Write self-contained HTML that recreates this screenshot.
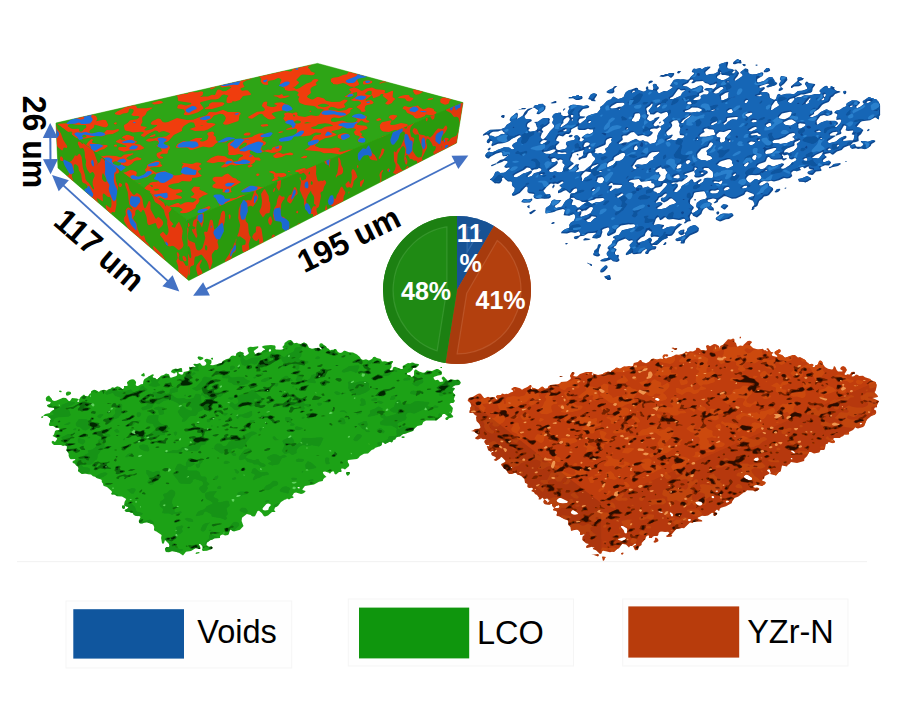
<!DOCTYPE html>
<html><head><meta charset="utf-8"><title>Figure</title>
<style>
html,body{margin:0;padding:0;background:#fff;}
body{width:900px;height:720px;overflow:hidden;font-family:"Liberation Sans",sans-serif;}
svg{display:block}
text{font-family:"Liberation Sans",sans-serif;}
</style></head><body>
<svg width="900" height="720" viewBox="0 0 900 720">
<defs>
<filter id="soft" x="-5%" y="-5%" width="110%" height="110%"><feGaussianBlur stdDeviation="0.7"/></filter>
<clipPath id="cf1"><polygon points="56.0,123.0 317.5,63.4 463.0,102.6 187.0,220.0"/></clipPath>
<clipPath id="cf2"><polygon points="56.0,123.0 187.0,220.0 188.8,280.5 58.0,168.0"/></clipPath>
<clipPath id="cf3"><polygon points="187.0,220.0 463.0,102.6 456.5,143.0 188.8,280.5"/></clipPath>
<clipPath id="co"><path d="M740 338.4L739.5 338L740 336.5L741 337L741 338ZM600 554.1L596 550.3L592.8 549L593.2 548L594.6 547L593.5 547L593 547.6L592 546.7L587 548L586 547.4L586.3 546L589 544L586 543.2L582.3 540L582.5 537L583 536L584.7 535L584.1 534L581 535L580 534.5L580 532L578.2 530L577 529.6L571 530.8L570.5 527L568.4 525L568.1 521L567.4 520L565 519.4L559 516.2L557 515.9L556.3 515L556.9 514L557.1 512L556 510.9L552.8 510L554 508.4L558.5 508L559.7 507L559 505.1L556 506L555 507.4L554 507.8L552.2 506L552 504L551 503.7L550 504.7L548 504.8L545 504.2L543.6 503L543.4 501L545 499.4L545.1 500L547.6 502L547 503.2L550 500.5L550.4 500L550 499.7L549 500.9L548.1 499L547 498.6L545 498.9L544 499.7L543 498L542 497.8L541 499.2L539 499.6L538.4 499L539.2 498L537 495L535 494L534 492.2L531.2 491L533.2 489L532 487.8L529 487.9L527.4 487L527.5 484L525 482.8L524.4 479L521.2 476L519.1 475L517.8 475L516 473L515 472.7L512 474.1L509.3 474L507.9 473L506.4 470L504 468.5L501.2 465L501.2 464L505 462.1L505.7 461L502 457.2L501 456.9L500 458.6L496 461L493.6 460L496.3 458L495 456.7L492 455.4L491.2 454L491.3 453L492 452.1L493.2 452L493.4 451L492 451L491 452L488.1 450L486.8 446L489 446.3L489.4 445L486 444.7L484.2 442L485 440.1L486.6 439L483 439.2L481 438.2L478 439.6L475.8 439L475 438L478.6 435L474 431.4L471 431L473 430.6L475 429L479 428.8L480.2 428L480.5 427L479.4 424L476.5 421L476 417L477 416L474.9 415L473 412.8L469.5 413L469.4 411L470.5 409L470.1 408L471.4 406L470.3 403L467.9 401L467.7 400L469 397.9L473 396.7L478 393.8L480 393.5L481 393.9L484 397.9L485 398.1L488 396.8L490 397.5L493 397.2L495 397.5L495.4 399L497 399.4L497.6 399L497.1 398L495.8 397L497 395.3L501 395L502 393.4L505 394.2L506 393.8L508 394.1L511 392.2L512.5 392L513.4 391L511 389L514 387.1L515.6 387L520 388.2L522 389.8L524 388.4L527.4 387L530 385L531 385L531.6 386L531.6 387L530.6 388L532 389.8L532 387.5L538 389.5L542 386.5L545 388.5L546 388.6L547.6 388L548.6 386L550.6 385L558 384.3L560.7 383L560.6 382L567 381.5L570.5 379L570.9 378L569.9 376L571.4 373L572.7 372L574 372.2L574.7 373L573.2 376L576 376.5L577 376.5L580 374L586 372L592 371.9L592.7 373L591.5 374L593 375.6L593.4 375L592.7 374L593 373.4L598 374.9L603 374.1L604.1 373L608 371.6L611 372.1L611 371L614 369.6L616 367.8L617 367.6L620 368.7L624 366.4L626 366.7L629 366.1L632 366.4L633 365.8L633.8 363L637.8 362L640 360.1L641.1 360L642.3 362L646 363.2L649 361.8L651 359.6L653 358.5L657 359.6L660 358.8L663 359.1L662.7 356L664 354.5L667 354.2L668.4 355L667 357.3L666 356.1L665 356.1L664.1 357L664.2 358L666 358.8L668 357.5L671.2 357L676 354.6L679 354.9L682 354.1L684 353.3L686 351.6L688 352.3L690 351.2L693 351.6L695.8 350L696.3 348L697 347.7L699 348L701 350L706 350.5L707 350L705.9 346L707 345.2L708 345.1L710 346.3L714 344.1L716 344.2L718.9 346L719.6 348L719 349L720.3 348L720.2 346L723 344.7L728 339.2L731 339.5L733 338.4L734.3 339L734.6 342L736 343.1L737 346.4L738 346.6L740 345.6L743.2 346L743.4 345L747.7 341L750 340.7L752.2 342L749.7 345L752.8 348L758 349.6L763 348.8L764 350.2L766 350.3L767 351.4L767.8 351L767.5 350L766.1 349L768 348L771 352.1L773 352.3L773.4 353L771.7 354L772 355.4L773 356.1L777.1 357L777.7 356L774.8 354L774.3 352L779 349.3L780 349.4L780.6 350L780.4 352L778.1 354L782 355.1L785 357.8L792.6 355L795 355.1L798 357.5L800 357L805 359.8L807 362.2L808.6 363L809 364.3L812 363.7L813.7 365L812.2 367L813 367.3L814.5 367L815.7 365L817.2 365L818 364L819 361L820 360.5L821 360.8L822.4 362L822.8 364L825 367.1L828 368.7L832 369.4L833 369L834 366.1L835.4 367L836.6 370L838 371.4L842 371.5L842.9 371L840.1 369L841 367.1L843.1 366L845.3 367L847 370L844.5 374L845 374.8L846 374.9L848 374.1L849 374.8L850.3 374L851.4 372L854 371.8L854.7 372L855 373.4L853 374.1L851.6 376L852 376.4L854 376.2L856 374.6L858 375L859 376L863 375.8L865 377.3L870.5 379L871 380.4L875.7 382L876.6 385L876.5 387L875.5 391L874.6 392L875 393.1L877.8 396L877.7 397L872.4 398L879 401L877 405L877 407.2L875 407.4L874 409L874.6 410L876 410.5L876.2 413L875 414.6L871 416.3L866.5 420L864.2 426L863 426.9L858 428.6L856.2 428L855 427L854.8 428L853 430.1L849 431.9L849 434.3L844 434.7L843.3 436L840.9 437L840 438L834 438.1L833.2 439L833.4 440L834.9 441L835 442.1L833 443.2L828.6 442L827.4 444L825.9 444L824.8 449L824 449.9L821 450L820 450.6L819.7 452L819 452.4L814 453.6L811 452L809.2 452L807.1 456L804.1 459L804.4 460L804 461L797 462.9L791 462L789.4 464L787.7 465L787 466.6L782 465.5L780.8 471L780 472.1L779 472L776 475.6L770.2 474L770.8 472L770 471.3L770 470L769 469.3L767 469.9L767.4 471L769.8 473L768.9 474L764.8 476L764 478.7L761.9 480L763 481.3L765.5 482L765.6 483L765.1 484L762 486L757 484.9L755 485L753.4 486L753.6 487L755 487.8L757 487.5L758.7 488L759.4 489L758 490.2L755 491.4L753 490.6L747 490.3L745 492.2L744 492.2L738 496.7L735 497.8L733.7 499L731.9 502L731.9 503L731 503.6L726 506.2L721 507.8L719.5 509L719.6 510L719 510.9L717 509.5L716 510.3L714.7 512L717 513L717.2 514L715 516.1L714 516.1L713.4 515L713.6 513L712 512.8L708 515.5L705 516L702 515.7L698 517.4L697.5 518L699 519.2L701.5 520L702.4 521L702 521.6L694 521.8L693.2 522L693 523.1L690 522.4L684 528.2L682 527.9L676 529.2L672 533.9L671.3 534L672.3 536L671 536.8L667 537L665.9 536L668 534.8L669.5 533L668 531.7L665 531.9L662 531.4L660 531.8L658.6 533L658.3 535L657.4 536L654 535.9L652.4 537L652 538.1L648.9 538L649 535.8L648 535.3L646 536.8L645.4 539L641.7 543L641.6 545L638.6 547L638 550.1L635 550.2L633 546L635.8 545L636 543.9L635 543.5L632 545.9L630 545.9L629 547.6L626 544.5L623 543.9L622 544.1L619 548.2L617.3 549L614.1 552L612 551.7L610 552.3L603 550.6L601.5 552L601.8 553ZM677 349.2L675 349.9L671.4 348L673 347.4L675 348.3L677.2 348ZM673 352.1L671.2 352L672 351L673 351.5ZM563 376.1L560 376.9L559.4 376ZM658.1 401L659.7 400L659.4 399L658 398L655.8 398L655 399L655.5 400ZM862 424L861.8 423L861 422.7L860.1 423L859.5 424L860 424.5ZM693.4 440L691.9 439L692 440.3L693 440.6ZM795.3 453L793 450.4L792 450.3L790.6 451L794 453.5ZM757.3 461L758.6 460L758.8 459L758 457.4L755.1 458L753.5 460L755.8 461ZM792.5 459L792 458.1L791 458L790.7 459L792 459.4ZM512.5 468L511.9 467L510.6 467L511.3 468ZM751.5 480L752.4 479L752.3 478L748 474.9L746 474.6L744 476L743.8 477L744.5 478L746.1 479L749 480.2ZM718.2 491L717 490.4L715 491L717 492ZM714.1 498L714 496.6L713 495.9L711.9 496L711.5 497L712 497.9L713 498.3ZM566.7 503L568.1 502L567.2 501L561 498L559 497.9L556.7 500L556.5 501L558 502.5L562 503.4ZM727 503L728 501.8L729 502L729 501L727 500.5L725.9 501L725.9 502ZM701.7 505L702.5 504L702.4 503L701 501.6L699 501.2L695.3 502L695.2 503L698 505.3L700 505.8ZM578.4 514L576.6 512L573 510.1L572 510.5L570.9 512L571 513.3L573 514.6L575 514.7ZM662.4 513L662.8 512L659 511.3L658.4 512ZM673.1 516L672.9 514L671 512.6L670 512.5L669.7 513L671 515.9L672 516.5ZM690.2 521L690.9 520L690.5 519L688.5 519L687.6 520L689 521.2ZM626.8 533L627.3 530L627 528.5L623 525.9L621.1 526L620.9 527L623.6 530L624.7 533L626 533.5ZM624.3 540L625.6 539L626 538L624 537.2L617.9 539L618.6 540L622 541ZM657 542.1L655 542.8L653.3 542L654.9 540L655 537.9L656 537.6L658 539L658.5 541ZM623 554.3L622 554.8L621 554L621.2 553L623 552.5L623.6 553ZM598 556.5L594 555.1L591.2 555L598 554.1L599.1 555ZM603 561.1L602 556.8L603 556.4L606 557L605 557.7L604.4 560Z" clip-rule="evenodd"/></clipPath>
</defs>
<rect width="900" height="720" fill="#ffffff"/>
<g filter="url(#soft)"><polygon points="56.0,123.0 317.5,63.4 463.0,102.6 456.5,143.0 188.8,280.5 58.0,168.0" fill="#2fa512" stroke="#2fa512" stroke-width="0.6"/><g clip-path="url(#cf1)"><polygon points="56.0,123.0 317.5,63.4 463.0,102.6 187.0,220.0" fill="#2fa512"/><path fill-rule="evenodd" fill="#f03c0a" d="M66 72.2L62.5 72L62.3 71L63.5 70L63 69L60 67.9L59 67L58.3 65L57 64.4L52.4 65L51.6 67L50 68.1L50 59.3L55 60.8L68 57L78.2 57L72 59.3L68.4 60L66.6 61L71 61.7L73.6 63L70.7 66L70.6 68L70 69ZM144 74.2L141 74.5L138.6 74L139.6 72L139.6 70L143 67L142 66.1L136 65.4L135.2 65L135.2 63L134 62.3L126 61.9L125 61L121 60L119.6 59L122 57L130.8 57L131.2 58L132.8 59L138 59.4L143 58.3L146.1 57L150.5 57L147.9 58L151 62.8L152 63.1L155 62L153.8 60L158 59L158.5 58L155.8 57L165 57L163.7 58L163.5 59L169.6 60L169.1 61L163.9 64L162 67.5L156.6 70L150 71.6ZM205 58L202.2 58L201.1 57L206.3 57ZM344 160.1L342 160.3L341 159L343.2 157L343.3 156L339 154.3L331 152.9L324 153.2L320 151.4L304.6 150L309.3 147L310.5 145L313.5 144L312.8 143L310.4 142L310.4 141L312.4 139L313.2 137L315 135.6L321 134.2L321.1 133L316 132.6L314.3 133L310 135.6L302 136.4L298.8 136L296.4 135L295.9 134L297.2 131L296.9 129L295 128.7L286.6 130L286.1 129L291.8 127L293 123.2L298 123.4L300 122.9L301.1 122L300.2 121L297 120.3L295 120.9L292 123.7L286.9 123L283.4 119L283.4 118L284.9 116L283.9 114L285.2 113L288 112.5L293 113.5L293.2 113L296 112.3L297.5 113L297.2 115L298.6 116L305 117L311 115.2L316 115.9L319 115.6L321.2 112L323 110.6L324.9 110L321 108.8L318 108.7L316.6 108L316 107L313.9 106L305 105.1L299.9 103L299 102L298.2 99L299.4 97L297.1 95L298.6 93L298.3 92L295 90.5L289 91L284.9 90L284.7 88L282 86.8L280.2 85L280 83L281.5 80L280 78.6L278 78.1L274 80L269 80.7L267.7 82L268.3 84L268 84.7L266 85.1L263 84.2L261 82.1L260.6 81L261.3 79L259.7 77L257 76L254 76.3L251.1 79L246 80.5L243.6 82L242.9 83L243 84L244.6 87L241.4 88L240.2 89L242 90.7L246 90.2L248 90.6L251.1 94L250.4 95L243 96L239.8 100L235 101.5L232 100.9L232.7 102L232 102.6L229 103.2L227.3 103L226.4 102L226.8 98L228.3 96L228 95.5L224 94.6L222 95L219.5 98L218 99L215 99.6L211 99.4L201 102.1L199.9 103L203.7 108L202.9 109L198 112.2L193 114.1L188 115.2L184.7 115L183.6 114L185 112L184 109.4L178 108.6L177.2 108L177.7 106L178 105L181 104.2L186 105.6L191 104.2L191.4 103L178.5 101L177.7 100L178 99L177.2 96L174.6 95L174.7 94L178 92.8L187.3 94L188.3 93L187.9 92L184.1 91L184.2 90L183.5 89L183.6 88L186 87.6L192 87.8L193.3 92L194 92.3L198 92.2L201 91.3L203.2 92L202.7 95L200.1 97L201 97.1L203 96.4L208 96.5L212 94.7L215 94.9L217 90.4L218 89.6L220 89.7L223 91.3L226 91.1L230.6 88L231.4 87L229 86.5L222 87.6L220 86L218 85.7L212 89.2L210.3 89L210 88L211 85.9L218 82.5L224 81.8L228 79.9L234.5 79L242 75.1L242.9 74L242 71.8L243 71L248 69.7L249.7 68L250.4 66L250.5 65L248 62.9L245 61.4L241 61.3L234 63.5L232.3 63L230.6 61L227 60.8L221.5 62L220 63L227.6 65L226.9 67L226 67.8L221 68.1L220 65.7L217.7 64L218.8 62L217.6 59L218.9 57L255.7 57L264 59.9L268 58.8L272.7 59L272.2 60L271 60.3L264 60.1L261.8 61L262 62L263 62.4L272.9 66L270.6 69L267 70.1L263 70.4L259 71.4L249.8 72L251.1 73L255 73.4L260 72.8L264 73.5L274 70.8L282 69.9L290 71.5L291.5 71L292.4 70L291.6 68L298 66L302 63.4L310 62.5L313 61.3L315 61.2L315.9 62L308.1 67L308.1 68L309.6 69L311 71.6L315 73L314 74.7L312 75.2L303 74.4L301 75L296.2 80L298.9 82L299 83L295 86.8L292.2 87L294 87.5L296 89.2L297 89.1L299.5 88L306 83.7L311.1 82L312.7 80L314 79.3L316 78.9L318 79.4L318.7 80L315.6 83L316.8 85L312 87L310.4 89L311 93L307.2 96L307.2 97L308 97.8L311 99.3L313 99.4L317 97.1L318.9 97L324 98.6L326 100.7L332 101.9L340 101.7L344 99.4L347.2 100L347.5 101L344.1 104L344.2 105L345.3 106L345 107.2L341 108.4L338 108.7L334 107.2L331 106.7L328.1 109L329.3 110L336 110.2L339 111L346 110L348.8 108L350 107.7L353.4 108L350.2 110L350.4 112L349.6 113L345 116.1L339 118.3L335 117.5L333 117.7L330.9 119L331 121.1L332 121.8L335 122L342 120.6L348 122.6L353 122.8L355 122.2L357.6 120L357.2 119L353.6 117L356 115.2L359 114.5L366 115.7L367.2 117L366 119L366.7 120L369.4 121L369 122.2L366 122.8L363.9 122L362 120.4L361 120.5L356.8 124L357.2 125L366 125.7L367.8 128L366.6 129L361 131L359.9 132L362.2 134L361.1 136L363.5 137L363.9 138L363 141.7L362 142.6L359 142.3L357.7 141L358.1 139L359.9 137L359 136.1L355.2 135L353.8 132L355.8 130L355.8 129L353 128.2L347 128.5L343 127.3L342 127.5L340 129.3L332.1 131L331.5 132L335.9 134L336.7 135L330 137.4L325 138.3L321.2 140L319.3 141L318 142.9L315.2 145L315.2 146L320 147.9L331 148.4L336 147.6L339 147.9L340.8 149L338.3 151L340 151.8L343 151.6L349 149.7L354 149.8L360 149.1L364 149.3L364.9 150L361 152.9L355.9 154L353.7 156ZM299 58L295.6 58L296.3 57L300.8 57ZM350 66L346 66L342 64.6L341.4 64L342 63L340.2 61L340.4 60L348.1 57L362.7 57L362.9 58L362 58.9L357 58.8L354 59.9L353.4 62L354 64L353 65.1ZM416 66.1L414 66.4L406 65.5L405 65L404 62.6L399 61.8L394.4 60L394.9 57L410.3 57L413 59.6L415 60.4L428 59.2L428.9 60L428.7 62L423.7 64L423 65.2ZM454 71.2L451 71.8L446.6 71L445.3 70L449 69.4L450.9 68L449.2 66L453.1 59L454.6 58L458 57.1L468 57L468 59.2L467.4 60L468 61.4L468 63.6L465 63.6L462 61.7L456.1 63L455.2 64L458.8 66L457.4 69ZM86 65.2L83 65.9L82 65.4L81.4 64L78.7 63L77.8 62L82 61.4L87 61.6L88 61.2L88.4 60L89.6 59L92 58.5L96 58.6L98.3 60L98 62L96 63.6L94 63.8L91.8 63L90 63ZM211 64.2L207.6 64L205.5 63L205.4 62L208.3 61L212.3 61L213.3 63ZM125 87.8L121 87.1L114 83.6L109 83.4L108.1 82L111 79L111.4 76L104.4 74L101.2 71L93 70.8L91.8 70L91.2 68L92 66.8L94 65.7L107 62.9L110.2 63L107.7 66L107.4 68L110 68.7L113 68.2L113.5 69L112.7 70L112.7 71L115 74L119 71.8L122 71.6L123.7 73L123.5 75L124.8 76L128.1 77L132 81L131.8 82L127.4 85ZM126 63.4L124.4 63L126 62.2L126.7 63ZM150.1 65L149 63.9L147 64.1L145.9 65L148 66ZM356 86.2L354 86.9L350 86.4L345 83.5L343 83L337 84.5L333 84.1L332.9 83L331 81.9L330.8 79L333 77.7L338.4 77L343 75.1L347 74.3L349.1 71L357 69.5L360 67.9L362 68.4L362.1 70L363 71.3L366 72.2L368 71.8L370 70.9L373.4 67L370.2 65L373 63.6L378.3 64L380.1 67L383 68L386 67.7L389 66.4L392 66.1L398 64.4L401 64.7L401.6 65L401.1 67L398.2 69L399 70.7L402 70.7L404 71.8L404 74L411.1 72L412.2 71L413 68.9L415 67.7L423 68.7L425.8 68L429.5 65L431 64.6L432.7 65L432.9 67L431.9 72L426 76.3L422.2 78L423 80L421.2 83L416 83.2L412 82.2L410.7 81L411 80L413 78.8L419 78L420.1 77L419 76.2L414 76.6L410 75.8L405 76.3L403.7 76L402 74.4L400 74.4L397 74.8L395 76L394 77L393.4 80L392 81.5L390 82.1L383 82.4L380 83.7L379.2 83L383 81.6L386.8 78L385 75.5L384 75L376 73L368 74.6L364 76.4L359 77.6L357.2 80L359.2 84L358.7 85ZM217 79.1L215 79L213 77.8L210 73.9L209 73.7L204 75.5L201 75.5L196.3 74L194 71.9L191 71.3L189.8 70L193 67L200 65.7L202 65.7L205 67L211 67.9L217 67.6L218.8 69L222.2 73L219 74.4L218.6 75L219.5 77ZM232 70.1L230 70.3L229.4 70L229.5 69L231.5 69L232.4 70ZM73 84.2L70 84.1L68 83.4L58 81.8L53.7 83L50 84.8L50 78.1L57 78.4L62 75.9L70 75.1L73.6 74L70.1 72L70.7 71L74 69.9L76.7 70L77.6 72L81 74.6L86.4 76L82 77.5L80.4 79L79.9 80L81.2 81L81.1 82L80 82.8L76.7 83ZM168 81.2L167 81.7L165 81.4L164 79L163 78.3L159.7 78L159 76L156.9 75L156.7 74L160 72.6L164 74.3L165 74.1L166.7 73L167.2 71L168.1 70L176 69.5L176.7 70L176.4 71L177.2 73L173.1 74L169.3 76L168.8 80ZM229 74.2L224.3 74L225.1 73L228 72.5L229.5 73L229.7 74ZM468 81.8L463.7 81L464.1 80L466 79L466.2 78L465.8 77L468 74.3ZM103 82.1L101 82.9L93.8 82L94.9 81L100 80.5L103.1 81ZM369 84.1L364 84.5L363.1 84L363 82L363.8 81L366 80.5L369 80.3L372 81L372.3 82L371.8 83ZM206 85.1L201 85.7L199.2 85L201 83.9L206 82.8L207 83.1L207.5 84ZM441 92.1L438 92.7L434.6 92L433.4 91L432.6 89L441 83.4L446 82.5L447.9 83L448.6 85L448 86.6L445 89L443.5 91ZM66 93.2L65 93.3L63.1 92L66.1 88L65 87.2L62 87.8L59.7 90L58 90.8L54.4 91L55 90L58.3 88L58.6 86L60 84.9L62 84.4L68 85.4L70.4 87L74.4 88L74.7 89L74 90.2L67.8 92ZM84 86.2L78.9 86L85 84.6L85.4 85ZM140 99L133.7 99L131.8 98L131.7 97L134 96.1L138.3 96L139.4 95L138.2 93L139.2 91L141 89.9L145 89L150 85.3L153 84.6L158 85.9L164 84.4L170.8 87L169 89L167 89.8L157 88.9L149.7 91L149.4 94L148 96.2L143 97.3ZM179 88.2L175.7 88L176.8 87L178 86.9L179.1 87L179.8 88ZM419 94.3L416 94.7L414.6 94L412.9 91L414 89.1L420 86.7L423 86.9L425.6 88L425.8 89L422.9 92ZM365 111.5L363 112L361 111.6L360.6 110L356.2 107L360.6 104L361.2 103L360 101.4L358 100.8L354 100.9L350.5 100L354 98.3L356.6 96L357.2 95L357.1 92L352.1 93L353 93.4L353.9 95L352 96.2L347 97.3L344.3 97L351.5 92L349.4 90L349.2 89L354 87.2L358 88.8L361 90.7L363 90.4L367 88.3L372 87.4L376 89.2L384.2 90L385.3 91L384.4 93L385 93.2L387 92.9L392 90.8L393.2 91L392.6 97L395.4 99L393.1 101L392 103L388 104.8L385.6 104L385.4 103L387.5 101L387.8 100L382.8 96L383.5 94L381 93.9L379.4 96L374 97.9L373 97.9L372.6 96L371 95.1L370.8 96L365.2 100L366 100.7L371 99.9L373.4 102L373.5 103L372.2 104L367 105L365.3 106L364.6 109L365.8 111ZM91 94.1L89 94.6L89.5 93L88.6 91L89 90L94 88.4L97.3 89L97 91L96 92.2ZM123 91.4L122 91.2L121.9 90L124 88.8L125 88.8ZM371.7 94L371.6 91L370 90.8L368 91.1L364.7 94L367 94.8L371 95ZM456 94.5L454 94.6L453 94L452.7 93L453.3 92L455 90.9L458.8 91L459.3 92L458.6 93ZM119 99L118 98.9L117.4 98L119 96L119.7 94L122 92.7L124.3 94L125 95L123.6 97L122 98.1ZM152 98.1L150 98.6L149 98L149.6 97L152.2 96L152.6 94L154 93.1L157 93.1L162 95L162.2 96L161.5 97L160 97.7L154 97.3ZM55 104.3L53 104.6L50 103.9L50 94.4L51 93.4L52 93.1L53.3 95L58 94.2L62 94.2L70.8 97L70 98.3L66.4 101L66 102.2L62 101.8ZM285 98.1L280 98.6L277 96.7L273.1 96L275 95.2L279 95.2L282 94L283.5 96L288 95.4L290.1 96ZM410 101.5L406.9 101L405 98.6L398.1 98L398.5 97L400.8 96L405 95L408.6 95L409.8 96L409.5 97L413.2 98L413.3 99ZM107 98.1L103 98L102.7 97L107 96L108.1 96L109.4 97ZM448 104.1L445 104.7L441 103L440.2 102L440.4 99L443 97.4L446 97L448 97.3L451.5 99L449.4 101L449 103ZM468 105.4L463.2 105L464 104.6L465.6 102L461.9 100L463 98L464 97.4L468 96.4ZM430 100.1L427.5 100L427.9 99L429 98.5L433.2 98L433 99ZM83 139.1L80 139.2L77 138L74 138.3L71.7 134L72.3 132L71 131.5L68 131.9L66 133.1L62 133.7L58.1 136L56 136.3L54.4 136L55.3 133L52 132.6L50 133.6L50 125.7L53 125.8L59 123.8L67 123.3L73.8 120L77 117.8L79.9 117L81.1 114L80 113.3L79 113.6L78.9 115L77 116.6L69 114L68.7 113L69.3 111L74 108L73.3 107L67.5 104L67.2 103L68 102.5L72 101.6L81.5 101L88 104.8L88.8 109L91.8 111L93 115L96 116.1L96.5 117L97.5 119L96 121.2L103 119.7L106 120.2L108.4 125L107 126.7L106 127.2L104 127.3L95 124.8L94.4 125L94.1 127L93.3 128L90 130L89.3 132L90.2 133L94 133.7L103 132.9L105 132.3L105.4 131L107 130L113 130.2L118 128.9L119 129.3L118.5 131L112.6 134L107 134.4L102 136.4L97 135.8L92 137.3ZM163 158.2L159 158.7L156.7 156L156.6 154L157.3 153L162 151L160.5 148L156 146L159.6 144L157.6 141L155 140.4L149 141.7L146.3 141L146 140L149 138.6L154 138.4L158 137.2L166 136.4L169.9 134L169.5 133L164 131.1L161 131.6L159 132.7L157.6 131L155 130.5L148 134L144 137L141.4 136L140.8 135L143.9 133L143 132.1L140 131.8L133 132.5L130 131.4L126 130.8L124.8 130L123.8 126L124.2 125L127.6 123L130 120.3L137 119.3L139.8 117L138 116.1L133.5 116L131.2 115L133.4 112L133.7 110L133 109.3L130 108.6L129 109.4L128.4 112L127 113L123 113.6L120 115L117 114.8L114.8 114L115 113L117 111.4L124.1 108L124.8 107L124 106.2L114 105.5L113.4 105L113.2 103L112 102.6L109 102.7L101 104.7L95.8 103L95.2 102L97 100.9L105 102.2L111 100.9L115 100.6L120 102.6L127 102.5L129 104.7L133.2 105L136.3 106L137 108L138 108.3L146 108.2L151 107.5L153 107.8L147 111.5L145.4 115L142.5 117L142.1 119L142.5 122L141 124.4L140.9 126L147.1 127L144.8 129L144.5 130L146 130.6L152 129.3L156.8 126L157.3 125L152 124.7L150.9 124L150.8 123L152.7 121L158 118.6L160.4 119L162.7 122L165 122.5L168 122L177 117.9L187 120L193 119.7L198 117.7L206 115.5L207 114.8L209 111.9L216 112.2L223 109.7L228 111.9L239 112L240.5 113L240.7 114L239.1 116L239.2 118L238.4 121L228 124.6L225 124.7L223.3 124L223.1 123L224.7 121L225.9 118L224.9 116L223 114.3L220 113.8L214 115.6L210.9 119L206.9 121L206.2 122L208 123L212 122.9L215 123.7L215.5 124L215 125L208 129.5L204 130.7L195 131L189.3 129L195.5 127L194 122.7L191 122.2L189 122.8L183.8 126L181.7 129L182.2 130L181.9 131L173.8 135L169 140.6L167 141.7L161.2 143L160.8 144L169 145.6L170 147L169.5 149L167.9 151L167.8 153L167 153.8L162 153.7L160.1 155L160.3 156L162.7 157L163.4 158ZM159 104.1L154 104.6L151.5 103L159 100.8L161 100.9L162.8 102L162.7 103ZM212 109.1L206 109.2L205 109L205.1 108L208.9 106L209.1 104L212 102.3L222 102.2L224.5 103L223.5 105L222 106.1ZM273 119.2L270 119.4L268 119L263.7 116L263 114.5L261 113.7L259 114.3L252 118.7L249 118.2L247.9 117L257 111.8L263 111.3L265 110.1L264.2 108L261.7 106L262.9 103L264 101.9L266 101.6L267.4 102L266.7 105L267.3 106L271 107.1L273.5 107L276.7 106L276.5 105L273.9 104L276 102.8L282 102.3L288.1 105L288.8 106L288.6 107L284.8 110L275.1 112L272.6 113L271.6 114L276 118ZM325.5 107L328.6 106L329 105L325 103.8L322 103.7L318.4 105L317.7 106L323 107.3ZM420 118.1L417 118.4L415 117.9L413 115.6L407 112.8L405.5 110L402.9 109L402.5 108L404 106.3L405 106.1L409 107.3L418 105.6L419.3 107L423 109.2L425 109.1L428 107.6L431 108L433.7 109L434.3 111L436.4 112L436.4 113L434 115.1L432 115.4L426 114.5L425.2 115L425.1 116ZM50 111.6L50 109.7L51 109.9L51 111ZM468 116.3L467 115.4L462 114.3L459 114.6L453 116.5L448.7 116L454 112.2L456 111.5L459 111.8L463 113.3L465.9 113L465 111L465.9 110L468 109.2ZM310 112.1L309.5 111L310 110.6L311.4 111L311 111.8ZM60 117.1L58 117.2L53.6 114L55.5 113L60 112.4L62.2 113L64.2 115ZM295.5 116L294 114.6L293 115L293.2 116L294 116.5ZM393 120.2L392 120.4L391.3 119L388.8 118L388.8 117L390 115.4L393 114.7L397 115.6L397.4 116L397 116.5L394 119.8ZM427 165L424.1 165L422.4 164L424.5 162L424 161L422 160.3L417 160.9L413 160.5L412 161L411.1 163L411.1 165L410 165.7L402 165.5L400.8 165L400.6 164L406 159.6L411.1 159L411.4 158L410.2 156L413.2 152L416 150L416.5 149L414.4 147L414.7 145L413 143L413.5 142L417 139.7L420.5 139L420.6 138L416 137.9L414.6 137L415 135.3L417 134.6L422 134.8L429 132.2L430.3 131L432 128.1L436 128.7L441 127.5L442 126.5L442 125.6L438.2 123L433.3 121L435 118.1L439 118.3L445 117.2L446 117.6L448 120.5L453.8 122L452.8 123L453.2 124L457 126L456.8 127L453 129.7L451 130.4L449.4 130L448 128.2L445 128.3L442 130.5L436.5 132L434.7 133L434.8 135L431.1 137L430 139L431 140.4L434.6 141L433.4 142L428.1 144L425.8 148L429.8 150L430.7 153L432 153.2L440 151.8L447 153.4L452 152.3L458 152.9L464 150.6L468 150.8L468 152.8L464.2 155L458 157.3L452 158.4L451.3 157L448 156.4L437 158.8L435 159.8L433 162.5L429 163.6ZM381 120L378 121L375.7 120L379 118.1L381.4 119ZM389 132.1L383 131.5L380.9 130L380 128L379.8 125L382 122.2L391 120.3L391.5 121L390 124L391 125L395 124.8L401 122.9L407 123.9L407.9 125L406.9 127L404 128.9L401 129.7L394.4 130ZM311.1 123L307 122L304.1 123L305 123.6ZM462 124L460.8 123L461 121.4L463 121.2L464.4 122L464.5 123ZM116 124.6L114 124L114.1 123L116 122.2L117 123ZM82.5 131L84 129.1L85.9 128L86.4 127L85.9 125L76 124.8L71 123.8L67.8 125L68 126.4L71 128.4L73 128.9L78 128.7L79.2 129L79.1 131L80 131.5L81 131.7ZM268 126.1L263 126.8L260.8 126L260.8 125L262 124.4L267 124L268.4 125ZM321 129L325 126.8L333 126L332.3 125L329 123.7L325 123.2L318 124.3L316 126.1L312 127.1L310.8 128L314 128.9ZM203.5 126L202 125.5L199.9 126ZM441 149L439 149.2L435.7 148L436 147L437 146.5L441.9 146L442.2 145L440.4 143L446 140.3L449 140.1L450.6 139L450 136.8L445 139.7L438.9 139L438.9 138L441 135.7L448 132.6L455.1 132L462 128.9L464 128.9L464.9 130L464.3 131L462 132.1L460 135.7L456.2 138L455.6 139L458 141.9L463.4 144L463.6 145L460 146.2L452 145.3L446.3 146L445 146.6L443.8 148ZM192 150L190 149.9L187.9 148L186 147.4L177 148L175.7 147L177.5 144L182 141.4L184 140.8L187.2 142L187.3 144L190.2 144L191.5 143L191.4 142L189.6 141L190 140.6L196 137.9L202.1 138L201.9 139L200.2 140L200.1 141L202 141.6L204 141.3L206.8 140L207.7 139L208.5 136L207.1 134L208 132.6L212 131.6L213 131.8L214.2 133L214.1 134L213.2 135L215.8 137L215.9 140L218.3 142L215.2 144L213.6 146L212 147L209 147.5L203 146.5ZM280 133.1L278.5 133L278.6 132L281 131.2L283 131.4L283.5 132ZM413 133.2L411 133.7L409.3 133L410.6 132L413 131.3L413.9 132ZM249 135.5L245 135.6L243.8 135L243.8 134L246 132.7L249 132.6L250.2 133L250.7 134ZM226 167.2L222 167.6L220.8 167L225.5 163L224 162.2L218.2 162L213 163.2L206.1 162L211 157.9L215 156.2L218 155.6L225 156.3L228 158.4L232 159.1L233 161.1L234 161.4L238 160.6L239.1 158L243 156L242.9 155L239 154L235 155.1L230 155.1L229 155L228.1 154L228.8 151L227.7 149L228.2 148L227.5 145L228 143.7L229 142.7L235 139.8L252 137L254 135.4L259 133.4L262 133.3L265 134L266.2 135L266 136.2L261.9 139L263 140.8L265.6 142L266.1 143L265 145.1L261.4 146L261.6 150L264 150.7L268 149.4L271 149.9L272 149L272.1 148L273.6 147L280 145.2L282.2 146L281 150.2L276 152.5L272 153L264 151.2L263.2 152L260 152.7L258.3 152L257.9 151L250 150.8L249.7 152L250.3 154L253 155.2L254.2 157L255 157.4L259 157.5L260.4 159L260.6 160L260 160.7L255.5 160L254.9 162L251 164.8L250 164.9L249.5 164L247 163.8L235 165.4L231 164.6ZM345 139.4L343 140L338 138L337.5 136L338 135L340 134.1L344 133.1L347 133.5L349 134.4L350.2 136L349.9 137ZM86.2 137L86.7 136L85 135L83 135.2L81.9 136L82.5 137L84 137.6ZM127 151L124 151.7L118.7 150L118.1 148L119 147L126 147L126.6 146L116 142L116.2 141L120 139.1L122 140.3L124.7 140L125 138.7L121.6 138L123.7 136L127 134.7L129 134.9L134.1 137L133.6 140L136.3 141L137.1 142L134.8 144L140 144.4L144.5 148L141 149.7L135 150.6L129 150.4ZM152 137.1L149.6 137L150 136L155 134.1L155.7 135L155 136.1ZM377 143.3L375 143.6L372.7 143L373.3 142L383.2 136L391 134.7L396.6 136L395.7 137L391 139.4L386 138.8L383 139.5L379.8 141ZM62 138.2L60 138.2L59.6 137L61 136.5L62.7 137ZM288 138.2L285.3 138L288 136.9L288.4 138ZM97 152.1L92 152.2L87 150.2L83 150.6L78.2 150L80 149.1L87 149.8L89.5 148L89.5 147L86 145L88.1 142L91 139.3L92 139L93.1 140L91.8 142L92.8 143L101 144.8L106.6 145L108 146L104.1 149L100 150.3ZM226 142.2L223 142.4L221.1 142L224 139L225 138.6L227 138.2L229.8 139ZM407 142.1L405 141.9L404.2 141L404.5 140L406 139.4L408.1 140L408.6 141ZM242 148L245.7 146L246.5 145L246.8 143L245 142.4L244 142.7L239.7 146L238.8 148L239 148.7L240 148.9ZM117 146.6L115 146.7L113.9 146L114.3 145L116 144.5L116.9 145ZM403 153.2L401 153.6L397.8 153L398.2 152L400 150.7L400.2 150L399.1 148L399.7 147L402 145.8L404 145.6L407 146.9L407.8 148L404.8 152ZM66 149.1L63.6 149L64.1 148L68 146.5L72 146L72.6 147L71 148ZM54 153.9L50 152.5L50 147.8L55 148L54.2 152L54.7 153ZM76 156.1L74 155.9L72 154.3L71.7 153L74 152.2L76 152.7L76 154L76.7 155ZM277 158L275 157.9L272.8 156L277 152.6L279 152.5L283 153.9L290 152.6L292.1 153L293.6 154L292 155.2L286 155.1L281.9 157ZM58 157.3L56 157.7L53.8 157L53 156L53.3 155L55 153.2L58 154L60.3 156ZM110 169.2L106 170L101.1 169L101.1 168L105.1 166L104.5 164L106.2 162L106 161.1L102 163L100 162.8L95.2 157L96 156.3L99 156.6L108 155.4L116 155.9L120 157.2L121.2 157L124 154.8L133 153.3L133.5 154L127.7 157L126.7 158L126.6 159L129 159.8L131 159.7L137 157L141 158.2L141.6 159L140.2 160L136 160.5L134 161.5L131.7 164L128 165.9L122 165.3L121.1 165L121 162.9L116 161.3L114 161.4L113 162.4L112.6 164L116 166L116.1 167L115 168ZM419.6 158L422 156.8L425.2 154L420 154.5L416 158L417 158.4ZM379 157.4L377 157.7L375.7 157L375.4 156L377 154.9L380 155L380.3 156ZM389 156.2L387 156.6L385.1 156L390 154.6L392 154.5L392.8 155ZM305 158.2L300.5 158L304 155.7L307 156L307.2 157ZM68 171.1L66 171.4L64.8 170L63 169.4L61 169.4L57 170.6L56.1 170L60 167.7L64.5 164L64.4 163L62 160.2L62.3 159L66 157.5L70 157.3L72 157.6L75 159.1L80 159.1L83 160.1L86 160.1L87.3 161L83.1 166L85.5 168L85.9 169L85 169.7L81 169.9L79 169.4L78.6 169L79.7 167L79.5 166L77 164.1L75 163.7L70.6 165L73.7 168L72.8 169ZM383 175L379 173.2L375 173.1L369.8 172L369.6 169L373 167.7L376.4 163L379.1 162L384 158.9L388 158.4L395.4 160L396 161L395.6 162L392.3 165L392.3 167L391.6 169L387.2 172L385 174.4ZM107 225L94.4 225L98.3 220L99.2 217L100.5 215L97 214.4L94.4 213L95.6 212L98 211.6L101.4 210L101.9 209L101.5 208L102 207.7L109 205.4L111 204L110 203.1L108 202.5L107 200.3L98 200.4L93 201.3L86.3 200L93 198L98 197.7L102 196.2L107 196.8L111 196L118 195.6L118.5 196L118.2 197L116.5 199L115.4 202L117 206L118 207L120 207.4L121.6 207L123 206L122.6 204L123.6 201L120.2 199L121.2 198L130 195.4L131.4 196L131.4 198L132 198.3L139 198.3L147 195.5L148 195L150.1 192L150 190.9L148 190.2L145 190.2L140 192.4L139 192.2L138.4 191L140 189.4L144 188.6L147 185.4L149 184.3L152 187.3L153.3 186L151.6 185L150 184.9L149.1 184L149.6 183L152.5 182L157 181.8L159.2 181L159.7 180L159.4 177L155.9 175L155 173.5L154 173.4L149.9 175L148 176.7L146 177.6L144 177.8L142.7 177L146.3 175L145.7 171L145 170L145.3 169L146.6 168L147.1 165L151 162.8L156 160.7L158 160.6L160.5 162L160.5 164L162.1 165L162.2 166L160 167.1L152 167.2L149.2 168L156 172.7L164 170.9L166 171.5L169 173.8L175 175.4L180 175.1L182.3 174L183.2 170L181.7 168L181.8 167L183.7 164L181.4 163L182 162.7L191 163.9L193 163.8L196 162.5L198 162.4L200.4 163L201.6 164L198.9 166L201.5 169L198.2 171L198 172L201.9 176L197 177.4L192 178L192.1 180L190 181.5L182 181L178.4 183L173 183.7L169.1 185L168.1 186L169 187.3L173 189.3L175 189.6L179 189L181.7 190L182.4 191L181.8 192L175.6 194L176.8 195L180.4 196L181.8 197L182 198.1L181 198.7L178 198.8L172 200.2L165 199.7L160 197.4L157 199.8L153 200.7L147 201.3L144 200.3L142 200.4L138.4 203L136.7 205L132 205.6L130.8 208L129.1 209L114.2 213L112.4 214L110.6 218L115.7 220L115.9 221L115 221.9ZM438 164.5L435 164.2L433.6 163L435 162.5L437 162.8L438.7 164ZM310 203.1L307 203.1L303 201.2L298.8 200L300 198L299 197.1L295 197L293.3 194L297 193.3L301 193.2L307 194.1L313 191.3L318.4 190L318.5 189L317 188L316.6 187L320.8 184L317.7 182L318.3 181L321.5 180L322.2 179L321 177.5L315.9 176L317 174L322.4 172L320.9 169L315.7 168L315.2 167L316 165.6L325 163.6L325.9 164L326 165.3L325 166.3L322.9 167L324.2 168L328 168.4L330.2 167L332 166.5L336.2 167L338 168L338.2 169L337 171.5L328.3 174L324.7 176L326 177L329 177.7L331.5 179L331.6 180L329 181.1L326 179.9L323.6 180L325 181.8L329 182.4L330.5 184L328.3 188L322 190.7L319 191.3L312.6 196L311.1 198L315 199.1L319 197.5L324 197.6L330 196.6L330.3 199L329.6 201L328 202L321 202.7L315 201.7ZM358 166.4L356 166.9L354.5 166L356 164.4L358 163.9L359.3 165ZM371 164.5L370 164.7L369 164L371 163.6L371.8 164ZM366 166.5L364 166.7L362.6 166L364.2 165L368 164.9L369 164.3L369.1 165L368 165.1ZM251 167.1L249 167.8L247.2 166L249 165.1L252 165.1L252.7 166ZM303 176.2L298.2 176L297.6 175L298.9 173L298 172L296 172L294.9 171L296.8 170L304 168.1L305 168.2L308 170.4L313 170.5L315 172L314.4 173L312 173.8L307 173.2ZM467 181.3L465 181.4L464.2 180L464.3 179L466.6 177L463 175.5L462.9 173L462 172.2L456.1 170L456.9 169L463 168.4L468 168.9L468 181ZM130 184.3L128 184.8L126 184.5L122.9 182L125 180.1L129 179.2L128.5 178L123 178.4L120 177.9L115 178.7L113.8 178L114.5 176L117 174.5L126 172L130 170.1L133 170.3L136 171.6L137 173L136.2 175L136.4 176L138.7 178L138.3 179L131.2 181L132.7 183ZM84 177.3L83 177.5L81.9 177L82.7 176L86 174.4L90 170.2L96 171.6L98.4 175L92 176.2L87 175.9ZM274 181.1L271.7 181L273 179.1L274.6 178L273.6 176L273.8 174L268.9 172L270 171.2L272 171L274 171.5L276 173.2L284 173.1L286 174L286.4 175L286 176L283 177.1L281 177.5L279 176.5L277.2 177L278.8 179ZM289 172L287.7 172L288.3 171L290.7 171ZM339 178L337.8 178L337 177L338 172.9L338.8 172L341.4 172L344 173.6L345 173.7L346.3 173L347 171L349 171L349.1 173L346.4 176ZM231 192.2L229 192.7L223 192.3L222.4 192L223.1 189L216 188.5L213 187.5L212.4 187L212.7 185L215.9 183L212.6 180L212.7 178L215 176.7L222 176.7L225 174.4L228 173.6L233 177.8L236 178.5L237.3 180L241.1 182L230.9 188L230.9 190L231.6 192ZM258 176L257 176L256 175L257 173.6L258 173.4L259.4 174L259.2 175ZM292 175L288.7 175L291 174.4ZM440 176.2L438.5 176L440 175L440.7 176ZM354 181L351 180.8L350.2 180L350.2 179L351 177L354 175.3L358 175.4L361.5 178L361.6 179L360 180.1ZM76 179L74.4 179L73.7 178L76 177.7L76.6 178ZM377 186.1L371 185L370.7 181L380 179L382 179.7L384 182L384.1 183L380.9 185ZM412 199.2L410 199.7L409.3 199L411.9 196L410 194.7L409.5 194L409.7 193L409 192.7L398 193.6L393 192L394 190.9L396 190.8L398 190L399 189L399.2 187L400.2 186L404 184.2L406 184L406.8 185L407 187.1L408 187.5L410.6 187L412.3 186L412.4 184L413.3 183L418 179.5L425 178.7L430 180.5L429.8 182L428 183.8L423 186.8L418 188.9L416.3 191L418 191.9L421 192.3L424 193.8L425.3 195L425.2 196L420 198.8L415 198.7ZM60 183.2L56 183.5L54.4 182L55 180.9L58 180L60.2 180L61.7 182ZM288 185L281 184.5L279.8 184L279.6 183L282 181.6L285 180.9L292 181.3L294.4 182L294 183.1ZM309 182.3L307 182.9L305.9 182L309 181L309.5 182ZM85 198.1L84 198.5L82.8 198L82.1 196L83.4 194L82 193L80 193.4L78 195.2L73 196.9L66.9 197L70 195.1L71.1 193L74.5 191L73 190.5L71 190.7L69.7 192L67 192.3L61 190.7L54 192.7L51.8 191L52.8 190L57 188.3L67 187.6L77 184.1L85 185L89 184.6L93 183.1L110.3 185L110.6 186L109 187L104 187.5L97 189.7L92 189.9L86.7 192L85 193L89.3 195L89.2 196ZM141 184L137.2 184L140 183.5ZM468 188.5L466.7 188L466.8 187L468 185.7ZM186 213L182 213.2L180 212.5L180 211.7L182.7 210L182.1 209L179 207.2L169 206.8L160 207.6L158 206.9L157.6 205L158.8 204L160 203.9L164 205.7L169 205.9L177 202.9L179 202.9L180 204.5L181 204.6L185 202.5L188 202L193 202.5L196.3 200L196.3 199L191 197.6L190.2 197L193 195.6L194.5 194L191 190L194 186.6L200 186.9L199.4 189L200.3 190L204 191.4L208.2 194L203 195.8L198.4 199L199.5 200L199.5 201L198 203.7L196.1 205L195.9 207L195 208.5L189.1 212ZM262 192.5L259 192.9L252 191.2L247 190.8L243 191.5L241.7 191L242.2 190L248 186.5L250 186.1L259 186.4L262 187.4L264 187.4L264.4 188L263.8 191ZM390 190L388 189.8L386.8 189L388 187.9L393 187L393.6 188L392.9 189ZM158.8 190L158.9 189L157 188.8L154.9 189L153.4 190L156 190.7ZM361 193.1L358 193.9L356 193.7L351 192L349.1 190L349.6 189L351 188.6L355 188L357 188.3L362.9 190L363.8 191L363.6 192ZM122 193L121.1 192L123 191.3L129 190.4L131.8 191ZM378 199L375 199L370.8 197L373.2 195L377 193.9L380 195.9L384 195.7L387 196.5L391 196L398.1 197L397.5 198L395 198.5L387 197.1ZM142 195.5L141 195.7L139.5 195L141 194.5L142.6 195ZM297 225L273.2 225L273.4 224L272.1 222L266.8 220L263.2 217L263.3 214L262 212.3L261 211.8L251 212.2L239 216.6L236 217L229.7 216L229.2 215L230 214L233.7 211L231.6 209L230 208.5L226 208.4L221 209.9L220.1 211L224 213L223 214.6L221 215.7L218 215.8L216 215L215.6 213L213.8 212L213.5 211L217 208.2L219.5 207L219.8 206L219.1 204L219.4 203L220.6 202L225 200.9L230 198.6L236 197.9L240 195.7L245 195L246.1 196L240 197.8L238.3 199L239.6 200L243 201.2L245.4 204L245.7 205L239 210.8L237 210.5L234.4 211L238 211.4L240 210.5L254 210.6L258 208.6L260 208.2L262 208.6L264 209.8L270 208.9L272.5 208L272.2 207L266.4 206L265.3 204L265.3 203L269 200L262.5 199L262.9 198L268 197.4L272 195.7L276 195.4L281 194.1L282.9 195L283.3 197L289 197.8L291 198.9L290.5 200L285.1 202L286 203.1L289 204.6L289.3 206L290.5 207L295 207.4L296 208L295.7 209L293.7 211L298 211.9L298.6 213L296.1 215L286.1 220L285.1 221L286 221.9L287 222.1L294 220.7L298 220.6L298.9 221L297.6 224L297.7 225ZM58 201.1L52.2 201L50 198.8L50 196.2L52 195.1L54 195.6L55 196.7L55.2 198L59.5 200ZM456 199L453 199.9L451.4 199L455 198.6ZM464 199.2L460.6 199L464 198.1L464.7 199ZM397 210L394 209.9L391.9 209L391.7 208L395 206.4L396.4 205L396 203.8L394.6 203L399 200.7L401 200.2L406 200.7L409 199.9L410 201.3L412.8 203L410.2 206L408.4 207ZM433 200.2L431 200.7L430.1 200L432 199L433 199L433.5 200ZM444 208.2L435 208.9L434 208.6L433.1 207L434 206L438 204L438.8 203L438.8 201L440.1 200L445 199.3L447.9 200L448 201.3L450.1 203L443.7 206L443.5 207ZM232.2 203L234 200.8L232 200.7L226.3 203ZM464 213.1L462 213.3L456 211.4L455.2 209L455.6 207L456.1 206L459 204.2L461 204.4L463 205.5L465.6 205L466.2 203L468 201.8L468 204.8L467.6 205L468 210.4L466.5 211ZM326 209.2L323 209.8L322 209.4L320 207L321 205.9L328 204.1L329 204.2L332.2 207L331.7 208ZM56 225L50 225L54.8 222L55 220L53.1 218L53.9 217L55 216.4L58.1 216L59.3 215L58 214L57 213.9L50 215.8L50 212.4L62.1 209L66.1 206L70 205L71 206L71.7 208L71.2 209L61.9 217L62 218.6L63.8 220L59.2 222L58.5 224ZM341 224.4L337 224.7L334 224.1L332.7 222L333 220.4L338.9 216L336.5 214L336.2 212L338 210.5L343 208.5L348 205.3L350 205.3L354 206.9L360 206.3L361.1 207L361.7 209L360 210.4L356 210.3L352 211.6L346 212.6L343.4 214L342.6 215L348 215.6L354 215.3L357 216.4L368 213.7L374 213.5L375.3 214L374.9 216L367 221.3L361 221.6L360 221.2L359.7 220L356 217.4L355 217.3L352 218.2L348 220.5L342.7 221L341.7 222L341.5 224ZM208 210L204 210.4L201.4 210L201.7 209L209 206.1L210 206.6L210.5 208ZM282 214L289 212.9L291.8 212L291.9 211L289 210.3L281 211.2L278.4 211L282 209.5L284.9 207L283 206.4L279 207L276.4 208L275.7 209L276.4 211L273.7 212L278 214.2ZM139 209.1L137 209.4L135.4 209L136 207.9L139 207.4L140.1 208ZM427 210.2L425.3 210L428 208.2L429.4 209ZM432 213L431.2 212L433 211.5L433.8 212ZM415 224.2L413.9 224L413 223.1L410 222.8L408.9 222L411 218.6L416 217L415.7 216L413.5 215L413.8 214L418 212.3L424 212.2L425.1 214L425 217.1L423 218.7L416 219.5L414.2 222L415.5 224ZM468 225.1L452.5 225L460.4 221L456 219.9L450 221.9L447.1 225L444 225L444.2 223L442.6 222L442.9 220L442.2 219L439 218.6L438.3 218L439.6 217L443 216.1L447 214.1L450 213.8L451 214.7L452 217.1L462 217.7L466.5 219L467 220L465.5 221L466 221.7L468 221.8ZM86 225L63.6 225L69 221.4L73.3 220L72.6 219L73 218.8L78 218.2L82 215.1L84 216L84.1 217L83 219L83.2 220L83.9 223L86.8 225ZM132 225L121.9 225L124.9 223L124.8 220L127 218.5L130 218L137 218.3L141 217.5L145 215.7L146 215.5L146.5 216L146.3 217L144 218.4L137 219.6L135 223ZM307 219.2L304 219.7L302.1 219L302.5 218L305 216.9L308 216.1L310 216.4L310.2 217ZM156 225L147 225L152.4 223L155 217.5L156 217.4L163.3 220L162.9 221L161 221.9L156 223L156.8 225ZM389 219.4L388 219.7L386.4 219L388.1 218L389.7 219ZM220 225L207.6 225L204 223L193 225L177.2 225L179.1 222L186 220.5L189 219.1L201 218.4L203.4 219L206 221L213 220L218 218.5L223.9 220L220.8 225ZM426 224.1L423.5 224L423.4 223L427 220.4L430 221L428.3 223ZM238 224.4L236.6 224L238 221.9L239 221.5L240.9 222ZM170 225L163.7 225L168 222.6L169 222.6L169.6 224L170.9 225ZM397 225L389.5 225L389.6 224L390.2 223L394 222.3L397.2 224L397.8 225ZM371 225L363.3 225L369 223.2L371.2 224L371.6 225ZM245 225L239.7 225L243 224.4L245.4 225ZM348 225L345.1 225L347 224.2L348.6 225Z"/><path fill-rule="evenodd" fill="#1f6fe0" d="M167 57.1L162 57.8L158.5 57L167.6 57ZM250 62.2L245 60.7L242 59.2L237 60.1L231 59.6L222.9 60L218.6 57L249.2 57L251.8 59ZM317 58.2L314 58.8L311.3 58L311.8 57L321.8 57ZM97 63.1L94 63.4L91 62.4L90 61L90.1 60L91 59L94 57.8L97 57.5L99 58L100.4 59L100.2 61L99 62.2ZM127 66L125 65.5L123.7 64L123.8 63L131 60.6L137 59.8L143 58.1L146 58.2L148.4 60L147.8 62L144 63L141 64.6L137 64.9L134 64L131 65.7ZM409 65.2L406 65L404 62.3L399.4 61L399.1 60L400.4 59L403 58.6L407.2 60L411.2 63L411.5 64ZM144 73.1L141.6 73L144.4 68L146 66.9L149.9 66L153 64L159 62.8L161 63.5L164 66L164.3 67L163 67.7L153 69.5L148 71.1ZM75 72.4L69 71.7L62.9 72L62.3 71L63.7 69L63.9 65L65.5 64L68 63.4L70.4 64L70.7 66L73.5 69L76 70.8ZM431 68.1L429.5 68L429.2 66L429.7 65L432.1 64L435.3 64L436 65L435.6 66ZM442 66.5L440 66.9L439.3 66L441 65.6L442.3 66ZM170 71.1L169 71.8L168 71.7L166.7 70L167.5 68L168.6 67L170 66.6L171.2 67L169.8 69ZM266 69L263.9 69L263.2 68L263.7 67L266 66.5L267.3 67L267.7 68ZM110 72.4L108 72.6L106.2 72L102.9 70L103 69L106 68.6L109 69.2L110.3 70L110.5 72ZM298 69.5L296 69.9L295.4 69L297 68L298 68.3L298.4 69ZM353 83.1L348 82.9L346.1 82L345.7 81L346.7 80L356 76.3L357.2 75L357.3 73L359 72.2L372 72L373.3 73L366 77.3L358 78.8L356.4 80L355.2 82ZM390 81.1L387 81.5L384.7 81L389 78L387.5 76L388.4 74L390 72.7L391 72.6L395.3 74L394.7 75L391.6 77L391 78L391.6 79L391.5 80ZM408 76.3L405 76.9L403.2 76L404.3 75L414 72.3L416 72.2L417.2 73L417.3 74L415.9 75ZM76 78.2L73 79L70.7 78L71 76.9L74 74.8L77 73.6L79 73.8L79.7 75L79.4 76L78.6 77ZM165 77.2L161.8 77L162 76L168 73.1L168.9 74L167 76.2ZM123 84.1L118.3 84L111.5 82L112.3 81L115 80.4L121 77.7L124 77.2L126 77.5L126.9 78L128.6 82L128 83ZM51 83L50 83.1L50 79.5L56 79.2L60.2 80L56 82.2ZM265 82.3L263.8 82L263 81L264 80L267 79.4L267.5 80L266 81.9ZM226 86.1L222 85.9L218.6 84L220 82.6L229 80.2L238 80.2L240.5 81L239.1 84L238 85L233 84.7ZM368 83.1L366 82.9L365.1 81L368 80.4L370.3 81L370.3 82ZM140 83.1L137 83.5L135 83L137 82L141 81.7L141.4 82ZM283 87L279 86.1L279 85L285 81.7L288 81.5L289.4 82L289.8 83L288.3 85L286 86.3ZM192 89.1L189 89.2L187.8 88L190 86.4L197 83.6L202 83.6L203.3 84L204 85L202.5 86ZM154 88.1L150.5 88L151 87L153 86.1L155.9 87ZM440 89.1L438.9 89L440 87.5L441.1 87L441.4 88ZM352 96.3L348 96.9L346.9 96L349.6 94L352 93.7L353.5 95ZM52 99.1L50 99.9L50 95L51 95.3L52.5 97L52.9 98ZM67 99.3L64 99.5L60 98.8L59 98L60 96.6L61.8 96L68 95.3L71.9 96L71.5 97L70.1 98ZM364 99.5L361 100L355 99L355.3 98L357 96.5L361 95.5L364.9 96L366.4 97ZM138 99.2L134 99.2L133.1 98L135 97.2L139.1 98ZM369 103.1L366.4 103L367 101.9L369 101.5L370.2 102ZM454 109.2L452 109L451.5 108L451.8 107L457.7 105L464 104.5L468 102.2L468 105.2L465 105.7ZM55 120.1L52 120.9L51.5 120L57.5 115L65 114.3L67 113.4L68.2 111L72.2 108L72.2 106L73 104.9L80 104L84 104.8L85.3 106L84 107.7L74.5 112L76.1 114L75 115.3L69 115.1L58 119.5ZM288 111.2L287 111.5L282.1 110L281.9 107L284 104.2L288 104.7L290.2 106L292.2 108L292.5 109L291.5 110ZM190 112.6L188 112.8L186 111.5L185.6 110L186 109.3L192 106.1L194 106L196.1 107L196.7 108L196.5 109L191.7 111ZM415 112.2L410 111.3L409.4 110L409.8 109L413 106.8L416 106.8L418.6 109L418.3 110ZM345 115.5L340 115.7L334 114.2L326 115.1L323 114.6L321.9 114L321.4 113L322 111.9L324 110.8L330 110.3L334.4 111L337 112.1L344 112.7L346.1 114L345.9 115ZM426 112.3L421.3 112L419.9 111L424.8 111L426.9 112ZM85 124L81.3 124L79 122.6L75 123.8L66.7 124L66.8 123L70 120.3L74 118.3L77 118.2L81 119.8L83.7 119L84.2 118L83.1 116L84.9 113L88 111.4L91 111.3L92.9 113L90.9 117L92.3 118L92.6 119L92.2 121L90 123.5ZM238 114.3L236 115L234.3 114L238 112.8L238.5 113L238.6 114ZM362 119L351.9 117L352.2 116L354 114.8L358 113.8L361 113.8L365 115.7L366.1 117L365 118.2ZM206 120L203 120.1L199.6 119L200.3 118L204 116.5L208 115.8L210 116.3L210.4 117L210 118.5ZM441 121.2L436.3 121L435.6 120L442.6 119L443.2 120ZM465 123.2L461 123.8L457.3 121L460.8 119L463 118.8L466 119.3L468 118.1L468 121.6ZM293 128L291.8 128L292.3 127L291 125L287 123.8L285.5 123L285.1 122L288 120.3L291 119.7L293 120L294.8 123L295.9 124L294.6 127ZM135 123.2L133.8 123L132.6 122L135.7 122ZM352 128L347 128.6L342 126.3L339 125.7L338.3 125L338.9 124L343 122.7L353 122.8L357 121.8L358 122L354.6 125L354.3 127ZM454 129.4L453 129.9L452 129.7L447.2 126L453 123.4L457 125L457.6 126L456.9 127ZM424 137L421.7 137L418.2 136L422 135.2L428 131.7L429.6 130L431 126.9L433.6 127L436 130L431.6 135ZM450 144L447 144.5L444.7 144L444.7 143L446.3 141L441 138.6L440.7 138L441.2 137L455 130.7L462 129.4L464.9 130L465.6 131L465.1 132L462.7 134L453.3 138L452.3 139L453.5 141L453.5 142L452.9 143ZM288 141L281 141.7L279.4 141L278.9 140L279.2 139L281.3 138L293 135.6L300 130.9L302 130.5L304.1 131L303.6 133L301 135.8L298 136.6L294 136.6L291.3 140ZM82 139.2L79 140L77.3 137L74.8 135L74.4 134L74.9 133L77 132.3L81 132.8L86 132.1L90 133.3L92 133.4L99 131.7L103 132.6L105.4 134L105 135L104 135.5L101 136.2L93 135.9L84 134.4L81.8 136L83.5 138ZM330 135.3L326 136L325 135L326.9 132L328 131.5L332.4 134ZM268 137L262 137.2L261 136.9L260.3 136L261.4 135L269 132.4L271 132.3L272.6 133L272.3 134L270 136.4ZM344 140.1L342 139.4L341.1 138L340.9 136L341.8 135L346 133.8L348 134.1L349.5 135L349.9 137ZM58 135.1L56 135.8L54.9 135L57 134.3L58 134.4ZM166 148.4L162 148.6L158.5 147L157.4 146L158.9 143L158.8 141L157.6 139L158.5 138L161 137.4L163 137.7L166.2 139L167 140L163.4 143L164.2 144L168.1 146L168.2 147ZM224 142.1L219 142.5L217.3 142L226 137.4L229 137.1L234.9 138L234.4 139L231 139.5ZM364 142.4L362 142.7L359 142.1L358 141L358.2 140L359 139L361 138.1L364.3 138L365.3 139L365.4 141L364.9 142ZM237 148.1L235 148.8L233.3 147L229.9 145L230.3 144L233.9 141L235 139.1L241 138.5L245 139.8L248 139.2L249.6 140L245 140.1L244 140.6ZM133 143.2L129 142.8L124 143.3L121.4 142L128.1 140L131 139.8L134.4 141L135.6 142ZM313 145.1L311 145.6L309 145.4L308.3 145L307.7 143L308.2 142L312 140.4L317 139.4L318.9 140L318.5 142L317.5 143ZM193 148.1L188 147.2L179 147.5L177.4 147L177.4 146L178.7 144L183 141.7L190 141.2L196 141.6L197.8 143L198.7 146ZM260 153L257 153.2L250 150L248 150.2L245 151.6L240 151L239.5 150L248 145L257 141.7L259 141.4L262.9 143L263.4 144L261.8 146L260.7 149L260.5 150L262.1 151L262.1 152ZM417 144L416 144L415.9 143L417 142.6L417.6 143ZM94 151L91.4 151L90 150L91.1 147L89.4 145L90.4 144L98 144L101.8 145L103.5 146L96.7 150ZM69 148L68 148L67.1 147L69 145.7L74 144.7L75.7 145L77 146ZM135 149.2L131 149.4L129.4 149L129.1 148L132 145.6L135 145.4L137.8 146L137.2 148ZM278 148.5L277 148.7L275.1 148L275.8 147L279 146.2L279 147.7ZM406 148.2L404 148.4L402.8 148L403.5 147L405 146.9L406 147.2ZM250 157L248.9 156L252 155L252.2 156ZM115 179.1L113 178.8L111.6 175L111.7 174L114.1 172L114.5 170L113 168.9L106.7 168L107.3 166L104 163.2L100.7 163L99.9 162L100 159.9L106 157.5L109 157.4L112.2 159L112.5 160L111.7 161L113.4 164L118 165.8L122 164.4L123.5 166L125.7 167L125.3 168L118.6 173L120.9 175L120.3 176L118.3 178ZM74 162.2L68 162.3L64.4 160L65.5 159L68 158.3L71 158.5L75.3 161ZM125 162.4L122 162.8L117.8 162L117.3 161L120 159.3L124 158.6L126.5 161ZM451 160L449.9 160L449.8 159L451 158L452 158.2L452.3 159ZM245 164L236.3 164L233.9 163L233 162L227 164.3L225.5 164L225.5 163L225.9 162L228 160.8L231 160.9L233 162L236 161.7L240.1 161L243 159.4L246 159.7L249.4 161L250.6 162L249 163.3ZM380 171.1L376 171L375.8 170L376.8 169L377.2 167L381 163.1L387 159.8L389 160L392.8 162L392.3 163L390.8 164L385 166L382.2 170ZM86 161.1L84 161.8L83.3 161ZM83 162.1L80.6 162L83 161.2L83.9 162ZM156 166.1L149 166.4L148 166L147.8 165L150 163.8L156 161.9L159 162L159.2 163L158.2 165ZM195 174.9L185 174.5L181.4 173L180.5 172L182.6 168L185.2 167L187 167L193 169.5L196.2 170L196.6 171L195.9 174ZM139 179.2L136 179.7L132 179.1L130.9 178L130.3 176L133 175.1L137 176.4L139 176.4L144 174.6L147 171.3L150 171L151.7 172L151.8 173L150.9 174L147 176.8ZM165 182.4L163 183L161 182.8L159.2 182L158.9 181L158 180.5L154 179.3L154.1 178L155.8 176L156.1 174L160 172.3L165 171.5L171.8 174L173.2 175L173.4 176L172.2 178ZM321 176.1L319 175.9L318.1 175L319.6 174L326.9 172L328.9 172L328.4 173L326.5 174ZM347 175.2L346 175.8L344.9 175L347 172.9L347.5 174ZM231 186.2L227 186.6L225.8 186L225.2 185L225.3 184L228 182.7L234.8 183ZM424 183.1L422 183.8L417 184L416.1 183L420 182.2L423 182.3ZM75 188.1L71.9 188L77 185.6L80.5 186L79.4 187ZM249 192L243 192.5L241.3 192L241.2 191L250 185.8L253 185.8L257.2 187L257.7 188L256 190.2ZM229 192.1L226 192.7L224.4 192L225.3 190L228 188.8L229.5 190ZM406 193L404 193.7L402 193.5L400.4 193L399.9 192L400.6 191L403 189.9L409.7 190L409.9 191ZM167 198.1L165 198.5L160 195.8L158 196.2L154 198.4L151.6 198L151 197L153.4 195L155 194.5L166 192.8L167.2 193L167.5 194L167.8 197ZM241 216.2L237 216.6L235.4 216L234.7 214L235.8 211L233 210.4L229 208.5L224 208.4L223 208L224.3 207L223.7 206L223 205.2L220 204.5L218.2 203L215.5 198L213.8 197L213.4 196L214 195.1L216 194.6L221 194.5L223.8 196L225 198.8L230 198.8L230 200.1L225 202.6L224 204.3L234 204.6L235 206L238.5 208L239 209.4L240 209.9L254 210.5L260 209.1L266.9 211L262.9 212L258 211.9L252 212.6ZM253 199.3L250 200L248.5 199L250 197.2L253 196.2L256 195.9L257 196.9L256.1 198ZM274 202.1L271 202.4L269.7 202L271.4 200L270.2 198L271.2 196L272 195.4L274 195.1L279 195.2L280.5 196L279.5 198ZM106 199L102 199.3L100.5 199L99.7 198L101 196.6L104 196.2L107.4 198ZM312 202.3L309 202.6L307.5 202L307.1 201L309 199.9L312.8 200L314 201ZM113 213.2L110 213.8L107.3 211L108.4 210L112.5 209L113.6 207L115 206.3L119 207.1L122 206.5L122.3 204L123 203.1L128 200.4L134 200.2L136.3 201L136.4 202L135 203.6L129 206.6L124 208.2L117.1 212ZM159 206.1L155.8 205L155 204L157 202.6L161 202.5L161.6 203L161.1 205ZM289 210.1L285 210.9L282 210.2L281.7 210L282.7 208L282.3 207L279.5 206L279.9 205L282 203.8L284 203.4L290 203.3L292 203.8L293.8 206L293.5 209ZM317 206.7L314 206.8L310 205.8L309 205L310 204.3L316 204.9L317.5 206ZM438 207.1L436.8 207L437.5 206L439.6 206ZM326 209.1L324 209.7L323 209.7L322.9 209L323.3 208L325 207.3L328.1 208ZM202 213.1L198 213.1L197.3 212L198.6 210L201.4 209L206 208.5L208 209L207.5 210ZM351 211L349.7 211L349.2 210L351.1 210ZM359 215.1L354 215.7L353 215L352.8 213L358 211.1L361 211.2L362 212L362.2 213L361 214.2ZM431 214.2L427 214.6L426.2 214L431 211.6L433.7 212L433.6 213ZM291 215L289.4 215L289.5 214L292 213.3L293 214ZM425 217.2L423 217.6L422.3 217L424 215.3L426 215ZM104 224L99 224.4L97.5 224L98.9 221L101.8 218L108 216L105.9 219L107.4 222L106.7 223ZM245 225L241.4 225L241.1 224L238.2 223L238 222L240 220.3L244 219.5L246 219.6L248.9 221L245.3 223L245.6 225ZM82 225L76.4 225L77.6 222L78.6 221L80 220.7L80.9 221L80.4 223L82.9 225ZM289 225L276.7 225L284 222.6L289.9 223L290.5 224Z"/></g><g clip-path="url(#cf2)"><polygon points="56.0,123.0 187.0,220.0 188.8,280.5 58.0,168.0" fill="#2fa512"/><path fill-rule="evenodd" fill="#f03c0a" d="M62 150.5L57.6 147L56 142.4L54 140.3L50 133L50 116.9L55.5 117L55.8 124L57.3 129L60.7 133L63.3 140L67.2 146L67 148L64 147.6L62.9 149L62.9 150ZM81 120.7L79 118.7L77 118.4L75.3 117L78.7 117L79 117.7L80 117.8L80.4 117L85.6 117L84 118.3L82 118.5ZM57 235.2L56 235.5L55 235.1L53.3 233L52.5 227L50 221.4L50 204.5L53 209.6L54 209.4L56.2 207L55.5 204L53.5 201L52.7 195L50 188.6L50 171.7L52 172.8L55 172L57 173L58.2 176L62 180.7L64.2 185L65 185.9L66 186.1L67.5 183L65.1 176L66 175.2L68 175.6L69 175L68.9 169L68.1 165L68.5 164L69.5 162L71.4 161L73 159L75 155.3L77 156.1L79 153.7L80 154L81.6 157L82.9 168L85 175L85.5 179L86.6 181L89 183L92.7 189L94 189.4L94.1 188L92.8 185L92.6 182L92.9 180L94.7 176L94.4 174L93 172L92 172L90 173.6L87 169.3L85.6 165L86.2 161L84.9 157L84.7 152L84 149.5L83 148.1L80 148.6L77.9 144L77.9 142L79 141.6L81 142.5L82 143.8L83.1 144L81.4 135L82.6 129L83 128.4L84.4 131L84.7 136L89.8 143L94.3 153L97.8 163L96.9 164L97 166.7L97.2 164L100.1 162L101 158.4L102.1 158L105 160.9L105.7 160L107.1 152L104.9 144L103.4 141L96 133.5L93 129L90 126.7L89 125.2L88.6 123L89.5 117L101.1 117L102.6 120L106 123.3L106.4 120L105.7 117L122.4 117L125 120L125 121.4L121 120.4L118 117.5L112 117.7L112.2 123L111 125.2L108.5 127L109 132.1L105 128.4L103 128L102.7 129L103.1 131L105 133.2L109 134.4L110 132.4L112 133.6L115 132.1L115.7 135L114.3 140L114.3 146L113.5 150L115.5 156L114.1 160L115.1 163L118 167.9L119.1 172L118 173.4L116 173.6L115.3 175L116 181.4L117.9 186L118 188L117.6 190L115.5 193L116.4 200L116.4 205L115 212.2L112 212.1L111 214L110 214.2L107.9 212L106.4 209L105.7 206L106 205.1L110 207.8L111 207.4L111.5 205L111.4 200L110 196.9L108 197.1L104 193.4L103 193.7L102.6 195L103 201.5L98 198.4L97 198.2L96.6 199L98.6 203L100 208.3L102 211L105.1 223L105 226L104 226L101.4 224L98.2 220L93 215.1L90.7 215L88.1 207L86.4 194L86.2 191L87.7 188L87.4 186L86 183.9L83 182.7L82 181.3L81.2 174L78.7 170L78.5 167L77 165L75 164.1L74 164.9L73.8 166L73.8 172L72.2 174L71.8 176L74 183.4L76 185L79.2 190L80 198L77 195.3L76 195.9L74 198.3L72.7 206L70 207.8L65 209.3L64.8 210L64.9 212L66 214.3L68 216.8L70 217.8L71.2 220L71 222L69 224.5L67 223.9L66.2 224L66.1 225L67 226.5L69 227.8L70 229.5L70.4 232L70 233.6L68 233.9L64 232.4L61 232.1L58 229.2L57.7 233ZM181 249.1L179 249.9L178 249.8L174 246.2L172 245.8L170 246.4L168 246L166 244.2L163.1 239L159.9 235L160.2 234L163 231.6L166 235.1L167 235.3L168.5 232L168.4 229L167.2 224L167.3 220L165 214.8L163.9 210L160 205.2L155 202L152 195.3L146 187.2L138.8 182L138.4 181L139 180L141 180.6L143 179.7L144 180.1L145 179.9L145.3 179L142 168.2L141 167.2L137.7 166L137.3 161L138 159.6L139 159.7L142 162.7L143 162.8L143.7 160L143.7 156L144 155.6L145 155.8L146.7 157L148.9 164L155.6 177L159.5 186L161.3 193L163 195.3L165 196.5L168 196.5L168.6 196L168.1 192L164 183.2L164 181L166 178.1L165.9 176L161.9 164L160.2 162L158 160.6L152 160.7L148.6 157L147.7 155L148.7 151L148.7 147L148 143.9L147.8 145L143 147L141 146.4L140 145.2L138.9 143L139 141.4L142 142.6L142.7 141L142 138.2L140 134.8L139.1 132L139 130L140.3 127L140 123.7L139 121.7L137 125.7L136 126.9L135 126.7L132 122L130.9 117L150.7 117L149.6 123L148 125.3L146.7 126L149.8 130L149.8 132L148.5 135L148.8 137L151 139.2L155 139L159 139.9L162.9 148L166 151.5L169 157.1L172 161L175 161.2L177 160.5L177.6 156L179.6 150L181 148.4L187 145.6L188.2 141L188 139L189 138.1L191.1 143L193 144.5L193 168.1L190 167.3L189.5 168L188 172.4L187.5 182L186.6 186L186 187.4L184.9 188L183 190.7L180.4 192L180.2 193L183 203L186 200.6L188 196.5L189 196.4L190 197.2L193 202.3L193 211.6L192.3 213L192.1 219L192.7 225L192.1 227L189 224.8L188.6 222L182.5 211L182 207L180.8 207L180.8 211L180 212.1L179 212.2L177 211.1L173 207.4L172 207.8L171 210.2L168.7 213L169.8 220L173.3 224L173.1 225L172 225.3L171.6 226L171.9 227L175 227.7L176.2 225L179 221.6L182 228.2L182.7 231L181.8 238L183.5 245L182.8 247ZM173 142.1L171 142.9L170 141.9L167 135.7L160.7 131L159.6 129L158.4 124L156 121L155.3 117L157.1 117L159 121.8L161 121.3L163 121.9L169 127.7L171.1 131L174.4 139L174.4 140ZM167 121.3L162 118.3L161 117L167.6 117L168.1 120ZM186 134.3L185 134.1L183 131.8L182.1 127L181.4 126L179 124.2L177 121.3L175 120.3L172 117L181.2 117L183 120.8L185 123.5L190.2 127L192 130L191.7 131L191 131.7L187 130.2L186.3 131ZM66 123.2L64.9 121L65 120.3L66 119.8L66.8 122ZM67 131.1L66 130L66 127.5L67 128.5ZM168.6 132L168 129.6L167 129.9L167 132.1L168 132.6ZM55 155.4L54 154.9L53.2 152L54 150L55 151L55.8 153ZM63 161.1L61.7 161L59.9 160L60 157.8L61 156.1L62.9 158L63.3 160ZM111.5 169L111 166.8L109.9 166L108.1 166L109 168.9L111 169.7ZM136 170.6L135 169L136 167.4L137 168L137.1 169L136.8 170ZM132 177L131 177.6L129.1 175L129 174.2L128 174L130 173.3L130.6 170L131 169.3L132 169.2L133.5 171L133.6 172L132 175ZM179.6 176L179 172L178 170.7L177 171L176.6 173L177 175L178 176.6L179 177ZM105.9 182L106.7 181L106.6 179L103 173L102.1 175L102.1 179L104 181.6ZM110.5 178L110.5 176L109 173.6L108.6 177L109 178L110 178.5ZM171.1 182L171 179L170 178.4L169 178.6L168.4 180L168.8 181L170 182.2ZM193 185.7L191.3 182L191.5 181L193 180.3ZM144 255L142.7 254L142.4 252L144.6 244L144.2 243L138 237.7L137 237.5L135.5 242L135 250.8L134 250.6L133 249.3L131.2 245L129.8 238L130.9 234L130.9 232L129 230L124 221L123.8 218L125.9 215L125.5 211L126.2 209L128 207.5L129 207.5L132 209.7L132.5 209L132.2 208L130 206.1L129 203.1L127.7 192L125.2 185L125.3 183L126 182.3L128 184.1L129.7 190L133 194.6L134.5 195L136 193.4L137 193.1L139 194L141.1 196L142.5 199L143 203.6L144 207.4L144.6 208L145 208.2L146 207.3L148.8 201L150 201.2L150.5 203L150.4 209L155 217.6L156 219.1L158 217L159 217.3L162 219.9L163.1 222L163.1 224L162 226.1L159 228.8L158 228.5L157 227L156 223.4L155.3 223L149 225.2L148 224.5L147.3 223L146.6 217L144 210.3L142.6 210L141 212.4L138 209.6L136.1 210L135.4 211L135.1 215L133.4 217L133.2 219L136.4 223L137.6 229L140 234.4L141 235.9L142 236.3L144 235.3L146 241.6L148 243.2L150.7 248L150.8 250L149.7 252L148 252L146 250.5L145 250.9ZM121 186.9L120 186.9L118.5 186L119 183.4L120 183.1L121.8 184L122.2 185ZM62.2 200L63.1 196L63 193L61.8 191L58 189.8L58 191L58.9 193L58.7 197L62 200.5ZM166.2 206L166.5 204L166 202.2L165 201.2L164 201.5L164 203L165 205.8L166 206.8ZM107 247.2L103 247.7L101.5 247L101.3 246L102.8 244L102.9 242L101.5 237L100 235.8L98 235.3L97 236.1L96.3 240L96.4 245L93 242.1L89.7 236L90.2 233L86.8 221L87 218L88 217.5L89 217.8L91 219.3L94 222.8L96.8 229L100 229.7L101 230.6L102.3 235L106.9 241L107.3 243ZM186 285L182 284.6L181.7 285L172 285.1L123.4 285L122.7 276L120.8 271L120.5 269L121 267L120 263.1L119 263.6L116 267.2L113.2 262L112.8 257L110.2 253L109.5 251L109.7 249L111 246L115 246.9L116 243.8L117.9 241L118.1 238L116.5 234L115.9 229L117 222.8L118 221.9L121.7 225L126.8 237L127.1 242L127 243L124.9 246L125.1 251L124.2 256L124.5 262L125.8 267L125 268.5L123 267.5L121.6 268L123.6 277L127 281.6L131 282.5L131.5 281L131.1 275L129.2 265L128.6 258L130 257.1L133 259.7L135 260.6L136 260.3L138 256.1L139 255.3L142.7 260L143.4 266L145.5 269L145 272L144 271.5L142.3 267L138 262.7L137.3 263L137.4 266L141 273.3L144.9 277L148 278.6L151 278.6L154 274.8L155 275.1L161 280.7L164 282.6L165 282.3L167 279.9L169 274.5L170 273.4L172 274.4L176 278.3L177 277.1L177.5 273L178.5 270L178.1 266L176.3 261L177.7 258L176.7 253L177 252.5L178 252.3L179.5 255L178.6 258L179.5 260L181 261.2L183 261.3L185.9 266L188 265.4L190.1 268L190.4 272L188 274L186.3 282L186.9 285ZM113 225.7L111.4 224L112 222.3L113 223L113.5 225ZM193 247.4L190.6 247L188.8 242L189 240L191 238.2L193 240.4ZM81 255.2L75.9 247L75.9 245L78 239.9L79 239.9L80 240.9L82.4 248L81.4 253L81.8 255ZM102 262.6L101 262.2L99 259L96 258.3L93.1 255L90.9 248L91 246.9L92 246.1L95.3 249L99 257.9L101 257.3L102 258L102.4 260ZM166 266.9L162 265.9L160 264.3L157.8 260L156.3 255L153.5 249L153 246.2L154 246.2L162 254.2L165.3 260L167 266ZM65 264.7L61.3 262L59 256.6L56.5 253L56.3 252L59 249.2L60 249.3L62 251.5L65.1 257L66 263ZM88 259.6L87 259.3L85.8 258L84.8 256L85.1 254L86 253L89.1 257L89.3 258ZM185 261.2L184 260.9L183 259.6L182.4 257L183 255.8L185 256.4L186.1 258L186.5 260L186 261ZM65 275L62 274.4L58 271.6L56 272.7L53 271.8L52 269.9L51.7 267L52 266L53 266.4L54 265.9L54.8 264L55 261.9L56 261.2L57 261.9L60 264.4L63 269.6L65 269.8L66.4 273L66 274.9ZM80 282.5L79 282.4L77.5 281L75.8 277L77.8 273L76.8 267L77.8 262L79 261.5L81.3 264L79.8 268L82.2 275L81.8 280ZM110 285L89.5 285L89.3 283L90 280.5L91 280.7L93 283.3L94 282.9L93.7 277L95 272.4L100 279L101 279.5L104 278.8L106.3 280L102 271L100 268.6L100 265.3L101 265.2L103 269.2L106 269.7L111 275.5L111.8 279L109.8 282L110.9 285ZM73 275.1L72.2 274L72 271.9L73 272.6L73.6 274ZM62 285L55.4 285L56 281.6L58 282.5L61 281.8L62 282.8L62.9 285Z"/><path fill-rule="evenodd" fill="#1f6fe0" d="M110 126L108 126.6L105 126.1L102 124.5L99 125.3L92.6 117L97.4 117L101 121.3L104.9 124L106 125.5L107.5 122L109 121.1L110.3 123ZM147 133.5L146 132.8L144.2 130L138.7 117L148.4 117L148.9 118L149.4 120L149.2 123L147.3 126L148.6 131L148 132.8ZM57 137.3L53 137.1L50 135.7L50 120.9L51 119.5L52 119.8L57 130.3L59 133L58.8 136ZM190 131.8L185.3 129L184 124.8L185 124.3L189 125.6L190.1 127L191 130L190.9 131ZM114 201.2L113 200.6L112 198.7L109.4 192L108.7 189L109.5 185L107 180.9L104.8 174L105.2 169L104.8 161L107.4 154L105.6 146L105.5 143L105.8 142L108 140.9L109 141L110 142L112.1 146L114.4 155L113.7 161L116.6 170L116.4 171L114.3 173L113.7 180L114.5 184L117 189L117.2 192L116 199L115 200.8ZM188 160.2L186 159.7L184.7 157L184.2 152L186 149.1L187 149.4L188.7 152L188.7 159ZM161 153.9L159.9 153L159.5 151L160 150.3L161 151L161.4 153ZM71 174.6L69 172.9L64.4 165L63.1 161L64 159.5L71 162.9L72.3 165L74 172L73.6 173ZM94 166.3L93 166.3L92 165.3L91.2 163L91 162L92 159.8L93 160.3L93.7 162ZM169 175.8L168 175.9L167.4 175L164.1 167L163.9 164L164 162.4L164.5 162L165 161.9L166 163.5L168 168.4L170 170ZM173 170.3L170 170L169.2 169L170 165.4L173 165.9L174.5 167L174.9 168L174.6 169ZM185 172.3L184 171L184 168.7L185 168.9L185.4 170L185.5 172ZM151 176.8L149 175.5L147.6 173L147.2 171L148 169.1L149 169.1L149.9 170L150.8 172L151.8 176ZM160 195.3L154.6 189L152.1 184L152 178L153 177.8L154 178.7L159 186.3L160.8 194ZM144 184.7L141 183.3L140.5 182L142 181.1L143 181.4L144.1 183ZM172 192.5L171 192.7L169.1 189L168.7 186L169.3 184L171 184.3L172.7 186L172.9 188ZM68 201.2L66.5 200L64 192.6L61.5 188L62 184.9L63 185.1L66 187.8L68 188.1L69.4 190L70.1 198L69 200.7ZM90 201.1L88.9 201L85.3 195L84.5 192L84.6 189L87.1 188L88 185.9L89.1 186L93.3 194L92.9 196ZM136 207.4L134 207.3L131 205.4L130.1 204L129.7 200L131 196.5L132 196.1L134 196.6L138 196.5L139.9 198L140.3 200L140 202.2ZM59 221.2L53 221.7L50 219.5L50 203.3L53 209.5L56 211.9L57.4 214L59.1 219ZM193 232.7L188 225.8L185.2 214L185.2 211L187 205.8L188 204.4L189 204.4L193 206.8ZM60 212.3L59 209.8L59 206L60 206.3L60.7 209ZM94 212.1L92.7 210L93 208.5L94.5 211ZM136 230.6L131 224.9L130 223L127.2 213L127.2 211L128 209.4L129 209.4L131.1 212L131.8 214L131.9 218L136.3 224L136.6 230ZM94 241.3L93 241.6L92 241L89.7 236L90.4 233L90 224L91 221.1L93.2 223L96 232L95 238.7ZM125 240L124 239.5L118.2 231L117.2 226L118 223.2L119 223.3L121 225L124.8 233L125.7 237ZM64 230.3L62 230.5L61 229.7L60.2 226L61 225.1L64 227.3L64.7 229ZM168 245.6L167 245.5L165.7 244L165.4 242L166 241.4L168.2 244ZM95 254.2L94 254.2L93 253L91 247.4L91 245.5L92 245.2L94.1 249L95.1 252ZM122 254.1L118.9 253L118.3 251L119 248.9L121 249.5L122 250.8L122.4 253ZM134 281.2L133.6 275L135 273L133.6 267L133.8 264L138 255.1L139 255.3L140 256.7L142.2 261L142.8 267L142 267.4L140 266.6L139.2 267L139.4 273L139 274.1L137 275.9L135 280.5ZM81 265.2L80 265.5L79.6 265L79.1 264L79.9 263L80.9 264ZM127 285L124.6 285L122.5 278L120.8 275L120 274.1L117 274L116 272.7L115.4 270L116 267.7L117 267.3L120 270.5L122 274L123.3 278L126.1 282ZM164 285L154.7 285L153.2 282L152.9 280L153 277.6L154 275.5L155 275.1L156 275.5L159 277.9L162.8 282Z"/><polygon points="56.0,123.0 187.0,220.0 188.8,280.5 58.0,168.0" fill="rgba(0,0,0,0.04)"/></g><g clip-path="url(#cf3)"><polygon points="187.0,220.0 463.0,102.6 456.5,143.0 188.8,280.5" fill="#2fa512"/><path fill-rule="evenodd" fill="#f03c0a" d="M191 98.6L190 98.1L188.9 96L192.9 96ZM199 99.5L198 97.8L197.8 96L200.1 96ZM212 98.7L211 98.9L209 97.5L207.1 97L206.8 96L212.9 96ZM246 111.6L243 111.4L241.9 109L241 104.6L240 105.2L239 104.8L238 102.7L240 102L242 102.9L243 101L247 96.7L248.8 96L247.4 102L247.8 105L248.9 108L248 110.1ZM316 225.1L314.2 224L313.1 222L313 214L311 214L310.2 212L313 206.7L314 205.9L315 206.4L315.6 206L315.7 205L314 203.7L314.2 198L313.7 196L311.5 193L311 190.6L308 195.1L306.1 200L306.3 202L307.9 206L307 207.3L305 207.2L304 204L304.1 200L299.7 190L300.9 183L300.9 181L299.6 179L300 176.7L300.9 178L301.2 180L303 180.4L305.9 179L306.5 176L304 173.1L303 172.7L301 174L299 173.4L297.9 171L298.3 166L294 159.6L289.8 160L286 158.1L285.2 156L284.9 152L284 150.8L282 149.9L279 147.2L278 145L278.6 142L280.5 139L282.6 133L282 127.5L285 124.6L285.4 119L287.3 117L289.7 111L289.7 110L287.9 108L287.3 104L284.7 96L300 96L300.4 100L297.1 112L297.9 117L300 119.6L300.1 121L299 123.1L298 123.6L296 123.5L293 125.3L291 124.8L290.7 129L292.1 134L292.2 140L293 141.1L295 138.7L297 132.4L300 128.9L302 132.3L303 132.6L305 131.7L306 132.2L306.6 133L307 135.8L308 136.9L309 136.3L310 136.6L314 137.8L315 138.8L315.7 141L314 143.8L309 147.7L306 146.3L304.5 147L302.8 149L302 151.4L299.9 153L299.4 155L301 157.1L303.9 164L306 164.9L308.8 159L309.7 154L311 152.4L312 152.1L313 152.8L313.9 160L315 160.5L316.3 160L315.6 164L316.3 168L316 174L317.4 180L318 181.1L319 181.4L321 180.5L323 180.9L324 180.1L325 180.3L326.2 182L326 183.5L324 186.7L323 191L321 192L320.4 193L321 196L319 206.2L318 207.7L316.8 208L316.4 209L316.8 212L319 217L319.1 219L318 222.9ZM309 109.7L308 109.4L307.7 108L310.1 102L309.6 96L315.4 96L313.3 98L311.3 106ZM447 192.8L446 188.3L445 188L443.4 190L442 190.7L440.7 190L440.7 182L442 180.4L445 180.6L447 179.5L449.2 176L449.9 171L452 168.5L453.6 165L453.6 161L454 159.8L455 159L453 152.7L450 151.9L448.2 154L446 154.3L444 152.2L443 151.9L442.1 154L441.8 158L439.4 163L438.8 168L437 171.6L435.9 172L435.6 169L435 168L434 168.1L432 170.5L428 170.6L427 172.6L426 173.4L425 169.9L423 169.8L421 171.8L420.1 171L419 168.5L417.5 167L417 161.3L416 160.5L414 160.7L412 158.9L410 159L408.3 156L407 154.8L405.4 156L407.5 161L407 164.3L406 164.4L405 162.9L404.2 159L405.4 149L404 146.5L403 146.1L401.6 147L397.7 154L397.1 162L397.2 163L399 165.1L401 168.9L403.6 171L404 177L403 178.4L401.7 179L401.6 175L401 173.6L400 173.2L398.7 175L398.3 178L397 180.7L396 181.9L395 182L394.2 181L395 173.8L392.9 173L395 169.5L395.8 166L395.5 164L394 161L393.8 152L394 151.3L396 152.4L397.9 149L400.6 147L404.4 138L405 133L404 131.6L400 132L397.4 134L396.3 137L395.6 137L395 136L393.3 124L393 123.1L392 122.7L391.2 124L390.8 127L390 127.8L389 127.7L388.2 127L387.8 123L387 122.8L384 126.2L382 126.6L380 129.5L379 130L378.8 128L380 125L379.7 122L376 117.7L375 118L374.3 119L374 124.5L373 125.2L369 126.3L367 127.8L366 127.2L364.7 125L363 118.8L362 118.5L358 120.3L355.8 123L353.2 129L354.5 134L354 135.5L351.9 135L350 130.7L348 130L347 130.1L346 131.1L344.5 133L343 142L341 142.8L339.2 146L339.4 148L342 150.1L341.6 151L338 152.2L337.7 155L337 156.1L336 155.9L335.5 155L335.9 148L339.7 137L339 130.7L336.7 132L335.2 140L334 141.9L332 142.1L331 143.2L329.6 149L330.4 160L329.8 164L330 168L328.8 165L326 164.3L325 163.1L323.2 159L322.8 155L322 154.5L319.8 156L318.8 148L316.4 142L316.8 140L320 135.4L320.9 133L320.2 129L320.7 126L322 124.2L324 122.7L324.9 121L324 117.1L322 116.4L319 119.3L317.2 124L314 124.7L312 126.5L311.8 126L311.3 118L314.6 110L316 104L317 103L320 105.1L321 98.9L322 98.1L326 97L327 96L329.9 96L329.2 100L327.2 104L326.9 107L328 109.5L330.5 112L331.1 114L332 119L333.8 124L333.3 126L331.3 129L331.3 131L332.6 133L334 133.2L335.4 132L334.7 124L336.3 119L334.7 113L335.3 109L334 109.2L333.4 107L334 105.4L335 104.6L338 104.7L338.9 104L339.8 102L338.7 100L336 99.1L335.2 96L341.6 96L343 97.1L344.2 96L352.6 96L351.3 102L350 104.6L349 106.5L347 104.7L344.5 108L344.7 113L344 115.7L342 117.6L341 120L338.5 123L338.1 127L339 128.9L340 129L344.2 125L343.6 120L344.1 118L345 117.6L350 118.2L351 117.9L351.6 117L354 111.9L355.5 106L355.9 102L358 99L358.5 96L361.8 96L362.2 100L361.5 104L362 105.6L363.3 105L364 101L365 100.1L367 99.6L368.6 96L377.5 96L377 97L374 98L371 103.4L369 104.1L367 103.5L366 105L367 108.3L369.7 110L371 113.5L372 114L374 113.3L375 113.5L376 114.7L377 114.6L378.4 110L379.8 108L381 107.2L382 107.7L383 110.8L384 110.8L387 109.7L389 107.8L390 108.4L391 108.2L393 106.6L394.8 101L394.3 96L403.9 96L403.6 101L406 105.7L409 108.4L413 107.9L416 103.7L416.6 105L416.8 110L416 111.4L415 111.9L413 111.3L411 111.6L407 115L403 114.8L402.1 114L402.5 110L402 108.3L401 107.5L399.1 111L398.9 118L400 120.9L402.1 122L403 127L404 128.1L406 128.7L407 128L407.7 123L409 121.1L412 120.4L414 118.7L415.8 120L415.9 121L410.7 127L409.9 131L411 136.2L411.5 137L414 137.9L414.3 139L412.4 147L412.7 151L416 156L418 157.4L419 157.4L421.5 157L422.4 153L422.5 149L418.9 139L418.9 135L418 134.3L415 134.7L412.7 132L412.7 130L414 128.1L417 128.9L419.1 134L420 134.6L424 135.2L426 136.5L428 135.9L430 137.7L433 135.1L435 131.7L438 128.4L443 129.1L445 126.1L446 125.6L447.3 127L447.1 129L445 132.7L442 136L441.4 139L442 141L443 140.8L445 137.7L448 137.9L448.8 139L448 140.6L447 140.5L447 141.3L449 141.2L450.1 139L452 137.4L456 135.9L457 134.7L459.4 128L459.7 123L458.6 118L457 116.8L454 117L450.9 113L446 110.5L446.3 106L445 103L441 104.8L439 106.4L438 106.3L437.3 105L438 100L435 96L441.1 96L440.2 99L441 99.5L445.1 96L455.6 96L454.8 98L456 99.8L457 99.7L457.5 99L457.7 96L466.1 96L465.9 98L463.2 103L464.1 110L462 120L462.2 121L464.8 124L466.4 129L466 130.5L464 133L463.9 135L464.8 138L463 141.7L459 143.4L457 147.5L455 147.8L454 149L454 151.3L455 151.5L457 149.5L458 149.6L459.4 152L459.3 154L458 157.6L455 159L456.1 171L457.1 176L456 177.6L455 176.8L454 176.8L453 178L452.8 181L454 184.3L453 185.1L449.8 185L449.5 190ZM411 98L410.4 96L411.6 96ZM420 111.5L419 111.4L417.3 110L419.7 104L417.2 96L424.4 96L423 100L424 102.7L425 102.8L425 103.2L423 105.7L421.4 110ZM430 99.8L426.6 99L426.2 98L426.6 96L431.7 96ZM272 118.6L271 118.8L270.2 118L269 114.7L266 113.3L265 114L264 117.3L263 118.3L261.2 116L260.6 113L260.9 111L261.6 110L264 109.2L268 104.2L269.8 103L270 98.7L271 96.5L272 96.9L272.6 98L273 103.6L280 106.6L284 114L283.9 115L283 116.1L278 110.4L277 110.3L276 111.9L273.6 112L273.3 116ZM217 177.1L216 176.7L214.7 175L215.1 163L214.3 160L212.5 159L212.3 158L213.9 153L212.6 142L215.4 133L213 129.9L212 130.1L210 132.7L209 133.1L205 132.7L204 131.8L203.7 130L204.9 125L203.5 121L202.9 115L203.8 111L205 109.5L207.3 110L207.9 115L209 115.3L211 112.7L213 111.2L215 108.3L216 107.8L218 108.6L219 110.4L220 111L221 106.1L223.5 103L224.4 98L225 97.5L226 97.5L227 98.7L227.6 101L229.7 105L229.6 108L230.6 112L229.6 117L229.9 120L232 122.9L234.6 124L236 126.9L237 127.1L238.7 125L239 121L240 119.2L241.1 122L242 122.4L251 122.6L253 121.8L255 125.1L256 125.3L258 124.3L259 124.9L259.5 126L259.3 127L255 132.4L251 134.2L249.2 132L247 132.4L243 129.4L241 132.2L235 129.6L234 129.9L233.1 132L233.3 139L234.7 144L234 146L233 145.7L232 144.4L230 144L228 139L227.4 134L226 132.4L225 133.2L224.3 135L224.1 139L222.6 143L221.4 151L219.1 159L219 161L220.2 165L219.6 174L218.8 176ZM342.5 105L343 104L342 100.7L340.3 102L340.3 103L341 104.4L342 105.2ZM292.3 108L293.9 104L294 101.9L292 103.5L291.5 105L291 108.9L292 108.7ZM433 119.6L432 119.6L428.2 113L429 106L431 102.1L434 104.5L434.8 106L434.6 117L434 118.7ZM271.4 108L272.2 105L271 104.3L270.4 105L271 108.7ZM468 113.8L467.4 110L468 107.4ZM227.1 114L227.4 112L227 111.4L224 109.4L223.6 111L224 113L226 114.2ZM389.2 118L391 115.1L391.5 113L391 110.8L390 110L389 111L387.9 114L388 117.3ZM188 140.3L186.7 140L186.7 134L185.1 130L184 124L183 124.3L181 127.1L181 115.4L184 112.1L185 111.7L187 114L189.7 116L191.3 119L190 127L191 126.5L193 123.3L194 122.7L196 124L196.2 125L196.2 128L194.8 134ZM368.4 117L368.8 114L368 113L367 112.7L366.2 114L365.9 116L367 117.8ZM382.3 120L383.5 118L383.8 116L383 113L381.9 114L381.1 119L381.2 120L382 120.4ZM198 118.1L197 119L196.6 118L197 116.5L198 115.5ZM427 121.6L426 120.7L425.7 119L426 117.9L427 117.1L427.8 119ZM225.2 124L226.4 121L226 118.9L225 118.9L223.6 122L224 124.6ZM264 154.2L263.3 152L264.3 147L262.3 143L260.8 137L265 129.4L266.1 130L268 138.9L271 138.5L272 139.5L272.4 142L272 144.1L267 146.9L267 148.9L268 151L267.3 153ZM221.1 134L221.1 132L220 130.9L219.2 132L219.3 133L220 134.5L221 134.6ZM325.1 142L325.8 138L328.4 135L329 132L328 131.9L323 138.3L323.2 141L324 142.1ZM376 139.2L375 139.4L374.9 139L375.3 137L375 135.6L373 134.3L373 133L374 131.5L375 131.8L377 131.3L377.9 132ZM253 180L250 177L249 174.3L247.3 172L246.6 168L247 156L245 154.4L243.3 149L241.8 147L241.4 140L243 136L244 138L242.7 145L244 147.5L245 146.8L247 143.1L251 140.9L253.1 142L253 143.2L251.7 145L252 146.8L254 146.1L255 146.9L255.3 148L255.1 151L253.1 156L253 160.8L251.4 164L252.7 167L252.2 172L255.2 175L255 176.5ZM188 181.4L184.3 178L183 174.7L181 176.1L181.5 172L181 169L181.4 161L184 157L185 156.7L187 157.9L188 157.9L190 156.5L190.7 155L193 142.7L195 140.2L196 137.9L200 138L202.6 144L202.8 146L202 148.4L200 149.1L198 148.2L197 150.5L196 158L197.7 161L198.2 164L198 164.9L196.5 166L196.2 173L190.3 178L189 180.7ZM427.4 164L428 163.3L433 161.6L433.9 155L433.3 152L435 150.3L436.1 147L435 145.9L433 146.3L431.6 143L429 139.2L427 138.5L425.9 141L427.1 146L427 147.7L422 158L422.4 160L425 163.6L426 164.5ZM442.2 148L442 145.3L441.5 147L442 148.7ZM182 157.4L181 157.9L181 147.5L182.4 148L183.4 149L184.1 151L183.8 156ZM379 159.1L378.6 158L380.9 153L381.4 150L382 148.7L383 148.4L384 149L384.5 150L383 154.3L380 158.5ZM289.4 154L291.3 151L291.1 150L288 149.5L287 150L286.2 152L289 154.4ZM360 158.2L359 158.8L358.7 158L359 154.2L362 149.8L363 149.3L363.7 152L360.6 156ZM377 160.4L372 160.1L370 158.9L368.5 155L369.2 151L370 150.4L371 150.7L373 153.8L374.7 155L377.4 160ZM234 165.1L232.8 163L232.9 161L235.4 157L237 153.2L238 152.5L240 152.3L241 153.8L242.2 160L242 162.7L241 164.3L240.3 164L239.3 161L238 160.7L236.4 162L235 164.8ZM279 190.9L276.3 187L277.5 183L276.6 180L273 177.2L272 180.8L271 180.8L269.1 179L268.6 177L268.7 175L271.3 175L271.8 173L270.7 170L268.1 168L268.3 166L270.8 160L274 154.6L275 154.7L275.5 156L274.9 159L275.6 163L273.8 167L273.7 170L275 170.9L277.3 171L278.5 176L280.2 178L281.1 180L280.5 187ZM336 178.1L335.8 176L337.4 173L338.6 164L338.1 158L339 157.6L340.4 160L341.2 165L343 168.5L343.1 172L342 173.9L337.3 176ZM195.5 164L195.6 160L194 159.8L192.5 162L192.7 164L194 164.5ZM209 168L208 168.1L207.6 167L207.7 166L209 165.1L209.4 166ZM357 168.3L357 165.6L358 165.1L358.5 167ZM408 172.4L407 172.1L405.3 170L405.3 169L407 166.2L408 166.1L409.3 170L409 171.7ZM416 172L415.3 169L416 167.8L417 167.6L417.4 168L417 170.6ZM229 194.6L227 194.6L225.5 193L228.3 188L227.7 186L225.3 184L225 183L225.1 182L227.1 179L226.8 175L227.2 172L228.5 170L231 168.7L232 168.8L234 170.5L236 171L237.5 176L239.1 178L239.6 180L239 183L237 186.1L236 186.8L233 186.3L231.9 187L230.7 189L230 193.2ZM389 171.9L387.4 171L387.1 170L388 168.4L389 168.5L390 169.9ZM351 188.2L350 187L347 187.8L345.8 186L345.5 184L348 181.4L349 181.2L350 183.9L351 183.3L351.9 176L351.3 172L351.9 170L353 169.1L354.3 170L355.6 172L357.5 177L353.7 181L353 185.2L352 187.5ZM381 188L380 187.8L379.3 185L379.4 183L380.5 180L379.4 175L380 172.9L382 170.2L383 169.9L383.2 171L381.7 173ZM310 174L310 171.5L309 172.1L308.4 174L309 174.6ZM204 183.3L203 183.5L202.4 183L203.8 179L205 177.8L205.8 179L205.6 181L205 182.8ZM387 193.8L385.9 193L385.2 185L386 179.4L387 177.4L387.5 186ZM429 197.4L428 196.6L426.9 194L427.2 190L431 181.6L434 177.5L436 177L437.2 178L438 180L435.7 185L435.2 190L432 193ZM361 187.3L360 185.8L360 182L361 180.7L362.9 180L364 178.9L364 180.9ZM191 216.5L190 216.8L188.5 216L186 213.2L184.6 210L184.5 204L182 202.3L181 199.2L181 179.7L183 181.2L185.3 187L185.9 194L184.8 198L185 200L186 200.8L187 200.7L188.5 203L190 203.5L193 199.2L193.3 198L192.3 196L190 196.2L189.1 195L189.5 191L190.7 188L194 186.8L197 182L199 180.4L200 180.7L201.7 183L201.7 184L198 187.4L197.2 189L197.1 195L195.5 200L194 208L192.8 208L192.8 206L192.3 205L191.7 205L191 206L190.8 208L191.7 213ZM413 185.3L412 185.6L411 185L410.6 184L411 180.2L412 179.9L413.5 182L413.6 184ZM248 189.1L247 189.2L246 188.7L244.7 187L244.5 186L246.1 183L249 181L249.8 183L249.6 187L249.3 188ZM312.1 185L312.9 183L312 181.2L311 181.3L310.7 184L311 184.6ZM248 252.3L244 252.7L243 251.9L242.3 250L242 246L242.7 245L245 244.8L245.4 244L245.8 242L245.3 240L240 236.3L238 236.8L237.3 236L238.8 232L240.2 225L238.2 218L238.7 210L240.3 205L244 199.9L246 200.7L248 199.9L250 200.4L251.4 200L253.8 193L254 189L252.9 188L254 182.6L256 185.5L257 185.1L258.2 186L258 187.3L256.4 189L255.8 191L256.2 193L257.9 195L258.4 197L257.6 200L253 206.8L251 205.7L250 205.8L247.4 207L247.1 208L247.7 212L245.8 215L245.6 221L248 223.8L248.8 233L249.8 236L250.8 237L248.7 244L249.4 250ZM392 221.5L389 221.4L387 217.8L385 220.2L383 217.9L382 217.7L378 220.5L375.7 218L374.6 215L374.4 212L375 210L377 209.4L378 209.5L381 211.7L382 210.9L384 206.5L386 206.7L389 209.1L392 209.8L395.2 207L396 205L395.4 202L393.3 200L392.2 195L390 194.8L389.2 194L389.1 193L389.7 190L391 187.9L394 187.2L396 185.9L396 190.1L398.3 191L400 198L403 201L404 204.4L405 204.2L406.1 203L406.7 201L406 199.4L404.6 199L403.9 198L405 190.7L405.4 194L407 198.2L408 197.8L410 194.1L412 193.8L413.3 196L414.8 201L417.4 203L417.7 204L411.4 208L410.4 215L409 217.8L407 220.1L404 220.3L403.1 219L403.2 212L402.7 211L399 210.3L397 209.4L396.1 212L395.8 219L394 219.6ZM459 189.1L458 188L459 185.7L460 186ZM291 203.3L290 203.5L288 202L287.2 201L287.2 199L289 195.4L291 194.8L291.5 194L294 187.4L295 186.9L296.1 188L297.5 191L297.6 194L295 196.1ZM334 210.1L333 209.5L331.8 206L330 205L329.4 204L329.3 200L330 198.7L332 197.3L333 197.2L335 199.1L336 198.6L336.9 195L338.8 192L340 188.7L341 186.9L342 186.6L345.3 192L345 194L343.8 196L343 203.2L341 205.7L339 206.7L336 209.5ZM274 192.1L273.4 192L273.1 191L274 188.6L275 187.8L275.3 189ZM374 208.1L370 206.5L368.6 205L366.9 199L366.4 194L364.3 191L365 189.7L368 188.8L371 190.5L371.3 194L372.9 197L372 203.1L373 204L375 202.1L376.1 203L375.8 205ZM263 217.6L259.9 213L259.4 211L261.3 207L261.9 203L261.9 200L261 194L264 189.3L265 189.2L268.7 196L269.1 201L270.1 203L270.4 208L269.5 213L266 213.5ZM238 192.4L237 193L237 190.7L238.3 191ZM212 197.2L211 197L208.4 194L208.5 193L210 191.7L211 191.6L212.4 193L212.8 195ZM349 193.7L348.4 193L349 191.1L349.4 192ZM463 222.1L462.6 220L464.3 214L464.4 209L465.2 206L464.1 202L464.2 198L465.9 195L468 194.2L468 204L467.2 206L468 208.7L468 215.3L466.8 216L463.8 220ZM284 224L283 223.5L281 220.2L280 219.6L278 219.3L275 220.7L274 220L272.9 215L274.3 208L276.4 205L277.2 200L279 195.2L280 195.2L282 196.7L284 196.6L284.6 197L284.4 199L283 200.5L281.2 204L281 208.8L280.1 213L281 216.6L284 217.1L285.5 219L285.2 222ZM387 202.1L386 203L383.6 202L384 199.2L386 196.6L387 198.5ZM460 203.4L457.5 203L456.6 202L456.6 201L458 198.8L461 197.8L461.7 201L461 202.7ZM422 210.5L421 210.2L420.4 209L419.1 204L419.3 203L421 201.2L422 201.6L424 203.6L425 203.7L428 198.5L429 199.2L429.1 201L427.3 206L425.7 208ZM451 225.8L450 225L449.8 224L449.1 209L451 200.3L452 198.5L453 199.2L454.1 202L453.1 210L454 210.8L456 209.1L457 209.2L457.5 211L455.8 216L452.8 220ZM456 285L444.1 285L446 282.2L448 283.9L449 284.4L449.2 284L448.3 278L449.7 272L448 267.8L447 267.3L445 275L444 276.5L442 275.2L439 275.6L435.9 274L435.6 269L433.2 266L433 265L434.5 260L434.4 254L435.1 249L434.4 247L432 247.5L430 246.5L426 249.2L422.2 253L421.8 256L421 257.5L420 256L420 249.1L416 250.5L415 250.2L413 247.6L410 246.4L409 246.5L408.2 248L407.3 254L406.5 255L402 256L400 254.7L400.6 247L399.7 242L401.2 238L399.1 231L399 227L399.8 226L404 224.6L405.5 225L406.7 228L405.8 233L405.9 235L407 237.5L408 237.8L411 235.5L412 235.2L415 236.1L416 235.4L418 232.7L420 232L421 228.9L423.2 227L423.5 225L423.2 223L419 223.9L416 219L416 216.8L417 216.7L418 218.8L420 220.3L423 218.8L426 219.4L426.6 224L428 225.7L429 225.7L431 223.6L433 224.8L434 223.8L434.1 222L432 217.7L430.1 210L430.4 207L432 204.7L433 204.6L434 205.3L436 211.2L438 212.4L439.8 212L440.5 211L442 203.5L443 202.9L444.4 207L444.8 211L442 219.6L441 221.5L438.7 223L438 225L438.6 227L441 228.1L441.8 231L441.4 233L438.7 237L438.1 244L439 246.7L440 247L444.4 242L447.3 236L451 230.2L453 233L457 232.8L458.4 231L458 225L458.5 224L460.4 224L461.8 225L461.8 229L463.2 233L463 235.6L461.5 234L460.7 234L460.4 239L456.8 243L455.8 246L452.6 249L452.6 253L451.8 258L452.4 259L455 260.8L455.7 260L455.7 253L456.4 248L457 247L458 246.8L460.4 250L463 251.5L468 249.6L468 258.7L467 257L466 257.7L467.3 260L467.5 262L460.7 272L459.1 278L457.1 281L456.8 285ZM205 208.5L203.4 208L204.4 206L206 204.7L206.2 207ZM327 211.2L326 211.3L324.9 210L326 204.6L327.5 209ZM347 217.1L346 216.9L343 214L344.7 208L346 206L347 206.1L348 207.8L348.9 213L348.6 215ZM197 237.5L196 237.8L192.7 232L192 230L192 227.6L192.1 229L193 229.4L194 229.3L195.6 228L195 227L192.6 226L193.1 222L194 219.7L196.3 219L197.5 209L199 206.3L200 206L201.9 207L203.2 209L203.7 214L203.6 221L202 227.6L199 221.8L198 220.5L197 220.9L196.2 228L196.6 233L197.4 235ZM181 285L181 257L184 255.7L186 256.3L188 253.6L190 258.2L191 257.9L191.3 256L190.3 249L189 246.2L188 246.2L185 248.4L184 248.2L182 246.4L181 246.4L181 234.4L182 232.5L183 230.9L187.3 228L188 227L188 223L189 223.3L189.9 226L188.1 227L188.6 230L187.6 236L188 239L189 240.4L194.9 243L196 248.3L197 250.1L199 250.6L200 250.2L202.5 248L205.3 238L204 232.6L205 231.5L207 232.1L207.6 231L210 219.9L212 219.8L212.8 221L214 229L215 229.4L216.8 229L217.7 228L219 220.4L220.2 218L221 213.4L222.5 211L224 210.8L224.8 212L225.2 215L224.6 222L223.1 227L222.9 231L221 231L219 229.8L218.4 231L219.1 236L217.4 242L218.4 246L218.4 248L217 249.9L214.9 250L212 254L211.7 256L212.5 262L210.1 270L209 268.2L208.4 265L207 261.5L202 255L201 254.6L197 256.5L196 256.2L195 257.1L194.4 259L194 265L191 266.3L189.9 268L190.2 272L189.6 275L188.4 276L187 276L185 271.6L184 271.5L183.7 272L182.7 282L182 284ZM298 213.2L296.4 213L296.1 212L297 210.7L298.1 211ZM366 243.1L365.1 239L366 236.2L367.5 235L367.4 234L366.6 232L364 228.4L363 227.1L362 228.1L360.8 230L360 232.8L359 233.6L358 233.3L357.4 232L357.7 230L359.5 228L360 223.4L362.1 220L364 212.8L365 211.5L369 214.8L370.4 217L370.7 225L371.8 229L370 235L368.6 237L368 241.5L367 242.9ZM183 222.7L181 222.3L181 214.2L182 212.6L184.8 219L184.5 221ZM230 219.8L229 218L228.6 215L230 214.2L230.7 216ZM270 225.2L268.5 223L268.1 220L269 217.7L270 216.6L271 216.5L272.4 221L271 224.7ZM341 232L340 232.7L339 232L337 228.2L336 228L334 231.3L332 230.2L331.2 229L330.7 227L331.1 223L332 221.1L334 221.4L334.8 221L335 218L337.7 220L338.9 223L341.3 225L343 228.3L344 228.6L345 227.9L345.8 229L346 231.4L343 230.3ZM308 244.6L304.5 241L306.1 235L306 233.3L304 233.7L300 230.9L299 231.5L298 237.4L297 239.6L296 240.4L294.6 240L293.1 237L292.8 235L293.6 233L294 228L299 222.9L301.8 224L303 228.1L304 228.2L305 226.2L306 225.9L307 227.4L307.8 231L309.6 235L308.9 243ZM288 231.2L287 230.9L284.4 227L284.9 226L288 223.9L289 225.3L289.9 229L289 230.7ZM370 267L369 267.4L368.4 267L366.1 262L365.8 261L366.7 256L367.6 254L369.7 252L374 242.6L378 235.7L379 232L377.9 229L378 227L379 224.8L380 224.9L381.4 226L381.8 228L381.4 232L383.3 235L382.8 239L383.2 242L384 242.7L385 242.2L389 236.7L391 236.3L392 236.6L392.8 238L393.4 241L392.2 246L393.4 250L393 256.5L392 256.6L389 254.1L386 253.7L383 256.5L382 256.4L380.8 252L380 250.9L379 252.1L378.4 254L372.6 259L371.7 265ZM262 245.2L260 245.6L259.5 245L259 238.4L257 240.9L256 241.1L254 240L252.1 237L253.5 234L255.9 232L255.9 227L257 226.2L260 226.6L261.5 229L263.5 243ZM282 228.1L282 226.7L283 226.2L283.7 227ZM317 240L316 239.1L315.4 237L315.4 232L316.1 229L317 227.8L318 227.9L319 228.8L320.6 233L323 234.8L323 236L322 238.9L321 239.2L320 237.9L319 238ZM273 239L272 239.7L271.1 239L272 235.8L273 234.6L274.5 235L275 236L274.8 237ZM428.2 237L428 235.1L427 234.8L426.6 236L427 237.6ZM236 242.3L235.4 242L236 238.5L236.4 239ZM273 285L265.9 285L265.7 282L265 281.8L262.2 285L249.8 285L250.1 282L251 280L252 280.1L254 282.6L255 282.6L257.8 280L258.4 276L258.3 268L259 267L262 268.7L265 269.2L267.4 266L268.1 259L266.3 256L265.2 250L265.7 244L269 238.6L271.3 240L269.7 243L269.4 246L270 248.9L271 249.5L273 248.9L275 250.4L278 251L284 245.1L287 244.3L287.9 246L286.4 251L286 256L285 257.5L282 256.3L281 256.4L279 257.8L276 257.7L274.9 259L274.6 261L275 267L276.2 271L275.9 272L274 273.7L273.5 275L272.7 281L274.6 284L274 285ZM333 285L332 284.2L330 278.4L329 278.1L328.3 280L327.8 285L321 285L320 282.8L316 280.3L315 278.1L314 277.6L311 276.8L309 279.2L308 279.4L306.9 278L306.8 275L307 273.4L308 273.5L310 275.8L311 275.5L312 271L315 267.4L316 267.4L317.8 269L318.5 274L320 275.5L321 275.6L321.6 275L324.5 270L324.1 268L321.6 265L321.3 262L319.8 258L321.7 252L320.9 249L321.2 247L327 241.5L330 240.9L333 243.6L337 239.2L338 239.1L339.6 242L341.2 243L341.7 244L341.4 246L340 248.6L339 249.3L336 248.6L333 249.4L332.8 254L333.8 257L335.5 260L335.5 261L333.6 265L331 268L328.3 273L329 276.5L330 277.7L331 276.3L332 276.2L333.7 278L334 283ZM221 285L206.2 285L204.7 281L204.7 279L209 279.7L211 281.1L213.5 281L215 284.4L215.2 281L213.3 273L214 270L215 270L216 271.6L217 271.9L221 268.5L223 268.5L223.6 268L224.6 266L225.2 260L229 254.4L231 249.7L233 247.5L233.9 244L235 242.1L235.7 243L236 247L235.6 251L235 252L233 253.1L232.4 254L230.6 262L229 264.3L226.2 266L225.4 270L224.1 272L223.3 275L221.3 278L221.4 285ZM207.1 250L207.4 247L206 245L205 245.8L205 249L206 250.4ZM257 265.5L255 265.7L253 261.8L252 262L251 260.5L250.4 257L250.8 256L252 255.4L255 255.7L256.5 255L257 249.2L258 246.5L259 245.5L259.5 246L259.6 250L258.5 254L259.3 258ZM295 285L292.7 285L293 280.4L292 279.6L289.4 279L288.2 277L287.8 269L290.1 263L289.4 257L290 253.2L291 252.6L292 253.5L297 262.5L300.3 259L301.8 256L302.3 253L301.1 249L302 248L304 250L307 250.3L308.4 250L310 248.1L311.1 249L310.6 254L311 254.5L313 253.5L316.6 258L316.8 265L315 266.7L313 266.5L311.5 267L308.8 269L307 271.6L305 271L304 271.4L302.8 276L300 279.7L298.8 279L297.9 276L297 275.4L296.2 276L295.8 278L296.9 281L296.8 283L295.5 285ZM383.2 249L383.6 248L383 247.3L382 247.5L382 249.1ZM364 261.4L362.7 260L363 258.8L364 257.8L364.9 260ZM443.4 262L443.7 259L443 257.3L441.9 258L441.9 261L442 262.4L443 262.6ZM233 285L229.9 285L229.2 280L226.6 275L227 273.4L229 273.2L230 271L231.5 265L231.4 261L234 258.8L235 258.6L240 263.5L243.6 265L244.7 268L243 277.1L241.2 275L240 269.5L239 269.6L238 270.6L237.4 273L238.6 277L238 279.9L237 282L236 282.4L234 281.4ZM351 285.1L347.6 285L348.3 280L348 277L347.2 275L344.8 272L344 267L342.4 264L341 262.8L340 263L339.2 262L339.4 261L341 259.9L342.4 260L345 262.4L349 258.6L351 258.7L352 259.9L352.6 266L351.8 272L355.1 279L354 280.1L353 279.1L351.9 285ZM199 277.8L198 276.1L196.3 270L196.2 267L196.8 265L201 259.6L201.7 260L201.8 261L199.8 265L199.6 267L202 271.2L202.5 274ZM306.2 265L307 264.9L308.1 263L308 260.9L307 259.4L306 260L305.4 262L305.4 264ZM357 265.7L356.1 264L358 259.4L358.6 260L358.6 261ZM397 285L391.1 285L390.6 283L388.5 279L388 273.9L386.9 270L385 269.6L382 271.9L381 271.8L380.6 269L383.2 267L385 261.6L386 262L388.3 268L389 268.6L391 267L392 264.4L393 265L392.9 269L394 274L394.4 280L396.9 283L397.9 285ZM418 285L416.6 285L416 284L414.2 285L400.8 285L401.7 284L402.7 280L404.4 276L404.2 275L402.1 274L401.7 273L402.3 268L401.5 263L402 261.7L403 261L404 261.5L405 262.8L408 263.2L411 265.6L413.3 277L414 278L416 278.5L418 276.5ZM252 271.3L251 269.9L249.9 265L250 263.7L251 262.4L251.7 263L253.7 269ZM377 270L376.2 269L376.4 267L377.2 266L379.4 265L380 266L380 268L379.3 269ZM365 285L358 285L358.1 281L356.3 278L357.1 272L358 270.2L360 271.9L361 271.7L363 269.6L364.1 270L364.5 272L364 274.1L363 274.8L361 274.2L360 278L360.3 279L365 284.3L365.4 285ZM278 276.2L277 275.5L276.9 273L279 271.7L279.9 273L279 275.2ZM375 285L367.8 285L369 278.8L371.9 277L373 273.9L374 274.9L373.5 280ZM431 285L427.2 285L427.2 282L425 279.4L424.7 278L425 275.2L426 273.6L429 273.3L430.5 275L431.6 278L431.2 282L431.8 285ZM467 277L466 277L465.9 276L467 274.4L467.6 275ZM409.2 280L409.3 277L409 276.4L408 276.5L407.3 278L407.5 280L408 280.6ZM440 285L435.2 285L439 277.2L440.4 281L440.7 285ZM259.3 281L259 278.6L258.3 279L258.2 280L259 281.8ZM200 285L197.7 285L199 280.7L200 279.2L201.5 282L200.9 285ZM277 283.4L276 283.9L274.2 283L276 279.7L277 279.1L278 282ZM460 283.1L459.3 282L460 280.3Z"/><path fill-rule="evenodd" fill="#1f6fe0" d="M208 108.4L207 108.7L206.2 108L204 103.4L203 103L200 103.6L199.2 101L199.6 98L201 97.2L203 98.7L204 98.2L205.3 96L214.3 96L212 100.3L209.6 101L209.2 102L209.5 106ZM289 102.1L287 101.5L284.4 96L292.3 96L290 101.4ZM368 126.3L367 126.4L366 125L365.7 116L364.6 113L364.4 110L366.4 102L369.6 96L373.4 96L372 100L368.8 106L369 114.9L367.9 115L367 116L368 117.1L369 115.1L372 118.5L372.7 121L372.8 124L371 125.7ZM394 144.5L392 144.7L390.6 142L390.3 140L394.9 126L394.5 115L395.1 114L398 112.7L400 114.4L402.5 110L402.3 108L401 105.4L400 104.7L398 105.3L397.2 103L397.1 98L398 97L400 96.7L401 97L401.9 98L404 104.1L405.2 113L403.2 119L402.3 127L402.8 131L400 133.8L398.3 139ZM237 108.2L235.6 108L234.4 107L234 105L236.2 100L238 97.9L239 98.1L240 99.3L240.7 103L240 106.1L239 107.2ZM325 106.2L323 106.5L322 105.9L321.7 105L321 101L322 99.2L323 98.9L325 99.2L326.5 101L326.2 105ZM456 110.5L454 105.2L452 110.2L451 110.4L450 109.3L448.8 104L449.4 101L451 99.6L452 99.6L455 102.5L456 102.4L458 103.3L459.3 103L460 100L461 99.3L460.4 107L459.4 108L458 108.3ZM217 118.2L216 118.6L214.4 118L214 115L214.4 112L217 108L219 106.8L221 104.7L222 104.6L223 105.4L223.5 107L222.7 115L221 117L219 117.2ZM433 114.7L432 114.2L431.6 112L432 108.3L433 106.4L434.3 107L435 110L434 113.6ZM316 124.3L314 124.2L313.2 123L311.8 118L313.1 113L317 107.6L318.2 109L318.2 115L317.3 122ZM210 131.6L209 131.8L207 130.3L204 130.7L203.3 129L204.1 125L202 126.1L201 125.8L197.9 122L198.1 119L199 116.4L202 113.6L204 109.6L205 108.7L206.4 110L206.7 116L207.5 118L208 118.5L211 117.9L212.5 119L213.4 121L213.2 126ZM295 116.3L294 115.9L293.5 115L293.4 112L295 108.2L296 108L296.1 114ZM262 118.5L260 117.8L258 118.1L256.8 116L258 112.5L261 110.4L262 110.2L263.5 112L263.8 114L263.2 117ZM292 155.1L291 151L287.9 144L282 138.3L282.4 133L282 131L281 129.6L278.2 128L275.6 124L278 123.3L279 122L279.4 116L280 114.4L282 112.8L284 113.3L285.5 117L288 119.9L288 125L288.9 129L291.7 134L292.7 141L294.4 142L295.3 144L296.1 149L295.8 152L295.2 153ZM272 118.8L271 118.5L270.3 116L271 114.1L272 114L273.2 116L273 117.5ZM323 135.6L322 135.5L321.8 135L321.6 127L325 122L325.9 116L328 113.2L329 113.3L329.1 115L328.2 118L328.3 122L327.2 127ZM181 127.3L181 116L182.2 117L182.9 119L182.2 124ZM190 134.9L189 135L185.5 130L185.8 126L188 123.3L189 123.8L190 127.4L192 127.7L194 126.2L194.4 127L193 131ZM439 144.2L435.4 141L435.5 136L437 133.4L442 130.6L443.2 131L443.4 133L441.2 138L440.6 143L440 143.9ZM270 145.4L269 145.6L268 144.9L264.1 140L264.4 134L265 132.5L266.8 139L268 139.8L270 139.7L271.3 141L271.5 144ZM303 146.2L302 146.1L301 144.8L299 137.3L299.8 135L302 133.7L304.2 135L305.3 143L304.5 145ZM409 154.8L407 154.1L406.1 153L406.3 148L404.4 142L404.5 136L405 134.5L406 133.7L408 135.1L410 140.3L412 140.8L412.7 142L412.1 151ZM233 146.5L231 145.3L230 142L230.4 137L231 135.3L232 134.4L233 134.6L234 135.8L235.7 140L234.9 144ZM216 149.3L215 150L214 149.7L212.7 144L214 139.1L215 137.7L217 136.6L218 137L218.3 138L218.3 143L217.7 146ZM424 149.2L423 148.9L421.4 145L421.5 140L423 137.5L424 137.7L424.7 139L425.5 145L425.2 147ZM444 142.5L443.9 140L445 139.2L445 141.5ZM446 148.3L445 148L445 145.9L446 145.1L447.6 145L448.5 146ZM360 160.6L359 160.4L358 159L357.8 155L358.4 153L362 148.9L363 148.3L366 148.9L368 145.8L369 145.4L371.4 151L371.9 154L371.5 156L370 156.4L368 155L364 155.6L362.4 157ZM210 156.4L208 155.8L207.7 153L209 150.3L210 149.3L211 149.3L211.2 153ZM249 162.2L248 161.8L247.9 161L248.4 154L249 151.4L250 150.5L251 151L251.7 153L250.8 159ZM274 165.1L272 165.8L271.2 165L270.1 160L272.9 153L274 152.4L276.7 154L279.4 159L279.8 161L279.7 162L278 163.7ZM314 164.3L313 165L312 164.8L310.3 162L309.8 158L311 155.3L312 155.2L312.7 156L314.9 161ZM329 165.2L328 165.3L327 164.1L325.9 160L326 156.7L327 155.2L328 155.8L329.6 159ZM190 164.1L189 164.8L188.4 164L188.7 161L189.7 159L191 158.7L191.7 160ZM234 164.4L232.5 163L232.2 161L233 159.9L236 158.6L236.7 159L236.6 160L235 163.7ZM406 162.8L405.5 161L406 159.6ZM453 175.1L451 175.3L449.7 173L449.5 171L450.4 164L451 162.5L453 162.7L454 161.2L455 160.9L457.9 162L457.6 166L458 167.2L459 167.4L459.1 169L458.6 170L457 170.5L456.5 172L456.6 174L456 174.9L455 174.1ZM250 169L249.1 167L250 166.4L250.8 168ZM230 184.1L226 184.2L225 183.3L224.8 182L226.8 178L228 172.5L229 171L231 169.5L232 169.8L235.4 173L236.5 179L235.8 181ZM389 172.2L388.7 170L390 169.5L390.2 171ZM199 184.5L198 184.9L197 183L198 181.2L199 181.1L199.7 183ZM307 188.4L305 187.4L304.5 185L305 182.7L307 181.2L308 182.1L308.5 186L308 188ZM184 195.1L183 195.3L181 193.3L181 183.2L182 184L184.8 191L185 193ZM392 195.1L391 195.4L390.3 195L389.7 193L390.4 190L391 189L392 188.8L393.1 191L392.7 194ZM292 199.6L291.3 199L291.3 198L292.9 192L294 189.6L295 189.2L295.8 191L295.8 193L294 197ZM255 203.1L254 203L254 198L255 195.6L256 195.6L257 196.7L257.2 198ZM331 205.1L329.4 205L328.5 204L327.8 201L330 196.1L332 195.1L333 195.7L333.5 197L333.9 201L333 203.8ZM467 202.1L466 202.8L465 202.4L463.3 200L463.3 198L464 197L466 195.6L467.2 196L468 197.4L468 200.1ZM245 219.1L243 220L241.2 219L240.1 214L240.7 205L243 200.3L244 199.8L247.2 203L247.9 211ZM310 214.3L308.8 214L307 211L305 209L304.8 205L306 203.3L308 203.6L309.7 206L311.3 211L311 213ZM287 231.3L285.4 231L282 228L281.9 224L281 221.7L276 221.1L274.7 220L273.4 213L274 210L275 208.5L280 207.6L280.6 209L280.9 215L281.8 217L286.1 219L289 221.8L289.4 224L289.1 229ZM390 220.4L389 220.7L387 218.5L385 219L383 216.9L382 216.6L381 217.1L378 220.7L377 220.9L376 220.4L375.3 219L375.1 216L376 212.1L378 210.7L381 211.7L384 207.3L387 207.5L391.3 212L392.1 214L392 217ZM433 213.3L432 213.2L430.8 211L430.9 209L432 207.5L433 207.5L433.9 210ZM450 215.1L449 213.3L448.6 211L449 209.3L450 208.5L450.8 211ZM202 222.3L201 222.9L200 222.4L197.5 219L198 215L200 211.7L201.5 212L202.8 215L202.8 220ZM408 215.1L408 213L409 212.2L409 214ZM182 220.4L181 220.3L181 214L182 213.9L182.5 216L182.8 219ZM425 237L424 237L422.2 235L420.4 228L418 225.8L415.7 221L415.1 218L416 216.3L424.1 219L425.2 220L426.6 224L429.9 228L429.9 230L428.7 233ZM438 266.6L434.7 264L434.7 255L437 248.4L440 250.1L441 250L441.8 249L442.1 246L444.1 239L444 237.9L443 236.9L439 237.8L437 243.5L436 244.4L434.3 243L434 240L435.2 226L436 221L437 219.5L437.6 220L438 226.3L441.1 228L445.6 236L447 237.5L449.2 238L450.9 242L450.6 244L447.6 251L446 252.2L443 252.3L441.4 255L440.6 257L440 262.9ZM342 230L340 230.9L339 230.4L336 226.5L334 225L337 220.9L340 220.1L341 220.2L341.5 221L343 225L342.8 229ZM220 239.2L217 239.3L216 238.4L213.6 234L213.4 232L214.4 230L222 222.6L223 224L224 231ZM333 225.9L332 225.1L332 223.9L333 223.7L334 225ZM366 237.8L365.2 237L365.6 233L364.4 229L365 227.4L369 224L371 226L374 226.5L374.8 229L374 230.7L372 231.2L370 234L367.1 235ZM211 228L210.6 227L211 225.4L211.7 226L211.8 227ZM299 229.9L298.1 229L299 227.4L300 227L300 228.8ZM297 233.2L296.3 231L296.6 230L298 229.1L298.8 230ZM322 236.1L321 236.8L319 235.8L318 236.2L318 233.7L321.7 234L322.2 235ZM390 247.6L389 247.8L388 247L387.4 245L389 239.1L390 238.1L391 238.2L391.7 239L392 241L391 245.7ZM404 262.1L403 262.5L402.8 262L400.9 254L401 250.7L402 248.2L408 242.9L408.2 256ZM231 256.6L229.9 256L230.9 252L235 244.5L236.1 246L236 248.5L235 250.7L232.6 253ZM290 251.8L289 250L290 249.3ZM306 257.1L304 256.3L303.1 255L302.8 253L303.3 251L306 249.5L309.7 250L309.2 254L308.4 256ZM459 256.1L458.2 254L459 252.7L460.2 254ZM325 284.9L323.9 284L323.2 274L324.5 261L325.5 258L327 255.8L329 254.1L331 254L333.9 258L334.4 261L328.2 276L325.8 280ZM182 267L181 264.7L181 261.1L183 258.2L184.4 259L185.6 262ZM271 278.2L270 278.3L267.3 274L267.4 273L272 262.2L274 263.2L276 265.9L278 266.1L280.2 270L280.5 272L278.9 275L277 275.6L275 274.5ZM243 273.5L242 273.9L240 268.4L238 267.8L237.7 266L238.6 265L241 265.3L242 265.7L242.7 267L243.3 270ZM455 285L452.8 283L450.4 278L450.4 273L448.8 268L449.2 266L450.2 265L452 264.3L454 265L454.8 267L452.9 272L453 274.9L454 274.9L457 272.3L458 273L458.7 275L458.4 279L456 284.4ZM232 275.1L230.8 274L230.8 271L231.8 268L233 266.7L234.4 268L235.3 271ZM409 270.2L408.1 269L408.1 268L409 267.6L409.7 269ZM310 283.5L308.7 277L311 274.3L312 271.8L314 270.7L314.6 272L314 276L310.8 280ZM411 285L406.6 285L406.4 283L407 281.3L409 280.7L410.2 279L411 272.1L412 273L412.2 280L411.4 285ZM436 285L428.7 285L428.5 283L426.5 278L426.9 276L428 274.6L430 274L432.8 277L433.1 279L432.4 282L432.8 284L434 284.7L436 284.6ZM222 285L217.3 285L219 277.2L220 275L221 274.7L222 276.1L223.1 283L222.9 285ZM262 281.7L261.4 280L262 277.7L263.1 280Z"/><polygon points="187.0,220.0 463.0,102.6 456.5,143.0 188.8,280.5" fill="rgba(0,0,0,0.06)"/></g></g>
<g filter="url(#soft)"><path fill-rule="evenodd" fill="#0c4790" d="M735 64.3L733.1 64L733 63L733.5 62L737 59.3L738 59L739 60L740.9 60L741.6 63L741 63.5L738 63.3ZM617 262.1L613 261.3L611 259.5L605 261.6L602 261.6L600.1 261L600.8 260L604 258.6L607.5 258L608.6 257L608.1 256L607 255.4L606.7 254L607 252.2L609 250L607.3 248L608.9 246L611.6 244L612.6 241L615.4 239L613.1 238L613 237L615 235.8L619 234.7L622 230.3L634 227.6L635.5 226L635.3 225L634 224.3L630 224.6L629 224.2L621 225.4L616.6 229L615.8 232L615 232.9L609 235.9L608 236L607.1 235L607 234L609.5 230L609.3 228L608 227.5L604 228.7L602 230L602.4 232L601 236.4L600 237.4L597 238.4L592 238L593 235.9L596.3 233L596 232.7L588 233.2L584 235.8L580 236.2L578 238.3L576 239.2L574 238.4L573.9 237L576 236.1L579 235.7L579.8 235L580.4 234L579 231.4L575 232.8L571 232.2L567 233.5L561 233.3L561.4 232L563 230.6L566 228.8L569 227.9L569.5 227L569.2 225L570 223.6L571 222.3L574 220.6L575.4 217L574.9 215L574 214L569 215.7L564 215.2L563.6 215L565 210L563 209.1L557 210.6L553 212.2L546 213.6L545.3 213L545.8 208L550.1 205L551.6 201L554 199.4L557 200.2L561.3 200L559 202.9L554.7 206L555 207.3L556 207.9L562 206.4L565.3 201L569.7 198L570 195L571 193.2L574 193.3L576.7 192L577.4 191L577 188.7L576 188.4L574.1 189L570 193.5L566 190.3L564 190.7L561 192.4L558 193.3L558 191L561.7 188L561.4 187L559.4 186L559.9 185L562.2 184L563.9 182L562 181.4L558 183.9L555 183.4L554 184L551 183.6L550 184.1L546.6 187L543.3 191L546 194.5L550 194L551.1 197L549 198.4L546 198.8L541 198.5L537 199.1L535 198.4L534 197.8L533.5 196L534.5 194L529 193.2L527.5 192L528 188L527 186.5L525.4 187L519.8 193L515 195.6L513 196.1L511.9 195L512 194L514.4 191L514.8 188L512.3 186L511.8 182L511 181.5L508 181.5L504.9 179L504 177.5L502.1 178L501.8 179L502.4 180L500.4 183L499 183.6L496 183.2L495 183.6L491 180L490 180L490 179.3L492 178.1L494.2 175L495.2 172L498 171.3L500.3 173L504 172.8L505.5 172L510.1 168L509 167.5L506 167.9L504.3 167L504.6 166L507.5 163L507.9 162L507 160.9L504 160.8L502 162L497 163.7L496.3 163L500 160.1L504 159L508.5 155L507.7 155L507 155.9L503 156.2L502.3 155L502.5 153L501 152.2L496 153.7L490.1 157L489 158.5L487 158.2L485.1 156L486 153.8L488 151.9L489 151.6L491 152.2L494 151.7L504 147.2L509 147.4L512 149.4L514 149L513.9 148L512 146L512.3 145L514 143.2L516.7 142L517.7 139L520.6 137L521 136L520 135.2L519 135.5L512 138.7L509.3 141L507.1 142L503 143.2L498 143.7L492 146.2L491.3 145L492.8 142L492 140.9L490.5 141L489 143.2L487.3 143L486.7 142L487 140.3L489.2 138L488.8 136L487 134.6L483 135.7L482.8 135L483.5 134L490 129.8L500 129.2L501 129.2L502 130L498 131.6L493 131.8L490.6 133L489.4 135L490 135.6L492 135.8L495 136.9L498 136.3L502 133.8L504 134.3L505.1 133L503.3 132L501.2 129L505 127.5L506.5 125L511.1 122L509.5 120L511.1 117L517 112.5L517.9 114L517.7 117L516.9 119L519 118.2L522.5 116L524.7 112L527.8 109L532 107.7L532.9 108L528.1 111L527 113.3L524.6 116L524.8 118L525.9 119L531 119.2L531.7 120L531.7 121L528 123.3L527 125L527.3 127L530 128L528.3 130L529 131.5L531 131.8L534.7 131L536.6 130L537.8 128L536.8 127L535.5 123L534 122L538 121.8L542 118.7L544.3 118L548.5 118L550 119L549.4 121L549.7 123L547 125.5L543 127.8L542.1 129L541.8 130L543.1 131L543.2 132L542 132.9L540 131.4L537.6 132L539 132.6L541 132L542 133L540.6 137L541 138.2L543 139.4L546 137L550 131.3L554.2 127L553.9 125L552.1 123L553.7 119L552 117L553.1 115L555 113.5L560 112.4L561 112.5L561.3 115L563 115.9L567 116.1L568 115.6L568.6 115L567.6 112L569.6 108L568.1 107L571 105L575 104.7L584 106.1L587 105.3L589 106L589.3 107L588.3 108L583 109.1L579.5 113L580 116.2L585 116.4L585.4 117L583 118.3L580 118.7L579 119.8L578.4 122L580 123.7L586 119.1L586.4 117L587.4 116L592 114.2L597.2 113L600.5 109L600.1 107L603.1 105L606.9 101L611 99.2L613 96.8L614 96.8L618 99.1L621.7 98L623.6 97L625.2 93L627 91.2L636 87.7L637.7 88L638.5 90L642 90.9L643 91.6L645 91.3L646.5 90L645.7 88L647 86.2L648 86.7L648.4 88L648.1 89L649 89.8L652.8 90L653.5 88L652.7 85L654 83.8L656.4 84L657.2 86L658.5 87L658.9 88L658.5 89L657.3 90L657.1 91L658.3 93L659 93.4L664 91L667 91.2L672 88L672.8 87L669.7 86L674 79.8L678 78.9L680 79.5L683 79.2L687 79.9L689 79.2L691 76.5L694 74L694 72.7L691.7 72L693 69.2L694 68.6L696 69L700 68.1L702 69.2L705 67.3L710 66.5L710.6 67L709.9 68L705.4 72L705.6 74L706 74.8L707 75L710 74L714 73.8L717.7 72L717.8 70L719.7 67L718.9 66L718.8 65L720 64L727 61.7L728 62L728.2 63L727.1 67L728 68.5L732 68.9L734 69.9L736 69.5L739.2 73L737.7 76L735.2 79L734.7 80L735 80.9L738 79.4L742.5 76L742.6 75L742 74L740.2 73L740.5 72L745 68.6L747.7 69L748.4 70L748.3 72L749 73.5L752 74.5L757 73.9L761 72.6L763 72.6L763.4 74L762.5 76L757.3 79L757 81.4L758 82.6L764 81L767.6 78L769.7 77L772.2 77L774.4 80L775 81.7L777.4 83L776 84.9L768 87.4L766.1 87L766.8 86L769.9 84L767 83.8L760.3 86L759.2 87L760 88.1L764 87.1L765 88L764.5 89L761.2 92L762 92.3L766 91.9L768 92.7L769.3 94L770 98L774 99.8L775 99.6L776 98.7L777.1 95L779 93.8L781 95.1L786 93.8L790 93.7L794 94.2L797.9 91L802 90.7L807 89.1L807.4 88L804.8 84L805.8 82L807 81.6L809 83.3L815 84L815.2 85L812.8 88L812 91.7L811 92.5L804 94.6L801 94.6L795.9 97L795.1 98L796.1 98L797 97.3L801 97.1L804 95.5L809 95.4L815 94.1L819.9 94L821.1 93L819.8 92L819.4 91L820 90L823.6 87L826 85.8L827.5 86L828 88L829 88.4L830.2 88L830.8 86L832 85.9L833 87L834.8 87L834 88L835.1 90L837 91L839.1 91L840.7 92L835.2 94L833 96.5L831 97.5L830.2 100L828.6 102L824 103.7L822.1 105L818.9 109L814.2 112L814 114L810.6 116L810.1 117L812 117.2L817 115.2L820.6 112L826 109.5L827 109.3L829 110.7L832 110.8L832.5 113L832.2 114L830.8 115L827 116L824 114.9L820.4 116L816.6 121L817 124.4L818 124.5L821 122.5L826 120.7L835 120.7L837 121.7L838.1 123L837.8 124L835.3 126L835.2 127L836.6 127L840.4 123L841.4 120L840 119.5L836.4 120L836.5 117L837.6 115L836.9 114L834.2 113L834.7 112L836 110.7L840 109.7L843 107.6L846 106.3L846.4 106L846.3 104L847.2 103L852 100.3L857 100.4L860 102L859.9 103L856 107L857 108.2L860 107.1L864 104L862.5 102L862.9 101L868.8 97L870 96.9L871 97.9L873 98L874 99L876 99L878.9 102L879 103L880 104L880.1 106L880.1 115L879.1 116L879 119.3L877.3 119L876 117.4L875 117.5L870 120.3L862 121.2L860.6 122L856.6 127L860 127.7L863.4 130L861 134.2L859 135.8L858.4 137L858.7 141L856 142.1L853 142.5L850 145.8L849 145.6L844 147.5L841.7 150L837 151.4L833 154.7L832 154.6L830 153.1L825 154L824.3 155L826.9 157L823.1 160L822.8 161L823.3 162L825 162L829 160.6L830.9 162L831 163L829 165.5L825 165.3L820.8 167L820.4 168L821.6 170L821 171L816 171.6L813 174.8L812 175.1L809 174.4L807.3 173L807.7 172L809 171.1L813.5 170L809.8 169L808.7 168L809 166.8L808 166.4L805 168.2L804 168.2L803.1 167L802 166.9L799.5 168L801.1 170L797 171.3L794 170.6L792 171.9L791.2 173L792.3 176L790 177.9L787 178.6L784 177.9L779 180.2L774 181.5L771 180.8L768 181.5L764 181.1L761.4 182L759.4 184L759.2 185L760 185.7L762 185.4L767 182.5L768 182.8L769 184L769.2 186L772.9 188L773.2 190L769 195.1L767 196.1L764 196.4L762 199L759.2 201L757.3 206L753.5 208L755 209L754 209L753 210.1L751.2 210L751.9 209L752 207.2L754.3 205L754.5 204L753 200.8L748.2 199L749 197.5L753.6 196L754.2 195L753.3 194L747 191.6L745.6 192L744.8 194L743.7 195L736 198.5L732 198.8L726 196.3L724 196.3L718.4 200L717.7 202L715 203.3L713.5 203L716.6 200L715.7 199L713 198.6L708 199.8L707.4 201L708 201.8L711.4 203L711.9 204L711 206L713.6 208L714 210.4L710 210.3L708 209L707 207.5L705.3 208L703.8 209L702.4 211L701.4 214L697 217.4L693 215.7L692 213.4L691 214.1L689.9 216L689.8 218L690.9 221L688 221.5L685 223.5L683.8 223L685.5 221L685 219.2L684 218.8L679 220.1L673 218.9L669 219.5L667.2 219L666 217.4L665 217.2L662 219.5L660 220.3L659 217.4L658 216.9L656 218.8L653.8 225L659 224.2L664 225L664.1 226L662.2 228L662.6 229L664 229L667 227.2L671 226.4L675 226.6L679 223.5L682.3 224L675.6 230L674.2 233L672 235.4L670 236.1L667.1 236L668.1 237L667.5 238L663 239.7L657 245L652.6 245L652.4 246L653 246.3L656 246.2L656.4 247L656 248.5L655 249.5L652 249.8L649.7 251L648 254.1L646 254.1L644.9 253L647.1 250L647 249.4L646 249L642.8 251L641 253.5L634 254.2L632.9 254L632.1 253L632 251.9L631.9 253L626 255.2L625.7 254L626.3 253L630.6 248L630.5 247L629.5 246L629.5 245L633.3 241L632 240.2L629 241.1L626 238.7L625 238.7L618 241.6L616 245.5L613.7 247L614 248L616.4 249L616.5 250L615 252.3L615 254.1L616 255.2L618 254.8L619 255.3L618.4 258L619.6 260L619 261ZM745 66.3L743.4 66L742.2 64L744.5 64L746 64.8ZM756 66L755.5 65L756 64.6L758.1 65ZM767 72.2L764 72.2L763.7 71L766.5 68L769.1 68L770.2 70L769.7 71ZM679 73.4L676.9 73L678 71L681.3 71ZM734.4 73L735.7 71L735 70.4L734 70.4L731.9 73L733 73.6ZM723.9 80L728 78L729.3 77L729.6 76L725 74.9L722 74.9L721.1 74L721.2 72L720.2 72L720.7 74L717.6 76L717 77L717.1 78L718 78.8L720 79.2L721.2 80ZM671 78.1L668 75.7L663 76.9L660 76.6L659.2 76L660 76L661 74.9L664 74.9L665 73.9L668 74L669 73.1L674 73L674.3 74L673.3 76ZM781 86.9L780 86.5L778.8 85L779.5 83L781 81L779.8 79L781 76L786.8 77L787.4 80L783.9 84L781.3 86ZM792 87.9L791 87.9L791 86.3L797.4 81L797.5 78L799 77L801 77L802 78L804 78L802.7 80L799.3 81L799 81.6L798.9 82L802 84L801.6 85L799 86.2L794 86.6ZM696.5 100L700 99.5L700.9 98L700.5 96L703 94.5L707 94.6L708.2 94L708.9 92L708.3 91L704.1 90L704.6 89L707 88.1L711 88L713 88.9L714 88.5L716 86.4L716.8 84L716 83.4L714 84.6L710 85.3L708 83.7L705 83L703 81.1L696 81.5L694 83.1L692 83.2L691.3 83L693.6 80L692 79.5L690 80.1L688 83.1L683.6 85L683 86L687 86.5L691 89.1L696 87.6L699 85.8L701 85.4L702.5 86L703.6 88L702.7 90L703.7 91L703.2 92L699 93.7L699.3 96L694.8 98L693.1 100ZM650 83.3L649 83.9L648.4 83L649 81.3L651 80.5L653.2 81L652 82.4ZM729.4 82L728 81.5L726.7 82L728 82.6ZM613 93.2L610 93.5L607.7 93L606.2 92L608.7 90L613.1 88L613.4 87L615 86L617.3 86L614.1 89L614.4 92ZM718.5 93L721 90.3L723.2 89L723.5 88L722.4 87L720.7 87L717 89.2L715 90.7L713.4 93L716 93.7ZM782 90.1L780 91L779 90.9L778.4 90L781 87L783 88.4L783.2 89ZM673.2 99L680.2 96L681.2 95L682 92.9L685.5 90L681 90.6L679.1 89L678 89.6L673 96.6L670.2 98L669.9 99ZM632.1 93L634.6 92L635 91L634 90.6L633.1 91L632.2 92ZM845 94.3L843.9 94L843 92L843.8 91L845 90.8L846 91L846.4 92L846 93.5ZM723.9 100L728.2 98L728.7 92L725.4 93L720.9 96L721.3 100L722 100.5ZM595 101.3L591.2 101L591.2 100L588.1 99L590.3 95L592 93.8L594 93.2L596.6 94L597.2 95L594.5 99L594.7 100L596 101ZM825.5 96L826 94.5L825 93.9L824 94.4L823.6 95L824 96.8L825 96.9ZM579 100L576 100L573 98.2L569 98.4L568.3 98L569.3 97L572 97L573 95.9L576 95.9L577 94.9L578.7 95L579.1 96L582 96.1L582.7 98L581.8 99ZM761.5 96L761.8 95L761 94.5L756.2 96L760 96.4ZM823.8 100L824.4 99L824 97.5L821.3 100L822 100.6ZM791.3 103L794.1 100L794.6 99L794 98.1L790 99.1L788 101L788 102L790 103ZM808.8 103L808.9 101L810.9 99L810 98L805.6 103L806 103.9L807 103.9ZM746.5 103L748.2 101L747.9 100L746 100.3L744.6 102L745 103.2ZM556 103L552 103.6L550.5 103L555 101L556 101.1L556.6 102ZM772.2 110L779 105.4L779.2 105L777.6 103L777 101.1L776 100.8L775 101.3L771.6 106L771 110ZM868.3 103L870.1 102L870.8 101L868 101L866.7 102L866.7 103ZM691.6 104L691 102L690 101.4L688 101.9L687.2 103L687.3 104L688 104.4L690 104.5ZM616.1 108L619 106.7L622 106.7L624.2 105L624.7 104L624 103L623 102.8L617 102.9L611.7 106L610.1 108L612 108.7ZM539 114.3L536.6 114L536.7 113L538 111L538 110L536 109L535 107.9L533 107.6L532.9 107L534 106.6L535 105L538 104.9L539 103.9L543 103.8L543.9 105L545.6 106L545.3 109L543.8 111ZM660.8 126L664.1 124L664.6 123L664 121.8L663 121L661.6 121L663 120.8L663.2 120L668.1 116L667.9 113L667 112L666 112.1L661 113.8L658 112.3L657 112.3L654 114.6L650 114.3L650.1 113L648.3 111L652.3 106L652.6 104L652 103.5L649.7 106L646.7 108L646.3 109L647.2 112L647 114L649 115L646.8 119L650 121.4L653.5 120L655 118L659 116.7L659.7 117L654.5 123L653.4 125L655 126.6L658 125.3L659 125.6L660 126.8ZM658.8 107L660.8 105L660 104.4L658 105.2L656.6 107L657 107.8ZM851.5 107L853.4 106L852 105.4L850.3 106L849.8 107ZM525 109.3L519 109.6L518.4 109L521 109L522 108L526.3 108ZM699.2 112L701.4 111L702.2 110L702 109.6L698 107.7L692 107.6L689 109.5L685 111L684.9 112L692 112.5L697 111.7ZM563 111L563.3 109L565 108.3L565.4 109ZM619.2 110L621 108.7L618.6 109ZM712.6 111L715.5 110L714 109.4L710.3 111ZM731.5 113L733.2 112L732 109.3L730 109.2L727.4 111L727.2 112L728 113ZM785.3 119L789 117.3L790.4 116L791.6 114L791.8 112L790 111.7L782 113.5L778.8 117L778.7 118L780 118.7L784 119.3ZM748.1 117L752 114.5L752.5 113L751 112.7L747 113.5L744.9 115ZM635.6 122L638.7 121L640 118.8L640.7 116L640.1 114L639 113.2L636 113.4L634.9 114L633.9 117L631.7 120L632.1 121L633 121.6ZM504 118L503 118.1L501.1 117L501 116L502.5 115L504.3 115L504.7 116ZM573.1 117L573.6 116L573.2 115L570.9 115L571.1 117L572 117.7ZM683.2 123L685 120.2L689 117.8L691.2 115L689 115.9L683 120.3L680.9 123ZM726.1 124L727.7 122L731 119.8L733 119.3L737 119.7L738 117.7L737.4 117L736 116.9L727.6 118L727 119L726.9 121L723.2 124L724 124.9ZM561.8 127L567.6 123L569.5 120L569.7 119L569 117.5L567 117.2L564 119.6L563.3 121L563.4 123L562 124L560.7 126L560.6 127ZM572.1 121L573.2 120L573 119L571.6 120ZM756.3 122L756.9 121L756 120.1L753 120L751.7 121L751.7 122L753 122.6ZM791.9 125L795.6 123L796 122L792 119.4L789 119.7L784 121.9L783.2 123L785 124.8L790 125.8ZM589.9 123L591.1 122L591 121L589.7 121L588.3 122L588.5 123ZM676.4 140L678 138.2L682 138.6L684.5 137L684 135.5L679.9 135L679.6 132L680.5 128L679 126L679.6 124L678.3 122L678.3 121L677 120.3L674 120.6L671.8 122L671.1 123L672 124.1L672.2 126L670.9 128L666.5 132L666.3 133L667 135L668 135.8L669 135.8L672 134.5L672.9 135L671 138L666.5 140L667 140.7L671 139.4L675 140.5ZM660 123.2L659 123.5L659 122.6L661 121.6L661.2 122ZM713.2 125L716.7 123L717.5 122L717 121.3L712 123.2L710.9 125L712 125.4ZM768.2 127L771 126L771.6 125L771 123.2L769 123.1L765.9 125L766 126L767 126.9ZM801.6 128L805.1 126L805.6 125L805.2 124L800 123.2L798.3 124L798.4 128L800 128.8ZM830.3 143L836 141.6L840 138.1L845 135.7L846.1 136L846.6 137L846 138.2L842.9 140L843.5 141L853 140.2L853.8 139L854.6 135L852 134.6L851.7 134L853.6 131L853 130.5L848 130.9L846 130.4L845.6 130L846.5 127L846.3 126L844 125.5L840.7 131L841.5 133L840.8 134L836 135.7L835.5 135L837.5 133L837.6 132L837 131.8L833 132.3L830.2 134L829.7 135L830 135.7L835 135.6L835.7 136L827.9 141L827.7 142L828.7 143ZM559.7 150L565 149L566.5 148L567 146L565.8 144L566.5 142L569 140.9L574 139.9L575 139L574.2 137L574.3 136L576 135.2L578 135.4L580.3 138L579.4 141L581 141.7L582 141.5L584.4 139L581.6 138L582.1 137L587 133.7L590 133.9L592 133.1L593 132L593 129.4L590 129.5L588 128.8L585 129.9L579 129.9L577.6 129L578 126.4L577 126.4L572 129L571 130L571.2 132L569 134.1L566 133.9L563 136.4L559 135.5L557.6 137L556.1 140L556.5 141L559 141.6L559.4 142L559.1 143L555.9 146L556.3 149L558 150ZM752.2 131L756.5 129L756.9 128L756.2 127L755 126.9L753 127.8L749.3 130L748.7 131L751 131.4ZM628.3 129L628 128L626.2 129L627 129.8ZM619.8 144L624 142.4L626 142.2L628 142.6L636 138.7L639 140.8L641 140.9L643 140.1L645 141.4L648 141.7L649 143.3L650 143.9L654.5 143L655.9 142L657.4 138L657.3 136L658.4 133L661 129.6L661.2 128L660 127.1L657 128.8L654 128.4L651 129.1L649.9 130L650 131L652.6 132L652.8 133L651 135.2L648 136.8L643 135L638 135.9L634 132.1L631 132.5L627 135.5L624 135.4L622.7 136L622.2 137L622.8 139L622.6 140L619 143L618.8 144ZM709.9 136L714.7 135L715.4 134L714.3 132L714 130L713 129.5L709 129.3L707 128.2L704.3 129L703.6 130L704.8 132L701.1 134L699.4 136L700 136.7L706 136.7ZM868 131.2L867.2 131L867.1 130L869 128.8L869.7 130ZM566.2 131L567 130L566 129L562.9 131L565 131.6ZM723.6 142L725 141L725.1 138L731.3 131L731.2 130L729 130L724 132L720 131.7L719 132.1L716.3 135L716.9 137L720 137.4L720.5 138L719.7 140L720.3 142L721 142.7ZM820.6 132L820.8 131L819 130.5L815.6 132L818 132.6ZM760.5 136L761 134.8L758.6 134L758 132.9L757 132.7L752 133.8L750.4 135L752 135.7L757 135.1L758 136.3L759 136.5ZM785.1 143L787 142.9L794.5 140L794.7 139L794 138L792.1 137L794 136.1L795 135L795 133.6L793 132.9L789.4 134L785.2 137L779 139.4L774 140.1L772.7 141L772.3 142L773 143.1L774 143.4L778 143.2L781 143.9ZM571 137.3L568.7 137L569 135.6L571 134.8L572.5 135L572.6 136ZM605.3 153L605.9 152L605.9 151L604.8 149L608 146.8L609.5 144L611.8 142L611.1 140L612 138L610.2 138L607 139.4L605.9 141L605.8 144L604.9 145L595.2 149L595.5 151L594.5 153L598 153.7L600 152.9L603 154ZM822 139L821.9 138L820.6 138L820.4 139ZM698.2 140L698 138.8L696.7 139L697 140.1ZM759.2 141L760.6 140L760 139.4L758.1 140L758.2 141ZM789.1 153L793.7 151L796.7 148L797.6 146L796.6 144L800.4 141L800 139.9L795.2 142L794.4 143L794.6 145L793.8 146L787 148.5L784.9 150L783.9 152L784 152.5L787 152.2ZM865 149.2L861 148.6L858 149.1L856 148.3L852 149.1L849.9 147L850 146L851 145.1L855 144.1L856 146.3L857 146.8L861 146.8L863 145.2L863.4 144L860.9 142L861 141L864 140.9L868 141.7L873 139.9L875 140.4L875.4 141L874.9 142L871.5 144L870.6 146L867.9 148ZM542.6 144L546.4 142L547 140.5L544 140.1L542 140.7L540 143L541 144.2ZM730 142L730.9 141L730 140.2L728.7 141L729 141.7ZM752.3 145L755.1 143L754.8 142L751 141.6L748.5 143L748.8 144L750 144.9ZM585.1 147L589 145.3L589.9 144L589.6 143L587 142.3L585 143.1L583.6 146L584 146.9ZM709.8 160L712 159L712.2 158L711 156.5L706.8 155L707.3 153L706.1 151L711 147.2L712.8 145L713.2 144L712.6 143L711 142.3L709.9 143L708 146.7L701.6 149L697.3 154L697.2 155L697.6 158L701 160L705 160.2L707 160.9ZM839 146L839.3 145L838 144.8L836.5 146L837 146.9ZM636.8 150L638 148L637 145.6L636 145.7L634.5 147L634 149L634.3 150L635 150.3ZM489 150.4L488 150.2L487.7 149L490 147.6L490.6 148L490.7 149ZM590.1 149L590.9 148L590 147L588.3 148L589 149ZM772.1 153L776.6 149L776 148L774 147.9L767 150.1L765.7 151L765.1 153L766 154L770 153.8ZM830.6 150L831 149L830 148.5L829 148.6L827.6 150L829 150.6ZM552.9 153L555.3 151L555.7 150L555 149.4L553 149.4L547 151.5L543 152L546 153.9L551 153.8ZM578.4 172L584 170.8L591 164.9L592.9 162L594.9 160L595.2 158L592.7 156L591.2 153L590 152.7L588 153.7L586.7 157L585.1 158L582 158.4L579 160.2L578.4 159L579 157.6L581 157.1L583.4 155L583.1 153L584 149.9L574 152.8L572.3 154L572 156L570.4 159L570.4 161L573.5 163L573.6 164L568.4 168L568.4 169L569 169.7L571 169.4L576 164.4L579 163.9L578.2 167L578.9 168L578.9 169L575.5 172L576 172.5ZM635.9 169L636.7 168L634.7 166L635.1 165L638 164.3L642 164.8L647 163.7L649.8 161L653 159.7L653.7 159L653.2 158L653.5 157L656.8 155L659.8 152L659 151.7L652 152.3L649.3 154L647 157.5L643 157.7L637 160.1L632.3 167L633.9 169ZM819.1 158L821.7 155L823 151.7L815.7 155L811.9 158L815 157.9L818 158.5ZM566 154L566.9 153L565 152.3L562 152.7L559 152.1L556.7 153L558.5 154ZM608.3 167L612.9 165L614.9 163L616 160.9L620 160.8L623 159L625.4 155L625 153.4L623 152.8L621 153.2L614.7 157L613.8 158L613.6 160L609 162.2L607.4 164L607 166.7ZM578 155.4L576.6 155L577 153.7L578 154L578.6 155ZM755.3 160L756.1 159L756.9 156L756 155L755 154.9L752.9 156L751.9 158L754 160.3ZM762.6 169L765 168L768 165.1L769 164.8L773 166.6L782 163.3L784.1 164L783.8 165L780.7 168L782 168.8L784 168.7L790 165.1L792 162.5L795 161.4L796.4 160L796.6 159L795 158L792 159.4L789.9 159L789.1 158L789 156L788 154.5L784 155.5L783 154.4L782 154.6L782 155.5L783 156.3L783 158L784 158.4L786 158.1L787 158.8L784 160.6L783 160.5L782 159.3L774 159.8L771.1 159L769.1 157L768 157L767 157.9L766 161L765 161.9L759 163.9L756.8 166L756.9 167L760 168.8L761 169.3ZM561.8 172L562.8 171L563.4 168L565 165L562.4 163L562.6 160L560 159.5L558 160.5L556 158.5L554 158L551.4 159L551.7 162L555 161.9L556.6 161L557 160.2L557.9 163L556.4 165L549.3 170L549.1 171L549.8 172L552 172.3L555 171.3L559 172.5ZM806.4 161L807.5 160L807 158.4L806 158.1L803.9 159L803.5 160L804 160.5ZM688.3 164L690.5 162L690.6 161L689 159.9L687 160.4L685.6 162L687 164.4ZM728.9 168L732.8 166L733.4 165L731.9 163L732.2 161L730 159.3L728 159.2L721.8 161L719.7 162L717.1 165L722 167L725 167.3L727 168.6ZM846 162L845.3 162L845.6 161L848 160.9L847 161ZM747.1 166L749.1 163L748 162.3L746 163.2L744.1 165L743.9 166L745 166.6L746 166.7ZM492 166.2L491 166L491.4 165L496 163.3L496.7 164ZM592.2 169L598.4 165L598.4 164L592.5 166L590.9 168L591 169.4ZM680.6 168L681.8 165L681 163.9L677.9 165L676.4 168L677 168.8L678 168.8ZM830 168.2L829 168L829 167L831 166.4L833.8 164L840 163L841 164L838 166L832 167.2ZM528.5 177L531.9 176L534 173.2L540 171.6L541.6 170L541.4 169L539 168L537 169.3L534 169.6L532 170.7L530 167.9L527 167.5L523.9 170L515 174.4L513.6 176L514.2 177L516 177.4L519 176.2L523 173.6L525.7 173L531 170.5L531.9 171L531.9 172L531.4 173L527.8 176L527.7 177ZM662.3 181L664 180.2L665.7 178L665.8 175L667.4 173L667.5 172L666.1 171L665 168.7L662 168.7L661 167.1L658 168.4L655.2 171L656 172.4L659 171.9L659.3 174L660.5 175L660.5 176L658.3 179L658 180.6L660 181.2ZM677.1 192L680.5 189L681.7 186L688.4 182L691 179.4L692 179.3L692.9 180L694 182.4L695 182.5L699 179.7L701 179.1L701.8 180L698.1 183L697.9 184L699 184.6L702.7 182L703.6 181L703.7 179L705 178.3L707 177.8L712.2 178L713 177L713 172L708.3 168L704.4 168L703.3 169L703.8 170L707.1 171L707.8 172L707.7 173L703 176.6L699 177.5L696 177.5L694.8 177L694.2 176L695.1 174L694.3 171L696.9 169L696.7 168L695 167.5L694.5 168L694.6 170L693.9 171L684.8 174L684.4 175L687 175L688 176.4L682 181.5L679 181.6L677 182.5L673 182.6L671.1 184L673 184.3L676 183.4L677.6 184L678 186L677.6 187L674.4 191L674.5 192L675 192.2ZM766.6 171L767 169.8L764.9 171ZM601 172L602.3 171L599.6 171L599.2 172ZM582.9 181L584.5 178L588.2 176L591 173.2L591 172.2L586 171.4L585 171.7L583 173.5L581.3 176L582.2 179L581.8 181ZM702.7 174L703.8 173L703 172.4L700.5 173L701.3 174ZM542 175L543.2 174L541 174L540.1 175L541 175.4ZM734.7 176L735.9 175L736 173.6L734 173.9L732.6 176ZM679.6 178L679.8 176L679 174.7L677 174.7L673.3 177L673.8 178L675 178.3L678 178.7ZM751.4 182L755 178.9L757 178.9L758 180.1L759 180.3L761.6 178L761.6 177L760 174.8L756 175.3L752 174.9L749 175.2L747 176.9L746 179.1L747 180.8L749 182.4L750 182.9ZM805 183L804.5 182L799 181.8L798.1 179L802 178.2L807 175.9L811 178L811 180L810 180L807 182L806 182ZM602.4 183L604.2 180L603.6 178L602 177L598 177.7L596.6 182L600 183.6ZM652.5 188L654 187.3L654.8 186L654.7 185L654 183.8L651.2 183L651.6 181L651 180.7L641 181.8L639 178.9L631 180L629.2 181L628.8 182L633.4 183L633.9 184L633.7 186L635 187.6L636 187.7L639 185.1L641 185L642 185.8L642.8 188L648 186.4L651 188.5ZM721.4 184L722.7 181L722 180.6L719 181.9L715 181.3L713.4 182L714 183L718 183L720 184.5L721 184.5ZM611.1 191L615 188.6L618 188.7L620 188.2L621.4 187L622.2 185L613 184.7L612.3 183L611 183L608.7 185L608.6 186L612 185.4L612.1 187L609.6 190L610 191ZM659.6 193L666.2 186L667 185L667 183.7L666 183.1L664 183L663 183.7L661.9 186L660 187.1L656 187.7L653.6 189L653.4 191L654 191.5L656.5 192L657 193.5ZM553 188.4L552.1 187L554 184.1L554.7 186ZM746.2 188L747.3 187L747 185.8L744 186.1L741.9 188L743 188.6ZM727.5 190L729.4 189L729.8 188L728.6 187L727 187L725 188L723.6 190L725 190.8ZM785 189L784.5 188L786 187.4L786.5 188ZM593.4 191L594.8 190L595 189L594 188.8L592.3 190L592 191ZM778 192.1L776 192.6L774.4 192L777 189.1L780 188.7L780.3 190ZM717.5 193L719.1 191L718.9 190L718 189.7L715 190.8L712 190.5L710.7 191L710 192L710.7 193L712 193.6L716 193.5ZM694.8 212L697.8 210L698.4 209L696.2 207L696.7 203L700.5 200L705 199L706.6 198L706.7 196L705 192L704 191.3L696 192.2L694.2 193L692.9 197L690.3 200L689.9 203L690.2 204L693.7 207L693.8 208L691.7 211L692 212.6L693 213ZM620.4 197L623.4 195L623.5 194L622 193.5L621 193.9L616.5 197L618 197.9ZM661.6 209L665.9 208L670 205.1L674 204.1L675.8 203L676 202L672 198.5L670 198.8L667.3 201L664 202.5L661.2 201L660.7 199L661.4 198L662 197.5L664 197.8L666.3 196L666.9 194L666 193.4L664 194.5L662 196.5L659 197.8L658 200L655.8 202L656 203L660 201.9L662.4 203L662.5 204L661.9 205L657.3 208L657.5 209L658 209.2ZM579.8 207L586 202.3L587.7 202L582 202L580 200.4L576 199.5L574 197.7L570.7 198L571.3 199L573.3 200L571.7 204L571.9 205L575 205.3L576 205.9L577 207.4L578 207.8ZM594.4 203L596 202.2L599 202.2L602 201.4L604.4 200L604.4 199L603 197.9L596 198.5L594 199.8L588.7 201L588.3 202L592 203.9ZM530 202.4L524 202.8L521.2 202L522.5 200L524 199.1L528 199.6L532 198.6L532.4 200ZM696 200.2L695 200.5L693.7 200L695 199L696 199.6ZM530 208.1L529 208.2L527.1 207L527.4 206L529.3 205L529.7 206L529.2 207ZM725 209.4L724 209.6L720.5 207L723 204.2L726 204.5L727.6 205L728.4 206ZM583.5 216L587 215L590.6 213L592.9 209L593 207.8L592 207L590 207.2L586 210.4L584 210.5L582 211.4L581 211L580.8 210L579 209.5L577 211L578 212L581 211L581.4 212L581.2 214L580.2 216L581 216.9ZM531 214.3L530 214L529 212.8L534 209.7L536 209.9L535.3 211ZM718 214.5L717 214.4L716.3 213L716.6 212L718 211.3L719.3 212L719 213.8ZM721 221.2L720 221.5L716.5 220L715.6 219L716 217.7L721 214.1L724 213.4L729 213.7L732 213.2L733.5 215L733.3 216L729 219L726 219.3ZM590.8 222L593.6 219L596.7 217L592 216.2L591 216.8L590.5 218L586.5 220L586.5 221L587.8 222ZM553 224.1L551.4 224L551.5 223L553 221.9L554 222L554.9 223ZM684 243.5L681 243.6L680.4 243L681.3 241L681 240.8L677 241.2L675.2 240L676 238.7L685.2 235L685 233.3L683 234.7L681 235.2L679 234L678.3 232L681 230.1L684 229.6L684.5 230L684 232L685 232.9L686.8 231L687.2 229L687.9 228L690 226.5L694 225.1L696 225.6L698.9 228L698.6 231L697 232.6L690 235.4L685.4 240L684.6 243ZM653.3 243L658 239.6L659.1 237L654 236.4L651 237.3L650.6 235L651.8 232L648 229.9L645.6 233L644.6 236L641 237.7L637.6 241L638 242.6L639 242.5L645 240.7L650 237.6L651 238.2L652.1 240L650.8 243L652 243.5ZM589 240.1L584 240.5L583 240L585 238L590.8 239ZM567 244.2L566 244.6L565 243.8L566 243L568 242.9ZM665 245.1L662.9 245L665 242.3L666 242L666.4 243L666.1 244ZM599 256.2L597 256.6L594 255.5L593.3 255L593.2 254L594 252.6L594 251L597.3 248L598 244.8L600 244L601 245L599.4 248L598.6 253L600.3 255ZM591 266.1L589 264L588 264L587 262.6L589 263.6L591.5 264L592.1 265L591.8 266ZM603 272.2L601 272.5L600.2 272L600.5 270L605 265.5L607 265.4L607.7 267L607.4 268L604.8 271ZM610 280L607.1 280L607.2 279L606 279L604 276.6L609 274.9L610 275.2L611.1 279Z"/><path fill-rule="evenodd" fill="#1766b6" d="M737 62.1L735 62.5L734 62L737.6 59L739.6 60L739.9 61ZM634 253.1L633 253L633.1 251L632.5 250L632 249.4L631 250L630.4 249L630.6 247L629.6 245L633.4 241L632 238.9L628 239.7L625 237.3L623 237.7L617 240.5L615 244.2L610 247.9L608.2 248L608 247L611.6 244L612.8 241L615.7 239L615.6 238L613.3 237L615 235.9L619 235L622 230.4L634 227.6L635.6 226L634 223.4L628 222.8L625 223.5L622 223.5L620 224.3L615.5 228L614 231.6L608 234.5L607.2 234L607.4 233L609.7 230L608.9 227L608 226.2L603 227.6L600.5 229L600.5 230L601.3 231L600 234.8L599 236L596 237.1L593.4 237L593 236L596.5 233L598 230L594 231.6L588 231.8L584 234.1L582 234.7L580.5 234L578.8 230L574 231.6L570 230.8L566 232.3L561.6 232L565 229.3L569.1 228L569.7 227L569.3 225L570 223.7L571 222.4L574 221L575.5 217L574 213L573 212.7L568 214.5L565 213.8L564.6 213L565.1 210L564 208.4L562 207.4L553 210.8L547 212.4L545.5 212L545.8 208L550.1 205L551.6 201L554 199.4L558 200.3L558.8 201L553.5 205L554 206.5L556 208L562 206.7L565.4 201L567 199.8L570 198.8L572 200L570.6 204L572 205.1L575 205.6L578 207.9L579 207.8L582 205.1L587 202.2L589 202.2L592 204L596 202.3L599 202.3L602 201.4L604.5 200L604.6 199L603 197L595 197.1L592 198.6L583 200.7L577 199L575 198L574 196.5L570.1 196L571 193.9L575 193L577 191.7L577.5 191L577.3 189L576 187L571.3 189L570 191.4L569 191.5L567 189.5L565 188.9L559 191.6L558.1 191L561.9 188L561.3 186L560.2 185L562.3 184L564.1 182L563 180.3L562 180L560 180.4L557 182.3L555 181.5L552 182.6L550 182.1L542 189.7L540 189.4L538.8 190L539 191.1L542 190.7L543 191.1L546 194.6L549 194.2L549.9 195L549.9 196L548.7 197L546 197.6L541 197.3L537 197.8L535 197.5L534 196.7L533.7 196L534.7 194L534 192.5L528 191.7L527.5 191L527.8 187L526 185.3L524.3 186L521 189L519.9 191L518.7 192L513 194.7L512.1 194L514.5 191L514.9 188L513.8 186L511.9 185L512 182L511 180.4L508 180.4L507 179.8L503 176.2L501 177L500.8 178L501.2 179L499 182.1L494 182.1L492.5 181L490.7 179L492.3 178L494.2 175L495.3 172L498 171.4L500 173L504 172.8L505.6 172L510.2 168L509 166.4L506 166.7L504.7 166L507.9 162L506.8 160L504.1 159L508.8 155L508.4 154L507 153.7L502.8 155L502 151.9L500 151L495 152.6L489 155.8L488 157.1L487 157.2L486 156.4L485.4 155L485.9 154L488 152L489 151.7L491 152.3L494 151.8L498 149.6L502 148.4L504 147.2L509 147.6L512 149.5L514 149.1L514.1 148L512.5 146L512.4 145L514 143.3L516.9 142L517.8 139L520.7 137L521.1 136L520 134.2L519 133.9L511.8 137L506 140.9L497 142.6L493 144.4L491.7 144L492.9 142L492 140.4L491 139.2L490 139.1L489 139.7L488.7 139L489.4 138L489.3 136L492 135.8L495 137L498 136.3L501 134.2L504.6 134L505.2 133L504.8 132L503 130.7L502 129L505 127.6L506.6 125L511.3 122L510.2 120L510.4 118L516 113.1L516.8 114L516.7 115L515.6 118L517 119.1L523 115.5L525.8 119L530 119.2L530.5 120L527.1 122L525.8 124L525.8 126L526.9 127L527.2 130L529 131.6L530 131.8L536 131L538 132.4L540 132.5L540.4 133L539.7 135L539.9 137L541.8 139L539 142L540.5 144L542 144.3L546 142.3L547.2 141L546.6 139L545.3 138L550 131.3L554.3 127L554.4 126L553.5 124L552.4 123L552.3 122L553.7 119L552.5 116L554 114.1L556 113.2L559 112.7L562 115.6L564.7 117L562.7 119L562.1 122L559.6 125L559.3 126L561 127.4L566.7 124L570 120.3L572 121.1L573.3 120L572.9 118L573.7 116L573.3 114L572 113.5L569 113.6L567.9 113L568 111.2L569.6 109L569.3 106L573 104.6L583 106.1L587 105.3L588 105.7L587 107.1L582 107.9L578.8 111L578.2 112L578.4 116L582.2 117L579 117.2L577.2 120L577.9 123L577.5 124L570.8 128L569.9 129L570 131L569 132.2L565 132.5L562 135L559 134.1L558 134L557 134.9L554.9 139L555 140L558.1 142L554.7 145L554.7 147L546 150.3L544 150.4L543 149.1L541.7 150L542 151.7L545 153.6L549.7 154L549.5 155L547.8 157L547.9 158L549.1 158L550.3 161L551.6 162L554 162.2L556 161.5L556.6 162L555.3 164L547.6 169L547.5 170L548.4 171L551 172.5L555 171.3L559 172.5L561.9 172L562.9 171L563.5 168L565 165L562.6 162L563 161L562.4 159L560 158.2L557 158.7L554 156.7L550 157.2L549.7 156L551 154L555 151.9L558 154L566.2 154L567.1 153L566 151.5L559.1 151L560.1 150L565 149.1L566.5 148L567.1 146L566 143L566.6 142L569 140.9L574 140L575.2 139L574.5 136L577 135.1L578.6 137L578.1 140L580 141.5L582 141.6L584.6 139L584 137.5L582.7 137L584 135.4L587 133.7L590 134L592.2 133L593 132L593.4 130L592.2 128L589 128L588 127.5L584 128.8L579 128.6L577.6 128L578.7 125L586 119.1L586.5 117L587.5 116L592 114.2L597.3 113L600.6 109L600.4 107L603.2 105L606.9 101L609 99.8L611 99.4L612.7 97L614 96.8L618 99.2L621.8 98L623.7 97L625.2 93L628 90.6L630 89.7L631.8 90L630.4 92L632 93.1L634.8 92L636 89.1L643 91.9L645 91.4L647 89.6L656 90.5L659 93.5L663 91.4L667 91.2L672 88.2L673 87L672 85.2L671 85L673.1 81L674 79.9L678 79L680 79.6L683 79.3L688 80L686.8 82L683 83.6L681.7 85L684 86.5L687 86.8L691 89.3L696 87.7L699 85.9L701 85.5L702.2 86L702.4 87L700.9 89L701.9 90L701.7 91L698 92L697.4 93L697.8 95L693.7 97L691.7 99L692 100L694 100.4L699 100L700.7 99L701.1 98L700.8 96L702.3 95L704 94.4L707 94.7L708.3 94L709 92L707.9 90L705.4 89L706 88.6L711 88.1L712.9 89L713.5 90L712 92L714 93.4L716 93.8L718 93.5L721 90.4L723.4 89L724 88L723.5 87L721 85.7L716 88L715.8 87L717.2 83L717.1 82L716 81.5L713 83.5L710 84L708 82.8L704.6 82L702 79.8L694 80.6L693 78.5L690 78L694.1 74L694 72.3L692.3 71L693 69.3L694 68.7L696 69.1L700 68.3L702 69.3L705 67.4L708 66.6L708.7 67L707.9 68L704.2 71L704.5 73L706 74.9L707 75.1L711 73.9L714 73.9L718 71.7L718.8 73L715.8 76L716.5 78L722 80.3L726 79.5L727 80L725 81L728 82.7L729.5 82L729 80.6L727 80L726.3 79L729.4 77L729.8 76L729.5 75L729 74.4L722 73.2L721 70.7L719 69.8L718.5 69L719.9 67L719.1 65L720 64L725 62.6L726 63.2L725.9 66L727 67.9L728.9 69L732.1 69L732.4 70L730.8 72L731.1 73L733 73.7L734 73.5L736 71.2L737 71.3L737.6 72L736.4 75L733.4 79L733.4 80L735 81.1L742.5 76L742.7 75L742 73.5L740.6 72L745 68.7L747.1 69L746.8 70L747.4 72L749.7 74L752 74.6L756 74.2L756.9 75L756 78L756 81L758 82.8L764 81L767.6 78L769.8 77L772.1 77L773.3 79L773.3 80L775.6 82L775.8 83L773 84.6L769 85.2L768.6 85L770.1 84L769 82.2L759 85L758 86L758.1 87L759.3 88L763.2 88L759 92L759.5 93L754.8 95L755 95.7L757 96.4L760 96.5L761.6 96L762 95L760.2 93L761 92.1L762 92.5L766 92L768 93L769 97.5L773.6 100L772.9 102L770.1 106L769.8 109L771 110.1L772.4 110L774.8 108L778 106.6L779.3 105L775.8 99L777 97L777 95.4L778 94.5L781 95.2L786 93.9L790 93.7L794 94.3L798 91L802 90.7L807 89.2L807.5 88L805.6 84L806.4 83L813.3 84L813.2 85L811.7 87L811 90.4L810 91.2L805 92.7L800 93.4L796 95.5L790 97.6L787.8 99L786.8 101L789 102.7L791 103.2L793 101.6L795 98.2L797 97.5L801 97.2L804 95.6L806 95.3L810 95.4L815 94.2L820 94L821.3 93L819.8 91L820.1 90L823.7 87L826.4 86L827 87.4L829 88.5L831 88L830.9 86L832 86L832.1 87L831 88L831.8 89L836.7 91L832 95.1L830 96.1L828 100.5L823 102.6L819.6 105L817.6 108L814 110.1L813.1 111L812.6 113L809.4 115L808.9 116L811 117.4L813 117L817.5 115L820.7 112L826 109.6L827 109.5L830.2 111L831 112L830.8 113L829.4 114L826 114.6L824 113.5L819 115.1L815.4 120L815.7 122L814.8 124L817 124.9L821 122.6L827 120.6L828.9 121L830.1 122L829.4 123L829.8 124L831 124.7L832.1 124L831.1 121L835 120.9L836.8 122L836.5 123L834 125L833.8 126L835 127L836.8 127L841 122.4L841.5 120L840 118.3L837 118.5L836.5 118L837.8 115L837.7 113L834.8 112L836 110.8L840 109.8L843 107.7L846 106.4L846.5 106L846.4 104L847.3 103L852 100.4L857 100.5L858.8 102L854.5 106L857 108.2L860 107.1L863 105L864.1 104L864 102.4L868 103.1L872.7 101L872 98.7L867 99.7L866.2 99L868.8 97L870 96.9L871 98L873 98L874 99L876 99L879 103L879.1 114L878.1 115L878 118.1L877 118L876 116.5L875 116.1L868 119.4L861 120L855.7 125L855.1 126L856.5 127L860 127.8L861.7 129L861.9 130L860 132.1L857 132.8L856 132.8L855 132L854 132.9L853 129.3L847 129.7L846 129.3L846.6 127L846.2 125L844 124L843 124L842.1 125L841.2 128L839.3 130L840.3 132L839.5 133L838 133.5L837.6 133L838 131L836 130.5L832 131.2L829.1 133L828.7 134L829 135L831 136L831.3 137L827.7 139L826.6 141L829 143.2L836 141.6L840 138.2L844 136.2L844.9 137L841.7 139L841.7 140L843 141L846 141.1L850 140.4L852.3 141L849 143.9L843 146.2L840.6 149L836 150.2L832 153.2L829 151.5L824 152.4L823.4 152L823.9 150L822 149.7L818.9 152L811.3 156L810.4 157L812 158.2L815 158L818 158.6L819 158.2L822 154.6L823 154.2L825.2 156L824.7 157L821.9 159L822 161L824 162.4L828 160.7L829.7 161L829.9 162L829.3 163L828 163.8L823 164.3L819.6 166L819.1 167L820.3 169L820 169.4L815 170.3L814.1 170L813.9 168L810 167.6L809.2 167L808.8 165L808 164.8L804 166.4L801 165.8L798 167L799.3 169L796 170.1L793 169.4L791 170.8L790.1 172L791.2 175L789 176.8L787 177.3L783 176.6L778.2 179L774 180.2L770 179.6L764 179.8L760.1 181L758.2 183L758 184.1L759 185.2L760 185.8L762 185.4L767 182.6L768 183.7L767.8 185L771.1 187L771.8 188L771.7 189L767.9 194L767 194.6L764 194.5L763 195.1L761.9 197L758.1 200L756 204.8L755 205.3L754.5 205L754.6 204L753 200L753.1 199L754.6 197L754.8 195L752.9 193L747 190.4L745 190.5L743 193.5L735.9 197L731 197.3L727 195.8L725.3 195L725 193.9L724 193.8L720 197L717 198.6L713 197.4L707 198.5L706.7 198L707.1 197L705.7 193L704 190.3L702 190.2L694 191.4L692.9 192L691.9 196L689 199L688.1 201L688.7 203L692.7 207L690.6 210L690.8 212L688 215.8L687.2 216L688 216.5L689.3 219L689 219.6L686 220.4L684 217.3L679 218.7L672 217.6L668 218.3L666.8 218L665 215.9L664 216L660 218.6L658 215.3L657 215.6L655 217.7L652.4 224L654 225.3L658 224.3L662 225L661.1 228L662.3 229L664 229L667 227.2L671 226.4L675 226.7L678 224L679 223.5L680.3 224L674.4 229L673.1 232L671.3 234L669 234.6L665.8 234L665 235L666.2 236L666 237L662 238.6L656 243.5L653.6 243L658 239.8L659.2 237L658.5 236L658 235.3L651 235.3L650.8 234L652 232L652.1 230L650.3 229L650 227.6L646 228.4L644 234.2L640 236.7L636.3 240L636.4 243L636.9 244L638.4 245L640 245.1L640.2 242L645 240.8L650 237.9L650.8 239L649 242.4L649.9 243L650.8 245L653 246.4L655 246.6L655 247.2L654 248.2L650 249.2L648.5 250L648 251L646.5 248L645 247.8L641.5 250L640 251.9ZM766 71L764.1 71L766.6 68L768.3 68L768.9 69L768.5 70ZM671 76.3L670 76.4L667 74.3L665 74.6L665 74L668 74L669.9 73L673 73L672.2 75ZM699 76L700 75L699.7 74L699.2 73L698 73.1L696.8 74L696.4 75ZM760 76.1L757 76L757.1 75L756.5 74L762 72.6L762.2 74ZM781 84.5L780 84.9L779.1 84L781.2 81L780 79L781 76.2L783 76.2L785.8 77L785.6 79L784.5 80L783.7 82ZM800 79.2L798 79.6L797.4 79L797.6 78L799.1 77L801 77L801.7 78ZM798 85.1L793.1 85L797 81.4L798 81.4L800.3 83L800.3 84ZM655 89.6L654 88.8L652.8 85L654 83.9L655.3 84L655.5 85L657.7 87L657.3 88L655.2 89ZM673.3 99L680.3 96L681.3 95L682 93L685.7 90L685 88.5L681 89.2L679.9 89L679 87.6L677 88.4L672 95.4L669 97L668.6 98L671 99.4ZM780 89.5L778.9 89L781 87.2L782 88ZM612 92.1L610 92.5L607.7 92L607.2 91L613 88.5L613.2 91ZM690.3 93L690.3 91L690 90.6L689 90.8L688.2 92ZM724 100L728.3 98L728.7 97L728.3 94L729 92L728 90.8L725 91.7L720.1 94L719.4 95L720.2 99L722 100.6ZM845 92.1L844 92.9L843.2 92L844 91.1L845 90.9ZM823.9 100L826.2 95L825 92.5L822.9 93L822.4 94L822.9 96L822.6 97L819.1 100L822 100.8ZM593 98.2L592 98.9L589 98L590.3 95L591.7 94L594 93.3L596 93.9L595.8 95ZM580 98.3L576 99L572.2 97L573 95.9L576 95.9L577 95L577.7 95L579 96.1L581 96.2L581.6 97ZM802.5 105L804 103.9L807 104L809 103L809.1 101L811 99L810 96.8L809 96.7L805.6 100L804 102.6L801.7 105ZM746.7 103L748.3 101L747.6 99L746 98.6L744 100.3L743.7 102L745 103.3ZM693 104L693.3 103L691.4 102L690.5 100L687 100.6L686.2 102L686.2 103L688 104.4L691 104.8ZM865 101.3L864 101.9L863 101L865 99.7L866 99.7ZM665.3 103L666.2 102L666 100.7L665 100.8L663.5 102ZM619.4 110L621.3 109L620.4 107L622 106.7L624.3 105L624.8 104L623.6 102L616 101.7L611 104.6L609 107L611 108.6L616 108.6L618.4 110ZM625.4 145L626.6 143L628 142.9L630.9 141L636 138.9L639 140.9L643 140.5L645 141.5L647 141.7L650 144L655 142.8L656 142L657.4 138L657.4 136L658.4 133L661.3 129L660.7 127L661.1 126L664.3 124L664.7 123L663.4 120L667.3 117L669.1 114L670.4 113L668 112.9L667 111.3L666 110.8L660 112.5L657 111L656 111.1L653 113.1L651.1 113L648.8 111L649 110L652.8 105L653.1 103L652.6 102L652 101.5L651 102L649.7 104L645.5 107L645.1 108L646 114L647 115L645.4 118L646 118.9L650 121.5L653.6 120L655 118.2L655.9 119L652.2 124L653.8 126L653.7 127L651 127.5L648.8 129L648.8 130L651.6 132L651 133L649 134.7L647 135.4L642 133.8L638 134.6L637 134.5L633.3 131L632 130.8L628.8 132L626 134.1L622 134.7L621.1 136L621.7 138L621.4 139L616.4 143L619 144.1L621 143.8L621.7 145L623 145.4L624 145.6ZM657 108L659 107L660.9 105L660.7 104L661.4 103L659 103L656 105L655.4 106L655.7 107ZM799.4 104L799 102.7L797.3 103L797.2 104ZM538 113L536.9 113L538.1 111L538 109.8L534.7 107L534.4 106L535 105L538 104.9L539 103.9L542.6 104L544.5 106L543.6 109ZM851.8 107L853.6 106L853.4 105L851 104.2L848.8 105L848.4 106L849.6 107ZM699.6 112L702.3 110L701 108L697 106.5L693 106.5L691 106L688 108.3L684 109.8L682.6 111L684 112.1L691 112.8L697 111.7ZM709.4 112L710 110.9L711 111.4L716 110L715.7 109L714 108L713 108.2L708.4 110L707.3 111ZM731.7 113L733.3 112L731.2 108L729 108.1L726.4 110L726.5 112L727.8 113ZM877.6 111L877.8 109L877 108.7L875.1 109L873.6 110L875 111.1ZM801.7 128L805.3 126L805.7 125L805 122.7L804 122.2L800 121.9L798 122.2L797 123L795 120L793 119.3L792 118.4L787.8 118L789 117.5L791.3 115L791.9 112L791 110.6L786.1 111L781 112.3L777.8 116L777.7 117L779 118.4L782.4 119L784.7 120L783 120.7L782.1 122L785 124.9L791 125.8L796 122.5L797 123L797.5 125L797.3 127L798 127.9L800 128.9ZM636.2 122L639 120.8L640.6 117L640.2 114L639 112.3L638 111.9L636 112L633.7 113L632.8 116L630.5 119L630.6 120L633 121.6ZM748.5 117L752.6 114L752 111.8L750 111.4L747 112.1L745 112.8L743.8 114L747 117.4L748 117.7ZM676.5 140L678 138.4L682 138.6L684.6 137L683.5 134L680 133.6L679.7 133L679.8 131L680.7 129L679.4 125L680 123.4L683.7 123L685 120.3L689.9 117L691.3 115L690 113.5L685 117.3L681.8 119L680 121.4L679 121.8L677 119L673 119.4L669 122L669 123L670 123.4L670.9 125L669.8 127L665.3 131L665.2 132L665.9 134L667 135.1L668 135.8L670 135.5L670.6 136L669 137.4L665.2 139L664.9 140L666 140.9L667 140.9L671 139.5L675 140.6ZM724.2 125L726 124.2L727.9 122L732 119.5L737 119.8L738.1 118L737.4 116L732 116L726.3 117L725.8 118L725.8 120L722 123ZM540 129.3L538 129.8L537.2 129L538 127.8L536 123L542 118.7L545 117.9L548.1 118L547.9 120L548.6 122L546 124.4L542 126.4ZM756.5 122L757.3 120L756.5 119L753 118.6L750.8 119L750.5 121L752 122.4L754 122.8ZM590.1 123L591.1 122L590.5 120L589 119.8L587.1 121L587.1 122L588.3 123L589 123.4ZM713.3 125L716.8 123L717.6 122L717 119.9L711 121.9L709.7 124L711 125.3ZM768.4 127L771 126.1L771.6 125L770 121.7L767 122.3L764.7 124L764.8 125L767 127ZM760.6 136L761.3 135L760.8 134L757 131.3L753 131.7L752.4 131L756.6 129L757.1 128L756 125.7L753 126.1L747.9 129L747.4 130L749 131.3L752.5 132L748.6 134L749.2 135L752 135.8L756 135.4L759 136.6ZM810.6 128L811 126.9L809 125.5L807 125.9L806.2 127L808 128.4L810 128.6ZM514.3 128L514 126.8L512.7 127L513 128.1ZM626.3 130L628.4 129L627.6 127L626.3 127L625.1 128L624.9 129ZM657 127.1L654.2 127L657 126ZM723.7 142L725.2 141L725.2 138L731.4 131L730.9 129L729 128.7L723 130.9L719 130.2L716 132.6L715 132.6L714.1 130L713 128.6L709 128.2L706 126.9L703 128L702.3 129L702.9 131L699 133.9L698.3 135L698.1 136L700 136.9L706 136.8L715 134.8L716.8 137L718.9 138L719 141L719.7 142L721 142.9ZM791.2 129L790 126.5L788.9 128ZM560 132L566 131.4L567.1 130L566.2 128L565 127.6L564 128L562 129.6L558.5 131L557.5 132L558 132.8ZM687.5 130L688.3 129L687 128.7L685.9 129L685.5 130L687 130.5ZM488 133.4L485.3 133L490 129.9L498 130L492 130.5ZM820.7 132L820.9 131L820.3 130L819 129.4L817 129.5L814.2 131L814.7 132L816 132.6ZM750.2 183L755 179L756.5 179L758 180.3L759 180.4L760 179.8L761.7 178L760.4 175L760.5 173L761 172.6L763 172.9L764 171.5L767 171L767.4 170L767 168.9L765.2 168L768 165.2L769.7 165L772 166.6L773 166.7L782 163.5L782.5 164L779.5 167L781 168.7L783 168.9L786 168L790.3 165L791.5 163L796 160.6L796.7 159L795.4 157L794 156.9L790 158.2L788.3 154L793.8 151L796.8 148L797.8 146L797 144L800.6 141L800.1 139L799 138.3L795 140L793.8 137L795.4 134L794 132L792 131.8L789 132.7L785 135.5L778 138.3L773.1 139L771.7 140L771.3 141L773 143.1L778 143.3L780 143.9L787 142.9L791 141.1L793.8 141L792.4 145L786 147.4L783.9 149L782.3 152L778.5 153L781.4 156L781 157.6L779 158.2L774 158.7L771 158L769 156.1L767 155.7L766 156.5L765 159.6L764 160.7L757 163.5L755.8 165L755.8 166L756.9 167L761 169.4L764.5 169L763 170.4L761.4 171L759 173.3L755 174L749 173.4L747 174.4L745.2 177L745 178.1L748 181.9ZM606.3 135L605.5 133L605 132.8L601.2 133L605 135.4ZM802.2 136L802.9 135L802 132.9L801 133.4L800.2 135ZM856 140.1L853.6 140L854.5 134L856 133.1L857.6 134L856.8 137L857.1 139ZM737 138L738.2 137L737 135.6L735.9 136L735.5 137ZM583.1 181L584.7 178L588.3 176L591.3 173L590.9 171L589.9 170L592 169.2L598.4 165L598.3 163L597 162.7L593 164.2L592 164L595.4 159L594.8 157L592.3 155L592.4 153L593 152.5L598 153.8L600 153L603 154L605.4 153L606 152L605.9 151L605 148.9L608 146.9L609.5 144L612.1 142L611.2 140L612.2 138L611.8 137L610 136.7L606.4 138L605 139.8L604 143.5L593.8 148L594.1 150L593 151.6L591 151.9L589 151.4L587.6 152L586.4 153L585.3 156L584 156.7L583 156.6L582.6 156L583.6 155L583.3 152L585 147.9L586.2 147L586.6 148L590 149.2L591 148L589.5 145L590 144L589.7 143L589.2 142L588 141.4L586 141.1L583.7 142L581.8 146L582.6 147L582.7 148L581 148.9L580.5 148L580.9 147L579 146.7L578 148.2L580.9 149L579 149.2L578 150.1L573 151.7L571 153L571.1 154L569.4 158L569.3 160L572.4 163L567.2 167L567.2 168L569 169.8L570 169.9L571.6 169L576 164.6L577 164.7L576.8 166L577.6 168L574.4 171L576 172.6L580 171.4L582 171.6L582.2 172L580 175L580.8 177L580.5 180L582 181.2ZM698.4 140L697.7 137L697 136.9L695.4 138L695.5 139L697 140.3L698 140.8ZM822.1 139L821 136.4L819.3 137L819.1 138L820.2 139L821 139.4ZM759.5 141L760.7 140L760.3 139L759 137.7L758 137.8L757 138.5L756.4 140L758 141.1ZM730.2 142L731 141L730 139L728 139.1L727.2 140L727.6 141L728.9 142ZM488 141.4L487 141.4L486.8 141L488 139.5L488.9 140ZM864 148.1L862.1 148L860 147.1L855.8 147L861 146.9L863 145.2L863.5 144L861.4 141L864 140.9L868 141.8L872 140.2L874.2 140L873.7 141L870.1 143L868.1 146ZM752.4 145L755.2 143L755.1 141L750 140.5L747.3 142L747.6 143L750 145ZM709.9 160L712.2 159L712.4 158L711 155.7L707.5 154L706.9 151L708 149.6L711 147.5L713.4 144L712.2 142L710 141.1L709 141.8L707 145.4L701.8 147L699 149L696 153L695.9 154L697 157.9L701 160.1L705 160.2L707 160.9ZM642 147L643 146L643.2 144L642 142.1L641 142.5L639.8 146ZM637 150L638.2 148L637 144.8L636 143.9L633.3 146L632.7 149L635 150.3ZM837 147L839.1 146L839 144L837 143.6L835.5 145L835.7 146ZM854 147.1L852 147.8L851 147.7L850.2 147L850.2 146L851 145.2L854 144.3L854.8 145L855 146ZM807.4 148L807 145.7L806 146L804.7 148L807 148.4ZM766.3 154L770 153.8L772 153.2L776.7 149L776 147L773 146.7L767 148.3L765.3 148L765.5 147L765 146.7L764.2 147L762.5 149L764.1 149L764 153.2ZM830.8 150L831.1 149L830.5 148L829 147L827 148L825.3 150L829 150.7ZM636.2 169L637 167.7L638 168.1L639.7 167L636 166.5L635.3 165L638 164.4L642 165L647 163.8L649.9 161L653 159.9L653.8 159L653.7 157L659.2 153L660 152L659.7 151L659 150.4L655 151L652 150.8L649 152.4L646 156L642 156.6L636 159.1L630.9 166L633.7 169ZM608.4 167L613 165L615.7 162L616 161L620 160.9L623 159L625.5 155L624.4 152L622 151.6L619 152.5L613.6 156L612.7 157L612 159.4L607.1 162L606.1 164L606 166L607.1 167ZM788 153.4L783.9 153L786 152.6L788.5 153ZM755.4 160L756.9 156L755.4 154L754 153.8L751.8 155L750.8 157L751.1 158L754 160.4ZM806.6 161L807.6 160L806.7 157L804.6 157L802.8 158L802.3 159L804 160.6ZM729.1 168L732.9 166L733.5 165L732.3 163L732.2 161L731 159.3L729 158L727 158L720.7 160L718.7 161L715.5 164L718 165.8L725 167.6L727 168.7ZM688.4 164L690.5 162L690.6 161L689 159L687 158.9L685.1 160L684.3 161L684.6 162L687 164.5ZM739.1 162L739 160.9L738 159.8L736.8 160L736 161L738 162.3ZM747.2 166L749.1 163L748 161L745 162.1L743 164L742.8 165L745 166.7L746 166.8ZM815.1 164L815 162L813.9 164ZM680.8 168L681.9 165L681.1 163L680 162.8L676.8 164L675.2 167L675.3 168L677 168.9L679 168.8ZM837 165L834 165.6L832.5 165L835 163.8L839 163.7ZM659.7 193L665.5 187L667.4 184L666.2 182L662.6 181L664 180.5L665.8 178L665.9 175L667.5 173L667.6 172L665 168L661.3 167L661.2 165L657 167.1L654.6 169L654.1 170L655 171.6L659 173.9L659.5 175L657.3 178L656.9 180L658.2 181L661.9 182L660.6 185L659 185.8L655 186.2L653.8 183L651.6 182L651.1 180L650 179.5L641 180.6L640 180.2L638.8 178L638 177.7L629.4 179L627.5 181L629 182.3L632.7 183L633 185.9L635 187.7L636 187.9L638 185.7L640 185.1L641 185.7L640.7 187L643 188.1L648 186.6L649 188.1L652 188.8L652.2 190L654 191.6L655.5 192L657 193.7ZM529 177L532 176L533.3 174L535 173L539 172.2L539.5 173L538.7 174L539 174.8L541 175.5L545 173.6L545.3 173L544 172.2L540 172.6L539.2 172L541 171L541.6 170L541.1 168L539 166.5L532 168.6L531 168.4L529 166.5L526 166L525 166.3L522.7 169L517 171.5L513 174L512.4 175L514.1 177L516 177.5L519 176.3L523 173.7L528 172.1L528.9 173L526.3 176L527.5 177ZM677.2 192L680.6 189L681.8 186L688.5 182L691 179.5L691.9 180L693 182.1L694 182.6L696.1 182L697 183.4L699 184.6L702.8 182L703.7 181L704 179L705 178.4L707 177.9L712.5 178L713.4 177L712.6 171L708 166.9L706 166.5L703 167L702 168L702.4 169L704 170.4L706.4 171L706.3 172L705 173.3L704 172.9L703 171L700 171.3L698.6 172L702.6 175L698 176.3L695 176.1L694.6 176L695.2 174L694.5 172L694.7 171L697.1 169L697.7 167L693.8 166L692.3 170L683.5 173L683 174.3L686 175.3L686.5 176L682 179.5L681 180.2L679 179.8L672 181.4L669.6 183L672 184.3L676 183.5L676.6 184L676.4 186L672.8 190L673 191L674.3 192ZM588 169.8L587 169.8L586.2 169L589 166.7L589.6 167L589.4 168ZM651.1 170L651 168L650 168L648.4 170L649 170.4L650 169.8ZM601.4 172L602.4 171L602 170L601 169.5L598.2 170L597.9 171L599 172ZM812 173.3L808.6 173L807.8 172L811 170.4L814 170.1L814.2 171ZM734.9 176L736.5 174L736 171.9L733 172.7L731.4 175L733 176.3ZM679.8 178L679.5 174L678 173.3L674 174.1L671.7 176L672.3 177L674 178.2L678 178.8ZM554.8 178L555.8 177L555 175.5L554 175.3L553 175.9L552.5 177L554 178.2ZM602.5 183L604.3 180L604.3 179L603 176.8L602 175.7L601 175.6L597 176.2L596.4 177L596.5 179L595.2 181L600 183.8ZM808 180L807 180L806 180.9L799 180.5L798.3 180L798.3 179L802 178.3L807 176L808 176.2L810 178L810 179L809 179ZM721.5 184L722.8 181L722 179.5L718 180.4L714 179.8L713 180L712.2 181L712.6 182L714 183.2L718 183.1L720 184.6L721 184.6ZM611.2 191L615 188.7L618 188.8L620.4 188L622.2 186L622.3 185L621.8 184L613.1 183L612 181.8L611 181.6L609.8 182L606.9 185L610 186.8L608.4 189L608.7 190L610 191.1ZM712.3 186L712 184.7L710.1 185L712 186.3ZM746.3 188L747.4 187L747.3 186L746 184.4L742.9 185L740 188L743 188.7ZM727.6 190L729.5 189L729.9 188L729.5 187L728 185.8L725 186.3L723.8 187L722.4 189L724 190.7L725 190.8ZM593.6 191L594.9 190L595.2 189L594 187.1L591.9 188L590.8 190L592 191.1ZM638.4 191L639.3 190L639.2 188L636 188.3L636 190.4L637 191.1ZM717.6 193L719.3 191L718 188L714 189.5L711 189.1L709.2 190L708.6 191L709 192L712 193.7L716 193.6ZM778 190.3L777 191L776.2 190L777 189.2L778.5 189ZM661.9 209L666 208L670 205.2L674.2 204L675.9 203L676.2 202L676.1 201L671 197L669 197.6L667 199.4L664 200.9L663 200.9L661.9 200L661.2 199L661.7 198L664 197.9L666.4 196L667.1 194L666.2 192L664 192.7L660 195.7L658 196.5L656.9 199L654.7 201L654.5 202L655.8 203L660 202.1L661.1 203L660 204.6L656 206.9L655.7 208L658 209.3ZM618.1 198L623.5 195L623.2 193L621 192.3L615.3 196L615.6 197ZM762.7 194L762 192.2L759.3 193L761 194.3ZM752 198.5L750 198.6L748.5 198L750 197L752 196.5L752.9 197L752.8 198ZM683.8 200L684.9 199L683.5 199L682.4 200ZM696 216L692.4 214L693.1 213L697.9 210L698.5 209L696.1 206L696.9 203L700.8 200L706 198.8L706.8 201L708 202L710.7 203L709.8 205L712.1 207L712.5 208L712 208.7L710 209.2L708 208.3L707 206.5L706 206.3L704.1 207L702.5 208L700.1 213ZM529 201.1L523 201.6L521.6 201L524 199.1L528 199.7L530 199.2L530.8 200ZM649.4 207L650.1 206L649.4 205L649 204.6L647.6 205L647.2 206L648.5 207ZM724 208.1L723 208.1L721.8 207L721.4 206L722 205.3L724 204.2L727.1 205ZM591 222L593.7 219L596 218L596.9 217L596.7 216L596 215.6L593 215.3L591 214.3L590 214.6L589.4 214L591 212.7L593 209L593.2 208L592 206.1L591 205.5L590 205.6L585 208.6L583.2 209L578 208.1L575.8 210L575.6 211L577 211.9L580.1 212L578.5 215L578.8 216L580.8 217L589 214.2L589.8 215L588.9 217L586 218.6L583.2 219L587.6 222ZM682.9 214L684 213L683.9 212L683 211.3L680.9 212L682 214.4ZM722 219.2L720 219.9L718.2 219L716.9 219L715.8 218L721 214.2L723 213.6L729 213.8L731 213.2L732 213.3L732.4 214L732.1 215L728 217.6ZM683 242.1L682 242.4L681.2 242L681.5 241L681 240L680 239.6L677 240.1L675.6 239L685.3 235L685.3 233L686.8 231L687.3 229L690 226.6L692 225.7L695 225.2L697.6 227L697.9 229L697 230.6L689 234.2L683.7 239ZM682 233.1L680 233.5L678.9 233L678.4 232L681 230.2L682.8 230L683.1 232ZM577 237.2L575 237.9L574 237L577 236.2ZM617 260.5L616 260.9L613 260.4L611 258.5L607.7 258L608.7 257L606.7 254L606.7 253L609.5 250L610 248.1L612 247.7L615 248.3L615.3 249L613.8 252L614.4 254L617.5 256L617.2 257L618.4 259ZM597 255.3L593.3 254L594 253L594.3 251L597 248.7L597.6 250L597.5 252L599 254ZM628 253.2L627 253.5L626.4 253L630 249.3L631 250L630.1 252ZM647 252.7L646 252.9L645.3 252L647 250.3L648 251ZM605 260.3L602 260.4L601 260L605 258.4L607 258.5L607.5 259ZM601 271L600.6 270L602.2 268L606 265.2L606.6 266L605.6 268L603 270.4ZM609 278.3L608 277.1L606 277.4L605 277.1L605 276.6L606 276.7L609 274.9L609.4 278Z"/><path fill-rule="evenodd" fill="#10559f" d="M736 62.3L735 62.5L734.4 62L736 60.7ZM746 72L744.4 71L744.3 70L745 68.8L747.3 69L748.1 70L747.8 71ZM733 75.3L723 74.6L722 74L724 72.8L732 70L733.3 71L731.7 73L732 73.8L734.4 74ZM673 74.4L669.4 74L670.4 73L673.4 73L673.7 74ZM768 87L767.4 86L770.3 84L768.7 83L768 81L770 79.3L773 79L774 82.5L776 83.1L776.7 84L774 85.7ZM727 90L726 89.5L725.9 87L722.5 85L723.6 83L725 82.1L726 82L728 83L729 82.7L731.8 87L730 89ZM757 84L754.9 84L756 82.1L758.1 83ZM824 88.1L822.8 88L825 86.4L825.7 87ZM811 92.2L808 92.9L807 92L809 89.8L812 88.7L812.2 91ZM635 104.1L633 104.4L627.1 103L631 99L633.1 99L632.5 98L639 93.2L642 93.4L643 95L639.9 101L637.5 103ZM695 104.1L693.7 104L693 102.7L691 101.3L687 101.6L685 100.5L682.3 100L681.7 99L683 98L688.3 96L696 94.8L698.8 95L698.8 96L695 97.6L692.7 100L693 100.6L697 100.3L697.6 101L697 102.3ZM570 98L568.7 98L569.9 97L572.3 97L572 97.7ZM735 97.3L733 97.6L732.6 97L735 96.6L735.4 97ZM779 102L778 102.2L777.7 100L778.4 98L780 96.7L782 96.3L784 96.7L786.5 98L787.1 99ZM816 100.2L815.8 99L816.5 98L818.4 97L818.2 98ZM726 102L722 102.8L721.2 102L722 100.8L728 98.4L732 97.5L732.7 98L731 98ZM663 103.3L660.5 103L662.6 100L666 98.2L668.1 99L668.3 100L667.6 101ZM672 105.3L671.1 105L671.1 104L673 99.6L676 98.4L678.5 99L678.9 100L677.8 102L675 104ZM760 104.1L759.2 103L761 100.9L762 100.6L762.4 101L762 102.2ZM646 104.2L644 104.7L642.7 104L642.5 103L644 101.9L648.2 102L647.7 103ZM853 104.2L851.2 104L851.5 103L854 101.4L854.7 102L854.4 103ZM707 112L704 112.8L702 112.5L701.1 112L702.4 110L701.4 109L702 108.5L706 108.1L713 105.3L717 104.6L718.2 105L718 106L715.9 108ZM879 110.1L877 109.8L875 110.8L874 110.7L872.3 109L872.2 108L873.3 107L875 106.4L880 106.8L880 109.3ZM741 110.2L738.8 110L738 109L738.6 108L741 107.4L742 107.8L742.3 109ZM814 110.1L812 110.6L811 110L813 108L815 107.6L815.5 108L815.3 109ZM571 114.4L570 114.6L568.6 114L568.9 112L572.4 109L574 108.5L575 109ZM669 114.2L666.6 111L670 109.6L671 110.4L671 112.2L670 113.9ZM850 115.1L847 115.8L845.7 115L846.7 113L850 109.8L851.1 110L850.3 112L850.6 114ZM826 113.6L824 113.3L823.6 112L825 111L826 111.3L826.9 112ZM795 116.5L794 116.8L790.7 116L791.8 114L795 112.9L796 113.3L796.2 114ZM879 119.2L877.6 119L877 117.9L874.9 117L877 115L880 113.7L880.1 115L879.1 116ZM626 120.2L622 120.4L621.1 117L622 116.2L623 116.3L626.1 118L627.4 119ZM699 126.2L698 126.6L696.1 126L695.7 122L693.4 120L693.8 119L695.2 118L700 116.7L700.4 117L699.7 119L700 120L701.8 122L701 124ZM714 121L711 121.3L710.4 121L710.1 120L711.4 118L713 116.6L716 116.6L717.5 118L718.1 120ZM747 120.5L746 120.9L745 120.3L744.1 118L745 116.1L747.4 117L748 118.2L748.3 119ZM656 121L655.3 120L655.8 119L657 118L659 118ZM762 120L759 120.5L758.3 120L759 119L762 117.4L764 117.1L765 117.6L765.2 118L764.2 119ZM856 122L853.8 122L853.6 121L855 120L859.8 119L863.6 119L863.5 120L861.3 121ZM768 122L767.1 121L768 119.6L770 119.1L771 119.6L771.3 120L770.6 121ZM563 123.1L562 123.6L561.6 123L563 121ZM746 126.2L744.7 126L744.8 125L747 122.9L748 122.9L748 124.1ZM542 127.3L540 127.3L539.9 126L541 124.4L543 124.1L544 124.7L544 125.4ZM526 127.5L525 127L526 125.9L526.8 127ZM682 127.4L681 128L680.2 127L680.7 126L683 125.1L683.4 126ZM710 128L709 128.4L705.3 128L708 126L710.9 127ZM825 133.3L823.9 133L824.1 129L826 127.4L834 125.8L834.9 126L835 127.3L837 127.2L837 128.1L831 128.6L829 129.5L827 131L826 132.9ZM646 131.3L643 132L642.5 131L643.2 128L644.1 127L646 126.2L650.4 129ZM653 128.2L651.6 128L654 126.4L654.9 127ZM595 129.1L594 129.8L593 129.1L589.6 129L592 127.8L595 127.3L595.5 128ZM802 133.3L799 134L798 133L797.9 131L800 129L802 128.1L804 128L805 129L804.9 131L804 132.2ZM718 132.9L717.4 132L718 130.2L720 130.4L720.5 131L719 131.7ZM523 144.1L522 143.8L521 142L521.6 139L521.4 135L528 130.9L530 131.9L534 131.5L534.4 133L533.6 135L529.8 137L527.7 141L526 142.9ZM772 141.5L769.3 141L769.1 138L767.9 135L768.1 134L771 132.6L772.6 133L771.9 135L774.5 139L774 140ZM508 141.1L507 140.8L506.5 137L505.7 136L505.6 135L507 133.6L508 133.4L509 135.6L515 136L515.8 137L512 138.4ZM588 137.3L586 137.5L584.8 137L587 134.9L589 134L591 134L591.3 135L590.6 136ZM752 138.1L750 138L748.7 137L749 135.1L751 136L755 135.6L755.4 136L754.5 137ZM727 139.4L726 139.6L725.2 139L726 137.1L729.4 137L729 138ZM812 144.1L803 141.2L802.2 140L805 137.6L808 136.6L815 136.3L819 138.4L819.4 139L818.7 140L816 142.5L814 143.7ZM719 141.3L716 141.2L715.3 140L719 137.5L720 137.7L719.7 141ZM682 164.1L678.6 164L681.4 160L680.9 159L675 158.1L673.6 155L679.9 146L679.8 145L676 144.2L675.3 143L676 140.9L678 138.6L681.6 139L682.9 140L683 141L681.5 144L682.3 146L680.7 152L680.9 154L684 155.2L688.6 155L689.1 156L686.1 159L685 162ZM696 141.2L694.8 141L696 138.7L696.5 140ZM544 146.2L543 146L542.5 145L542.9 144L548 140.8L550 140.7L550.2 142L548.8 144ZM849 145.1L847 145.2L846.8 144L848 141.9L850 141.2L851 141.6L851.3 143ZM578 148.2L576 148.6L575 148.2L574.3 145L576 143.4L578 142.8L579.5 146L579.3 147ZM771 147.2L765.8 147L764.8 146L766 144.3L767 144L769 144.7L772 143.3L773 143.4L773.5 144L773 145.6L772 146.9ZM834 150.1L832 149.5L831.4 147L832 144.5L834 143.8L837.2 145L836.4 146L836.7 147L839.1 147L838.8 148L837.6 149ZM548 151L547.3 150L547.7 149L550 146.1L553 145L554.8 146L554 148.6ZM568 147L566.8 145L568.6 145L568.7 146ZM865 149.1L862.1 148L861.8 147L863 145.4L864 144.4L870 144.1L870.4 145L870 146L867.7 148ZM784 150.3L781.9 150L781.2 149L781.8 147L783 146.3L788 146.2L790.3 147L788 147.8ZM803 151.2L800.3 151L800.5 149L802 147.8L805.1 148L805.8 149L805.4 150ZM618 155.1L617.5 155L617.4 154L619 150.1L623 148.6L625 148.9L624 152.5L620 153.5ZM723 157.1L721 157.7L719 157.5L718.6 157L718.8 154L717.1 152L717.5 151L720 149.4L722 149.5L724 150.5L729 148.7L729.7 149L729.3 151L725.5 154ZM593 152.4L592 152.8L590.1 152L594 149L594.7 150ZM523 156.1L521 155.6L519 154.1L516 153.9L514.9 153L517 151L518 150.8L520 152.6L526 150.8L527 151.2L527.4 152L526.4 154L525 155.4ZM495 153.5L492.9 153L493.5 152L496 151L496.9 152ZM808 157.2L806.5 157L805.3 156L806 154.4L811 151.8L812 151.8L813 152.5L813 154L812 155.4L810 156.7ZM584 155.1L583.4 153L584 152.3L586.2 153L585 154.7ZM645 154.1L642 154.5L640.7 154L642 152.6L644 152.2L645.8 153ZM758 154.4L757 154.8L755.4 154L756 153L758 152.1L759 153ZM790 156L787.8 154L787.7 153L789 153.5L791.3 153L791.9 155L791 155.9ZM487 158L485.5 156L486 155L487 154.7L487.9 155L488.3 156ZM634 158L630 157.3L629 156L629.4 155L631 154.3L637.1 156L636.9 157L636 157.6ZM664 159.3L662.9 159L663.3 156L664 154.9L666 154.4L666.3 157ZM749 160.1L746 160.8L745 160.4L744.4 159L744.6 158L748 155.6L751 154.8L754.2 155L753 155.4L751.4 159ZM767 157.5L766 157.6L765.8 157L768 155.1L769 155.2L769 156.2ZM603 160.2L602 160.2L600.5 159L600.6 158L601.7 157L605 156L607.8 157L607 158ZM536 169.1L535.2 162L531 160.4L530.7 160L532.1 159L535 158.6L537 159L540.2 163L539.6 167L537 169ZM816 166.3L813 166.6L807 164.3L804 164.2L802 163.2L801.5 162L803 160.6L805 161.2L809 161.1L813 158.9L814 162L815.6 163L816 164.2L817.3 164L817.4 165ZM614 168.1L612.8 168L612.9 167L614.5 165L615 163L617 161L617.1 165ZM693 166.3L692 166L691.3 165L691.5 164L694 162.9L695 163.5L695.1 165ZM792 165.2L791 165.5L790.4 165L791.6 163L793 162.4L793.8 163L793.6 164ZM595 176L594 176.1L593 175.3L590.7 171L592.4 169L598.5 165L598.9 164L600 163.8L600.2 165L598.7 168L599 169L602.2 170L599.1 171L598.8 172L600.5 173L599.5 174ZM668 168L665 168.4L663.5 167L664 166L665 165.5L669.1 165L670.2 166L669.7 167ZM836 166.1L833.8 166L835 164.7L836.1 165ZM789 167.1L788 167.4L787.3 167L790 165.4L790.6 166ZM568 171.1L564 171.8L563 171L563.6 169L569 166.2L569.4 167L568.2 168L568.1 169L569 170ZM511 169L510 169.5L509.7 169L511 167.5L512 167.7L512.3 168ZM748 175.1L746 175L745.1 174L744.9 173L746 171L749 168.8L752 167.6L755 167.4L756.2 168L753.4 171L752 174.4ZM797 171.2L793 170.4L792.9 170L796.1 168L799.2 168L798.8 170ZM642 170.1L641.6 170L641.6 169L644 168.4L644.7 169ZM773 174.1L771 174.1L770.6 173L772 171.4L774.4 170L780 168.3L781 168.9L784.2 169L781 172.5ZM635 170.2L634 170.7L633 170L634 169.4L635 169.6L635.4 170ZM820 171.1L819 170L821.4 170ZM632 172.1L630.9 172L633 170L633.7 171ZM650 172.1L648.9 172L647.7 171L651 170.4L651.8 171ZM527 177.1L525.7 177L527 174.2L529 172.3L531.2 172L531 173L529 174.5ZM684 174.8L683 174.1L682.9 173L684 172.3L687 171.5L689.1 172L685 173.7ZM499 181.1L495 181.9L493.3 181L493.3 180L498 175.1L500 174.4L501 174.8L502.8 177L500.9 180ZM544 177.1L542.3 177L542.3 176L544 174.9L546.3 175L546.2 176ZM736 180.3L735 180.8L731 180.6L730.3 180L730.3 178L732 176.1L734 176.4L737 174.6L739 174.6L739.6 175L739.2 177ZM627 178.5L626 178.7L625.8 178L628 175.8L629 176ZM552 179.1L551 179.7L550 179.7L549.4 179L551 177.7L552.1 178ZM811 180L809.3 178L810.2 178L811 178.9ZM589 181.1L587 181.5L585 181.3L584.3 181L584.3 180L591 178.4L592 178.6L592.3 179L591.7 180ZM645 181.1L641 181.6L639.7 179L645.7 180L645.8 181ZM671 183L666 182.1L662 182.5L661 182L664 180.5L666 178.6L670.4 180L671.8 181L672.1 182ZM768 181.1L767 181L766.3 180L768 179.5L769 179.8L769 180.6ZM527 185.1L525.6 185L525.4 184L526 183.3L528 182.6L529.3 183L528.8 184ZM674 186.1L672 186.3L671.5 185L676 183.6L675.4 185ZM696 189.3L694 189.3L693 188.6L692.9 187L694 185.6L696 184.5L700 184.5L700.7 185L699.9 187ZM749 187.2L747.8 187L746.5 185L749 184.3L750.7 185L750 186.6ZM564 190.2L562.8 190L562 189L562.6 188L565 188L565.5 189L565 189.9ZM640 190.1L638.8 189L640.6 188L641.7 188L641.7 189ZM650 193.1L646 193.7L645.9 191L646.6 190L648.5 189L652 189.1L653.1 190L653 191L652 192.3ZM571 196.6L570.2 196L571 194.2L575 193.3L578 190.6L582 189.8L584.5 190L584.3 191L583 192.1L574 194.6ZM571 192.6L570 192.9L569.2 192L571.8 191ZM617 215.1L616 215.5L615 215L614.8 213L619.8 209L621.9 203L621.5 201L618.8 198L623 195.4L625 195.5L628 194.6L633 191L635 190.6L636.3 191L636.8 192L635.9 193L630 196.4L625.4 201L625 202L625.6 203L627.3 204L627 205L623.4 210ZM690 198.3L688 198.3L686.6 197L687 193.7L689 192.4L690.5 193L691.1 197ZM617 196.2L614.7 195L615.8 194L618 193.5L620.5 194ZM545 198.4L542.6 198L544 195.6L545 194.8L547.9 195L546.8 197ZM598 197.1L597.4 196L598.9 195L602 194.3L603.2 195ZM647 199.3L640 199.7L638.3 199L638 198L640 195.8L645 194.2L647 195.7L650 196.1L650.3 197L649.4 198ZM753 199.6L752 199.7L750.9 199L752 197.7L753 197.8L753.7 199ZM605 205.3L602.9 205L604 202.7L606 200.8L608 200.2L609 200.5L609.4 201L609 202ZM595 205.3L591 206L586 206L584.3 205L584.2 204L588 202.1L590 202.7L592 204.3L595 202.8L596.2 204ZM635 217.5L633 217.1L631.8 216L633.6 213L632.8 211L633.1 210L635 208.4L639 207.4L643 205.4L644 205.3L645 205.9L644.3 207L637.9 212L637.1 213L637.6 215ZM566 208.1L564.8 208L565 206.6L566 206.4L567.1 207ZM699 210.1L698 210L698.6 209L697.9 208L697.9 207L700 206.9L702.3 208ZM690 209.3L688.5 209L690.4 208L690.9 209ZM553 212.1L550.8 212L555 210.1L555.7 211ZM670 219.1L667.5 219L666.9 218L667.1 216L669 213.6L673 211.4L673.9 213L673.5 215L672 218.5ZM570 215.3L569 215.6L568.3 215L571 212.4L573 212.2L574.5 213ZM695 215.8L693 215.3L693 214L694 213.6L695.5 214L695.8 215ZM648 223.1L645 222.9L644.4 222L645.1 219L643.7 217L644.7 216L648 215.5L648.8 216L647.1 218L649 218.8L653.4 219L654.9 220L653 221.6ZM682 219.1L680 219.8L678.9 219L681 217.3L683 216.9L683 218.4ZM576 232.4L574 232.5L573.2 232L574.2 231L572 230.2L569 230.2L568.3 229L569.6 228L570.3 226L572 225.2L576 224.2L579 224.3L580.3 225L580.7 226L580.6 228L577.2 230L576.7 232ZM640 231L637 231.7L634.9 231L636.7 228L639 226.3L642 225.9L643.9 227L644.1 228L643.5 229ZM615 230.3L613 230.7L612.5 230L614.3 228L617 227.3L617.4 228ZM653 236.1L651 236.4L650.8 235L652 232.3L653 231.9ZM658 244.1L657 244.2L655.5 242L658 239.9L659 238L662.8 235L663.9 232L665 231.4L665.8 232L665.4 235L666.8 238L662.3 240ZM597 238.2L593.7 238L594.1 237L596 235.5L598 234.8L599.4 235L600.1 236L600 237.1ZM644 236.1L642 236.8L641.5 236L644 234.8L645 235ZM649 242L648.7 241L647.6 240L648 239L650 238.1L651 238.6L651.8 240ZM617 242.3L617 241L618 240.4L618.8 241ZM636 248.2L634.1 248L637 244.3L638 244L638.1 245L639.4 246ZM597 252L596 252.8L595 252.5L594.7 251L597.7 248L598.2 245L600 244.3L600.7 245L600.4 246L598 251ZM629 254.2L627 254.5L625.9 254L630.9 248L633 248.3L633.3 249L631.1 253Z"/><path fill-rule="evenodd" fill="#2a80cd" d="M738 62.1L736.1 62L738 60L739.1 61L739 62ZM695 77.1L691.8 77L694.9 75L695.3 73L696 72.4L696.8 74ZM761 76.6L760 76.8L759.3 76L759.5 75L760.1 74L762 73.6L762.6 75ZM784 79.1L782 79.7L781 79.4L780.8 78L782 76.8L785.2 77L785.9 78ZM728 80.2L725.9 80L729 78.8ZM761 85.1L756.1 85L754.1 84L756 80.8L756.2 83L758 83.9L764 81.5L767 79.6L768.2 80L768.2 81L766 83.5ZM678 84.1L677 85L676 84.9L673.4 83L674.4 82L677 82L677.9 83ZM724 85.3L720.7 85L721.5 83L723 81.4L724 81.1L726.7 84ZM699 92.2L698 92.7L696 91.2L692.3 91L692.4 90L696 88.7L700.1 86L702.6 88L700.6 91ZM740 94.2L738 94.9L737 94.6L736.7 93L738 89.7L739 88.7L741 88.2L742.2 89L742.4 91ZM710 92.2L709 90L711 89.6L711.8 90ZM721 93L720 93.5L719.6 93L720.9 91L722 90.5L723 90.8ZM650 94.3L649 94.7L647.9 94L649.2 92L651 91.5L651.6 92L651.5 93ZM819 100.4L818 100.7L817 100L820.1 97L820.6 96L820.2 95L822 94.2L822.7 96L822.6 98ZM807 97.4L804 97.9L803 97L805 96.2L807 96.1L807.7 97ZM687 101L686 101.4L684.3 101L682.9 98L684 97.5L685 98L686 100.2L688 99L688.9 99L689.1 100ZM630 105.2L629 105L628.8 104L629 101.5L629.8 100L633.9 100L632 103.5ZM655 103.2L654.6 103L654.9 102L651.9 101L655 99.7L659 99.3L660.5 100L659.3 102ZM857 105.1L856 105.3L854 104L853.5 103L856 101.3L857 101.6L857.9 104ZM727 104.1L725.4 104L725.1 103L726 102L727 102.1L727.9 103ZM873 110.2L871.5 110L870.7 106L871 105L873.8 103L876 102.4L879.1 104L879.7 105L879 107L876 109.1ZM706 111.2L705 109L704 108.2L700.9 107L700.4 106L702 104.1L704 103.4L706 103.6L708 104L709.1 105L710.5 108L710.6 110L709 110.5L707 110ZM610 110L606 110.4L605.1 108L605.9 106L608.1 105L609.5 107L609 108ZM640 108.2L638 108.8L636 108.7L634.5 108L633.9 107L634.3 106L636 105.2L641 104.6L641.7 106ZM665 108.3L664 108.2L663 108.8L662 108.2L661.8 107L664 104.8L667 104.5L667.1 106ZM688 109L686 109.1L685.6 108L686.7 106L688 104.9L690.3 106L690.4 107ZM768 109.4L767 109.6L765.8 109L766 106.4L769 104.5L771 105L770 108ZM854 113.1L853 113.5L852.4 111L855 108.8L859 108.2L864 104.9L865.6 106L863.6 108ZM572 109.1L570.6 109L570.6 107L572 105.3L575 105.2L577.4 106ZM735 111.1L734 111.3L733.2 110L733.1 109L733.8 108L737 105.8L740 105.2L740.4 106L739.3 108ZM540 112.4L539 112.7L538.2 112L539 111L538.9 109L542 107.1L543.6 107L544.3 108L543.7 110ZM718 109.4L716.4 109L718 108.5L718.7 109ZM812 114.3L810 113.1L810.1 111L813 109.2L815.4 109L816.2 110L814 111.2ZM746 118.3L744 118.6L742.7 118L741.8 115L743.5 113L747 111.6L748 112L744 115L744.3 116L746.4 117ZM828 115.3L826.9 115L826.1 113L828.4 113L830 113.7L829 115ZM852 118.1L849 118.4L847.7 117L849 115L852 113.5L853 114.3L853.4 116L853.2 117ZM512 119.1L511.5 119L511.5 118L512.2 117L515 114.8L517 114.7L517 116.6L516.1 118ZM591 116.1L590.5 115L593 114.5L593.6 115ZM602 116.3L601 116.8L600 116L601 114.8L603 114.7ZM644 129.2L642.1 127L644 125L643.9 122L644.9 120L644.8 119L641.9 117L641.5 116L641.8 115L645 114.1L646.8 116L646.8 117L645.3 119L645.2 120L648.1 122L646 124.1L644.2 125L644.4 127ZM686 117.4L685 117.7L684.2 117L686 115L689 114L689.3 115ZM692 125.4L689 125.7L686.3 125L686.6 120L692 115.4L693 115.3L694 116.2L697 116.5L704 114.2L704.8 115L703.7 117L704 117.8L705.1 118L700 118.6L697 119.7L694.2 122L694 122.8L693 122.1L691.5 123L692 123.6L693.4 124ZM871 119.1L869 119.6L868.1 119L867.9 118L869 116.2L872 114.6L874 114.5L874.7 115L873.6 117ZM797 120.1L795 120.4L793 118.7L790 118.6L789.4 118L792 115.6L798 116.8L798.1 119ZM631 119.6L629.1 119L628.3 118L630 116.5L632.3 117L632.4 118ZM769 130.1L765 130.6L764.2 130L765 126.4L766 127.3L768 127.7L772 126.1L772.4 125L774.5 123L774 122L772 121L778 116.4L778.1 118L778.8 119L781 119.5L782.8 121L782.5 122L776 125.4L772.8 129ZM607 129L605 129.9L604 129.7L603.7 128L605 125.6L608.1 122L608.8 120L612 117.6L614.8 118L614.8 119L614.1 120L610.1 123L609.6 127ZM680 119.6L679 119.9L676 119.2L673 119.9L671.9 119L673 117.6L676 118.8L680 118.4L680.6 119ZM815 120.6L813 120.9L807.6 120L810 118.3L815 117L817.1 118ZM719 124.1L716.6 124L718 122.7L719 120.6L720 119.9L721.3 120L721.3 122ZM804 121.2L802 121.6L800.1 121L800.6 120L802 119.9L803.1 120L804.5 121ZM850 126.4L849 126.6L848 126L847.6 125L845.8 124L850 121.4L852 121.5L852.9 122L853.2 123L852 125ZM559 129.1L557 129.3L555 128.8L554.5 128L555.2 127L555.3 125L560 123L561.1 123L561.1 124L558.8 128L559.3 129ZM741 127.2L738.6 127L742 123.3L744.3 123L744.7 124L744.1 125ZM834 126.2L833.7 125L834.3 124L836 123.3L836.4 124ZM572 128.1L566 127.4L564.3 128L562 128L563 127.9L565 126L567.7 125L571 125.4L575 124.6L576.4 125ZM608 133.1L603.6 133L607.4 131L610 127.5L612.3 126L617 125.1L621.2 126L621.6 127L620 128.5L614 130ZM670 127.1L669 126L670 125.3L670.6 126ZM506 132.1L504.3 131L504.6 130L507 128.9L508.3 129L508.6 130L508.1 131ZM628 132.1L624 132.8L622.3 132L622.7 131L624 130.4L625 130.1L626 130.7L629 129.8L629 131ZM786 134.1L782 133.9L780.7 133L780.9 132L783 130L786 129.9L788.8 132L788.6 133ZM528 133.1L526 133.3L525.3 133L525.4 132L527 130.8L528 132ZM588 137.2L586 137.8L583.5 137L583.9 136L586 134.6L590 134.7L593.2 133L593.3 134L592 135.7ZM687 135.1L686 136L685.3 134L687 132.9L687.5 134ZM645 134.8L642.4 134L644 133L645.5 134ZM665 136L664.3 135L665 133.6L666.2 135L666 135.9ZM747 137.6L744 137.9L743.5 137L744.7 135L746.3 134L749.2 134L747.9 135L748 137ZM505 142.2L503 142.4L498 140.4L496.8 139L496.9 138L498 137L501 135.7L505 134.6L508 135L506.5 138L507.7 141ZM805 137.2L802.5 137L804.5 135L806.4 135L806.8 136ZM818 138.3L815.9 136L816.8 135L818.8 135ZM702 145.1L700.9 145L702.3 142L701.3 140L703 137.4L706 137.4L709 136.4L713.1 136L713.4 138L712.6 139L705.2 142ZM729 138.3L727 138.3L726.8 137L729 135L730 135.2L730.6 136L730.3 137ZM796 138.2L795.4 137L796 136.6L796.9 137ZM770 145L768 145.6L766 145.1L761.9 141L761.4 139L763 137.9L767 137.6L768.3 140L771.5 142L771.2 144ZM657 145.4L656 145.9L655.6 144L657 142.9L658.2 143L657.2 142L659 139.2L662 138.6L664.1 140L664.4 142ZM694 140.6L693 140L694 138.8L695 138.9ZM824 140L823 140.8L822.2 140L824 138.7L824.5 139ZM732 142.1L732 140.6L733.2 140L733.7 141ZM813 152.2L811.6 152L811.8 150L817.3 144L819 139.2L821 140.3L822 140.2L822.8 141L821.1 143L821 145L824 147.2L824.6 148L824.4 149L820 151.8L817 151.2ZM623 151.4L620.9 150L621.2 149L628 145.2L630.3 143L637 141.4L638.7 142L638.7 143L633 144.7ZM670 146.3L668 146.8L667 146L665.5 143L666 142.3L668 141.8L670 142.4L670.7 144ZM742 146.1L739 146L737.4 145L737.5 143L739 141.3L741 141.3L742.4 142L742.8 143L741.7 144L744.2 145ZM867 148L865.7 147L865.8 145L864.7 143L864.8 142L868 142.7L869.7 144L868.2 147ZM594 146.2L592 146.8L590.4 145L590.8 144L595 142.7L595.9 143ZM647 144.4L645 144.4L644.8 143L647 142.4L647.6 144ZM522 145.3L521.3 145L521.9 144L523.2 144ZM542 150L537 150.5L530.6 149L530.9 148L532.8 147L544.2 144L545.3 145L544.9 148ZM785 146.1L783.9 146L783.3 145L783.6 144L787 143.5L787.9 144ZM710 153.1L709.3 153L709.7 152L713 148L713.8 146L715 145.3L716 145.8L714.6 148L715 149.2L716.1 150L713.5 152ZM720 149.2L718 149.5L717.6 149L719.2 147L722 146L722.9 147L722.3 148ZM647 153.7L645 153.6L642.2 152L642.4 151L645 148L648 147.4L648.4 152ZM759 158.2L758 158.6L757.2 158L757.4 156L756.8 155L754 154.1L753 153L752.6 150L753 148.9L754.2 148L757 148.1L757.8 149L757.2 152L757.6 153L761 154.1L762 155L760.9 157ZM573 152.3L571.6 152L571.7 151L574 149.4L574.3 151L573.9 152ZM506 155L504 155.5L503.2 155L503.5 153L502.1 151L504 151L505 152L509 151.9L510 152.7L510 154.5L508 154.2ZM690 154.2L686 155L685.3 154L688 151.5L692 150.8L692.7 152L692.5 153L692 153.7ZM734 156.3L732.6 156L732.7 155L735.1 153L739 151.1L740.1 151L741 152L739.1 154ZM774 156.2L772 156.2L770.8 155L776 150.7L780 151.4L780.4 152L779 153.3L775 153.5L774.1 154L775.4 155ZM627 156.1L625.9 156L626.8 155L632.4 152L634.7 152L636.3 153L634 154L630 154.4ZM797 157.8L794 157.4L793.9 157L796.2 153L798 152.1L798.5 153L797.4 155ZM524 156.1L522.9 156L522 155L522.7 154L525 153.2L526 154ZM492 155.3L491 155.5L490.4 155L492 154.2L492.7 155ZM695 162L693.9 162L693 161L692.1 157L693 154.3L694.2 157L696.5 158L696 160L697 159.5L697.6 160L696.9 161ZM750 163.2L750 162L749 161.1L744 164L742.6 163L746 158L750 157.5L751 158L751 159.2L752.7 161L752.6 162ZM674 170.1L670 165.6L666 163.8L666.3 161L669 158.9L671 158.5L674 159.2L674.7 160L675 163.4L677.1 165L674.6 169L674.6 170ZM515 163L512 162L513.2 161L516 160.7L518.1 161L519 162ZM548 168.1L546 168.7L544.3 164L545.6 162L548 161.1L552.3 163ZM598 171L597 170.9L596.7 170L601 164.5L605 162.8L607.1 163L606 168ZM821 166.1L819 166L818 165.2L818 163.9L819 163.1L820 163.2L821 164.2L823.5 165ZM799 167.1L798.1 167L799 165.8L802 164.9L804.5 165L804.6 166ZM770 170.4L769 170.7L768 168.1L769 166.6L770 166.3L771 167.4L772 167.6L777 165.5L778 165.3L778.7 166L776 167.9ZM515 170.1L512 170.9L509.3 170L512.2 167L515 166.2L517 166.4L517.9 167L517.4 168ZM575 171.4L569 171.6L568.4 171L571 170.1L576 166.4L577.6 169ZM655 169.2L654 169.7L653 168.2L651.9 168L655.1 168L655.5 169ZM610 171L608 170.9L607 170L607.8 169L610 169L610.7 170ZM648 173.1L646.3 173L646.2 172L647 170.2L648 169.6L648.6 170L648.3 171L649 171.9L650.3 172L649 172.1ZM681 171.1L679 171.8L676.7 171L675.7 170L681 169.2L681.7 170ZM727 179.2L725.2 179L724.9 178L726.5 175L726.6 174L726 173.8L715 176.9L713.8 176L713.6 175L714 174L717 171.9L719 172.8L720.7 172L721 171L722 170.8L727 169.8L732 170L733.1 171L731.4 173L731.4 176L729 178.3ZM790 173.7L788 173.5L782.6 171L784 170L786 169.8L790.3 172ZM606 182.1L604.4 181L605 179L604.1 177L610 172.3L611 171.8L613 172.2L613.3 173L612.9 174L609.7 179L607 181.9ZM646 181.2L644.3 181L646 179.1L649 178.3L651.9 176L656 173.9L656.6 175L659 174.9L659.9 176L657 180L655 180.1L653.6 179L652 178.9L650 179.2L649.3 180ZM671 180.1L669 180.1L667.7 179L666.4 176L668 173.4L669.6 174L670.3 176L672.4 179ZM538 177.2L536 177.6L535.3 177L538 174.4L538.6 175ZM771 180.2L762 180.7L760.8 180L762 178.5L765 179.3L771 175.1L772.7 175ZM578 178.1L575 178.8L574.8 178L577 176.7L579 176.6L579.3 177ZM634 179.1L633.6 178L635 176.5L639 176.4L641.2 177L640 178.1ZM684 179.1L683.5 178L684 177.3L686 176.2L686.5 177ZM744 185.1L742 185.2L738.1 183L738.8 181L740 179.7L743 178.7L745 179.1L745.7 180L746.2 181L745.8 183ZM720 180.4L715 180L719 179.5L720.5 180ZM546 187.1L544 186.7L542 182.8L537.5 182L540 180.7L545 180.8L547 181.5L548 183.3L549.1 184ZM687 185.3L685 185.5L684.4 185L689 182.6L688.8 184ZM720 186.1L719 186.5L717.3 186L715.9 185L715.7 184L718 183.9L720.8 186ZM726 185.2L722 185.4L721.6 185L723 183.8L726 183.5L728.1 184ZM759 194.2L757 194.8L756.3 194L759.6 191L760.8 188L767 183.5L768 183.9L768.3 185L767.5 186L768.1 187L764.4 190L763 192.5ZM593 195.6L592.2 195L592.1 194L592.8 192L595 191L597.4 187L599 186.6L600 187L600 189L599 190.8ZM608 192.8L607 192.8L606.8 192L608 190.5L608.9 192ZM708 192.1L707 192.7L706.1 192L706.3 191L708 190.5L708.7 191ZM630 199.2L628 199L625.2 196L625.6 195L628 193.2L631 192.7L632 193L632.7 194L632.6 195L631.4 198ZM539 198.1L537 198.3L535.4 197L536.4 196L540 194.6L542 194.9L542 196L541 197.9ZM589 200.2L588 200.5L587.3 200L592 196.6L593 198.3ZM526 202L523 201.7L522.5 201L524 199.8L527 200.4L530 199.6L531.3 200L531 201L530 201.6ZM554 205.6L553 206L551.3 204L552.4 201L554 200.2L559.7 201L558 203.2ZM597 204.2L594.8 204L596 203L597.7 203ZM704 208.2L702 208.8L700 208.1L700.5 206L702 204.4L704 203.3L707 202.6L710.1 203L710.8 204L710 205.7L709 206.6L707 206.8ZM618 211.2L616 211L613 208L613.9 206L615 205.1L616 204.9L617 206.6L618 207L622.5 207L620.2 210ZM638 210.1L634 210.8L632.5 210L632.8 209L634.1 208L640 205.3L643 204.6L644.8 205L645.2 206L643.4 208ZM679 206L677 206.7L676.5 206L678 204.9L678.8 205ZM555 210L553.6 208L554 207.4L555 208.5L558.1 209ZM567 214.4L566 214L565.8 212L567 209L569 208.7L570.4 210L570.3 211L569 213ZM602 214L600 214.4L599.3 214L600.4 210L603 208.7L605 208.4L606.7 209L606.2 211ZM548 213.1L546.1 213L546 212L547 210.2L550.6 211L550.8 212ZM720 219.5L717 219.3L716.9 218L721 214.9L724 214.2L724.6 215ZM576 221.2L575.3 221L575.3 220L576.5 218L582 218L582 219L580.3 220ZM614 219.2L612 219.9L610.8 219L612 217.6L614 217.2L615.1 218ZM615 229.4L612.5 228L611.9 227L612.5 226L615 224.9L618.4 225L618.9 226ZM637 226.2L636.2 225L637 224.4L638.1 225ZM577 230L573.4 230L572.9 229L573.2 228L581 227L581.2 228L580 229ZM567 230.2L565 230.4L564.6 230L567 228.9L569.3 229ZM632 232.2L630 232L630 231L633 228.9L634 228.5L635 228.9L634.1 231ZM584 235.1L581.8 235L581.7 234L585.6 234ZM682 240.2L680.9 240L682.8 237L684 236.6L685.3 237L685.6 238L684 239.5ZM612 247L611 247.7L609.4 247L609.7 246L613 243.6L615 243.3L616 244L615 245.2ZM635 248.2L633 248.8L632 248L633 247L635 246.6L636.7 247ZM640 252.2L639 252.7L637.8 252L640 248.6L644 247.4L647.1 248L644.3 249ZM614 252.2L612 252.1L610.4 251L612 249.6L614 249.1L615.4 250Z"/></g>
<g filter="url(#soft)"><path fill-rule="evenodd" fill="#1da214" d="M183 555.4L179.4 553L175 551.4L172 551.3L169 552.2L165.8 552L164.9 549L165.3 548L167 547L169 547L169.6 546L169 544L165 539.9L164 543L163 543.9L162 543.1L161.1 538L161.6 535L156 531.3L154.8 531L154 530L154.2 527L153 524.4L147 522.3L145 522.5L142 523.6L139.5 523L138.7 521L140.5 517L140 516.5L139 515.9L136 515.9L134 515L132.7 513L129 511.9L127 512.1L124.8 511L124.9 510L128 508.3L128.5 507L125.1 506L124.3 505L124.5 502L126.2 499L122 496.5L117 496.2L114 494.3L112 494.6L111.2 494L112 492L111.5 491L107 487L104 486.1L103 485.1L103.3 484L101.8 482L101.7 480L101 479.4L97 478.2L95 476.8L93 476.3L91 474.4L88 474.2L85 473.3L82 473.9L81 473.5L78 471L78.7 469L78 466.7L75.7 465L75.3 464L73 463L72.4 462L73 460.9L75.1 460L75.2 459L71 459.2L70 458.8L69 457.1L68.5 455L68.8 454L66.4 450L67.1 447L66.8 446L65 445.5L63 445.9L61 445L54 445.1L52 443.2L51.6 442L52 441.2L53 440.7L55 441.9L57.2 439L56.7 438L52.6 436L54 434.6L55 431.2L56 430.2L59 430L59.7 429L59 428.2L56 427.7L53.1 426L50 426L49 425.3L48.9 424L49.9 422L50 420.5L51.1 419L47 415.9L43.3 416L43.9 415L45.4 414L49.9 413L50.4 412L53.7 410L54.4 409L54 408L49 407.5L47 406L47 405L50 403.9L50.8 402L47 401.2L46 400.4L45.8 398L47 396.4L49 395.6L51.9 399L52.1 400L54 401.1L56 400.8L63 397.8L66 398.1L69 401.2L70 401L72 398L77 398.6L79 399.7L80.6 397L84 394.4L85.3 396L88 396.2L89.5 394L91 393L90.9 392L91.5 391L94 389.8L95.7 390L99 391.9L100 390.8L104 389.7L107 390.5L108 389.6L111 388.5L112 387.3L115 387.8L117 386.2L120 386.9L121.9 389L123 389.1L124 388L124 385.9L127.3 386L127.7 385L127 383L127.1 382L129.6 380L132 379.3L134 379.5L135 380.4L136.1 382L135.7 385L136.7 386L138 385.9L141 384.3L143 384L143.4 381L144.5 379L152 374.4L153 374.3L154 375L152.4 377L153 377.8L155 378.1L157 379.7L161 375.8L163.6 375L166 373.4L169 374.2L170 377.2L171 377.7L176.4 376L177.2 375L177.1 373L176 371.9L175.5 372L175.8 373L174 373.6L170.9 372L171.9 370L175 368.7L178 368.9L181 368.1L182 368.8L182.4 372L179 372L178.2 373L180 374.3L182 374.7L183.1 374L183.7 372L188.2 371L189.7 370L189 366.7L191 367.3L193 366.7L195.6 367L195.4 366L193.7 365L194 363.8L197 364L200 363.1L202 365.4L203 365.8L205 365.5L206.4 364L206 362.2L204.5 361L204.4 360L205.5 359L207 358.8L211.2 360L211.6 362L211 364L209.9 365L213 365.2L221.7 363L223 361L226 359.3L229 358.5L231.2 356L233 355.6L235 356L236 355.5L236.1 354L236.9 353L240 351.4L243.9 353L243.2 354L243.4 355L245 355.9L246 355.6L248.3 354L248.9 353L247.8 351L247.5 348L250 346.7L253 347L258 346.3L258.5 347L257.8 348L253.7 351L255 353.7L256 353.9L258 352.8L261 352.5L263 350.7L265 350L264.7 349L261.7 347L263 346L265 345.6L271 345L275 345.6L275.7 347L275.2 349L276 349.6L282 349.8L283.7 349L282.3 347L284.2 345L284.6 343L288 340.5L290 339.9L291 340.1L294 343.3L297 342.7L298 343.5L301 344L304 342.3L307 344L309 347.7L312 348.7L318 347.8L319 347.9L320 349.1L321 349.5L322 349.1L321 347L320 347.4L319.7 347L319.2 345L320 343.6L322 343.3L324 345.3L326 346.4L326.9 348L328 348.2L330 350.2L331 350.3L332 349.8L333 350.1L334.6 349L336 348.9L337.9 352L340 352.9L342 352.5L344 350.8L345 350.8L349 352.3L353 352.5L357 354.6L359.9 357L361 359.1L363 360L366 359.3L369 360.6L372 359L373.3 357L375 356.8L376.8 358L380.6 359L382 361.4L385 361.3L388 362L393 361L392.9 362L391.4 364L391.6 367L389.6 370L391 370.6L392.5 370L393 367.5L395 366.7L401 369.1L402.8 369L402.7 366L408 363.1L410 363.2L412 362.4L415 363.8L418.3 364L418.9 365L417 366.8L416 367.6L414 367.5L413 368L412.2 370L410 371.9L407 373L407 374.3L408 375.1L410 375.3L411.6 377L413 376.4L414 375.2L414.1 371L415 369.8L416 369.5L419 371.6L423 372.8L425 372.4L427 370.6L432 371.1L436.4 369L438 368.9L441.1 371L441.8 372L442 374L441 375.1L438 375.4L433.7 377L433.5 378L435 380.3L438 379.8L440 382.1L443 381.5L443.3 381L441.5 378L443 376.6L444 376.7L448 381L450 379.7L452 379.4L455 380L458 379.6L459.9 381L460.7 383L459 384.9L455 385.3L452.2 387L452.6 388L454 387.8L454.9 389L454 389.4L452.6 392L455.3 395L453.8 399L455 401L453.3 403L451 403L449.5 404L452.9 408L452.2 412L451 414L453.2 416L453 417.3L449 418.2L447.4 420L446.2 420L445.2 419L445.5 418L448 416L446 415.3L445 414L443.3 414L442 415L441 413.8L442 415L442 416L437 420L436 420.5L426 420.6L423.3 422L422 424.9L417.4 426L414 428.9L412.9 431L406 433.6L403 434L400 436.5L399 436.4L396 437.6L395 439.7L394 439.3L393.2 440L392 442.4L390 441.6L385 444.1L384 442.7L382 442.3L381.7 445L380.6 446L374.8 448L374.3 449L371.6 450L368 453.4L364 453.7L360 456L358.5 458L357 458.9L348.1 460L347.6 461L348.2 463L349.1 464L349.1 466L345 469.5L343 468.4L341 468.8L341.6 471L341.3 472L339 471.9L336 474.6L334.6 474L334 471.7L333 471.2L331.3 472L330 473.7L329 472.8L325 471.6L322.8 472L323.5 474L326.5 477L325 477.5L323.4 479L322.7 481L319 481.7L314 484.6L304.9 486L302.6 489L302.5 490L305.6 491L305.1 492L303 493.6L301 493.9L296 492.5L294 493L292.2 496L293.8 497L293 498L291 498.3L289 499.6L287 498.6L286 499.5L285 499.4L281 501.9L278 505.9L275 507.4L274.2 510L275.6 512L272 511.9L268 515.5L265 516.6L263.8 516L261.8 513L259 510.8L257.6 511L255 516.2L253 516.5L251.6 516L250.8 515L246.8 514L242 517.7L241.6 521L243.5 526L240 529.7L234 531.4L232.4 531L231 529.8L230 529.8L228.9 534L228 535.1L225 535.6L223 534.5L221 535.1L220 536L220 538L214 538.5L213 539.3L210 540.3L207 542.5L206.4 545L209 546.7L212 546.7L212.5 548L211.8 549L207 550.8L203 550.9L201.9 550L202.5 548L202.2 546L200.1 544L199 544L199.1 545L200 546L200.3 549L196 548.1L191 551.1L186 551.7ZM270.8 351L271.2 350L270 348.9L269.5 349L268.5 351L270 351.8ZM201 360.1L200 360.2L198.3 359L197.7 358L198 356.6L200 356.4L203 357.4L203.4 358L203 359ZM213 359.2L212 359.9L210.7 358L213 357.8ZM442 368L440.6 368L440.3 367L442 367ZM144 376.4L141.8 376L140.9 375L144 372.8L144.8 375L144.7 376ZM61 392.3L59.5 392L58.9 391L60 390.6L61.5 391L61.6 392ZM69 395.2L67 395.7L66 395.1L65.9 393L67 391.8L69 391.4L70.6 392L71.1 393L70.9 394ZM78.4 402L79.3 401L79 400.3L78 400.3L77.4 401L77.6 402ZM42 418.3L40.9 417L43 416.1L43.4 417ZM403 438.1L401.2 437L403 436.4L405 437ZM348 475.7L347 475.5L346 472.9L347 471.9L349.2 472L350.1 473L349.8 474ZM300.1 488L299 486.9L298 487L297.4 488L299 488.6ZM268.2 510L269 507.2L271 505L270 504L268 503.5L266.4 504L262.8 508L262.5 509L263.1 510L265 510.5ZM124 509.1L122.1 508L122 505.7L124 505.5L124.9 506L124.9 508ZM196 554.1L195.6 554L196 552.6L199 552.1L199.8 553Z"/><path fill-rule="evenodd" fill="#179313" d="M298 370.1L296 369.6L293.8 368L292.9 364L291 362.6L289 362.6L287 364.8L286 364.7L281.9 361L281 358.3L278.5 357L278.1 356L281 355.2L284 357L285 356.8L288.1 354L293 352L293.9 351L295 347.7L300 346.7L302 345L303 344.8L303.6 345L303.4 346L301.4 349L301.5 356L298.7 359L303 360.4L308 361L308.6 362L308.2 363L306 364L300 364.6L299.5 365L299.4 368ZM326 348.6L323 349L322 348.6L320.9 346L323 344.3L323.2 345L325.6 346L326.4 347L326.6 348ZM287 348.1L284.9 347L285 345.7L286 345.4L288.9 347ZM265 352.2L263 352.7L262.2 352L263 350.8L269 348.2L269.5 349L268 351.5ZM335 351.4L330.5 351L332 349.8L333 350.3L335 349.2L335.8 351ZM248 365L245 365.7L242 365L240.4 361L240.6 358L239 356.3L236.7 355L236.9 353L240 351.8L243.7 353L243.2 354L244 356L243.1 358L246 360.5L252 357.8L260 357.2L261.1 358L260.7 359L258.1 361L257 364.1L254 364.7L252 363.5L251 363.6ZM269 364.1L267 364.2L264.9 363L265.4 360L267 357.3L269 356.2L271 353.5L272 352.9L274 352.9L276 355L275.5 356L269.9 358L269.2 360L270.4 362ZM200 358.2L198 358.4L197.7 357L200.1 357ZM318 359.3L315.4 359L315.2 358L316 356.8L318 356.3L320.1 357L320.3 358ZM370 364.2L368 364L367.4 363L367.5 362L368.2 361L370 360.7L372 359.5L372.7 360L371.5 363ZM223 364L221.1 364L222.8 362L223 361L225 360.7ZM391 364.7L389.1 364L389.2 363L389.8 362L392 361.1L392.6 362ZM411 370.1L409 370.6L407.6 370L408.1 369L411 367.3L411 365L412.2 363L413 362.5L415 363.8L418.3 364L418.8 365L416.6 367L416 367.4L414 367.3L413 368L412 370ZM198 371.6L194 370.5L190.2 368L193 366.7L195 367.5L195.6 367L195.6 366L193.7 365L193.6 364L198 364.1L199.1 365L198.1 367L198.9 371ZM232 370.1L230 370.1L230 367L230.7 366L232 365.4L234 365.8L235.1 367L235 368ZM356 373.1L353 371.6L350 370.9L345 372.5L343 372.6L341.9 372L341.8 371L342.6 370L349.2 366L358 365.2L359.3 366L359.6 367L357.9 370L357.7 372ZM180 371.3L176 371.2L172 370L174 369.6L175 368.8L178 368.9L181 368.2L182 368.8L182 370.1ZM397 372L394.5 372L394.7 371L396 369.8L397.5 371ZM436 372L434.4 371L435 370.3L438.9 371ZM189 377.1L187.9 377L187.1 376L189 373.9L194 372.2L195.8 373L195.2 374L192 376ZM299 381.1L297 381.4L296 381L295.5 380L296.6 378L297 373.3L298 372.2L300 374L303 375L303.3 376L302 379.9ZM387 376.1L382.2 376L382.9 374L384 373.3L389 372.4L391.7 373L389.7 375ZM261 376.1L259.6 376L259.7 375L261 373.6L263 373.3L263.4 374L263 375.1ZM315 383.2L308 382.5L306.7 382L306.3 381L310.4 378L311.5 375L318 373.1L319.3 374L318.1 376L314.9 379L314.7 380L316 382L315.7 383ZM419 375.2L418 375L417.5 374L418 373.3L419.8 374L419.6 375ZM242 385.2L239 385.5L234 384.9L231.3 383L227.9 382L227.7 381L228.6 379L228 378.5L223 378.2L221.8 377L221.9 376L229 374.9L230.7 377L232 377.5L238 376.7L244 377L246 379.3L250.6 381L247 384ZM155 387.1L149.8 386L148 385L151.4 383L151.6 382L148 377L149.5 376L152 375.7L153 377.8L155 378.1L157 379.7L158.7 378L160 377.6L160.3 378L159.8 380L158 382L158.3 383L160.5 385L159 386ZM292 381.1L282 380.8L280 381.7L279.5 381L281.7 378L286 375.6L287.6 376L290 378.8L293 380ZM185 421.4L182 421.9L181.8 421L182.8 419L182.4 418L180.1 416L177.8 412L177.9 411L180.1 409L179.3 405L177 402.7L170.6 400L168 400L164 400.8L159 404.2L158 404.3L155 403L154 403.7L151.8 408L145 410.1L143 410.4L142.1 410L141.2 408L142.2 407L146 406L146.8 405L146.9 403L149 401.3L151 400.8L154 401.5L155 400.5L155.7 397L155 396.1L152.8 395L152.3 393L153 392.1L155 391.6L158 392.3L162 389.5L163 389.5L165 392.9L166 393.8L167 393.8L168.9 393L169.7 392L169.6 390L170.2 389L175 386.9L177 386.7L178.1 389L177.6 392L172 393L171.8 394L175 397.2L178 398.6L184 398.1L187 399.3L189 399.1L192 398.5L194 397.3L194.8 395L196 393.8L198 393.8L201 394.9L201.6 393L203.2 391L202.7 390L201 389.4L197 390.9L196 390.7L192.4 389L192.2 388L196 386.7L201.5 381L202.8 378L204 376.7L205 376.4L209 377.5L212 377.5L212.3 378L210 380.8L208.5 385L208.4 389L207 390.4L205.4 391L206.6 392L209 392.3L220 391.4L223 393.5L222.9 395L220 397L217 396.6L209 398.7L205.8 398L202 395L201 396L201.6 403L202.1 404L205 405.1L205.8 406L205 407.4L202 410.4L198.3 412L197 415.1L195 416.1L191 416.1L189 416.9L186.8 420ZM255 378.4L254 378.6L253.3 378L253.7 377L255 376.6L256.9 377ZM265 382.1L262 382L260.9 381L261.2 380L264 378.3L269 376.9L270 377.3L270.5 378L270.3 379L269.4 380ZM410 380.3L404 380.7L403 380L403.3 379L404.9 378L408 377.2L410 378.2L410.4 379ZM442 396.1L441 396.5L440 396L438.9 395L438.7 394L443.9 390L445.1 388L445 384L448.1 381L450 380L452 379.9L459 380.4L460 381.2L460.6 383L459 384.9L455 385.3L452.2 387L452.6 388L454 387.8L454.9 389L454 389.4L452.4 392L453 393.2L450 394.3L445 394.4ZM359 395.2L355 395.4L350 391.8L348 388L348.5 385L347.8 382L351 380.8L354 382.8L355 382.8L359 381.6L365 381.3L367 381.7L368.7 383L369.3 384L368.7 387L370 389L369.5 390L366 392.4ZM418 386.2L417 386.6L415 385.8L412.4 384L412.5 383L414.3 382L420 380.3L423 380.2L423.6 381L422.8 383L419.1 385ZM326 385.3L322 385.9L320.8 385L323.8 382L325 381.5L326.9 382L327.4 383L327.3 384ZM277 386.4L274 386.3L271.7 385L272.8 384L278 382.7L278.4 383L278.2 385ZM293 387.6L292 386.9L294.4 385ZM145 391.2L142 391.7L138.4 391L141 386.5L143 385.8L145 387.8L147.3 389L147.4 390ZM121 398L118 396.7L115 396.1L113 393.1L107 394.7L105.4 394L105.1 393L109.6 389L111 388.9L112 387.9L115 387.9L116 386.9L116.6 387L116.6 390L119 391.5L127 390.5L131 389.2L133 391.7L135 392.1L135.8 393L135.3 395L134 396.2L130 396.6L126 395.8ZM377 389.5L373.4 389L372 388L376 387.9L377.6 389ZM237 410.2L234 409.8L232 407.4L229.8 406L229.3 405L230 403.3L232 402L235 404.6L237.8 403L238.4 401L236.5 397L238 395.7L247 392.4L252 390L255 389.5L255.7 390L256.4 393L263.5 399L262.3 402L261 403.2L251 407L250 406.8L248 404.4L246 404.6L240.7 407L239.2 409ZM94 392.2L91.5 392L92 391L95 390.3L95.6 391L95 392ZM384 393.1L381 393.1L381 391L385 390.2L387 391L386.4 392ZM419 395.3L411 394.2L410 393L410.2 392L411 391L413 390.4L419 390.9L420.2 394ZM338 395.2L336 394.6L334.3 393L334.4 392L336 391.3L338 391.4L340.7 393L340.6 394ZM323 395.3L322 395L321.6 394L323 393.1L324.4 394L324 395ZM185 396.6L184.3 396L184.3 395L185 394.5L186 394.7L186 395.7ZM393 400.1L390 400.1L390 399L391.4 396L394 395.3L395.2 396L395.3 399ZM233 399.2L231 399.8L228.7 399L228 398L230 397.3L233 397.6L233.8 398ZM374 401.2L372 401.1L371 400L372 399L375 398L376.2 398L377.5 399L377 400.6ZM256.2 401L257.6 400L257.2 399L255 398.6L254 400.1L254.6 401ZM363 406L360.5 406L359.4 405L361 403L360.2 400L361 398.5L362 398.2L364.4 399L365.5 401L365.8 404L365.3 405ZM380 446.3L378.2 446L377 443L378 442.3L383 441.4L387 439.6L388 439L388.2 437L389.4 436L395 436.1L396.7 435L396.2 431L396.9 429L395.8 428L391 425.4L387 425.7L382 425.3L380 424.3L379.9 422L384.1 419L381 417.5L379.7 415L383 413.4L384 413.7L386 416.4L387 416.4L395.7 414L396.4 413L396 412.7L393 412.5L390.4 411L389.7 410L390.1 409L394 406.7L395.1 403L397 400.6L399 399.8L400 400.1L401.6 404L403 404.6L406 403.6L410 403.9L415 401.2L418 400.9L429 401.9L429.5 403L427.4 406L432 407.3L435 405.2L438.2 406L438.7 407L437 408.1L432 408.3L430 409.6L428 410L425 408.7L415 413.4L413 413.5L410 412.5L407.6 413L405.9 415L406.7 418L405.5 420L399 422.6L397.1 424L398.4 426L398.5 427L397.6 428L398 428.8L399.3 429L403 426.6L406 426.5L413 428.1L413.6 430L413 430.9L408 431.6L406.7 433L402 434.6L400 436.5L399 436.3L396 437.4L395 439.7L394 439.3L392 442.3L391 442.3L390 441.5L385 444.1L384 442.6L382 442.3L381.6 445ZM304 409.6L301 409.8L300 409L300.1 407L299 406.5L292 405.5L290.6 404L291 402L292 401.3L295 401.8L299 400.4L301 400.5L302.3 401L305 403.9L309 403.9L310.8 405L310.9 406L309 407.2L307.4 407L305 405.6L304 406L304 407L305 408ZM381 404L378.2 403L377.1 402L377.3 401L379 400.5L383.3 402L383.3 403ZM53 422L52 422.5L50 422.3L50 420.5L51.1 419L48.7 417L48.6 416L52.8 415L53.8 414L51.8 412L51.6 411L53.7 410L54.6 409L54.4 408L55 407.7L57 408.7L59.4 408L61.3 407L61.5 405L62 404.7L70 401.6L74.6 402L75.1 403L74.2 404L72 405.3L67.3 407L66.5 408L69 410L70.6 414L70.8 415L70.1 416L68 416.8L57 417.4L54 418.9L53 418.6L52.6 419L53 419.5L54 419.3L54.2 420ZM192.1 410L191.7 408L191 407.3L186.5 406L186 402.9L184 403L181.8 404L181.8 405L186.7 409L191 410.7ZM321 405.3L319 405.9L318 405.6L317.2 404L317.6 403L319 402.4L321.6 403L322.1 404ZM54 407.5L50.3 407L47.7 405L51 403.9L54.3 407ZM110 423.2L109 423.6L108.3 423L108.5 421L109.7 419L114.8 414L115.2 413L114.8 410L118 407L118.1 404L120 403.4L121.5 404L122.3 405L122.4 406L121.7 408L122 412L121.6 414L118.1 418L114 419.6ZM161 415L159 414.7L158 410.1L154 409.2L153.8 408L158 406.5L162.8 407L165.1 408L163.7 411L164.2 414ZM373 416.1L369 416.8L368 416.7L367.4 416L370.1 413L369.9 411L370.9 410L375 408.6L378 406.6L379 406.6L383.4 409L377.9 412L378.6 414L377.8 415ZM237 419L236.3 417L237.2 415L239 414.4L242 414.4L251 410.9L252 411L252.3 415L251.7 416L249 417.8L247 418.2L244 417.8L241 416.3L239.5 417L238 419ZM347 413.4L344 412.1L340 412L339.7 411L342 410.2L344 410.3L345.6 411L347.3 413ZM360 414.1L357 414.6L356.1 414L356.8 413L359 411.8L361.7 412L362 413ZM139 417.2L137.4 417L136.5 415L136.7 413L138 412.2L140 412.3L141 413L141.3 414L140.4 416ZM226 415.4L224 415.5L223.1 415L222.7 414L224 412.7L227.4 413L227.8 414ZM100 418.5L97.4 417L97.3 416L98 415L100 414.2L103.1 414L103.4 415ZM439 418.2L438.3 418L438.4 415L438.7 414L440 413.3L442 415L441.9 416ZM450 417.1L449 416.9L447 415L447.9 414L450 413.5L451 413.9L452.2 416ZM152 440L150 440.1L148.8 438L148.7 436L149.6 434L154.5 430L155.1 429L154.9 428L152.8 424L147.2 423L146 422.1L146.4 419L147.8 416L149 415.5L155 414.8L158.6 415L158.2 420L159.2 422L162 424L165 424.9L170 428L169.3 429L167 429.9L165 432L165 435L161 435.2L157 436.1ZM262 418.7L261 418.8L260.7 416L262 415.2L264 415.5L264.3 416ZM291 426.1L290 425L290.9 423L287 422.1L285.6 421L284.8 418L286 417L290 417L292 419L292.1 420L291.1 422L292 422.9L294.7 424L294 425.4ZM304 418.4L302 418.9L301.6 418L302 417L303 416.5L304.8 417ZM127 419.2L125.8 419L125.5 418L127 417.6L128.3 418L127.9 419ZM345 424.1L343 424.6L341 424.3L337.6 422L337.6 421L341 417.7L343 417.5L344.6 419L345.7 423ZM86 430.5L85 430.6L83 429.9L80 427.2L77 426.7L76 425.4L75.6 424L75.9 423L79 419L86 419.2L88.1 420L88.4 424L90.3 427L89.9 428ZM209 422.4L207 422.1L206.7 420L207.7 419L210 418.8L210.7 420L210.6 421ZM221 420L219 420.5L218.2 420L218.9 419L220 418.9L220.9 419ZM138 422.2L135 422.7L134.6 422L137 420.8L140 420.6L140.7 421ZM247 426.2L246.3 426L246.2 425L248.7 423L250 420.4L254 420.1L255 421ZM369 432.2L366.3 432L364.6 430L362 428.8L360 426L357.2 424L364 421.1L366 421L367 421.6L367.8 425L366 427.2L365.4 429L366 429.8L370.3 431ZM68 425L64.1 425L65.1 424L69 422.3L70 422.2L71 422.9ZM132 426.5L130 425.5L129.8 424L131 422.9L134 422.3L134.9 423L133 425.9ZM212 427.1L210.9 426L212 425.1L212.9 426ZM299 430.2L295.9 430L295 429L295 426.7L297 426.2L302.9 428L302.5 429ZM75 430.4L73.2 430L73.2 429L76 428L76.5 429L76 430ZM190 429L189 428.9L188.7 428L190 427.5L190.9 428ZM261 431.2L260 431.6L259.4 430L259.2 429L260 427.8L261.6 428L262 429ZM119 432.4L116 432.8L114.1 431L114.5 430L117 428.7L119.3 431L119.5 432ZM132 431L131 431L129.7 430L131 428.4L132.5 429L132.8 430ZM384 433L383 433.4L381.2 433L376.9 431L376.5 430L379 428.3L381 428.2L384.7 431ZM134 434.1L131.8 434L132 432.6L133.1 431L136 430.5L137.3 431L137 432.5ZM176 435.2L175 435.9L173.7 433L173.8 432L176 431.5L177.2 432L177 434ZM235 456.1L233 456.1L231 453.6L230 453.2L221 453.6L214 449.1L211.5 449L212 448.3L214 448.7L214.9 445L217 443.6L220 443.5L221.2 444L223 446L225.3 446L226.8 445L229 441.4L236 440L240 438L243 435.6L251 431.6L254 431.4L257.2 433L256.4 434L252 435.8L248 440L246 443L247 445L243.9 447L242 449L241 449.4L237 448L232 449.3L231.2 451L231.9 452L235 453L236 454L236.4 455ZM66 440.5L65 440.8L62 439.1L61.2 438L61.8 437L68 434L70.3 434L72.5 438ZM110 436.4L108 436.9L105 436.7L104.8 435L106 433.8L108 433.5L110.3 435L110.6 436ZM357 441.3L355 441.3L353.3 440L354 438L357 434.2L359 434L361.7 435L361.9 436L361 438ZM90 438L88 438.5L87.2 438L89 436.8L90.3 437ZM279 440.1L275 440.5L273 438.9L272.4 437L274 436.2L275 436.4L277 438.9L279.5 440ZM293 455.1L292 455L289 453L285 453.9L284 453.6L281.9 451L284.2 446L283.8 444L282.3 441L283 440L291 436.6L293.9 440L294.4 443L297 443.9L300.8 442L301.5 441L301.4 439L302 438.1L303 437.7L311 438.1L321 437.3L323.6 438L320.4 445L319 446.4L312 445.2L308 446.1L304 445.3L302 445.5L299.1 447L297.4 449L296.4 451L296.8 453ZM403 438.1L401.2 437L403 436.5L405 437ZM180 453.3L163.9 453L165.4 452L169 451.6L173 450.1L177 450.2L180.2 449L181 448L182.9 447L185 447.2L188 446.2L190.8 444L193 440.4L199 438.1L204 438.6L207 437.8L208.8 438L209 439.1L206.4 442L205 444.5L201 445.4L199.5 449L198 450.6L196 451.3L192 451L187 451.5L185 451L183 449.3L182 449.9L181.3 452ZM83 444.6L82 444.5L78 442.5L77.6 441L78 438.7L79 438.2L81 438.4L85 439.7L85.3 442ZM88 473L87 473.5L82 473.7L78 471L78.7 468L78 466.6L75.7 465L75.7 462L79.5 458L85 454.5L88.7 453L87.7 451L88.8 450L92 449.4L95 447.5L97.6 444L97.8 441L98.4 440L100 438.8L103 438.1L103.6 439L103.6 442L104.7 444L104.4 447L104.1 448L101 450.6L97.9 455L97.3 459L94.7 461L93 463.2L91 464.4L88 464.8L83 464.5L82 465L83.2 467L88 467.6L90 468.7L90.1 471ZM124 440.4L123 440.1L123.4 439L124 438.3L125 438.3L125.3 439ZM176 442L173.5 442L173.7 441L175 440.4L176.2 441ZM68 448.4L67 448.9L66.8 446L66 445.3L64 444.8L66 444.2L69.6 445L70.2 446L69.8 447ZM148 451.5L145 451.3L141 449.6L139.4 448L139 446L140.2 445L143 444.3L147.4 445L148.6 447L149.4 450L149 451ZM264 467L261 466.8L258 464.5L254 464.4L252 463L247.4 462L245 459.1L241 460.3L239.5 460L238.7 459L238.8 457L244.1 450L248 448.4L251 448.8L251.7 450L250.2 453L246.6 456L246 457L246.6 458L253 459.9L255 460L257 458.9L258.4 459L260.1 462L264.7 464L265.7 465L265.6 466ZM128 457.1L126 457.4L125 457L128 453.7L132 452.8L132.5 454L132 455ZM275 465.1L272 465.5L268.4 464L268 463L270.8 462L271.1 461L267.7 459L266.8 458L267.1 457L270.7 455L274 454L277 454.4L280 456.2L284 454.6L286.5 456L286.6 457L282 458.3L279 464.3ZM204 493.2L202 492.8L199 489L199.7 487L202.6 485L203 484L202.6 482L201.2 481L195 478.9L193 479.7L192.6 482L190 484L181 483.7L179 482.8L177.6 480L172.4 474L173 472.7L177.5 471L174.9 470L174.9 469L177 464.8L178 464L180 463.6L184 465.8L186 466L185.9 463L188 458.7L189 458.1L191 458L193.7 459L194.8 460L193.9 462L195 464L191 466.5L188 467L187.3 469L187.6 470L189 470.6L197 470.5L199.4 472L201 476.1L202 476.6L205 476.4L206.1 477L206.9 479L206.4 481L209.8 484L207.1 486L208 488L207.7 489L205 492.8ZM329 464.1L327 464.6L325.7 464L324.9 460L325.4 458L326 457.5L328 457.4L329.1 458L329.5 459L329 462L330.2 463ZM302 462.1L297.1 462L295.9 461L295.9 460L296.8 459L299 458.4L303.4 459L304 460L303.6 461ZM198 468.3L196.8 468L195.4 465L196 464.1L199 463.2L199 460.1L201 459.7L202.6 461L202.5 462L200.4 464L200 467ZM227 464L224.8 464L223.4 463L225 460.7L227 460.7L230 462L229.4 463ZM312 469.1L308 469.8L305.8 469L305.1 465L307 461.7L308 461.2L311 462.2L316.4 467L316 468ZM254 480.3L252.9 480L252.8 479L254.9 475L254.1 474L251 473L252.5 469L254 467.9L255 468.1L259 471.3L261 472.2L267 471.8L268.5 473L268.9 474L268.2 475L262.1 476L260 477.8L257 478.6ZM238 473.5L237 473.7L235.8 473L235.1 471L234.2 470L234.6 469L236 469.1L239 471.6L239 472.7ZM153 484.3L151 484.9L150 484.7L147.6 483L147.2 482L148.7 480L148.9 478L148.3 476L146.5 474L146 470L148 469.9L153 472.3L157 470.8L159 471.1L160 472L160.2 473L157.6 477L154.7 480L154.4 483ZM303 472.3L302 472.7L301.3 472L303 470.8L303.6 471ZM347 475.1L346 473L346.8 472L348 472L347.5 475ZM103 477.3L100 477.9L97 477.7L95.8 477L96 476L101.3 473L105 472.3L107.4 473L107.5 474L106.5 475ZM215 480.1L213.8 480L213.1 479L215.8 476L218 475.4L218.5 477L218 477.9L217 479.2ZM233 480.1L231.8 479L232.5 478L235 477.1L236.3 478L236 479.2ZM296 480.1L294 480.6L292 480.3L291.2 479L291.5 478L293 477.5L296.6 478L297.1 479ZM313 481.2L311 481.7L308.1 481L308.6 480L313 479.1L313.8 480ZM268 490.2L265 490.2L263.5 489L266 485.4L270 483.7L273 480.7L276 480.7L278 482L278.2 484L277 485.4L273 486.9L271 489.1ZM221 488.4L220 488.9L218 488.9L216.9 488L218 486.3L220 485.8L221.5 487ZM288 493.6L281 492L279.8 491L279.7 490L281.2 488L283 486.8L286 486.3L288.2 487L290.3 488L290.5 489L289 491L288.8 493ZM134 493.2L133 493.7L131 493.4L128 490.5L126.3 490L132 488.1L135 488.5L135.8 490ZM172 515.1L169 513.6L164 513.6L162.1 513L163.1 509L160 506.4L159.4 505L160.6 501L163 499.8L164.6 498L162.9 495L163.4 494L167 492.7L170 490L172 489.4L174.5 491L175.5 493L174.7 496L172.6 499L172 503L174.7 509L174.4 511L175 511.9L176 512.2L181 511.2L181.8 512L181.2 513L179 514.4L175 513.7ZM225 520.1L221 518.2L212 516.7L211.4 516L211.7 515L210.7 514L206 511.5L204.6 512L202.9 515L196 516.3L195.6 516L196.9 513L198.8 511L204 509.2L207 506L211.8 504L212.9 503L210.2 501L206 498.9L204.7 495L205.5 493L209 491.4L216.4 491L216.6 492L214.1 495L213.6 497L218.1 499L218.6 500L217.9 502L220 502.2L227 500.6L228.3 501L229 501.9L229.7 505L229.5 506L226.8 508L226.7 509L227.9 514L226.2 516L227.3 519ZM241 496L239 496.5L238 495.8L237.3 494L237.5 493L240 491.6L245 491.4L247 491.8L248.2 493L247.7 494L243 495ZM117 496.1L115 494.5L112 494.5L111.3 494L112 492.7L117 493.9L118.1 495L118 496ZM268 502.2L266 502.5L265 502.1L265 501L267 499.9L269 499.9L269.3 501ZM138 516.2L134 515L132.7 513L129 511.7L127 512.1L124.8 511L124.9 510L128 508.3L128.5 507L125 506L124.3 505L125 503.1L131 503.1L135.1 507L136 510L137 511.4L142.5 513L142.7 514L142 514.8ZM275 507.2L273.9 507L274 505L277.7 503L279.2 503L277.4 505L277.2 506ZM124 509.1L122.1 508L122 505.7L124 505.5L124.9 506L124.9 508ZM247 513L246 513.6L241 511.8L239.8 511L239.5 510L239.9 509L242 507.6L245.9 508L248 511ZM192 522.1L188 521.4L184.3 519L187 517.7L191 518.4L192.2 519L193.4 521L193 522ZM153 524.3L147 522.2L144 522.5L143 523.3L140 523.4L139 522.6L138.9 521L140 520.5L142 521.3L144 521.2L150 519.4L153 521L153.8 523L153.7 524ZM235 531L232.5 531L231 529.6L230 529.6L229.4 530L229 532L228 530.5L227.9 529L229 526.9L233 522.5L235 521.8L237 521.9L238.9 523L239.3 525L238.9 526L234.4 530ZM204 531.4L202 531.4L200.3 530L202.6 525L205 523.3L210 522.5L210.2 523L209 523.5L207.1 526L205.6 530ZM180 534.1L177 534.8L176.4 534L176.2 532L176.6 530L175.9 527L182 525.2L183.2 526L183.2 527L181.9 529L182.7 531L182.5 532ZM211 531.1L209.3 531L208.7 530L211 529.4L211.7 530ZM206 545.7L205.1 544L205.2 543L206.4 541L209 538.5L209 535L211 534.3L217 537L217.5 538L216 537.8L214 538.3L213 539.3L210 540.3L208 542.1L207 542.3L206.2 543ZM172 540.5L171 540.6L170.9 540L171.5 538L172.2 537L174 536.7L174 538ZM178 552.2L172.7 551L172 550.4L169 551.7L166 551.3L164.9 549L166 547.4L169 547L169.7 546L169 542.6L171 542.1L173 542.6L176 544.3L178.8 549L182 549.1L183.3 550L182 551.1ZM211 548L208 548.9L207.1 547L212 546.7L212 547.6Z"/><path fill-rule="evenodd" fill="#0c6b0c" d="M292 345.2L290 345.4L289 345L287.9 343L292 341L293.2 344ZM306 347.6L302 346.7L299.4 345L303 343L306.9 344L307.2 345ZM320 347.4L320 345.4L321 347ZM324 348.1L322 348.8L321 347L322 346.2L324 346.2L324.7 347ZM319 351.2L315.4 351L314 349L316 347.9L319 347.9L321.1 350ZM287 349.3L284.8 349L287 348.2L287.5 349ZM284 350.3L280.9 350L284 349.3L284.7 350ZM302 352.3L300 352.9L299.2 352L302 350.4L302.7 352ZM334 356.1L325.4 353L326 351.9L328 350.7L332 351.5L335 350.1L335.2 351L334.1 352L338.3 354L337 355.1ZM258 356L254.1 356L255.9 354L258 352.8L260.6 353L262.6 354ZM260 371.3L257 371.6L256.1 371L256.7 370L256.5 369L254.9 368L255.1 367L257.9 365L257.8 364L260 360.4L267 358.3L268.4 360L268 362L272.9 360L273.6 359L273.1 358L271 358.2L269.8 357L271 354.1L274 354.5L278 353.9L280.9 355L279.9 357L280.7 358L280.1 359L275 361.4L269.5 365L266 366.4L264 366.4L262 367.4L260 367.3L259.5 368L260.3 369L260.4 371ZM351 354.4L350 354.7L348.6 354L350 353.1L351.6 354ZM239 357L238.6 356L239 355.7L240 355.2L240.8 356ZM344 357.3L342 357.6L341 357L343 355.5L345 355.2L345.7 356ZM294 358.2L292 358.6L291 358L294 356.9L295.7 357ZM218 366.2L216.1 366L217.8 364L222 362.8L223 361L226 360.7L228.5 359L231 359.3L230.8 361L229.8 362L228 362.3L226 361.2L223 364.4ZM362 364.3L360.1 364L358 362.5L353 363.1L352.3 362L355.4 360L360 358.7L361.5 360L362.7 362ZM280 368.1L278 368.7L277.9 368L279 366.4L283 365.3L283.1 364L284 363.4L286 363.4L289 362.4L292 362.8L295 361.4L298 362.5L299.5 362L301 360.5L302 360.4L304 360.7L305.4 362L305 365L304 365.5L296 363.8L290 364.2L286 366.3L282 366.3ZM380 363.4L373 363.6L371.8 363L377 360.3L378 360.2L380.3 362ZM389 365L384.4 365L388.4 362L391 361.8L391 364ZM370 374.1L368 374.2L362 372.5L359 373.9L357.8 372L361 370.8L364 371.4L367.8 370L364.1 368L362.6 365L367 363.8L368 364.1L368.6 365L368 367L371.1 369L369.2 370L371.4 373ZM249 369.2L246.8 369L246.2 368L246.5 366L248 365.1L251 365.2L251.9 366L252 368ZM321 367L318 367L316.8 366L322 364.1L322.8 365ZM337 366L335.4 366L336.1 365L338.8 365ZM413 368.1L412 368.4L411.2 368L410.6 367L411.2 366L416 365L417.4 366L416 367.5L414 367.5ZM294 368.3L292.8 368L292.4 367L294 365.7L295 365.9L295.8 367L295 368ZM403 368L403 366.2L405.9 366L405.1 367ZM191 370L190 370L189.4 368L192 366.9L193.9 367ZM239 368.4L238 368.6L237.3 367L238 366.5L239.7 367L239.6 368ZM310 369.1L308 368.8L307.2 368L309 366.8L310 366.9L311.1 368ZM177 371.1L176 371.2L174.7 370L175 369L179.7 369L179.8 370ZM212 371.1L207.9 371L211 369L214 368.3L214.6 369L214 370ZM318 378.6L316 378.9L314.2 378L316.5 375L316.1 373L317 372.1L320 371.2L321.2 372L320.1 370L321 369.3L323 368.5L327 369.7L331.8 369L331 370.1L327.9 371L324.5 377L320 377.6ZM400 369.6L397.3 369L398 368.6L400.5 369ZM235 372.1L234.1 372L233.4 371L235.7 370L237 370.2L237 371.1ZM388 373.1L385 373.7L384 373L384.3 371L387 369.5L389 369.1L390 370.5L391 370.7L392.8 370L393 369.2L394.6 370L394.4 371L393 371.8ZM214 376L212 376.8L211.3 376L216 371L219 371.3L224 370.4L227 371.2L229 371.1L230 371.4L230.2 372L228 374.2L224 375.7L219 374.2L215 375.1ZM267 372L262.5 372L262.8 371L266 370.3L267.2 371ZM297 374.6L290.4 374L294 371.6L299 370.6L300.6 371L300 372.2ZM430 374.3L425 374.6L424 374L424.7 373L428 371.4L430 371L432.2 372L432.1 373ZM177 388L176.5 387L176.8 386L177.5 385L180.6 383L181 381L180 380.4L177 380.6L176.6 380L180 379L183 380L184 379L183.9 377L185.6 376L185.4 374L185.9 373L189 371.2L191 371.3L191.6 372L190.2 375L192.9 378L190.3 379L189.7 380L189.9 381L192.5 382L192.8 384L189 385.4L184 386.1L180 385.9L178 387.9ZM441 373.8L438.1 373L438.9 372L441 371.4L441.5 372ZM406 374.4L404.8 374L405.2 373L407.1 373ZM419 374.6L417 374.4L415.5 373L417 372.4L419 372.5L419.9 374ZM261 376.1L258 377L255.5 376L256 375L257 374.6L260 374.6L261.1 375L261.4 376ZM304 376L303 376.6L297.8 376L300.1 375L303 374.7L303.7 375ZM376 380.2L374 380.6L373 380.1L371.6 379L371.3 378L378 374.3L382 375.5L383.5 377L383 378L379 378.8ZM165 378.1L163 378.6L161.6 378L161.9 377L165 375.7L168 375.4L169.6 377L169 377.8L168 377.5ZM247 377L245 376.3L245 375.6L246 375.3L247.8 376ZM410 376.7L407.4 376L408 375.5L410 375.5L410.7 376ZM415 382.1L414 382.5L413.2 382L414.5 379L412.3 377L414 376.1L418 378.3L422 377.6L423.2 379L415.5 381ZM272 378.4L270 378.9L268.8 378L270 377.4L272 377.5ZM284 382.4L281 382.8L278.7 382L280.4 380L283 378.9L284 378.6L286 379.1L290.8 378L289.8 380L290 381L289 381.5L286 381.4ZM330 378.5L329 378.8L328.2 378L329 377.3L330 377.5L330.5 378ZM341 381.2L339 381.7L335.8 380L335.3 379L337 378L340 378.2L341 378.6L341.8 380ZM197 381.5L196 381.2L195.3 380L196 378.4L199.1 379L198.8 380ZM210 411.4L204 409.7L203.7 408L203 407.2L200 406.1L199.2 405L199.6 404L203.6 402L204.6 400L206 399L209 398.9L211.7 398L210 397.2L207 394.4L204.3 394L202.4 391L201.7 388L205.6 385L206.5 383L211 380.1L216 379.3L220.9 380L220.3 381L218 381.8L216 381.7L214 383.2L210.5 384L207.3 387L206.3 389L208 390.3L212.2 389L213 388L211.6 387L212.2 386L215 384.4L218 383.8L218.5 384L218.6 388L217 389.4L214.4 390L213.8 391L214 392.4L216 393.2L220 392.7L223 390.8L226 390.1L229.2 391L225 393.3L221 393.5L217 395L217.3 397L214.2 399L213.8 400L215 401L218 401.6L218.4 402L218 403.5L214 403.8L213 404.3L211.7 407L212.9 409ZM299 384.2L296 384.7L292 384.3L291.1 384L290.9 383L292 382L295 382.5L304 379.8L307.2 380L307.4 381L306 381.2L304 382.7L301 383.1ZM399 381.3L398 381.5L396.3 381L397 380L398 379.7L399.3 380L399.5 381ZM441 393.1L437 392.8L435.4 392L435.2 391L438.6 390L438.4 389L436.3 388L439 385.8L443.3 384L445.7 381L449 380.7L449.5 380L451 379.6L453 380L451.7 382L449 382.8L447.5 384L450 386L445.6 389L445 390.4L443 391ZM458 381.3L456.8 381L456.4 380L458.4 380L458.6 381ZM149 382.7L146.5 382L146.4 381L148 380.3L150 380.7L150 381.7ZM239 383.3L238 383.6L237.2 383L236.7 382L236.9 381L238.9 381L239.9 382ZM325 385.4L324 385.8L322 385.5L319.7 383L320.4 382L323 381.3L325 380.1L330.3 382L329 383.2L326.7 383ZM170 387L168 387.4L163.3 387L165 383.6L171 382.6L172 385.9L173.4 386L173 386.4L171 386.2ZM253 388.1L250 388.5L249.7 387L248.3 386L248.6 385L252.8 383L256.3 383L257.6 386ZM268 392.1L263 391.6L254 392L260 389.4L264 389.3L264.5 389L263.3 388L263 386.9L265 386.7L267 387.4L270 386.8L271.6 385L271 382.9L275.4 383L275.2 384L271 388L269.7 391L269 391.9ZM301 391.1L298.8 390L299 389L300.8 387L302 386.3L309 384.7L306.2 389L306.2 390L305 390.7ZM358 388L356 388.6L354.8 388L356.9 385L358 384.4L360 384L364.3 385L363 386.7L362 386.9L360 385.6L359 385.8ZM240 390.1L236.7 390L236.6 389L238.3 388L240 385.9L247.6 386L245 386.3L242.2 389ZM371 388.1L370 387.9L370 386.6L371 386.3L372.2 387ZM383 396.2L375 396L372 396.8L371 396L372 395.5L375 395.9L378.7 392L384 389.6L390 388.8L393 386.8L395.1 387L395.1 388L394 388.6L389 390.7L386 391.2L385.5 392L386.3 394L384 396ZM378 389.1L377 389.4L375.4 389L376 388L377 387.9L377.7 388ZM117 390L114 391L113 391L111.8 390L113 388.9L115 388.4L116.9 389ZM123 390.3L118.2 390L118.6 389L121 388L123 389.5L123.4 390ZM155 390.3L153.7 390L153.9 389L156 390ZM297 389.6L295.3 389L296 388.5L297.8 389ZM353 390L350 390.9L349.5 390L352 389.1L354.3 389ZM431 389.4L428 389.9L427 389.8L426.9 389L429 388.5L431 388.8L431.4 389ZM103 394L102.8 392L101.2 391L103 390L104.7 390L103.9 392L104.4 393ZM123 400.1L121 400.6L119.8 400L120 399L122 398.3L126 394.6L129 394.3L138 390.8L144 389.7L145.5 390L145 391L139.8 394L139.4 395L139.9 396L139 397.2L137 397.5L135.3 396L133 395.8L129 397L126 399.2ZM163 393.1L161 393.9L156.5 393L158 391.8L163 390.7L164.2 391L165.2 392ZM282 392.3L279 392L279.3 391L280 390.4L281.6 391L282.4 392ZM416 396.2L415.8 395L416.8 392L416.5 391L420 390.4L421 391.3L423 391.8L423.4 393L423 394L421.8 394L421 393.1ZM97 392.3L96 392.6L95.1 392L97 391.4L97.6 392ZM452 393.1L450 393.4L448.4 393L449 392ZM125 393.7L123 393.7L122.6 393L125 392.1L125.8 393ZM245 394.2L243 394L244.4 393L247 392.4L248 392.2L248.8 393ZM288 407.2L283 407.2L282.4 407L283 405.7L282 405.3L276 406.4L274 407.3L272.7 407L274 404.6L276 403.4L283 403.6L291 397.2L291.6 399L290.1 402L295 402.6L296 402.5L297 401.4L297 400.6L296 400.3L293 400.5L292.2 400L295 398L294 397.4L289 396.2L286 397.6L281 397L283 394.1L287 392.7L288 392.4L289 394.6L290 394.8L293 393.7L294 393.9L296.9 397L300 398.5L302 398.4L306 396.3L307 396.3L307.3 397L305.8 398L306.5 400L305.5 401L303 401.6L300 403.2L296 403.3L295 404.2L290 405.6ZM343 394.1L342 394.5L341.2 394L342 392.8L346.4 393L344 393.2ZM445 394.4L443 394L442.4 393L445 392.6L446.5 393ZM152 404.1L148 403L141 403.5L139 401L146.7 395L150 393.8L152.4 394L154 395L154.1 397L153 397.2L151 396.1L149 396.9L148.2 398L145.1 400L146 400.8L149 400.4L150 398.8L158 398.6L162 397.4L166 395.1L170 394.4L171.4 395L170.9 396L171 399L170 400.1L169 400.2L169 398.7L163 398.2L157 400.5L154 403.4ZM324 396.1L322 395.6L321.4 394L324 393.6L324.4 396ZM355 395L354 394.7L352 395.4L351.4 395L352.2 394L356 393.6L356 394.6ZM455 396.1L453 396L453.8 394L455.3 395ZM236 398.1L234.6 398L233.7 397L234.4 395L236 394.5L237 394.6L238 396L237.7 397ZM397 396.1L396 396.5L394.5 396L395.6 395L397 394.7L397.5 395ZM84 399.2L81.3 398L83.3 396L85 395.7L86.4 397L85 398.8ZM190 397.2L187.4 397L189 395.5L191 395.3L191.7 396ZM269 403.2L268 403.7L266.1 402L269 401.1L269.2 399L267 398.9L266.3 398L268 396.5L270 395.9L271 396.4L271.5 398L273.7 399L274.5 400L274.3 401ZM315 400L312.2 400L312.1 399L314 395.8L315 395.6L319 396.8L321.7 397L319 399.4ZM262 400.5L261.1 400L261 399L262 398L264 398.2L264.9 399ZM329 402.3L322.9 402L325 401.5L328.6 399L330 399L331 400L331.1 401ZM87 401.2L86 401.6L85.1 401L85.2 400L87 399.7L87.4 400ZM262 408L260 408.1L259 407.3L256 407L254.5 406L254.9 404L254.4 403L256 401.8L261 400.1L261.6 402L259.5 404L259.8 405L261 405.6L264 404.7L265.5 405L265.3 406L264.2 407ZM405 404.6L404 405L403 404.5L402.1 403L405 400.9L407 400.8ZM439 403L438 402.8L437.6 402L438 401.5L442 400.4L442.9 401L441.8 402ZM84 411L82 411.5L80.4 411L80 410.3L79 410.7L78 410.3L77.8 409L79.7 407L79.8 406L79 405.5L78 405.6L73 409L70 408.6L67 409.5L65.6 409L66 408L73 406.7L82 401.8L85 401.4L85.3 402L87 402.5L92 403.3L92.4 404L90 404.7L88 406.5L84 406.7L84 407.2L89 407.4L91 408L88 410.5ZM188 406.5L187 406.9L185.6 406L187.4 403L189 401.8L191.2 402L189.5 405ZM240 407.2L238 407.1L237.6 406L239 404.3L242 402.5L247 401.7L251 402.2L252.7 403L251 406L248 405.3L243.1 406ZM376 403.2L373.3 403L375.7 402L377.2 402L377 403ZM108 404.1L107.5 404L107.5 403L111.7 403ZM119 408L115 407.6L114 406.7L112 407.3L111.3 406L113 403.4L115 402.9L116.3 404L116 405L117 405.5L119 404.5L120 404.6L120.8 407ZM222 407.9L219 407.9L218 407.4L218 404.5L220 404.1L221.8 405L222.7 407ZM311 405.3L310 405.7L308.6 405L310 404.6L311 404.8ZM52 407L48.4 407L49 406.1L50 406L52.8 407ZM56 409L55 409.3L53.1 407L55 406.2L60.4 407ZM292 412.2L291 412.7L288.9 412L288.9 411L290.3 409L289.8 408L291 406.7L292 406.6L294 407.9L298 407.7L300 406.5L301.3 407L300.7 408L294 409.3ZM334 411.2L333 411.6L331.7 411L333 409L333 406.9L334.1 407L335.1 408ZM227 410.1L224 410.5L223 409L224 408.4L228 407.8L228 409ZM431 410.1L428 410.8L427.8 410L432 407.1L433 407.1L433.5 408L433.1 409ZM163 410.1L162 409.6L162 408.8L166 408.5L167.2 409ZM311 411.2L309.9 411L309.6 410L310.5 409L312.1 409L312.9 410ZM402 413L398 413.4L397.6 413L398.6 410L399.7 409L401.7 409L404.4 411L404 412.2ZM154 414.2L152.4 414L150 412L146.8 411L152 409.5L153 409.8L155.6 412L155.5 413ZM95 414L91 413.2L91 412L93 410.8L96 411.8ZM109 413.2L107.1 413L108 411L110 410.6L110.8 412ZM124 413.2L122 413.5L120.8 412L122.2 411L125 410.3L127.8 411L127 412ZM223 414.1L222 414.3L220.9 413L218 411.5L215 413.8L213.9 413L213.9 412L215 410.4L221 410.3L222.3 411L223.4 413ZM303 412.3L301 412.9L299.5 412L302 410.5L305.3 411ZM358 413.1L353.1 413L361 410.8L362.4 411L361.3 412ZM382 415.2L380.8 415L380 413.7L376.8 413L377 411.9L378 411L382 410.5L385.6 412L383.3 413L383.3 414ZM259 413.2L257.2 413L259 411.5L260.6 412ZM309 418.3L306.6 418L307.6 416L306.2 415L306.4 414L313 412.8L318.1 414L316 416.5ZM231 415L229.9 415L231 413.9L232 413.6L232.6 414ZM125 421.1L121.8 421L122.1 420L129 417.5L132 415.1L133 414.8L134.8 416L134.4 417L130 419.8ZM203 418.5L199 418L198.8 417L202 416.1L205 414.1L206.7 415L206.9 416ZM218 416.5L216 416.4L215 414.8L216 414.3L218.4 415L218.9 416ZM276 423.4L275 423.7L273 423L271.7 421L267 417.8L266 417.6L263 418.8L258 418L262 416.4L267 416.2L270 415.3L272 415.6L275.3 417L273.4 418L273.1 419L275 420.9L279 419.9L280.1 421L279.6 422ZM326 416.1L322 416.5L321.1 416L323 415.3ZM349 419.2L347.9 419L348.6 418L348 417.3L345 417.4L344.4 417L346 415.8L348.5 416L349.7 418L349.6 419ZM431 418L429 418.3L427.2 417L428.3 416L430 415.8L435.7 417L435 417.7L434 417.4ZM108 424L106 424.7L105 424L105.7 423L105.6 422L103 421L103.9 419L107 418.5L108 417.8L113.7 417L113.9 418ZM93 430.1L91 430.5L90 430L90.3 429L91.6 428L91.2 427L88 425L88.7 423L87.8 421L90 419.9L91 417.7L92 417.2L93.9 418L94.2 419L91 420.7L91 421.3L92 422L99.4 423L98.7 425L100.5 426L100.2 427L99 427.9L96 427.9L95.3 429ZM214 419.2L211 419.8L210 419.7L209.5 419L212 417.5L214 417.1L214.9 418ZM228 422.1L225.4 422L224.9 421L228 419.5L229 417.7L230 417.2L231 417.6L232.5 420L231.3 421ZM437 420L436 420.4L435 420L435 418.7L436 417.7L439 417.4L439.3 418L438 418.5ZM292 420.3L290.5 420L292 419L292.6 420ZM424 420L421.5 420L420 419L424 418.5L425 419ZM397 421.1L396 421.5L394.3 421L395 419.9L397.9 420ZM60 422.1L59 422.6L57.5 422L59 420.6L60.3 421ZM129 426.3L127 426.9L125 426L132 421.3L136.5 421L138.6 422L139.4 423L138 423.5L136 422.4L134 422.2L133 422.7L132 425.3ZM288 422.2L286.6 422L287.7 421L288.9 421ZM340 422.1L339 421.9L338.1 421L340 420.2L342.1 421ZM245 431.3L243 431.6L239.2 431L239.5 430L244.7 428L243.6 427L243.9 426L247.6 423L250 422.4L252 423L255.1 422L255 423L252 423.1L250.7 425L250.5 428L250 428.8L247 427.6L245.4 428L245.6 429L246.8 430ZM199 423.6L198 424L196.3 423L199.7 423ZM267 424.3L265 424L265.7 423L267 422.8L267.5 424ZM332 425.5L331 425.6L329 424L330 423L331 423L332.6 425ZM192 445L190 445.8L189 445.7L188.6 445L190.6 444L194 443.4L194.6 443L194.3 442L192.6 440L193 439L192 438.3L190 438.8L189 438.1L189.1 437L194 435.9L197 437.3L200 436.8L202.1 436L201.8 434L201 433L198 432.8L197 432.3L197.6 430L195 429.7L190 431L186 431.4L184.7 431L184.1 430L184.5 429L186 428.4L190 428.5L193.4 427L193.3 426L191.2 425L191.3 424L194 423.3L194.8 424L195.2 426L196.9 427L203 427.9L204 429L205 429.3L209 428.4L212.1 429L211 430.5L205 431.4L204.1 435L203.4 436L204 437.4L209 438.7L209.4 439L209 440L205 441.9L201 441.7L198 443.1L196 443.4L195 444.9L193 444.5ZM227 426.1L224 426.7L221.4 426L227 423.5L228 423.6L229.4 425ZM363 425.3L360.9 425L362 424L364 423.7L364.4 424L364 424.7ZM405 425.2L403 425.8L402.1 425L404 423.3L405 423.3L405.6 424ZM167 432.3L163 432.8L159 430.6L156 431L155.3 430L156.2 428L158 426.7L161 425.9L163 426L166 424.8L168.1 426L166.1 429L166 430.6L168.9 431ZM58 427.4L56 427.5L54.9 427L55.3 426L57 425.4L58.4 426ZM119 426.1L116.7 426L119 425.3L119.4 426ZM356 427.4L355 427.5L354.6 427L354.9 426L357.1 426ZM400 427.4L398.6 427L399 426L401 425.6L401.8 426ZM147 429L145.4 429L145.8 428L148 426.6L150 426.4L150.5 427L149 428.7ZM219 427.1L218 427.5L216.3 427L218 426.4ZM237 428.6L229.7 428L230 426.6L231 426L233 427.6L237.3 427L237.8 428ZM61 432L56.9 431L58 430.9L60 429.3L64.1 428L66.6 428L66 429L63.1 430L62 431.9ZM105 443.1L103 443.5L102.4 443L103.4 440L102 440.2L101 439.4L101 436.7L96 434.8L93 434.8L91.8 434L94.3 432L101 430.9L101.8 430L109 428.5L111 427.2L112.2 428L110 429.4L108.8 431L105 433.8L102.5 434L102.9 435L104 435.8L107 436.4L107.5 437L105.4 439L106 442ZM134 428.2L133 428.5L130.7 428L133 427.1L134.3 428ZM408 431.3L405 431.1L404.7 430L406 428.7L409 427.7L413 427.5L415 427.9L414 428.5L413 430.7ZM228 430.2L226 430.6L224.1 430L227 428.6L228.7 429ZM80 430.1L79 430.7L78 430.5L77.9 430L79 429.2ZM137 443L135 443.8L133.1 443L140.9 439L141.4 438L140.3 437L137.5 437L136 435.5L131.6 436L130.8 437L128.3 438L125.9 438L128.1 436L129.9 433L135 430.3L140 431.2L144 429.7L144.5 430L144.6 432L145.9 433L144.4 435L145 435.9L151 433.4L153.5 434L153.1 435L150.2 436L148.6 437L149 437.4L152 437.5L157 436.2L157.9 437L156 438.7L152 439.7L151 440.4L147 439L144 441.2ZM292 432.1L288 431.7L286.8 431L286.7 430L291 429L295.3 430L294 431.5ZM305 430.7L304 430.6L303.8 430L305 429.5L305.9 430ZM381 433L380 433.3L377.6 432L377.4 431L379 429.8L381.3 430L382.3 431ZM73 435.3L71 436L70.5 435L71 434.1L73 433.8L74 432.8L75 432.7L75.3 433ZM83 437.2L79 437.3L78.5 437L78.6 436L84 433.4L87.2 434L88 435L88 436.2ZM170 435.3L168 435.6L166.8 435L169 433.7L171.4 434ZM216 436.4L212.7 436L212.8 435L217 433.9L218.9 434L218.3 435ZM223 441.1L221 441.7L219.9 441L220.7 439L224.2 437L224.3 435L227 433.7L228 434L228.6 435L226.5 437L228 437.7L230.2 437L230.2 436L231.2 435L235 434.9L238 435.4L238.9 437L242 438.7L243.7 437L243 435.8L244 435.5L245.5 438L245 439.2L242 439.2L240 440.5L236 440.9L234 440L231 440.3L229 439.5ZM59 437.1L56 437.1L55.1 436L57 434.6L59 434.6L60 435L60.5 436ZM117 436.1L116.2 436L116.7 435L118.7 435ZM159 436.2L158 436.9L157.3 436L159.1 435L159.7 436ZM260 435.3L259 435.5L258.1 435L260 434.3L260.9 435ZM65 443.1L60.8 441L61.3 440L69 438.3L72 436.4L74 437.1L74.6 438L71 438.5L67 442.3ZM147.7 438L146 436.3L145 436.1L143.5 438L147 439ZM153 444L151 444L150.2 443L151 441.5L156 441.2L160 440L163 440.6L164.2 440L165.5 438L167.8 438L168 439L166.1 441L166 443.2L165 443.8L159 443.3L156 442.3ZM177 441.3L174.3 440L178 439.6L179.6 440ZM100 445.2L97 445.7L95.6 445L96.1 444L98.8 443L99 441.3L99.5 442L99.2 443L102 444ZM175 443.3L173.3 443L174 441.7L175.3 442L175.9 443ZM294 446.1L292 446.2L291 444.5L286 445.6L285.1 445L285.1 444L286 443.1L291 443.8L295 442.9L296 443.2L296.5 444ZM68 446.1L67 446.1L65.2 445L66 443.3L74 443L75.9 444ZM125 450L124 450.5L121.3 450L121.9 449L121.4 447L126 445.7L130 443.8L131.5 444L130.8 446L127 448ZM246 447.1L244.9 445L246 444.7L247.2 446ZM85 450.1L81.8 450L79.6 448L79.9 447L83 445.7L83.7 446L83.7 448L85.2 449ZM101 450.1L98.3 450L98.8 449L101 448.2L104 448.7L105 447L108 446L111.6 446L109.6 448L108 448.8L104 449.1ZM158 448.1L156.3 448L155.3 447L158 446.3L159.7 447ZM79 452L76 452.9L72 450.6L68 451.5L67 451.1L66.4 450L67 449.1L73 448.8L76.5 448L78 449.8L80.1 450L80 451ZM266 451L264.8 451L264 450L267.7 448L270.4 448L269.5 450ZM227 454.5L225 454.7L224.2 454L224.7 452L224.2 450L225 449.2L227 449L228.2 450L227.3 451L229 453ZM116 450.6L113.7 450L116 449.4L116.9 450ZM287 451.5L286 451.8L285.1 451L287 449.5L287.5 450ZM201 453.2L199 453.2L197.9 452L200 450.8L201.4 452ZM234 452.1L232 452.9L231.5 452L234 450.4L235.2 451ZM245 454.1L243.7 454L244.4 453L247 452.3L249 450.9L251 450.3L251.8 451L251.5 452L250 452.8ZM192 453.3L191.2 453L191.7 452L193 452ZM334 457.1L332 456.7L331.4 456L332 455L334.9 453L333.9 452L335 451.8L337.4 454L335 456.7ZM181 454.1L180 454L178.5 453L180 452L182 452.1L182.6 453ZM133 457.1L128.5 456L132 453.6L134.1 456ZM319 455.2L317 455.6L316.2 455L319.5 455ZM89 460.2L87 460.3L85.7 459L84 458.3L80 458.8L78.1 458L79.1 457L86 455.7L90.4 457L88.7 459ZM117 457.5L116 457.6L115.7 456L117 456L117.7 457ZM208 459.1L206 459L206.3 458L208 457.1L209 457.3L209.4 458ZM219 458.3L218 458.6L216.6 458L218 457.4L219.6 458ZM116 461.5L114 461.1L113.9 460L116 458.3L116.7 460ZM196 462.1L190 462.1L188.3 460L188.7 459L191 458.4L197 459.7L201 458.6L204.3 459L203.5 460L200 460.5ZM78 466.2L77 465.7L76.8 464L78.2 461L79 460.4L81 460L81.5 462L83 463.1L84 463.3L85 462.4L86.4 463L86.4 464L85 464.8L81 464.6ZM96 470.2L93.9 470L93.7 469L95 467L98 467L98.7 466L100.6 465L100 463.4L99 463.3L98 463.8L96 466.8L93 466.6L92.2 466L92.3 465L95 462.2L98 461.6L101 462.7L107 462.3L109 461.6L109.9 462L107 463.6L106.5 465L109 467.4L111.4 468L110.1 469L107 468.7L105 469.3L100 468.3ZM343 463.3L341 463.5L340.1 463L341 461.1L343.4 463ZM118 474.2L115.9 474L115.6 473L116.4 472L114.7 471L114.5 470L115 469L115.1 467L117 466L119 465.7L120 466L120.7 467L119.7 468L119.8 469L120.7 470L123 470.1L125.1 471L124.7 472ZM167 471L165 471.5L162.1 470L162.9 469L165 468L168.3 468L168 469L169.6 470ZM243 471.1L241 471L240.6 470L242 468L244 467.4L245.1 468L245.3 470ZM132 471.1L127.8 471L130.8 469L135.6 469ZM331 471.2L327.2 471L330 469.2L331.9 470ZM178 473.2L175 474L174 473.9L173.7 473L176 471.2L178 471L178.8 472ZM350 473L347.5 473L348 472L349.1 472ZM125 479.3L124 479L125 477L123 476L119.6 477L118.6 479L117 478.7L116.3 478L116.8 477L119 475.8L124 474.4L125 474.2L127 475.3L130 474.5L133 474.5L136 473.2L137 473.6L137 474.1L135 475.2L132 475.4L130 476.8L127 477.5ZM149 483.3L148.3 483L148.7 482L150.8 481L151.3 480L151 479.4L149.7 479L149.2 478L153 477.6L158 473.9L159 474L160 474.9L161 477L159.6 478L158.7 480L153 482.4ZM215 480.1L212.5 480L214 479.2ZM111 484.6L106 484.8L104.5 484L106.6 483L113.2 483ZM168 484.2L166.7 484L165.5 483L167 482.4L169.5 483L168.8 484ZM313 483.6L311 483.9L309.5 483L311 482L314 483ZM141 492.2L140 492.6L138.8 492L140.2 491L140.6 490L142 489.6L142.4 490ZM261 492L259.5 492L258.9 491L263 489.5L265.1 490ZM145 494.4L142 494L142.1 493L144 491.9L145.8 494ZM247 493.5L243.7 493L246 491.6L249.3 492ZM137 499.3L134.9 499L135.8 498L137 497.6L138.9 498ZM202 501.7L201 501.1L201.3 500L203 499L203.3 500ZM132 503.1L129 503.9L128.1 503L129.2 502L131 501.5L132.9 502ZM174 509.2L172.9 509L172.5 508L175 506.8L178.3 507ZM132 512.5L129.6 512L130 511L132 510.5L133 512ZM179 515.4L177 515.7L175.2 515L179 513.4L180 514ZM141 522.5L139 522.3L139 520.9L141 519.5L143 519L143.2 520ZM177 522.2L175 522.7L173.8 522L174.2 521L176 519.8L179 519.2L180.7 520L180.1 521ZM215 526L213 526.6L211.4 525L213 523.9L220 523.2L222.2 524L216 525.4ZM227 532.1L225 531.8L224.2 529L224.6 528L229 527.5L232 525.6L233.3 526L233.7 527L233 527.8L230.2 528L230.6 529L229.5 530L229.5 531ZM189 528.3L186.8 528L189 526.5L189.7 527L189.6 528ZM215 534L213 533.8L211 534.4L210 534L210.1 533L210.6 532L212 531.7L219 532.4L220.1 533ZM173 541.1L171 541.4L169 540.5L167 540.6L165.6 540L164.8 539L167 537.4L169 537.4L170 537.9L174 535.8L176.4 536L176.7 537L176 538.7L173.5 540ZM171.1 539L170 538.1L169.5 539L170 539.9ZM172 546.2L171.8 545L174 543.5L177 544L176.9 545L176 545.8ZM200 549.1L195 548L191 549.1L188.2 546L188.6 545L192 545.6L196 544.5L198 544.6L199 546.7L200 547L200.5 548ZM187 547.1L185.5 546L187 545.4L187.7 546ZM203 548.3L203 546.6L206 546.7L207 546L207.7 547L205 547.1ZM167 548.5L165.9 548L167 547L167.8 548ZM177 547.3L174.6 547L176 546.4L177.8 547ZM211 549.3L209.3 549L208.9 548L209.4 547L211 546.6L212.2 547L212.5 548Z"/><path fill-rule="evenodd" fill="#042804" d="M306 346.4L305 346.7L303 346.3L301.5 345L302.4 344L304 343.8L306.4 345ZM323 348.2L322 348.8L321 347L323.8 347ZM320 350.2L318 350.7L316.4 350L317.3 348L319 347.9L320.3 350ZM330 353.2L329 353.5L326.2 353L326.5 352L328 351.3L330.4 352ZM259 355.3L257 355.4L256.3 355L256.7 354L258 353.1L261 354ZM335 355.1L333 355.1L331.6 354L333 353.3L334 353.6L335.2 354L335.5 355ZM277 360.2L275 360.5L274.3 360L274.9 358L274 356.4L272 356.5L272 355L274 355.6L277 354.4L279.2 355L279.2 356L278.4 357L278.9 359ZM266 361.1L263.5 360L266 358.8L267 359L267.5 360ZM230 361.1L229 361.7L227.8 361L229 360L230 360.5ZM356 362L355 362L357 360L359 359.5L360.1 360L359.2 361ZM268 365.1L266 365.4L264 364.3L260 364.7L259.2 364L259.3 363L260.1 361L262 360.2L263 360.4L264 362.6L265 363.5L268.6 364ZM375 363.1L373.9 363L374.1 362L377 360.8L378.6 361L379.4 362ZM220 365.1L218.3 365L221 363.7L223 361.8L224 362L222.8 364ZM304 363.6L303 363.8L301.2 363L301.4 362L303 361.3L304 361.7L304.4 363ZM389 364.3L387.6 364L389 362.9L389.8 363L390 364ZM286 365.5L285 365.7L284.4 365L286 364.5L286.8 365ZM367 366.3L365.1 366L365.4 365L367 364.6L367.7 365ZM249 368.1L248 368.5L247.3 368L247.5 366L249.9 366ZM413 368L411.9 367L412.6 366L415 365.5L416.2 366L416 367.1ZM257 368.4L256.1 368L256 366.9L258.1 367L258 368ZM191 369L190 369.2L190 368.1L192 367.3L192.2 368ZM212 370.4L211 370.7L209.9 370L212 369.5L212.7 370ZM317 378.1L316.3 378L316.1 377L318.2 375L318 373L322 373.4L323.4 372L321.6 370L323 369.6L324.9 370L325 372.8L323 374.1L322.3 376ZM387 373.1L384.9 373L385.8 371L388 369.9L389 369.7L390 370.7L393.1 371ZM369 373.5L368 373.6L364.3 372L368 370.7L369.9 372L369.8 373ZM189 373.6L188 373.7L187.3 373L189 371.9L190.1 372ZM224 375.1L219.4 373L219.1 372L221 371.6L228.4 372L228 373.2ZM295 374L293 373.7L292.5 373L294.2 372L299 371.5L299 372.2ZM430 373.2L427 373.6L426.3 373L428 372L430 371.7L430.7 372ZM375 380.1L373 379.4L372.7 378L377 375.5L378 375.2L381 375.9L382.5 377L381.8 378L378 378.6ZM165 377.4L164 377.7L162.8 377L165 376.2L165.8 377ZM189 385.1L183 385.5L181.3 385L180.6 384L182.4 381L185.4 380L184.6 378L185 377.3L189 379L188.3 381L188.8 382L191.6 383L191.7 384ZM283 382.2L280 382L282 379.9L284 379.5L284.9 380L284.9 381ZM450 382.1L447.5 382L450 379.8L452.1 380L452 381ZM149 381.8L148 382L147.5 381L149 380.7L149.5 381ZM209 384.3L208 384.7L207.2 384L210.1 381L212 380.3L214.6 381L213 382.7ZM299 383.4L297 383.9L295.7 383L298 381.9L301 381.8L303 380.6L304.4 381L303.9 382L301 382.2ZM324 384.4L323 384.7L321.5 383L325 381.4L325.5 382ZM256 385L254 385.8L251 385.7L250 385L254 383.3L255.9 384ZM169 386.8L164.5 386L165 384.7L167 384.2L169.8 385L170 386ZM217 388.4L215 388.8L213.3 387L213.7 386L217.3 385L217.4 388ZM205 388.6L203.9 388L204.1 387L206 385.7L207 385.7L206 387.9ZM302 390.1L301 389.9L300.6 389L301.4 387L306 386L307 386.7L304 389.7ZM440 392.3L436.4 392L436.4 391L440.9 390L440.7 389L438.7 388L439 387L442 385.7L444 386L447 385.4L448.2 386L444.1 390L442 390.6ZM242 388L240.6 388L240.6 387L242.3 387ZM268 391.1L264.2 391L265 389.7L267 388.7L269 388.5L269.2 390ZM115 390.1L112.7 390L114 389.3L115 389.6ZM125 399L122.7 399L126 395.5L137 392.5L139.6 391L143.2 391L138.6 394L138.3 397L136.9 397L136.9 396L136 395.5L132 395.5L127 397.4ZM211 393.6L206 393L207 392.9L209.6 391L212 390.5L212.4 392ZM225 392.1L223 392.6L222 392L224 390.9L226.4 391ZM261 391.1L257.7 391L260 390.6L261.5 391ZM384 395.3L380 395.9L377.7 395L379.8 392L384 390.5L384.6 391L385.4 394ZM215 396.4L212 396.9L209.5 396L211 394.1L212 393.6L214 393.7L215.1 394L215.6 395L215.6 396ZM285 397.2L283 397L282.8 396L287 394L287.1 396ZM149 396.1L148 396.5L147 396L148 394.8L150 394.9ZM294 396.5L291.7 396L291.6 395L293 394.6L293.9 395L294.7 396ZM168 397L165 397.6L163.7 397L165 396.3L169.3 396ZM237 397L235 397.5L234.4 397L234.5 396L235 395.3L236 395.1L237.3 396ZM145 399.4L143 399.9L142.3 399L144 397.8L146 397.6L146.3 398ZM273 401.1L271 401.6L269.9 401L271 399.1L272 398.9L273.7 400ZM298 399.4L295.2 399L297 398.5L298.6 399ZM305 400.4L304 400.8L303.1 400L303.6 399L305 399ZM144 403L142 402.6L140.7 401L142 399.8L142.4 400L142.2 401L146.3 402ZM153 403.3L150.3 402L149.8 401L150.2 400L152 399.3L157 399.5L157.3 400L156 400.3ZM210 410.3L208.6 410L208.5 409L209.2 408L207.9 407L209.8 404L208 403.6L206 404L203 406.3L201 405.9L200.3 405L200.6 404L206.1 401L206 400L207 399.7L212 399.4L213.1 401L217.2 402L217 403.1L213 403.2L212.2 404L210.2 407L211.4 408L211.7 409ZM301 402L299 402.8L298 402.3L299 399.3L300.8 400L301.7 401ZM330 401.1L329 401.5L327.6 401L329 399.7L330.1 400ZM288 402.3L287 402.4L286.8 401L289 400.1L289.3 401ZM259 403.3L256.3 403L257.4 402L260 401.6L260.5 402ZM81 404.7L79 404.5L78.7 404L81 402.9L82.8 403ZM242 406.1L240 406.7L238.2 406L239 404.9L242.3 403L248 402.2L251.5 403L251.3 404L250 404.7L248 404.7ZM88 405.3L87 405.9L86 405.7L84.5 404L86 403.4L89.1 404ZM288 406L286 406.5L284.8 406L287 405.1L288 403.8L289 403.5L291 404ZM221 407.1L218.9 407L219 405.3L220 405L221 405.7ZM279 405.2L277 405.5L275.9 405L278 404.5L280 405ZM119 407.3L117.1 407L119 405.7L119.8 407ZM87 410.3L83 410.5L82.4 410L82.7 409L84 408.5L88 408.1L89 408.9ZM403 412.1L400 412.3L399.3 412L399.3 411L399.8 410L401 409.7L403.2 411ZM216 412.2L214.7 412L216 410.8L216.6 411ZM302 412.2L300.8 412L302 410.9L304 411ZM125 412.1L123 412.9L122.1 412L125 411ZM154 413.2L152.3 413L153 411.6L154.2 412ZM313 417.1L308.3 417L311 413.8L313 413.5L316.8 414L316.1 416ZM130 419.2L127 419.8L126 419L129 417.9L132 416.1L133.5 416L133.6 417ZM205 416.2L204 416.9L203.4 416L205 415.4ZM271 419.1L269 418.4L267.9 417L270 415.8L271.7 416L273.5 417L272 418.7ZM202 418L200.7 417L203 416.4L203.9 417ZM263 418.2L261.7 418L261.7 417L264.1 417L263.7 418ZM93 419.2L91.5 419L91.7 418L93.1 418ZM111 420L110 420.3L108.4 419L109.6 418L112.7 418ZM229 421L228.3 421L230 419.3L230.5 420ZM275 423.1L273.8 422L277 421.5L277.4 422ZM94 429.2L92 429.6L91.6 429L92.7 428L93 427L90.6 426L89.7 425L90 423L91 422.5L93 422.6L97.6 424L97.5 426L97 426.4L93.4 427L94 427L94.6 428ZM249 427.2L246 426.6L245.5 426L248 423.2L250 422.9L250.9 424ZM128 426.1L126.1 426L126.9 425L129 424.3L129.6 425ZM57 427.3L55.6 427L56.3 426L57.4 426L57.5 427ZM163 431.2L161 430.8L158 429L160 427L166 426.2L166.5 427L166.2 428ZM191 430.2L189 430.6L186.8 430L192 427.9L198 427.4L200.3 428L200 429L199 429.5L195 429.2ZM410 430.2L407 430.8L405.5 430L406.6 429L410 427.9L413.5 428L413.6 429L413 429.6ZM210 430.2L207.2 430L208 428.9L210.9 429ZM61 431.2L60.5 431L60.2 430L62 429.8L62 430.4ZM104 433.1L102 432.9L101.7 432L103 430.6L107 429.2L108.7 430L108 431ZM203 433L200.3 431L202 429.3L203.7 431ZM244 431L241.6 431L241.5 430L244 429.5L245.2 430ZM293 431.2L289.4 431L290.5 430L293.7 430ZM143 436.4L139 436L138.2 435L138.6 434L138 433.9L133 435.3L130.4 435L130.3 434L131 432.8L135 431L140 431.8L143 430.6L144 430.9L143.8 432L144.5 433ZM96 434L93.5 434L93.4 433L95 432.3L97 432.4L97.5 433ZM81 437.1L79.7 437L79.6 436L83.8 434L85.3 434L86.6 435L85 436ZM59 436.5L57 437L56 436L57 435.1L58.5 435L59.7 436ZM240 439.7L239 439.9L236 438.7L232 439.3L230.4 438L232 436.7L236 435.7L237.2 436L238 437.3L240 438.4L240.6 439ZM102 439L101.8 438L103 436.8L106.3 437L105 438.3ZM156 438.1L154 438.7L152.2 438L155 437.4ZM199 442.1L198 442.5L196 442.3L193.9 441L193.4 440L195 438.3L201 437.3L204 438.5L207 438.5L208.1 439L207.3 440L204 441.3L201 441.3ZM225 440L222 440.6L221.6 440L223 438.7L225 438.1L226 439ZM65 442.1L63.8 441L64 440L67.5 440L67 441.1ZM143 441.2L141 441.5L139.1 441L141 439.5L143 439L144.7 440ZM165 442.2L160 442.6L157.4 442L159 441ZM153 443.3L151.4 443L152.3 442L154.3 442ZM72 445L69 445.4L66.9 445L69 443.7L74.9 444ZM287 445.2L286.1 445L286 443.9L289 444ZM125 448.7L124 448.8L123.2 448L123.3 447L129.3 445L129.2 446ZM108 448.3L106 448L106.5 447L109 446.4L109.7 447ZM76 451.3L75 451.5L73 450.1L72 450.1L68 451.4L67 451.1L66.4 450L68 449.4L73 449.8L76 448.9L76.5 451ZM334 456.6L332 456L333 454.8L335 454.5L335.4 455L334.9 456ZM88 458.1L86 458.2L83.7 457L85 456.5L88.6 457ZM194 462.1L191 461.7L190 461L189.8 460L192 458.9L198 460.6L198.1 461L197 461.4ZM104 464.5L102 464L104 463L104.9 464ZM94 466.1L93.3 465L95 464.2L95.9 465ZM106 468.2L104 468.3L102.3 467L105 465.2L106 465.4L107.4 467ZM118 470L116 470.1L117 469L116 468L116.1 467L118 466.5L119 467L117.1 469ZM244 470.4L242 470.7L241.4 470L241.7 469L242.9 468L244.2 468L244.6 470ZM97 469.3L95 469.6L94.5 469L96 468.1L97 468.2L97.8 469ZM123 472.1L121 472.5L119.7 472L119.9 471L121 470.7L123.9 471ZM177 472.6L176 472.7L175.6 472L177 471.6L177.8 472ZM159 476.2L156.8 476L158 474.7L158.8 475ZM130 476.2L129 476.5L127.3 476L130 475.4ZM155 481.1L153 481.7L152 481.6L151.9 481L153 479.3L155 478.2L158 478.7L157.5 480ZM131 503L129.4 503L130.4 502L131.5 502ZM176 522.1L174.8 522L175 521L176 520.4L179.6 520L178.8 521ZM227 531.3L225.5 531L225.1 529L226 528L227.6 528L228.6 529L227.7 531ZM216 533.3L213 533L215 532.6L216.7 533ZM173 539.3L172 539.5L171 538.3L170 538.1L169 539.6L167 539.5L166.5 539L168 537.9L172 537.7L174 536.5L175 536.4L175.8 537L175 538.3ZM175 545.1L173.6 545L173.8 544L176 544ZM193 548.2L191.2 548L191.4 547L195 545.2L196 545.1L197.4 546L197 547.3L194 547.5ZM211 549.1L210.3 548L210.7 547L212 546.8L212.5 548L212 548.8ZM200 549.1L199 549L197.8 548L200 547.9Z"/><path fill-rule="evenodd" fill="#5fd35f" d="M289 357.1L288.1 357L288 356L289 354.4L290.1 356ZM239 367.1L238 367.6L237.2 367L239 364.4L240.1 365ZM363 377.1L361.5 376L362 373.6L365 373.7L364.5 376ZM320 376.6L319 377L318.3 376L320 375.5L320.6 376ZM352 383L350.9 383L350.8 382L353 380.7L354 380.8L353.8 382ZM365 383.1L364 383L364.3 382L366 382L365.8 383ZM221 387.5L220 387.7L219.6 387L220 386L221 385.4L222 385.6L222 386.7ZM268 391.1L266.8 391L267.2 390L268.3 390ZM285 392.3L284.1 392L285 391L285.5 392ZM317 393.2L314.7 393L316 392.6ZM91 397.2L90 396.8L90 394.8L91 395.7ZM355 398.8L354 398.7L353.7 398L355 397.2L355.6 398ZM229 403.2L227 402L229.3 402L229.9 403ZM398 403.3L396.8 403L396.6 402L398.5 402ZM94 406.2L93 406.6L92 406L91 404L93 403.3L94 404L94.5 405ZM60 406.2L58.2 405L59 404.5L60 404.8ZM181 406.6L179 406.9L178.6 406L181 404.7L181.6 405L181.8 406ZM112 409.5L111 409.8L110.2 409L112 407.6L112.9 408L112.8 409ZM426 410.3L424.4 410L425 407.5L426.2 408L426.8 409L426.8 410ZM387 411L386 410.9L385.4 410L387 408.6L388 408.7L388.4 410ZM109 412.5L107.6 412L110 410.4L109.9 412ZM269 412.1L267 412.5L266.2 412L269.5 411L269.5 412ZM331 414L329.3 414L329 413.6L329.9 412L331 411.8L332.9 413ZM450 413.2L449.2 412L451 411.4L451.2 412ZM237 416.1L236.5 416L236.7 415L238 414.6L238.5 415ZM262 418.2L261 418L263 416.5ZM214 419.5L212.6 419L212.7 418L214.6 418ZM198 423.2L196.3 422L199 421.4L199.4 422L199 422.9ZM266 423.3L264.9 423L266 421.6ZM263 428.1L262.5 427L264 426.9L263.6 428ZM367 429.6L366 428.8L365.6 428L366 427.6L367 427.3L367.9 429ZM208 429.6L207 430L206.8 429L208 428L208.8 429ZM135 434.3L131.8 433L131.3 432L133.7 430L135 430.2L135.6 431L134.6 432L135.6 434ZM289 438.1L288.4 438L288.2 437L290 435.5L291 435.5L291.5 436L291.1 437ZM349 437.8L348 437.6L347.6 437L349 435.7L349.8 436L349.9 437ZM149 438.1L147 438.4L146.5 437L149 436.5L149.4 437ZM180 440.4L179 440.2L179 439.6L180 438.1L181 438.2L180.9 440ZM140 442.3L138 442.5L137.6 442L138.5 441L140 440.7L140.4 441ZM191 443.3L189.3 442L191 441.3L191.9 443ZM302 443.4L300.2 443L301 442.1L302.5 443ZM307 445.2L306.6 444L307 443.6L307.5 444ZM370 444.2L368 444L369 443.7ZM188 450.2L186 450.4L184.2 449L185 448L187 448.4L187.9 449L188.5 450ZM308 448.1L307 448.5L305.6 448L307 447.4ZM167 452.3L165.6 452L165.2 451L166 449.9L167.3 450L167.9 451ZM331 451.4L328.9 451L330 449.9L331.5 451ZM352 454.3L351 454L350.6 453L351 452.7L352 453.4ZM140 457L138.6 457L137.8 456L139.7 455L142 455L141.6 456ZM107 467.1L106 467.4L105.1 467L106 466.1ZM261 470.3L259.8 469L261 467.7L261.9 470ZM169 471.8L168 471.6L167.8 471L169 468.3L170.4 469L171.1 470ZM308 470.4L306 470.6L305.4 470L307 469.3L308.5 470ZM245 475.2L244 475.6L243.3 475L244 474.5ZM189 477L187 477.6L186.6 477L189 476ZM296 483L294 483.7L291.6 483L292.3 482L296 481.8L296.7 482ZM295 489.3L292.8 489L292.5 488L293 486.8L295 486.8L296 487.8ZM113 489L111.9 488L113 487.6L114.3 488ZM238 497.1L236.6 497L236.2 496L237.6 495L240.4 495L240.6 496ZM131 500.2L129.8 500L129.8 499L131.4 499L131.6 500ZM234 501.4L233 501.7L231.9 501L231.6 499L234.1 499L234.4 500ZM137 502.2L136 502.8L134.9 502L136 500.9L137 501.4ZM164 506.3L162.7 505L165 504.2L165.6 505L165 506ZM179 507L176.7 507L177 506L178 505.8ZM141 507.4L140 507.3L140 506.5L141 506.2ZM176 531.2L175.5 531L175.7 530L176.9 530ZM224 533.4L222.9 533L224 532.4L224.9 533ZM177 536.4L175.5 536L175.6 534L177 534L177.6 536Z"/></g>
<g filter="url(#soft)"><path fill-rule="evenodd" fill="#c03d09" d="M740 338.4L739.5 338L740 336.5L741 337L741 338ZM600 554.1L596 550.3L592.8 549L593.2 548L594.6 547L593.5 547L593 547.6L592 546.7L587 548L586 547.4L586.3 546L589 544L586 543.2L582.3 540L582.5 537L583 536L584.7 535L584.1 534L581 535L580 534.5L580 532L578.2 530L577 529.6L571 530.8L570.5 527L568.4 525L568.1 521L567.4 520L565 519.4L559 516.2L557 515.9L556.3 515L556.9 514L557.1 512L556 510.9L552.8 510L554 508.4L558.5 508L559.7 507L559 505.1L556 506L555 507.4L554 507.8L552.2 506L552 504L551 503.7L550 504.7L548 504.8L545 504.2L543.6 503L543.4 501L545 499.4L545.1 500L547.6 502L547 503.2L550 500.5L550.4 500L550 499.7L549 500.9L548.1 499L547 498.6L545 498.9L544 499.7L543 498L542 497.8L541 499.2L539 499.6L538.4 499L539.2 498L537 495L535 494L534 492.2L531.2 491L533.2 489L532 487.8L529 487.9L527.4 487L527.5 484L525 482.8L524.4 479L521.2 476L519.1 475L517.8 475L516 473L515 472.7L512 474.1L509.3 474L507.9 473L506.4 470L504 468.5L501.2 465L501.2 464L505 462.1L505.7 461L502 457.2L501 456.9L500 458.6L496 461L493.6 460L496.3 458L495 456.7L492 455.4L491.2 454L491.3 453L492 452.1L493.2 452L493.4 451L492 451L491 452L488.1 450L486.8 446L489 446.3L489.4 445L486 444.7L484.2 442L485 440.1L486.6 439L483 439.2L481 438.2L478 439.6L475.8 439L475 438L478.6 435L474 431.4L471 431L473 430.6L475 429L479 428.8L480.2 428L480.5 427L479.4 424L476.5 421L476 417L477 416L474.9 415L473 412.8L469.5 413L469.4 411L470.5 409L470.1 408L471.4 406L470.3 403L467.9 401L467.7 400L469 397.9L473 396.7L478 393.8L480 393.5L481 393.9L484 397.9L485 398.1L488 396.8L490 397.5L493 397.2L495 397.5L495.4 399L497 399.4L497.6 399L497.1 398L495.8 397L497 395.3L501 395L502 393.4L505 394.2L506 393.8L508 394.1L511 392.2L512.5 392L513.4 391L511 389L514 387.1L515.6 387L520 388.2L522 389.8L524 388.4L527.4 387L530 385L531 385L531.6 386L531.6 387L530.6 388L532 389.8L532 387.5L538 389.5L542 386.5L545 388.5L546 388.6L547.6 388L548.6 386L550.6 385L558 384.3L560.7 383L560.6 382L567 381.5L570.5 379L570.9 378L569.9 376L571.4 373L572.7 372L574 372.2L574.7 373L573.2 376L576 376.5L577 376.5L580 374L586 372L592 371.9L592.7 373L591.5 374L593 375.6L593.4 375L592.7 374L593 373.4L598 374.9L603 374.1L604.1 373L608 371.6L611 372.1L611 371L614 369.6L616 367.8L617 367.6L620 368.7L624 366.4L626 366.7L629 366.1L632 366.4L633 365.8L633.8 363L637.8 362L640 360.1L641.1 360L642.3 362L646 363.2L649 361.8L651 359.6L653 358.5L657 359.6L660 358.8L663 359.1L662.7 356L664 354.5L667 354.2L668.4 355L667 357.3L666 356.1L665 356.1L664.1 357L664.2 358L666 358.8L668 357.5L671.2 357L676 354.6L679 354.9L682 354.1L684 353.3L686 351.6L688 352.3L690 351.2L693 351.6L695.8 350L696.3 348L697 347.7L699 348L701 350L706 350.5L707 350L705.9 346L707 345.2L708 345.1L710 346.3L714 344.1L716 344.2L718.9 346L719.6 348L719 349L720.3 348L720.2 346L723 344.7L728 339.2L731 339.5L733 338.4L734.3 339L734.6 342L736 343.1L737 346.4L738 346.6L740 345.6L743.2 346L743.4 345L747.7 341L750 340.7L752.2 342L749.7 345L752.8 348L758 349.6L763 348.8L764 350.2L766 350.3L767 351.4L767.8 351L767.5 350L766.1 349L768 348L771 352.1L773 352.3L773.4 353L771.7 354L772 355.4L773 356.1L777.1 357L777.7 356L774.8 354L774.3 352L779 349.3L780 349.4L780.6 350L780.4 352L778.1 354L782 355.1L785 357.8L792.6 355L795 355.1L798 357.5L800 357L805 359.8L807 362.2L808.6 363L809 364.3L812 363.7L813.7 365L812.2 367L813 367.3L814.5 367L815.7 365L817.2 365L818 364L819 361L820 360.5L821 360.8L822.4 362L822.8 364L825 367.1L828 368.7L832 369.4L833 369L834 366.1L835.4 367L836.6 370L838 371.4L842 371.5L842.9 371L840.1 369L841 367.1L843.1 366L845.3 367L847 370L844.5 374L845 374.8L846 374.9L848 374.1L849 374.8L850.3 374L851.4 372L854 371.8L854.7 372L855 373.4L853 374.1L851.6 376L852 376.4L854 376.2L856 374.6L858 375L859 376L863 375.8L865 377.3L870.5 379L871 380.4L875.7 382L876.6 385L876.5 387L875.5 391L874.6 392L875 393.1L877.8 396L877.7 397L872.4 398L879 401L877 405L877 407.2L875 407.4L874 409L874.6 410L876 410.5L876.2 413L875 414.6L871 416.3L866.5 420L864.2 426L863 426.9L858 428.6L856.2 428L855 427L854.8 428L853 430.1L849 431.9L849 434.3L844 434.7L843.3 436L840.9 437L840 438L834 438.1L833.2 439L833.4 440L834.9 441L835 442.1L833 443.2L828.6 442L827.4 444L825.9 444L824.8 449L824 449.9L821 450L820 450.6L819.7 452L819 452.4L814 453.6L811 452L809.2 452L807.1 456L804.1 459L804.4 460L804 461L797 462.9L791 462L789.4 464L787.7 465L787 466.6L782 465.5L780.8 471L780 472.1L779 472L776 475.6L770.2 474L770.8 472L770 471.3L770 470L769 469.3L767 469.9L767.4 471L769.8 473L768.9 474L764.8 476L764 478.7L761.9 480L763 481.3L765.5 482L765.6 483L765.1 484L762 486L757 484.9L755 485L753.4 486L753.6 487L755 487.8L757 487.5L758.7 488L759.4 489L758 490.2L755 491.4L753 490.6L747 490.3L745 492.2L744 492.2L738 496.7L735 497.8L733.7 499L731.9 502L731.9 503L731 503.6L726 506.2L721 507.8L719.5 509L719.6 510L719 510.9L717 509.5L716 510.3L714.7 512L717 513L717.2 514L715 516.1L714 516.1L713.4 515L713.6 513L712 512.8L708 515.5L705 516L702 515.7L698 517.4L697.5 518L699 519.2L701.5 520L702.4 521L702 521.6L694 521.8L693.2 522L693 523.1L690 522.4L684 528.2L682 527.9L676 529.2L672 533.9L671.3 534L672.3 536L671 536.8L667 537L665.9 536L668 534.8L669.5 533L668 531.7L665 531.9L662 531.4L660 531.8L658.6 533L658.3 535L657.4 536L654 535.9L652.4 537L652 538.1L648.9 538L649 535.8L648 535.3L646 536.8L645.4 539L641.7 543L641.6 545L638.6 547L638 550.1L635 550.2L633 546L635.8 545L636 543.9L635 543.5L632 545.9L630 545.9L629 547.6L626 544.5L623 543.9L622 544.1L619 548.2L617.3 549L614.1 552L612 551.7L610 552.3L603 550.6L601.5 552L601.8 553ZM677 349.2L675 349.9L671.4 348L673 347.4L675 348.3L677.2 348ZM673 352.1L671.2 352L672 351L673 351.5ZM563 376.1L560 376.9L559.4 376ZM658.1 401L659.7 400L659.4 399L658 398L655.8 398L655 399L655.5 400ZM862 424L861.8 423L861 422.7L860.1 423L859.5 424L860 424.5ZM693.4 440L691.9 439L692 440.3L693 440.6ZM795.3 453L793 450.4L792 450.3L790.6 451L794 453.5ZM757.3 461L758.6 460L758.8 459L758 457.4L755.1 458L753.5 460L755.8 461ZM792.5 459L792 458.1L791 458L790.7 459L792 459.4ZM512.5 468L511.9 467L510.6 467L511.3 468ZM751.5 480L752.4 479L752.3 478L748 474.9L746 474.6L744 476L743.8 477L744.5 478L746.1 479L749 480.2ZM718.2 491L717 490.4L715 491L717 492ZM714.1 498L714 496.6L713 495.9L711.9 496L711.5 497L712 497.9L713 498.3ZM566.7 503L568.1 502L567.2 501L561 498L559 497.9L556.7 500L556.5 501L558 502.5L562 503.4ZM727 503L728 501.8L729 502L729 501L727 500.5L725.9 501L725.9 502ZM701.7 505L702.5 504L702.4 503L701 501.6L699 501.2L695.3 502L695.2 503L698 505.3L700 505.8ZM578.4 514L576.6 512L573 510.1L572 510.5L570.9 512L571 513.3L573 514.6L575 514.7ZM662.4 513L662.8 512L659 511.3L658.4 512ZM673.1 516L672.9 514L671 512.6L670 512.5L669.7 513L671 515.9L672 516.5ZM690.2 521L690.9 520L690.5 519L688.5 519L687.6 520L689 521.2ZM626.8 533L627.3 530L627 528.5L623 525.9L621.1 526L620.9 527L623.6 530L624.7 533L626 533.5ZM624.3 540L625.6 539L626 538L624 537.2L617.9 539L618.6 540L622 541ZM657 542.1L655 542.8L653.3 542L654.9 540L655 537.9L656 537.6L658 539L658.5 541ZM623 554.3L622 554.8L621 554L621.2 553L623 552.5L623.6 553ZM598 556.5L594 555.1L591.2 555L598 554.1L599.1 555ZM603 561.1L602 556.8L603 556.4L606 557L605 557.7L604.4 560Z"/><path fill-rule="evenodd" fill="#cc4a10" d="M744 371.1L741 371.6L738.5 370L738 369L738.9 367L736.2 365L735.9 364L736.5 363L735 361.6L727 360.8L726 360.9L724 362.9L722 363.8L721 364L720 363.3L718.5 361L717.5 357L718 356.2L719 356L721.5 357L721.4 358L723.8 358L722.4 356L723.7 354L724 349.9L723 349.6L715 352.1L713 351.1L712.6 350L716 347.5L719 346.9L719.6 348L719 349L720 348.4L721 346.4L722 346.1L731 347.3L734 346.8L738 347.2L746 345.1L750 345.6L752.8 348L752.5 349L751 349.4L747 347.9L744.7 349L744.4 350L745 351L748 353.4L750 353.1L753 350.6L756 349.5L761 349.5L761.7 350L761.9 352L762.8 354L761.7 356L761.9 359L755 363.3L753 363.3L749 362.1L746 362.3L743 366L743 367L745 368.6L745.7 370ZM775 368.2L771 368.9L766 367.9L765.3 367L766 363.4L763 362L761.9 360L762.2 359L764 358.8L770 360L775 359.2L777 357.5L777.7 356L776.5 355L775 352L775.8 351L779 349.3L780.6 350L780.6 351L780.4 352L778.7 353L778.1 354L782 355.1L785 357.8L792 355.8L792.8 355L794.1 355L793 356L792 360L787 361.4L783 364.6L781 364.8L777 362.3L775 362.6L774.7 364L776.1 367ZM701 386L699 384.9L695.7 381L696 375.4L696.8 374L699.1 372L699.4 371L696.1 369L696.2 368L697 367.1L700 368.1L701 367L699 366.4L697 366.8L696.6 365L698.4 362L698.3 360L697 359.2L695 358.9L688 361.7L683 362.4L680 362.2L679.4 362L679.2 361L680 359.1L682.9 357L676.4 355L682 354.4L684 353.7L686 351.6L686.6 353L686.3 355L687 356.1L688.1 356L688.8 354L690 353.1L692 352.8L697 354.8L702 355.6L707.4 358L708.2 359L708.2 360L707 363L708.3 366L706.5 369L706.4 372L708 372.4L712 371L714.6 372L715.7 376L713.8 378L715 381L714 382.3L707 384.4L703 384.6ZM771 356.3L769 356.3L766.5 354L766.2 353L767.7 352L770 351.5L771.8 353ZM673 363.1L670 364L667 363.2L664 363.1L660 361.5L657 361.3L653.2 360L652.1 359L654 358.8L657 359.7L660 358.8L663 359.1L662.7 356L664 354.6L665.3 355L666.1 356L664.1 357L664.2 358L666 358.8L674 356.1L674.9 357L675.2 360ZM739.3 358L740.7 357L740.8 356L739.9 355L737.2 355L736.6 356L737.3 357ZM806 361.6L802 361.4L801.4 361L801.4 359L802 358.5L805 359.8L806.2 361ZM818 380L816 380.2L815 379.4L812.8 375L812.8 373L811 369L809 367.6L806 367.8L804.6 370L802 371L801.4 372L802.6 373L803 375L802 376.8L800 377.8L797 377.8L794.3 377L790.9 374L790.7 373L793.7 370L794.3 369L794.1 368L795 367.3L800 367.4L808 364L810 364.5L812 364L813.5 365L812.2 367L814 367.4L815.5 366L815.7 365L817 365.2L818.1 364L819.3 361L821 360.8L822.3 362L823.4 366L822.3 369L824.7 373L822 376L821.1 379ZM623 372.2L617 372L613.5 371L612.6 370L614 369.8L616.1 368L620 368.7L624 366.4L632 366.8L633 365.9L636 367L645 365.7L646.7 366L647.3 367L646.5 368L643 367.9L639 370.1L630 370.2ZM677 376L673 375.7L670 376.9L667 375.3L657 376.1L654.5 375L654.2 374L656.1 373L656.7 372L656.5 370L658 368.4L661 367.3L668 366.8L670.4 368L671 372.8L677.4 374L678.2 375ZM677 369.2L676 369.4L675 369L674.2 368L674.6 367L676.3 367L677.2 368ZM727 368L726 368.4L724.6 368L726 366.9ZM608 376.1L604 376.7L602.3 376L601.6 375L604.1 373L608 371.8L609 372L609.1 374ZM764 377.3L761.8 377L760 376L759.9 375L760.8 373L763 371.3L765 371L766 371.4L768 373.9L772.7 375L771.8 376L767 376.3ZM791 378.7L787 378.7L782.1 376L781.4 375L783 373.6L786 373.9L791.5 378ZM571 376.4L569.9 376L571 374.5L571.6 375ZM624 385L623 385.6L622 385.4L617.3 383L616.5 382L616.9 381L618 380.1L622 378L624 374.2L624.5 376L628 380L628 381L625.2 383ZM850 383.1L847 380.9L844 380.7L840 379.5L836 380.1L833.4 379L832.7 378L833.4 377L837 374.7L840 374.4L846 377L848 379.3L853.4 380L853.6 381L852.7 382ZM755 378.2L753 378L752.7 377L754 375.8L757.6 376L757.1 377ZM636 380.3L634.2 380L633.4 379L633.2 378L634 377.1L635.8 377L636.6 378L636.8 379ZM564 390.1L561 389.1L559.2 387L558 386.6L553 387.7L552.6 386L554.1 385L558 384.8L560 383.9L561.8 382L565 382.2L571 380.8L578 377.4L579.1 381L578.7 382L577.2 383L577 384L579 384.9L579.7 386L578.7 388L577 388.6L573 386.8L569 386.9L567 387.8L565 389.9ZM740 382.7L738 382.6L734 381L730.8 381L730 380L730.3 379L731.3 378L733 377.6L735 378.3L739 378.4L740 379L740.9 381L740.9 382ZM872 388.3L870 388.5L869.5 388L868.3 382L869 380L868.7 379L870.3 379L870.3 380L875.1 382L876.6 385L876 387ZM644 388.2L643 387L643.9 386L643 385.9L641 384.3L639.6 383L639.6 382L643 381.5L647 379.5L647.8 380L647.7 381L644.4 385L644 386L644.9 388ZM662 401L660 400.9L659.7 399L657 397.2L656 397.2L655 398.8L653.8 397L659 396L660.3 395L660.4 394L656 393.5L654.7 394L653 395.9L651 396.2L649 395.8L644.6 393L646.1 390L649 387.7L651.7 381L654 379.4L655 379.2L657 380.8L660.3 382L661.3 383L661 385L661.9 386L667 383.1L668 383.1L669.1 384L669.5 386L668 388.5L663 393L665.5 395L667.2 398L666 399.5ZM682 385.2L680.8 385L679.4 380L680 379.4L682 379L685 379.2L687 380L687.9 382L687 383.9ZM861 384.4L859 384.5L857.5 384L856.4 383L855.7 381L858 379.8L862.3 381L863.5 382ZM767 382.2L765.8 382L765.8 381L767.2 381ZM785 392.7L779 392.9L776.5 392L775.6 391L776 388L775 387L770.8 386L776 382.7L778 382.9L779 384.4L780 384.7L781 384.3L782.2 382L788 381.3L789.1 382L788.9 383L787 384.2L783 385.2L782.2 386L781.8 389L783 389.5L785 389.4L785.8 390L785.8 392ZM804 397.6L802 397.9L797 396.6L793 396.8L791.3 396L790.6 394L791 392.9L797 388.6L801 388.3L802 387.8L802.7 387L803.2 384L805 382.8L809 382.5L810.9 384L810.6 386L809 386.9L804.3 388L804.2 389L805.4 391L805.6 395L805 396.8ZM635 408.5L634 408.4L632.5 405L630 403.3L625 405L623 406.5L620 407.1L618 406.6L616 403.6L615 403L611 402.9L609 402L599.7 395L600 394L603.5 392L603 389.9L600.1 388L600 387L600.6 386L604 383.7L606.6 384L608.6 385L608.1 388L608.4 393L609 394L611.8 396L613 398.1L617.5 396L621 396.4L623 395.2L626 395.6L627 395.2L628 393L626 391.1L626 390L627.4 386L629 385.8L632 388.4L636 389.4L637.1 391L635.8 395L633.6 398L634.7 401L638 402.8L642 402.1L644 402.5L645.8 404L643 404.8L639 404.1L638 404.4ZM596 400.5L594 400.4L592.5 399L592.5 398L593.7 396L592 395.1L587 397.2L579 398L578 397L579.9 395L586.5 390L584.9 387L585.7 386L593 386.7L599.6 389L596.1 393L598.6 395L598.6 397L598 399ZM750 407.2L746.4 407L743.1 405L742.8 404L743.5 402L745.1 400L744.8 399L742 397.9L738 397.8L735 401L728 403.9L727 403.7L724.5 402L724.9 399L724 398.2L721 398L719.8 397L719.9 394L721 392.7L723 392.2L724 392.3L727 394.9L730 394.8L731.7 394L732.7 391L734 389.7L736 389L740 388.8L743 385.7L748 385.8L749.7 388L752 389.3L752.4 391L751.6 394L749.1 396L746.2 400L746.8 402L748 403.2L751 403.8L752 403.8L755 401.3L757 401.2L757.9 402L757.5 403L756 404L753 404.6ZM827 394.2L824 394.9L820 394.2L819 393L819.3 391L819.9 390L825 388.4L828 386.1L829 385.9L833 387.4L835.7 390L836 391ZM493 433.5L491 433.5L487 431.5L486 430.4L484 427L484.5 424L483.3 422L483.4 421L495 417.4L496.8 415L500.3 413L500.9 412L500.7 411L498.6 408L498.4 406L496.8 404L499.1 402L500 399.9L502 400L503.9 401L504 403.8L505 404L506.3 403L505.4 401L505.7 399L507 397.5L513 396.1L519 396.7L524 395.4L525.1 395L526 392.6L530 387.7L532 389.8L532 387.7L534 388L538 389.9L539 389.8L540.1 388L542 386.7L543 386.8L544 388.1L541 389.8L537.6 391L537.4 392L538.9 394L539.1 396L540.4 398L538 401.3L534 404.5L531 405.8L528.6 404L528.6 403L530.9 401L532.2 399L531 397.7L530 398.1L526.3 402L521 403.9L517 407.1L515 407.5L511 406.7L507.1 409L507.5 412L505.4 413L504.9 414L505.3 418L505 419.8L503 422.4L500.4 424L498.9 426L498 426.6L494 426.4L492.2 425L493 422.7L492 422.2L490.5 423L489 426L491 429.2L494 431L494.1 432ZM695 394L693 393.9L691 392.2L688 391.8L686 392.3L682 395L677.4 393L676.3 392L676 388L678 388.1L682 389.8L688 387L692 386.9L692.5 387L693.9 390L695 390.3L699 389L701 386L706.1 388L705.8 389L705 389.4L700 390.2L697.9 393ZM844 393.1L841 392.7L839 391L846 387.5L845.7 392ZM547 414.2L541 413.8L539.4 412L539.3 409L542.8 406L544.4 402L546.1 400L546.3 399L544.8 397L546.8 394L547.1 392L552 388.4L553 388.3L555.7 394L555.6 395L553 396.9L552.3 398L552.5 401L553 401.8L554 402.1L557 401.8L557.3 403L556.3 404L553 404.3L551.2 406L551.2 408L552.6 412ZM867 391.3L866 391.1L865.8 390L867 389.3L868 390ZM767 399L764.5 399L762.7 398L763.4 393L764.8 392L766 391.9L768 392.8L771 396L770.8 397ZM569 400.1L568 400.1L567 399.2L564.4 394L564.2 393L565 392L569.3 393L571.8 396L572.1 397ZM856 427.3L855 426.9L854 428L852 428L841 426.2L837 426.5L831 426.1L826 427.8L824 427L823 425.7L821 425L820.5 424L822 421.1L824 420.8L830 423.2L837 421.9L841 424.4L842 423L840 420L839 419.2L836 418.8L834.5 418L838 414.8L839.1 413L841 411.9L847 412.7L848 412.3L848.7 411L848 410.2L845 409.2L844.6 408L848 405.7L849 405.5L852.8 407L857 407.6L863 407.6L866 406.5L867.9 405L868.1 403L865 400.6L861 399.5L860.5 397L860.9 396L864 394.6L867 392.3L874 392.4L877.1 395L877.7 397L874 397.2L871 396.5L867.9 397L868.4 398L871 398.9L874 398.7L875.6 400L877.7 403L877 405L876 406L871.8 407L871.2 408L871.4 411L870.6 413L867 414.3L862 413.9L858 414.6L854 417.3L849 415.5L848 415.6L847 416.9L847.2 418L848.7 419L852 419.8L856 419.2L860 420.9L863 418.1L865 418L867.2 419L864 426L863 425.7L860 426.6L858 426.5ZM499 399.6L498 399.8L497.2 398L495.8 397L497 395.4L500.5 396L499.7 399ZM822 399.3L819 397L820 396L823 395.3L824 396L824.2 397L823 399ZM838 409.6L836 409.7L834.6 409L833.8 408L833.9 406L833 405.2L829.9 404L829.4 403L830.1 402L833 400L843 398.6L851 395.1L853.7 396L854.3 397L850 397.7L847 401L840 403.7L839.3 405L839.2 408ZM483 412.4L481.2 412L479.5 410L479.1 409L479.5 407L478.9 406L475.8 405L475.5 404L476.1 403L483 397.8L487 398.6L493 397.3L495 397.5L496 399.8L497.1 400L490 399.9L488.3 401L488 403.2L482.7 404L482.5 405L486 408L485 408.9L484 411.9ZM623.4 399L622.8 398L621 397.7L621.9 399ZM677 415.4L672 415.6L669.3 413L668 412.4L664 412.3L661 411.4L658 411.6L658 409.6L660.5 407L660.2 404L662 403.6L664.6 406L666.6 407L672 407.6L673.2 407L673.1 406L670.1 403L671.2 398L674 397L677.6 398L678.2 399L677.1 401L677.4 403L678 403.8L682 404.1L683 405L683.6 407L682 408L678 408.6L677.7 410L679 411.2L684 410.6L686 412L686.2 413L680 413.6ZM630.1 401L631.1 400L630.9 399L630 398.4L628 398.3L626.6 399ZM572 412.1L565 412.8L560.9 412L561.2 411L563.6 410L558.1 406L558 405L562 404.4L568 404.9L569.4 404L570.8 402L572 401.9L574.1 404L577 405.8L581 405.5L582.3 406L582.6 407L582.1 408L579.9 410ZM791 414.3L789 414L788 412.3L787 412.1L783.9 413L783.1 412L783.2 409L780 407.7L779.4 407L779.9 406L782 404.2L783 403.8L786 404.2L790 402L793 401.8L795 402.4L795.4 404L793.3 409L793.8 411L792.6 413ZM475 411.8L470.9 410L470.3 408L472 405.7L474.6 406L474.8 410L475.7 411ZM603 410.2L602 410.2L601.2 409L601.4 408L603 406L603.4 409ZM694 412.5L693 411L689.5 409L688.9 407L693 406.1L695.2 407L697 408.7L701 405.4L705 407.5L706.1 409L705 410.6L703 411L699 410.5L697 409.1L696 409.3L694.4 411L694.5 412ZM822 418.1L820 418.5L819.3 418L819.5 417L818.9 416L815 415L813 413.8L812 413.6L809 414.6L807 414.7L806.3 412L806.9 411L809 410.3L813 407.5L816 407.9L818 410.7L819 410.6L820.4 408L822 406.6L824 406.2L826 406.6L828.1 409L827.9 412L827 414.1ZM612 424L610.6 423L611 421L610 419.5L606.4 418L606.6 417L609 416.2L611 417.8L614 417.3L615.4 416L617.2 413L618 409.7L620 408.1L625 407.4L627 407.8L628.7 409L629.5 411L628 415L623 415.8L621 416.7L617 420.7L614.3 422L613 424ZM740 420L737 419.6L735.7 417L736.2 416L742 413.1L747 413.4L751 412.5L754 412.8L757 412.2L758.6 414L760 414.3L759.8 412L761 411.2L765 411.1L772 407.9L773.9 408L774.5 409L775 411L774.2 413L771 414.8L770 414.9L768 414.1L767 414.4L764.9 418L763 419.3L758 419.5L745 415.7L741.8 417ZM716 420.2L714 420.3L710 418.4L702 418.4L701 417L701.2 416L705 413.8L709 414.8L709.5 414L710 409.7L711 408.7L718 408.9L721.3 410L722.9 411L723.9 413L719 414.2L718.2 415L718.8 418L718.5 419ZM638 412.3L636.9 412L636.7 411L638.3 411L638.5 412ZM493 414.3L491 414L490.5 413L492 411.8L494 412L494.3 413ZM610 415.5L609 415.1L607.6 413L608 412.1L611.3 414ZM873 415.2L872 415L872 413.6L876 412.7L875 414.6ZM525 420.1L523 420L522 419.1L520.2 416L520.7 415L527 413.4L529 413.7L529.3 414L528.1 416L529.1 419ZM640 422L638 422.8L636 421.9L634 419.6L632 418.7L631.3 417L629.1 415L632 413.7L634.2 414L635.4 415L634 417L637 417.3L638 418L640.1 421ZM662 418L660 418.3L658 417.9L656.4 415L657 414L660 414.8L661.9 416L662.4 417ZM566 421.5L565 421.3L564.1 420L566 415.3L568 414.7L570 415.1L570.7 416L570.4 417ZM517 418.4L515.8 418L517 416.5L518 417ZM583 435.1L583.4 433L585.2 431L584.5 430L582 429.1L582.1 428L586 426.1L586.3 425L584.8 424L581 423.6L576.3 421L576.8 418L577.5 417L580 416.1L582 416.1L585 416.4L592 419L596 417.9L597 418.5L597.2 420L596.3 422L597 423.3L598 424.3L601 423.1L601 425.2L595 427.3L594.9 430L594 433.1L592 433.6L587 432.7ZM541 421.5L540 421.7L538.9 421L540 418.3L541 417.9L543.9 419L543.4 420ZM740 431.3L738 431.8L736.5 431L738.7 429L738 428.4L733 428.2L726 427.2L724 424.4L722 423.9L721.1 423L721.3 422L722 421L725 422.7L728 422.6L735 424L737.3 425L739 426.9L743.1 428L742 429.7ZM778 423.1L776.7 423L775.7 422L778 421.4L779 422ZM862.1 424L861.9 423L860 421.7L859 424L860 424.9L861 424.9ZM516 443.3L513 442L512.4 441L513 440L517 439.6L517.2 439L516.5 437L517.7 435L517.4 434L513 432.1L511.9 431L511.2 429L513.4 425L512.9 423L517 422.4L518.6 423L518.8 425L520.2 428L520 429L517.5 432L518 433L523 435.9L523.5 437L522 438.7L519 440L517 442.9ZM753 432.4L749 432.1L748.1 431L752.8 428L751.3 425L752.1 423L755 422.2L761 423.8L763 425L763.5 426L756.3 429L755.5 431ZM706 449L701 449.1L700 448.5L699.8 447L700.4 445L699 443L698.9 442L700 440L699 437.6L698 436.7L694.9 437L694 435.8L694.3 435L695.8 434L695.7 433L692 432.5L690 431.6L687 429.3L686.6 428L691.3 425L695 423.6L696.5 424L693.5 428L693.4 429L695 430.6L697 430.6L700 426.9L703 425.9L705 426.3L707.6 429L712 430.4L712.6 431L712.3 434L713 436L715.4 436L716.5 437L716 437.9L715 438.2L712 437.3L706.9 438L706.9 439L708.8 441L708.8 443L711.3 445L711.6 447L710 448.6ZM555 425.6L552.3 425L555.5 425ZM637 427.1L634 427.5L632 426.3L628.1 426L628.1 425L630 424.8L632 425.9L638 424.4L638.1 426ZM661 454.1L658 453.7L656.7 453L656.3 452L659.5 448L657.8 445L657.4 443L661.5 437L655 432.5L650 432.9L648 435L638 435.9L637.2 435L637.7 434L642 429.6L646 428.9L650 426.7L659 424.7L660 425.2L660.9 427L659 430.4L660 430.6L665 429.4L667 427.6L669 427L671 427.7L673.7 430L673.4 434L670.6 438L663.7 445L664 445.8L665 446.2L668 445.2L673.9 446L674.6 447L674.3 448L667 452.9ZM720 429.5L718 429.1L715.5 427L715.6 426L717 424.4L720 424.1L720.7 425L721.5 428ZM802 427.2L800 427.2L799.1 426L800 425.1L802 425.1L803.1 426ZM619 433.3L615 433.6L613.5 433L613 432L613.4 431L615 430L619 430.2L619.8 428L622 425.9L624 425.4L626.3 426L624.9 429L626 432.3L625 432.7L621 432.5ZM550 428.7L549 428.8L548.3 428L550 426.7L550.8 427L550.8 428ZM575 430.7L569 430.5L567.1 429L568 428.1L570 428.2L573.4 429L575.2 430ZM785 434.3L783 434.3L781.4 433L781.5 431L781 430L778.8 429L779.6 428L782 427.2L784 428.7L786 428.9L789 427.7L791.1 428L791.7 429L791 430.5L788 431.1ZM600 430.8L597.3 430L597.2 429L598 428.3L599 428.3L600.5 430ZM608 443.2L607 443.8L606 443.5L605.7 442L604.8 441L601.3 439L600.5 435L599.5 433L600.2 431L601 430.5L605.3 432L606.6 433L606.5 434L604.2 437L605.1 438L609 439.6L610 439.7L612 438.7L613.9 439L613.4 440L610 440.2ZM543 442.1L542 442.8L540 442.7L534.7 439L534.6 438L537 434.6L538 434.2L540 434.8L541 434.5L542.1 433L544 431.8L548 432L550.9 433L551.9 434L551 434.8L546 435.8L544.3 437L544 440ZM805 434L803 434.5L802.3 433L803.8 432L805 432.3L805.5 433ZM834 435L833 435L832.2 434L834 432.2L835.4 432L836.3 433L836 434ZM849 434.3L846 434.5L845 434L846 433L848 432.5L849.2 433ZM635 440.5L634 440.3L633.2 439L632 438.4L627 439.2L624.7 438L628 436L633 435.6L636.4 437ZM754 447.1L751 447.4L749 446.5L742 445.6L740.3 444L738 442.8L737.4 441L740 437.1L743 435.7L750 438.8L755 439.8L764 436.7L766.4 438L767.1 439L766.5 440L763 441.4L759 444.9L755.4 446ZM481 438.1L479 438.4L478.1 437L481.8 437L481.6 438ZM834 443.1L831.9 443L830.2 442L830 440.4L827 439.6L825.5 438L827 436.4L828 436.3L829 437.8L830 438.4L833 438.6L833.3 440L835 441.4L835.1 442ZM566 445.2L563.8 445L562.1 441L560.9 440L560.4 439L561 438.5L564 437.7L568 438.6L575 438.3L576.9 440L577.2 441L576.5 442ZM680 445.5L676.6 445L674.2 441L673.9 440L674.4 439L676 438L678 437.6L681.8 439L682.6 440L680.4 442L680.1 443L680.5 445ZM822 439.1L819.8 439L819.2 438L822 438L822.4 439ZM551 441.6L549 441.2L549 440.2L551 440.2L551.8 441ZM493 447L489 447.1L489.4 445L488 444.4L487 444.9L485.8 444L490 442.6L493 441L495 441.2L497 442.9L497 444.3L495.7 446ZM795 444.2L790.9 444L789.3 442L789.7 441L792 440.8L794 441.3L795.6 443ZM589 452.1L586.4 452L586 451L587.1 449L587 448L583.1 446L586.2 444L588 441.2L589.3 442L589.8 445L593 446.6L595.7 447L595.7 448L593.6 450ZM721 447.1L718 447.5L716 446.6L715.3 445L716 442L717 441.3L719 441.3L724 443L724.8 444L724.4 445L723 446.6ZM603 449L600.1 446L602 444L604.9 444L603.8 446L603.9 448ZM740 448.4L738 448.1L737.7 447L739 445.9L741 445.5L741.4 446L741.2 447ZM824 448.1L822 448.8L820.4 448L820.4 447L821 446.4L823 446.3L824.4 447ZM514 449L511.8 448L514.7 448ZM628 453.4L622.8 453L622.1 452L623 451.3L624.1 449L625 448.5L630 447.7L634 448.4L634.1 449L631 451.7ZM780 450.1L777 450.2L776.3 449L777 448L779 447.5L780.5 449ZM572 450.3L570.2 450L570.2 449L572 448.5L572.5 449ZM708 452.2L706 452.3L704.9 451L706 450.4L708 450.5L710 449.4L715.1 450L714.6 451L713 451.8ZM808 454.3L802 454.6L798 453.8L797.2 453L799 450.7L809 451.8ZM521 454.2L518.9 453L519.6 452L521 452L522 452.9ZM699 457.2L697 457.6L692 457L694 456.3L695.2 454L695.2 452L697 451.4L699 452.1L700.2 454L700.2 456ZM561 481.5L557 481.5L554 478.4L548 480.8L547.2 480L551 472.6L556 472.5L557.2 472L557.3 471L556 470L553 469.6L552 466.9L550 465.9L547 466.8L543 469.2L540 469.4L538.3 469L537.8 468L539.9 466L540.2 465L540.6 462L540 461.1L536 459.5L533 460.1L531.6 459L532.4 457L534.9 454L537 452.4L538 455L542 456.8L542.8 459L541.8 461L543 462L545 462.4L549 461.8L556 465.4L559 465.5L560 467.6L563 467.9L564 468.7L563.2 471L564 471.7L570 474.4L573 474.9L574.9 474L575.7 473L574.6 470L580 467.2L586 467.8L588.1 469L588 470L585.7 472L585.9 474L584 475.7L576 478.1L573 477.1L569 477.7L567 476.8L565 476.7L563.2 478ZM613 454.1L612 454.2L611.4 453L612 452.5L613 452.8ZM652 457.2L651 457.3L650 456.6L648.8 454L652 453L654.9 453L654.3 455ZM559 462.2L555.6 461L554.9 460L555 456L556 455.9L560.5 458L560.4 461ZM621 469.1L619 469.5L617 468.9L613 465.5L607 466.5L604.4 466L603.7 465L604.1 464L608.2 460L608.3 459L606 457L606 456L608 455.7L611 456.3L613 458.7L620 459.9L622.4 461L622.7 462L619.8 463L618.8 464L620 465.1L624 464.7L624.5 463L623.4 462L625 461.3L629 462.8L630.1 464L628.2 465L626 465.4L624 467.3ZM767 457.8L764.6 457L764.3 456L766 455.4L767 455.7L767.6 457ZM698 506.1L693.8 505L692 502.9L691 502.9L689.9 505L687 506.1L685 506L684.9 505L688 503L688 502L685 499.1L684 498.7L681 502.1L680 502.1L676 500L672 501.2L667.5 501L667.1 497L664 496.1L662.6 495L662.3 494L663.2 490L670 487.4L675 487L678.4 489L683 488.6L685 489.8L686.9 489L687.9 487L688.4 486L687.4 484L688.2 481L687 479.4L685 479.1L677 481L676 480.2L676.1 479L677 478L682.1 475L681 473.2L680 473.1L679 474.2L676 474.5L675.5 472L672.7 470L671.1 467L672.2 465L673.6 464L679.2 463L680 462L679.9 461L678.4 459L678.5 458L681 456.5L683 456.6L687.6 458L688.8 459L689.2 461L689 462.1L687 463L685 465.7L683 466.8L683.7 468L683.2 469L679.8 471L679 472L680 472.9L686 471.6L690.2 472L691.2 473L691.9 476L693.3 478L691.2 481L693 481.5L695 479.4L696 479.2L697 479.4L698 480.6L697.9 482L695 483.4L691.1 487L691 488L692.2 490L691.8 496L692.4 500L693 500.8L695 500.7L700 498.2L703.4 499L704.6 498L704.9 494L703 493L697.6 492L697.4 491L698 490.5L701.1 489L701.2 488L699.9 486L700 484.7L703 483.9L712 485.5L713 485.1L710 484.4L707.7 482L707.7 479L709.5 475L714 473.7L714.4 475L718 478.6L721.6 480L719.7 482L722.3 484L722 488.7L716 490L715 491L715.5 493L714.3 495L710 496.4L707 498.5L705.3 499L706.7 502L705.2 505L703 504.9L702.7 503L701 501.2L696 501.3L695.2 503L698 506L698.6 506ZM513 469L510 469.1L509 468.5L509.6 464L509 463.1L506 462.7L505.5 462L506 460.6L510 459.5L516 458.8L521 459.9L527 459.4L528.7 460L527.8 461L521 463.3L518.1 466L514.4 467ZM653 473L651 473.4L642.7 468L639.9 462L640 460.8L645 458.7L649 458.6L651.5 460L651.7 461L649.6 467L652 467.4L655 465.7L658 465.1L661.4 467L661.7 468L661 469.1L658 469.9ZM722 467.3L717 467.9L715.5 467L715.6 466L720.9 464L724 458.6L726 458.1L728 458.8L729.9 461L730.8 464L728 466.1L725 466.2ZM779 462.2L771 462L768.6 461L768 460L769 459.2L771 459.5L774 460.9L778 460.1L779.3 461ZM593 462.1L589.1 462L593 461L593.6 462ZM668 464.2L666 464L665.3 463L666.3 462L668.4 462L669.2 463ZM762 486L759 484.6L757 484.2L756.5 485L754 485.4L753 486.6L751 485.7L750.3 485L751 483.7L755 483.6L756 483L752.2 480L752 477.6L748 474.7L746 474.4L744 476L743.6 477L745 478.6L746.1 479L746 479.6L745 480L743 479.8L741 476.9L736.9 476L736.4 475L737 473.7L738 472.8L741.4 472L742.2 471L741.3 469L737.9 466L737.8 465L739.4 464L742 463.5L747 463.4L750 464.7L757 463.8L761 462.7L762.6 463L765.5 466L765 467L761 468.8L755 468.1L752.1 469L751.3 470L752 472.7L753.4 474L754.4 476L757.8 478L759.6 480L765.5 482L765.1 484ZM784 463.4L781.8 463L784 462.3L785 463ZM577 465.5L575 465.8L573 465L574 463.5L576 463L577.5 464ZM749.6 467L749.7 466L749 465.7L748 466L747.6 467ZM512.8 468L511 466.4L510.3 467L512 468.9ZM762 472.2L760.7 471L761 470L762.7 471L762.8 472ZM521 474L519.7 473L519.8 472L521 471.2L522 471.3L523 472L523.1 473L522 474ZM617 479L614 479.8L609 478.6L606.8 476L605.2 473L609 471.4L611 471.3L613.7 474L614.4 476L616.7 478ZM669 479.3L667 479.4L664.3 477L665 471.9L666.9 472L667.7 474L671 476.3L671.2 477L670.6 478ZM776 475.6L772.6 474L778 471.3L778.9 472ZM600 475.3L595 475.9L594.1 475L597 473.7L601.6 474ZM620 475.1L618.4 474L620.4 474ZM557.7 477L558.9 476L558 474.4L556 474.6L554.8 476L555 477.3ZM634 480.2L631.7 480L629.5 477L630.1 475L631 474.5L634 474.8L635.7 476L635.8 479L635 480ZM593 483L591 483L590 482.4L588 478L592 476.2L592.9 477L594 482ZM644 478L642.7 478L642.9 477L645.3 477ZM543 491.9L541 491L539.6 489L537.8 488L537.6 487L543.1 484L543.3 483L541 482.5L540.6 482L540.1 481L541 480.1L547 480.1L547.9 481L548.1 483L549.4 485L550.9 486L550 487L548 486.1L547 484.9L545 485.7L544.9 488ZM568 484.1L566 484.6L563.7 484L563.2 483L566 481.9L566.8 480L568 479L569 479.2L570.8 481ZM628 487.3L625.8 487L625.2 484L623.7 483L624 482L626 482L627 482.5L629.4 485L629.9 486ZM651 483.5L649 483.7L648.4 483L648.7 482L650 481.3L652 481.5L652.7 482ZM742 488.6L737 487.9L735.5 487L735.5 486L737.8 484L739.4 484L742 486L742.4 488ZM600 492L598.7 492L598.3 491L599.1 489L603 487.5L604 487.6L604.3 489L601 490.8ZM608 495L605.9 495L608 493L608 491L609 490.6L610.8 491L610.6 492ZM578 498.4L576 498.6L573.6 498L573 497L571 495.8L570.5 495L570.7 494L573 492.9L575 493L578.9 497ZM619 501L616.4 500L615 498.4L612 497.7L611.7 496L614 495.4L616.4 496L617 496.8L618 496.6L623 493.3L623.9 494L623.8 495L621.8 497L622 498L626 497.4L627.8 499L627.4 500L626 500.7L622 500.4ZM641 501.1L639.4 500L639 498L640.8 497L643 497.1L644 498L643.9 499L643 500.4ZM734 498.1L731.4 498L730.9 497L732 496.6L735 497ZM544 499.6L543.8 498L546.3 498ZM557 510.5L554 510.5L552.8 510L554 508.4L555 508.1L558 508.6L559.7 507L559 505.1L556 506L555 507.4L554 507.8L552.5 506L552 504L551 503.5L550 504.1L549.2 503L549.2 501L550.4 500L550 499.3L549 500.8L548.8 499L554 497.3L558 497.6L558.4 498L556.3 500L556.3 501L557.2 502L558 502.8L564 503.8L569 502.5L569.8 502L568.8 500L571 498.9L572.3 499L573.6 502L573.4 503L569 508L567 508.7L565 507.7L562 507.7ZM652 505.1L650 504.3L648.8 503L649.2 501L651 499.8L663 498.3L664.8 499L666.2 502L665.5 503L663 504.5L655 504.2ZM546 503.7L545 504L544 503L543.7 501L545 499.4L547.2 502ZM603 501.2L601 501.3L600.5 501L600.6 500L603 499.6L603.7 500ZM615 508.5L609.1 506L609 505L610 502.9L612 502.3L614 503.7L615.6 507ZM719 504.1L717.9 503L719 502.4L720.2 503ZM579 506.4L576 506.8L575.1 506L576 504.8L579 504.5L580.1 505ZM634 506.1L632 506.1L631 505L633 504.7ZM651 512.2L650.2 511L651 509.1L652 508.6L652.7 509L652.6 511ZM576 511.2L574 510L575 509.2L576 509.2L576.8 510L576.9 511ZM699 516.3L696 516.5L693 515.9L691 512.6L687 511.2L687 510L688 509.4L698 509.6L702.1 513L701.3 515ZM598 522.1L595 522.7L592.5 521L588 519.7L587.3 519L587.6 518L589 516.7L593.1 515L594.2 513L594 511.6L600 511.7L603 512.6L607 512.4L610.4 515L610.7 516L609.4 517ZM668 517L666 516.6L665 514.4L662.4 513L663 511.8L668 511.9L670 513.8L671 516.1ZM652 520.1L647 518.6L643.5 520L641 520.3L639.8 520L638.9 518L640 516.9L646 517.1L648 514.3L653 514.4L654 515L654.2 516L653 519.6ZM567 519.1L564.6 519L563 518.3L561 517L561.2 516L562 515.3L564 515.2L570 515.9L571.5 517L570.8 518ZM598.5 519L598.8 518L598.1 517L596 517L595.5 518L596 519.2L597 519.6ZM672 520.5L668.4 520L669.6 519L673 517.7L674.8 518L674.6 519ZM677 524.4L675 524.6L673.2 523L673.2 522L676 519.8L680 519.4L684 517.1L688 518L688.5 519L687.5 520L688 521.2L682 520.4L679.5 523ZM631 527.5L629 528L627 526.7L623.5 526L621.4 522L621.9 521L628 519.6L633.4 520L631 520.6L630.3 522L631.7 526ZM596 536.2L593 536.7L590.3 536L589.6 535L589.7 533L589.2 532L588 531.5L586.1 532L585.9 534L585 534.8L584 533.9L581 535L580 534L580 532L578 529.8L575 529.3L571 530.8L570.9 527L569.3 523L570.2 522L577 520.3L577.4 523L582 525.8L584 525.5L588 523.8L594 524.3L594.9 526L591 527.3L590.3 529L591 530.5L593.4 533L596.6 535L596.5 536ZM606 527.2L604 527.7L602.8 527L604 525.3L606 524.8L606.9 526ZM650 528.6L647 528.6L646.2 528L646.1 527L647.7 526L650 526.1L651.2 527L651 528ZM621 529.1L620 529.5L619 529L619 527.5L620 526.3L621.4 528ZM645 535.3L643 535.6L640 534.4L639.1 533L639.5 532L640.7 531L642 530.8L646 531.5L646.9 533L646.8 534ZM620 535.1L615 535.6L613.5 535L615 534L617 534.5L619 533.3L620.7 534ZM634 543.4L632 543.1L630.4 542L630.7 540L633 537.6L636.1 539L637 540L636 541.9ZM604 543L602.6 542L604.6 541L606.3 541L606.6 542ZM601 553.4L600.6 553L600.9 550L602 547.8L603 547.5L608 548.6L613 547.3L615.8 548L616.1 549L614 551.2L613 551.5L611 551.1L609 549.3L608 549.3L605 551.2L604 550.4L603 550.5L601.3 552L601.6 553ZM604 558.8L602 556.9L606 557Z"/><g clip-path="url(#co)"><polygon points="470.8,402.0 601.0,503.0 601.4,567.6 465.8,442.0 458.8,402.0" fill="rgba(60,10,0,0.15)"/><polygon points="601.0,503.0 876.0,381.7 884.5,424.0 690.0,539.0 601.4,567.6" fill="rgba(60,10,0,0.08)"/></g><path fill-rule="evenodd" fill="#742205" d="M734 342.1L732.3 342L734 340.6ZM726 349.1L722 349.9L721.6 349L722 347L723.4 346L724 343.9L728.7 345L727 347L727.6 348ZM749 345L748.4 344L749 343.5L750.4 344ZM677 349.2L675 349.9L674.4 349L676 348.3L677 348.7ZM705 353.5L702.2 353L701.1 351L703 350.2L705.5 351L705.6 353ZM716 356.2L712 356.9L711 356.6L709.6 355L709.4 353L711 352.2L715 353.3ZM685 358L684 358.1L683 356.8L680.7 356L681.4 355L685 353L686 354L685.8 357ZM747 355.2L745 355.9L743 355L747 354ZM762 360.2L757.8 360L756.7 359L756.9 358L760 357L763 357.3L763.3 357L762.6 355L765 353.7L766.5 354L767.3 356L769.1 357L768.4 358L767 358.6L764 358.4ZM742 365.3L738.9 365L743.2 362L742 360.2L741 359.3L736 361.3L734.4 360L736 358.2L740 356.9L741.1 357L742 358.8L745 357.6L746 358L746.6 360L744.9 363ZM731 359.3L729.8 359L729.8 358L731 357.6L731.9 358ZM775 363.5L774 363.7L773.3 363L775 361.5L775.5 358L776 357.8L777.2 358L777.5 359L779 360.2L786 360.9L786.6 362L786 362.7L784 361.1L783 361.1L779 362.2L776 362.1ZM791 358.6L790 358.7L789.3 358L790 357.2L791.4 358ZM653 360.2L651 360.8L650.8 360L652 358.9L654.1 359ZM688 362L687 361.9L685.9 361L687 359.2L689 358.5L691.4 359L690 361.2ZM730 362.3L726 362.8L725 362.1L724.6 361L725 360.1L727 361L730 361L730.9 362ZM697 364.2L694.6 363L695 362L697.2 363ZM751 363.2L749.8 363L751 362L753.4 362ZM773 370L770.2 367L769 366.6L767 366.9L765.2 366L764 364.6L760.5 364L761.1 363L766 361.8L766.9 362L766.5 363L769 365.3L772 365.5L773.8 367L773.5 368L774.3 369ZM662 368.2L661 368.2L659.6 367L657 366.5L654.6 365L657 362.7L659 362.1L660 364.5L663.5 366ZM702 365.1L700 365.5L699.4 365L699.6 363L702 362.1L704 362.9L703.8 364ZM791 364.5L788.8 364L790 363.1L791 363.2L791.9 364ZM822 365.1L819.5 364L820 363.1L822.7 364ZM682 366.6L680 366.9L678.4 366L679.5 365L682 364.3L682.9 365L682.8 366ZM717 366.2L716 366.6L715 366L717 364.3L717.6 365L717.5 366ZM672 369.2L670 369.7L669.2 369L671 365.7L673 367L672.1 368ZM710 367.1L707.6 367L709 365.1L710 365.4ZM635 373.5L631 373.8L629.3 373L632.4 371L632.6 370L629.1 369L630.8 367L633 366.3L634.3 367L636.2 372ZM726 368.2L724.2 368L723.3 367L725 366.5L725.8 367ZM797 371.9L794.4 371L794 370L794.4 369L793.5 367L794 366.2L795 366.3L796 367.3L799 366.5L799.5 367L799.7 368L797.2 370L797.8 371ZM721 369.1L720 369.4L719.2 368L720 367.3L722.7 368ZM752 369.7L744.7 369L747 368.5L749 367.2L752 367.2L753.1 368ZM802 373.2L801 374L799.1 373L798.9 372L800.6 371L800.8 369L804 367.2L806.3 368L807.1 370L806 371.1L803 370.6L801.5 371ZM818 371L817 371.3L816.2 370L819.4 368L821.3 368L821.7 369L821 369.7ZM646 371L642 371.2L640 371.8L639.5 371L641 370.2L644 369.9L645.1 370ZM658 370.4L657 370.9L656.6 370L658 369.4L658.5 370ZM574 373L572 373.5L571.6 373L573 371.9ZM604 376.2L603 376.3L600.4 375L605 374.5L607.5 372L611 372.1L612 371.6L613.8 372L615.9 374L614 375.3L609 374.7ZM736 375.1L734.1 374L735 373.2L737 373.2L740 371.7L741.3 372L742.2 373L742 374.5L741 374.8L738 374.1ZM771 374.2L770 374.5L769.5 374L771 372.5L772.1 373ZM812 377L810 376.5L807 377L806 375.4L806.4 374L812 372.2L813 372.7L813.9 374L812.6 375L812.8 376ZM825 374L824.6 374L825 372.8L826 372.4L827 373ZM853 374.1L852 374.4L850.5 374L853 372.3L854 372.1L855 372.7L855 373.4ZM588 375.1L586 375.1L585.7 374L587 374ZM670 382L668.7 382L667 380.6L664 380L663.3 379L666 376.8L668 376.4L670 374.6L676.2 374L675.6 376L677 377L671.2 379ZM719 379.2L718 379.6L716.8 378L714 377.1L711 377.7L710.4 377L710.6 376L715 373.8L718 374.8L722 374.5L722.2 375L721 375.7L718 376L718 377.6L719.7 379ZM787 381L784 380.8L782.7 380L783.3 378L781.3 376L781.2 375L782 374.2L784 373.7L786 374.6L786.7 376L785.8 378L786.4 379L789 378.5L789.9 379L788 380.8ZM588 387.6L587 387.8L583.9 386L587.1 383L587.2 379L592 377.5L594 374.4L596.5 375L596.4 376L597.4 378L596 378.6L593 378.5L590.1 382L589.7 383L590 385ZM768 397.6L766 395.7L764 396.5L761.1 396L762 394.8L765 393.5L767.7 393L766 391.3L765 391.8L764 393.5L760 392.7L755 393L752.1 391L752 389.8L750.8 390L750.8 391L749 391.4L747.3 389L747.4 388L750 385.4L754 384.1L753 383.4L736.8 382L732.5 380L732.9 379L737 379.1L740 379.8L742 379.6L744 378L740.5 376L742 375.2L745 374.9L749 376.9L749.7 378L754.8 379L756 380.8L759.2 383L758.8 386L760.7 387L757 387.7L756.3 389L756.5 390L758 390.3L761 389.6L770 391.2L772 390.1L773.3 391L773 392L769.4 393L769.6 395ZM767 378.2L765 378.8L762.4 378L762.8 377L765 376.2L766 374.8L767 374.6L768.5 376L768.5 377ZM798 377.6L795 377.9L792.9 377L795 375L799.9 375L799.6 376ZM563 376.1L561 376.8L560 376.6L559.8 376ZM661 377L659 377L657.9 376L659 375.1L660 375.5ZM778 378.4L777 378.6L775.2 377L776 376.3L778 376L778.5 378ZM838 382.1L835 378.5L832 378.4L830.8 378L831 377.6L833 375.9L835 376.8L841 377.1L843 378.1L845 378L846.5 379ZM623 377.3L622 377.6L620.7 377L622 376.6L623.2 377ZM685 379.3L683 379.9L682.5 379L685 376.3L686 376.1L688.2 377ZM708 380.4L706 379.7L704 380.4L702.2 380L702.5 379L704.8 378L705 376.9L707 377.7L710 377.3L710.8 378ZM581 380L578 379.1L574.3 379L576 377.7L579 377.8L581.3 379ZM816 384.5L815 384.5L814.9 383L816.5 381L816.1 378L817 377.6L820 377.3L827 379.2L828.2 380L827 380.6L823 381L820.8 383L818 382.4ZM800 381L798.3 381L796.9 380L798 379.1L799 379L800.6 380ZM868 384.3L866.3 384L869 381.4L871 380.6L873.2 381L873 381.7L870 382.5ZM611 384.4L608.7 384L607.9 382L610 381.5L611.5 384ZM791 384.3L788 383L788.3 382L791.1 382L791.7 383ZM805 385.1L804 383.1L802.7 383L802 382L803 381.6L804.5 382L805.9 384ZM811 383.3L809 383.6L808.3 383L808.6 382L810.5 382L811.4 383ZM649 386.2L648 386.9L644 386.5L643.4 385L645 383.4L648 383.3L650 382.6L651.5 383L651 385ZM694 385.1L692.9 385L694.7 383L696.2 383L696 384ZM828 384.9L825.4 384L826 383L827 383L828.3 384ZM576 386.5L573.1 386L571.9 385L575 383.9L576.8 384L578.3 385ZM618 389L615.8 389L615.5 388L616.5 387L615 385.2L612.3 385L616 384.9L618 383.4L625 383.6L626.4 384L626.1 385L628 385.8L630.3 386L628 386.3L626 387.6L624.8 386L623 385.6L621 388.2ZM551 396.1L548.8 396L550.3 394L550 392.4L542 393.5L539 392.6L535 394L533.9 392L532 391.5L530.5 392L531 393L530 393.9L529 393.9L526.8 391L527.6 390L530 388.7L531.2 389L532 389.8L533 389L536 388.9L540 391.8L550 388.1L550.6 387L549.5 386L550.7 385L556 384.7L559.7 386L559 386.6L552 386.1L551.4 387L554.3 388L554.4 389L550.6 391L551.5 392L554 392.8L557 392.5L559 391L560 391.2L561.1 392L561.3 393L556 395.8L554 395.5ZM824 386.3L822 386.2L821.1 385L822 384.4L823 384.6ZM839 389.1L838 389.4L836.3 389L836.9 385L838 384.5L841.6 385L842 386.2L840.8 388ZM598 390.5L593 389.3L592.7 388L597 388.3L600 386.6L601 386.8L600.8 388ZM814 390.1L808 390.8L805.9 390L809 387.5L811 386.7L812 387.1L814.4 390ZM664 388.1L663 388.6L658.4 388L659 387.2ZM789 395.7L784 395.4L781 393.9L779.8 395L778 392L781 391.7L785 394.4L786 394.2L787 391.4L789 392.2L789.8 391L789.6 390L791.8 389L796 389.5L797.2 389L798 388L803 387L804.7 389L804.9 390L803 391.4L793 392.7L791 393.4ZM649 392.5L640.8 391L641.3 390L642 389.8L643 390.4L649 390L649.6 392ZM818 392.6L816 392.1L816 391L819 389.3L819 390.1L818 391L818.8 392ZM569 392.6L568 391L570.5 391ZM633 394.2L631 394.1L629.8 393L631.3 392L637.4 391L637.6 392L636.7 393ZM721 395.2L718 395.3L717.1 395L716.6 394L718 393L721 392.5L724 390.8L726.5 392L726.7 393L726 394.7L724.2 394L724.3 393L723 392.8L722.2 393ZM824 394.2L823 394.3L819.9 393L825 391.1L827 391.4L827.3 392L826.7 393ZM839 397.3L836.5 394L836.3 392L837 391.5L838 391.7L838.1 393L839 393.5L844.1 395ZM576 396.2L568 396.2L566.6 395L566.5 394L568 392.4L570 394.4L573 393.7L574 394L575 395.6L575.1 395L576 394.6L578.3 395ZM607 394.1L606.1 394L606.8 393L608.6 393ZM626 393.7L625 393.4L625 392.6L626 392.4L626.9 393ZM747 395.4L746 395.8L737.9 395L740 394.3L743 394.8L746 392.8L747 393.3L747.5 395ZM848 395.1L846.5 394L846.5 393L848 392.6L848.9 393L849 394ZM862 395.4L860.9 394L862 393L863.1 393L863 394.5ZM585 402L583 402.5L578.7 402L582.1 400L583 399L583.3 397L587 394.3L588.7 395L589.5 396L585.3 398L585.4 399L587 400L587.1 401ZM471 400.2L469.3 400L468.7 399L469 397.9L473 396.9L475 397.7L478 396L479.7 398L478 399.2L475 398.4ZM676 396.3L673.9 396L675 395L676.9 396ZM725 401.1L723 400.7L722.3 400L723 398.9L725.2 398L725.9 397L726 395.5L727.2 397L729 398L729.2 399L728.6 400ZM495 404.1L493 403.9L492.4 403L493 402L497.8 400L499 398.4L502 396.9L503 396.8L504.8 398L502.2 400L502 401L499.7 403ZM644 407.9L643 408L642.3 407L641.8 404L642.8 403L642.7 402L642 401.6L640.8 403L638.4 404L637 405.7L632 404.9L631.6 404L632 403.5L638 401.7L638.4 400L638 399L633 399.1L631 400.8L628 401.7L625 401.8L622 401.1L620 401.7L619 401.3L618.3 400L618.8 397L622 396.5L623.7 399L625 399.6L631 398.6L633 398.9L638 397.9L641 399.5L644 400L646 401.5L651 400.3L653 401.4L655.4 402L654 402.7L651 402.4L645 403.4L643.5 405L644.6 407ZM710 406L709 406L705.5 403L707 401.4L708.5 401L707.1 398L708 397.3L709 397.8L713 396.9L715.3 397L714.8 398L713 398.8L712 400L709.4 400L710.3 401L707.7 403L709.3 404ZM489 402.1L487.9 401L489.8 400L490.1 399L489.5 398L493 397.4L494.6 398L491 400.2L490 401.9ZM681 403L677 403.2L675.6 402L677 401.7L679 399.7L682 399.4L684 398L686 398.2L686.6 399L686.5 400L683 400.5L681.2 402ZM790 400.1L786.8 400L786.3 399L788 397.9L790 397.5L791 397.7L792.4 399ZM532 401L529.7 401L530 400L532 398.2L533 398.1L535 400L539 399.6L539.3 400L538 400.4L534 400.3ZM598 400.1L594.5 400L598 398.5L603 398.5L603.3 399L600 399.1ZM673 402.2L671 402.9L670.3 402L672 399L673.3 401L673.4 402ZM695 401.2L693.7 401L692.7 400L693.1 399L694 398.7L695.8 400L695.8 401ZM520 400.1L519 400.4L517.1 400L519 399.4ZM555 401.5L554 401.7L552.6 401L553 400L555.4 400L555.9 401ZM568 405.8L566.1 405L566.5 404L569.2 402L569.6 401L569.1 400L574 399.3L577.7 401L572 403.6L569.3 404ZM830 408.3L827.4 408L827.3 406L829 404.6L835 402.8L839.6 401L841 399.9L847 400.5L847.7 401L846 402.7L840 403.4L838.9 406L838 406.6L832 406.5ZM872 402.6L870 402.3L868 401.2L867 402L865 402.2L863.1 401L864 399.8L868 400.9L870 400.6L872.3 402ZM735 402.2L733 402.5L732.1 402L733 400.7L735 400.5L736.1 401ZM863 403.4L862 403.9L861.2 403L860.3 402L860.8 401L862.7 401L863.5 402ZM877 403L874 403.7L872.2 403L873 402.4L876 402.7L877 401L879 400.9L878 402.8ZM480 405L477 405.5L476.1 405L475.3 403L476 402L478 401.2L481 401.6L481.6 403ZM538 404.2L536.2 404L536.4 403L538 401.7L539 402L539.5 403ZM761 409.3L760 409.7L759 409L760.5 408L760 406.6L756 405.7L755.7 405L757.6 403L756.8 402L757 401.5L758.1 402L758.8 404L760 404.9L764.7 405L763.6 407L764.2 408ZM773 406.7L769 406.4L768.1 406L768.2 405L772.8 402L774 402L775.6 404ZM798 405.5L797 406L794 403L795 401.8L797 401.6L801 402.8L801.2 404ZM823 407.6L821 406L818 405L815 405.6L810 405.2L807.5 403L809 401.8L812 403.3L815 402.6L818 403.5L822 403.5L824.3 406ZM589 404.5L588.7 403L589.9 403L590 404ZM600 407.2L599 407.6L597.4 407L597.2 406L597.7 405L601 403.4L605.9 403L606.1 404L605 405L602 405.9ZM792 404L789 404.4L788.2 404L787.9 403L791 402.4L792.7 403ZM659 408.2L658 408.8L656.6 408L656.3 407L656.9 406L656 405.2L656 403.9L657 404.6L657.1 406L658 406.5L660 406.4L664 405L666.7 406L666.9 407L666 407.4L662 407.1L660 407.4ZM521 408.2L518.2 407L518.6 406L520 405.2L526 404.1L527 405L525 405.9L524 407.5ZM696 409.4L692 408L687 408.3L686.8 409L684 409.6L682 408.8L680 408.9L679.5 408L680.4 407L681 404.6L683.8 405L684.3 406L683 407L684 408L689 407.8L692 405.5L697 404.9L697 406L696 407L696.5 409ZM578 408.5L572 408.4L570.7 408L570.8 407L572 405.6L576 407.8L578 407.8ZM730 406.5L728.8 406L729 405.5L730 405.4L731 406ZM514 408.1L510 408.8L505.8 408L512 406.2L514.2 407L514.8 408ZM529 410.1L527.2 409L528.4 407L530 406.4L531.4 407L530 409.5ZM725 417.1L722.7 417L722.8 416L724.8 415L723 413.3L723 412.6L724 411.8L728 410.8L730 407.7L732 406.7L733 408.8L735 408.3L737.4 409L737.4 410L736 411.4L732 412.5L730 414.4L727 415.1ZM784 419.2L781.8 419L781.9 417L778.9 415L778 413.2L776.6 412L780 409L780.1 408L781 407.2L783 406.6L785.2 408L784.9 409L782.4 411L783.4 413L783 415L784.1 417L784.4 419ZM806 413.4L804.5 413L804.1 412L806.3 410L807 407.2L808 406.3L809.2 408L811.8 410L807.3 412ZM538 412L536.2 411L537 409.7L541.9 408L543 408.3L543.1 409L540.6 411ZM615 416.1L613 415.6L612 414.2L608 415.1L606.6 414L607 413.4L612 413.9L614.3 412L616.9 411L617.7 410L616.9 409L617.4 408L620 407.5L621.2 408L621.6 410L619.2 411L620 413.1ZM605 414.5L602 414.4L601.4 413L602.9 412L602.6 411L603.7 409L604.8 409L605 410L607 410.4L607.8 410L605.3 409L607 408.1L610 409.6L609.8 411L608 412.4L606 413.1ZM714 413.1L713.5 412L714.8 410L718 408.3L720.9 409L720.3 410ZM843 410.4L841 410L841.5 409L842 408.8L843.6 410ZM847 409.4L845 409L846 408.1L847.5 409ZM507 417L505 417.7L504 415.8L503 415.4L500 416.4L499 416.1L499 414.2L489.9 414L491 413.1L492 413.4L495 411.3L499 412.4L500.5 411L500.3 410L505 409.9L506.8 411L507 413L507.8 414L509 414.2L509.2 415L509 416.3ZM596 411.3L594 411.6L591.4 411L594 409.8L596 410.2L596.7 411ZM480 413L477 412.9L475.8 412L479 410.2L480 410.4L481.3 412L481 412.9ZM514 419.1L510.1 418L514.6 415L515.4 414L514.5 413L515.4 412L517 410.8L519 411L519.2 412L518 413.6L516.1 415L516.5 417ZM703 428.2L701 428.3L700.4 428L700.3 427L701.7 426L703 423.1L704 423L702 422.3L701.1 419L702.2 418L699.7 416L702 415L701.4 414L702 412.4L704.3 411L706.4 411L705.5 415L706 415.2L707 415L709 412.8L710 412.7L714 414.7L717 413.3L718 413.4L718.5 414L718 415L715 416.1L713 415.6L711 415.9L705 418.4L703.4 421L704.4 424L706.1 425L706.5 426ZM485 413L483.8 413L484.4 412L486.3 412ZM583 417.2L580.5 417L579.9 416L586.5 412L589.7 412L589 413L586.6 414L585.8 415L585.9 416ZM644 417L640.6 416L640.6 414L639.5 412L641 411.6L642 412.2L642.5 414L644.6 416ZM792 421.4L789.7 421L787.5 419L789.2 418L789.8 417L789.3 416L791 413.7L795 411.6L798 413.1L801 413.5L801.6 414L802 416L800 418.2L798 416.7L795 416.4L793.3 417L793 420.4ZM824 422.2L822 422.1L821 421.5L820.4 420L820.9 419L820.3 418L818.4 417L820.7 414L827 412.5L830 411L834 411.1L836.4 412L832 413.7L831 415L831.7 417L831 417.3L829.6 417L828.9 416L829.4 415L827 413.4L823 416L826.7 417L824 417.3L823 418.1L822.6 419L825.1 420L825 421.6ZM863 414.1L861 414.6L857 414L862 413.5L865 411L866 411.9L865 413.8ZM526 417L524 417.4L522.3 415L525 412.1L526.7 413L525.6 415ZM665 414.4L663 414.4L663.2 413L664 412.6L665.6 413L665.6 414ZM813 414.4L812 414.6L810.8 414L811.4 413L813 412.5L813.7 413L813.8 414ZM623 430L619.9 429L621.4 427L620.5 425L624.3 421L624.3 419L625.7 416L630 414.9L633 413.1L636 413.7L636 415.4L633 415.4L632.3 417L630.4 419L628.3 420L626.2 422L628.5 424L625 424.1L624 424.6L624.5 427ZM856 415.3L854.2 415L854.2 414L857 414ZM561 422.2L560 422.3L557.2 421L557 419.9L558.5 419L558 418.7L554 418.6L552.2 418L556 415.7L564 415.4L568 414L568.4 415L567.1 416L559.3 420L560.9 421ZM648 420.1L646.9 420L647.5 416L649 414.8L650.8 415L651.3 416L648.3 419ZM694 417L691 417L691.6 416L695 414.4L696 414.2L697.7 415ZM857 423.1L856 423.2L853.4 422L855 420.3L858 419.6L859 418L863 416.4L865 414.2L866.6 415L866.5 416L862.6 419L864 420L863.7 421L860 421.7ZM484 420.1L482 420.7L480.3 420L483 419L482 417L483 415.9L487.5 416L487 417.5L485 419.7ZM590 417.2L588.3 417L589 416L590 415.9ZM621 417.5L618.4 417L619.4 416L621 415.6L621.6 416L621.6 417ZM677 426.3L675.5 426L676.5 424L675 421.8L670.6 422L669.7 423L670.9 424L669 424.3L667.1 424L667.4 423L666 421.4L661 421.9L660.1 421L660 420L661.1 417L662 415.6L667 415.5L667.7 416L665.3 417L669 418.3L669.7 418L670.1 416L671 415.3L673 415.7L673.4 416L672.8 417L673 418L678.6 421L678.8 422L677.3 424L683 425L682 425.4L679 425.3ZM529 418L528.2 417L530 416.3L531.3 417L530 418ZM571 423.1L569 423.8L567 423.3L566.4 423L566.3 421L569.8 419L571.3 417L576 416.2L576.9 417L576.6 418L571.7 421L572.4 422ZM531 421L530.1 420L531 418.7L534.3 418L534.7 419L533.8 420ZM760 420.4L758 420.9L757 420L760 417.7L760.4 420ZM842 421.1L841 421.2L839 420.4L837.9 419L839 418.3L843 418.5L845 417.7L845.7 418L845.3 419ZM738 423.4L736 422.6L734 422.6L731.4 420L733 418.8L735 419.5L736 420L737 421.6L738 422L738.6 423ZM778 419.6L776 419.9L775.4 419L777 418L778.6 419ZM812 422.4L810 422.5L806.3 421L807 420.5L809 420.8L810.1 420L810 418.8L811 418.3L812 418.9L813.5 421ZM602 422.2L599 422.4L598.7 422L601 421.1L602 420L602.7 421ZM621 420L618 420.6L617.3 420L619 419.7ZM712 421.5L711 421.8L708 421.1L707.7 420L710.1 420L712.5 421ZM583 426.1L579 426.2L578 424.6L577 424.4L574 424.7L573.9 423L576 421.6L579 420.6L580 421L579.6 423L581 423.8L583 423.7L584 422.6L585 422.4L590 423L589 423.2L586.5 425ZM487 424L487 421.9L490 421.7L489 423.2ZM513 424.1L511 424.5L510.1 424L510.4 422L513 421.6L514.7 423ZM616 423.1L614 423.6L613.7 422L615 421.7ZM660 422.8L658 422L660 421.2L660.6 422ZM805 423.2L802.4 423L803 422L806 421.4L806.5 422ZM636 424.1L635 424.5L633.8 424L635 422.6L636 422.3L637 423ZM653 425L650 424.9L648.9 424L649.4 423L651 422.4L655.5 423L655.4 424ZM658 429.1L656.9 429L657.4 427L660 423.1L661.3 424L660.1 426L660.4 427L662 427.9L663.5 428ZM693 425.4L691 424.9L690.5 424L693 423.3L695.7 424ZM764 424.6L763 424.7L762.1 424L764 423.6ZM826 430.1L825 430.5L823 427L824.5 426L826 425.9L832 427.7L834 426.5L837 426L838 424.6L840 423.7L843.5 425L841.8 427L836 429.3L833 429ZM558 441.4L548.2 439L548.8 437L546.5 436L547 434L545.3 433L544.8 432L544.7 431L546.6 430L546.7 429L546 428L544.9 428L543 430.7L540 431.2L537.3 430L537.7 429L539.8 428L540.7 427L539 426.2L536.4 426L536 425L538 424.4L541 425.1L542 426.4L543 426.4L548 424.5L549.6 425L550 426.2L547.6 428L548 430L550 431L548.8 433L551 435L554.9 435L555.1 437L558.2 438L559 439ZM591 427.1L588.9 427L591 425L594 424.2L595.4 425L594 426.5ZM748 430L746 430.7L744 430.6L742.5 430L741 428.5L739 428.1L737 430.5L736.2 430L736.9 428L739 427.9L742 424.9L746 425.8L749 425.7L753.4 427L752.1 428L751 429.9ZM507 427.1L505 427L506 425.9L507 425.7L507.6 426ZM728 427.6L725.6 427L726.3 426L728 425.8L728.5 427ZM633 433.3L631 433.6L630 433.2L629 431L627 431.7L626 431.2L625.6 430L626.1 429L630 426.7L632 426.4L632.9 427L630 428.9L629.7 430L632.1 431L633.6 433ZM636 428.9L634.4 428L634.8 427L636.8 427ZM783 429.7L779 429.7L778.4 429L778.7 428L783 426.6L783.7 427L783.8 428L783.8 429ZM597 430L595 430.9L594.7 430L596 428.8L599 428.3L602 427L604.3 428L603.8 429L600 429.2ZM732 429.4L731 429.9L729.2 428L731 427.6L732 428.4ZM771 430.3L767.7 430L766.8 428L769 427.8L772.3 429ZM479 434.1L478 434.1L475 432L474.8 431L476.6 430L476.9 429L478 429L479.5 430L479.9 433L479.8 434ZM531 430.3L529 430.7L527.2 430L527.8 429L530 428.6L531.5 429ZM577 432L574 430.8L571 431L570 430.4L569.8 429L571 428.4L574 428.5L576 430L579.8 430L580.9 431ZM700 431.1L699 431.6L697 430.1L694 430.4L693.6 430L693.9 429L695 428.8L697 429.8L700 429.3L701 430ZM589 434L587 434.4L585.6 434L586.1 433L582.9 430L588 430L589.3 431L590.1 433ZM618 431.1L616.6 431L615.3 430L618 429.9L618.6 431ZM775 433.1L773 433.5L772.1 433L773 430.7L774 430.1L777.4 430L778 432ZM499 432.4L496.1 432L498 430.6L499 430.9L499.7 432ZM669 433.2L667.5 433L666.4 432L669 431.5L671 430.3L674 430.7L673 432.2L670 432.5ZM751 432.3L749.7 432L749.7 431L751 430.1L752.1 431L751.9 432ZM486 435.3L484.6 435L484.6 434L483.8 433L484 431.8L485 431.7L487.1 434ZM638 435.2L636.4 435L636 434L637 431.9L638.6 434ZM735 434.2L732 434.4L729.5 432L731 431.2L735 431.7L735.5 433L735.5 434ZM789 433.2L787.4 433L789 432L790.4 432ZM834 435.1L831 435.4L830.5 435L830.6 434L836 432.6L836.5 432L838 432L837.3 433L836 433.1ZM697 435.3L695 435.5L693.9 435L696.4 433L698 432.4L699.1 434ZM807 435.6L806 435.8L801.4 434L803 432.8L805.4 433L807 433.7L807.7 435ZM814 435.5L812.3 435L812.5 434L815 432.7L815.4 433L815 434.4ZM542 434.4L541 434.6L539.9 434L542 433.7L542.5 434ZM579 439L578 439.5L575.5 439L578.8 437L578 435.2L575 436.1L574.6 435L579 434.9L581 433.5L582.9 434L581.6 437L583.5 438L582 438.8L580 438.4ZM790 441L788 441.4L786.9 441L788.9 440L788.8 437L792 435.2L793 433.5L794 433.2L797 433.7L797.4 435L797 435.4L793.5 437L793.1 438L794 440L793 440.7ZM520 450.3L518 450.8L516.4 449L513 447L509.1 446L508.7 444L506 443L505 441L503 439.6L498 437.7L497.1 437L497.2 436L498 435.1L501 435.3L504 434.2L507 434.2L513 435L514 436.6L518 436.2L520 436.9L519.9 438L519 438.3L517 437.6L513 438.9L512 438.9L511.2 437L510 436.4L507 437.3L505 437.2L504.4 438L505 438.6L508 438.4L511.7 439L510.5 440L511.3 442L510.2 443L510.6 444L518 444.7L518.5 445L516.4 447L517 447.5L523 448L523.4 449ZM824 436.1L822.5 436L822.5 435L824 434.6ZM612 442L610 442.4L609.2 442L609.7 441L611 440.3L613 440.4L613.8 439L611 438.3L611.5 437L614 435.7L617.2 436L614.2 438L615.5 440ZM534 444.5L532 444.9L529.1 443L526.2 440L524 439.5L522 438L523 437.2L525 437L530 440.3L535 440.2L536.3 441L536.1 442ZM650 438.4L647 438.7L646.1 438L645.9 437L650 436.6L650.9 437L650.9 438ZM677 443.4L676 443.4L673.1 442L675.5 440L673 438.4L670.9 438L671.7 437L677 437.1L680.9 439ZM759 439.3L757 439.7L756 439.2L755.3 438L757 436.9L759 437.5L759.6 438L759.6 439ZM821 439.9L818 439.6L816.8 439L816.3 438L818 436.9L821.6 438L821.9 439ZM599 453.1L596 453.7L594.7 453L594.8 452L598 450.8L598.5 450L596.8 448L597.6 447L596.2 445L596.4 443L594 442.1L588.5 443L587.9 442L589 440L586.4 438L588 437.8L591 439L593.5 439L594.6 440L593.6 441L594 441.8L595.2 440L598 438.1L602 438.9L603 440.5L604 440.9L607.8 441L607 441.8L601 442.8L600.2 446L602.5 449L602.6 450L600 451.2ZM630 443.1L629 442.7L629.4 441L634 437.8L636 437.5L636.8 439L636 439.8L633.5 441L633 442.2ZM734 441.2L733 441.2L728.5 439L730 437.6L732 437.2L732.8 439L734.9 440ZM740 440.7L736.7 440L740 437.8L742.6 438ZM813 439.6L812 439.7L810.9 439L813 438.7L813.6 439ZM642 442L641 442L640.1 441L640.8 440L643 439.3L645.1 440ZM666 443L665 443.7L662.9 443L661.8 442L662 440.5L664.7 440L665 442ZM712 442.4L711 440.8L714.9 441ZM555 445.1L553 445.5L551.7 445L552.4 444L554 443.3L557 443.7L558 442.8L562 441.9L563.9 443L560 444.3L557 444.3ZM687 445.6L684.5 445L684.4 444L685 443L687 442.9L688 441.8L691 441.1L692 441L692.8 442L692 443.1L688.2 444ZM757 454.2L753 453.7L752.3 453L752 451L749 451.4L744 450.9L743.5 450L744.4 449L747 448.8L748.4 448L747 446.4L739 446.8L736.2 446L739.9 444L740.4 442L744 441.4L747 442.3L749 442.3L749.9 443L748.6 444L749.4 447L751 449.3L752 449.8L758 447.5L761.1 449L762 450.2L764 450.1L767.6 451L767.1 452L763 452.4L760 453.7L759 453.4ZM770 446L768.8 445L772.2 442L775 441.5L776.6 442L776.2 443L775 443.4L772 443.3L771.2 444L771 445.4ZM570 446.3L566 446.6L565.1 446L566.5 444L565.2 443L567 442.4L569 443L570.6 446ZM814 443.6L811.8 443L813 442.1L814 442.4L814.6 443ZM496 450.3L494 450.4L493.4 450L493.9 449L492 448.1L490 450.1L489 450.5L488.1 450L490 448.4L492 447.7L492.9 445L494 444.6L497 443.9L501.7 446L499 448.1L495.3 448L495.2 449L496.7 450ZM587 446.1L585 445L585 443.1L587 443.2L588 444ZM694 448.2L689 447.1L687.5 446L695 444.9L697 443.4L699 444L699.2 445L696 446.4L695 447.9ZM795 450.7L789 450L785 448L784.7 447L785.5 446L788 445.1L793 445.6L794.9 444L797 443.3L799 444.6L800 446L798 448.9ZM625 448.1L623 447.9L621.9 447L622.1 446L625.2 445L625.6 446ZM712 450.1L710 449.7L707.7 448L711 446.6L713 444.4L714 444.5L715.5 447L715.4 449ZM611 447.2L609.2 447L610 445.9L611 445.9L611.7 447ZM654 450.1L650 448L650.3 447L656.1 446L656.6 447L656 448.2ZM674 448.1L671 448.1L670.3 447L672 446.2L674.1 446L675 447ZM766 446.3L764.1 446L766 445.3L766.8 446ZM796.3 446L795 445.4L794.2 446L796 446.5ZM808 450.3L807 449.1L804 448L808 445.6L809 446L809.4 447ZM555 456.2L552 456.6L551.3 455L549.5 454L549 451.6L546.6 451L545.8 450L546.1 449L548 447.1L550 447.3L552 446.5L553 446.8L552 449.2L555 448.9L556 450L554.8 452L555.1 453L556.8 454L556.6 455ZM577 448.2L574.3 448L577 446.3L578 446.3L578 447.2ZM620 450L616.2 449L614.9 448L617 446.9L619 446.7L620.5 448L620.8 449ZM648 447.6L647 447.8L645.9 447L648 446.6L648.5 447ZM737 451.1L731 451.7L730.3 451L730.4 449L727.4 448L729 446.5L730 446.7L731.7 449L737 449.4L738 450L737.6 451ZM542 451.4L538 451.3L537.8 449L541 448.5L542.8 449L543.9 450ZM656 455.1L654 455.2L652.9 454L654 452.7L657 452.7L657.7 451L657.3 449L660 448.6L661.7 449L662.2 450L660.1 453L658 453.2ZM704 454.2L702 454.7L700 453L699.4 452L700.3 450L705 450.1L706.1 452L706.1 453ZM679 452L675.9 452L677 450.8L678.4 451ZM517 453.2L515.9 453L515.3 452L516 451.3L517 451.3L517.7 452L517.6 453ZM596 459.2L590 459.5L589.2 459L589 457.9L587 457.1L584 457.6L583.4 457L583.6 456L584.7 454L587.8 452L592 451.4L592.8 452L593.1 455L593.8 456L595 456.6L598 456.1L600.3 457L601.3 458ZM772 454L770 453.5L769.7 452L771 451.5L771.8 452L772.4 453ZM779 453L777 453.5L775.4 453L775.9 452L777 451.8L778.3 452ZM517 459L514.7 458L518 455.9L521 452.9L526 452.6L526.4 453L526 454L521 456.1L518 458.9ZM607 454.3L605.8 453L607 452.1L607.8 453L607.9 454ZM794 455.1L790.5 455L791.9 454L795 453.7L797 452.8L799 453.7L801 452.6L802 452.8L802.8 454L802 454.7L796 454.4ZM724 455.2L722.9 455L722.8 454L724 453.2L725.1 454L724.9 455ZM529 461.1L527.7 460L528.5 459L533 457L533.7 456L533 455L534 454.2L535 454.9L535.1 458L531 460.6ZM569 458.3L566 458.9L565.3 458L569 454.8L570 454.8L571.1 456ZM612 455.4L611 455.7L610 455L611 454.2L612 454.2L612.4 455ZM679 456.2L678.6 455L679 454.6L680 454.3L681 455ZM741 468.1L739 468.7L737 466.4L733.8 466L731.3 464L730 463.7L726 463.3L723 465.3L721 465.9L719.1 465L718.7 464L720 460.4L725 460.8L727 460.2L734 460.7L735.6 459L735.8 457L737 456.2L739 456.3L741.6 455L745 454.5L746.4 456L744.9 458L745.2 459L742 461.5L738.1 463L740 463.9L740.6 465L742.1 466L742.2 467ZM766 458.2L763.9 457L764.4 456L768 454.9L769.5 456L769.2 457ZM681 463L675 463.8L673.7 460L674.7 458L673 456.9L672 457L669 459.4L667 458.9L665 459.7L664 458.9L663 458.9L664.4 460L662 461.3L656.9 459L657.6 458L664 455.1L665 455.1L665.9 456L666 457L667 457.7L671 456.6L672 455.8L678 456.4L679.5 458L685.2 460L683 462ZM749 456.6L748 457L747.3 456L749 455.4L749.4 456ZM720 458.1L717.8 458L717.5 457L719 456.3L719.9 457ZM510 459.2L509.1 458L510 457.4L510.5 458ZM624 459.1L622 459.8L621.2 459L623 458ZM774 460.1L772.8 460L773.1 459L774 458.5L774.6 459ZM563 461L561 461.1L560.5 460L563.4 460ZM621 462.1L619.4 462L619.8 460L621 459.2L621.8 460L621.8 461ZM707 464.5L705 465L703 463.8L701 464L700.9 463L703 461.7L704 462.7L705 462.5L708 459.8L711.3 460ZM761 462.2L756 462.8L753.3 462L754 460.9L757 461.3L761 459.9L762 460.9L764.2 461L762 461.1ZM557 472.1L555 473L554 472.7L553.7 472L555 470L557 469.8L560 467.4L562 466.7L562.9 466L564.1 463L565.5 462L567 462.3L569 465.4L572 465.6L573 466.3L580 466.2L584 468.3L585.3 466L588 466.4L590 465.9L590.1 467L591 467.8L593 468.1L594.1 467L593.3 466L595 464.2L597 463.9L602 460.8L605 460.2L606.4 461L603 461.6L599 463.4L597.7 465L597.1 468L594 469.1L591 469.4L589 471.6L584 470.6L583 469.3L582 469L579 470.8L578 470.7L569 467.3L564.2 469L563 471L562 471.4L559 471.4ZM669 461.3L667.1 461L668 460.3L669 460.5L669.4 461ZM513 463.1L511 463.4L510.1 463L512 462L513.8 463ZM519 463.2L517 463.9L514.1 463L514.5 462L517 461.4L518.7 462L519.4 463ZM638 465.4L634 465.9L632.9 465L634.5 463L641 461.4L643 462.8L645.6 463L642 463.3ZM786 463L785 463.4L783.9 463L783.2 462L786 461.2L786.9 462ZM664 465.3L661 465.3L660.2 464L660.5 463L662 462.3L665 463L666.1 464ZM688 464.4L687 464.6L685.7 464L688 462.5L689.9 463ZM507 471L506 469.6L504 468.5L502.7 466L503.6 464L505 463.7L508 464.2L510.2 466L512 469L512 470.6L510 470.4ZM528 467L526.7 467L526.7 466L525.5 465L527 464.5L528.3 466ZM655 470.1L652.8 468L649.7 467L652 464.4L656.1 465L655.7 468L656.1 469ZM630 467.2L627.6 467L628.6 466L630 465.7L630.7 466ZM757 467.3L753.1 467L754 465.5L757.7 466ZM776 468L773 468.1L771 468.7L768.2 468L768.2 467L769 465.8L770 465.6L772 466.8L775 465.8ZM541 467.4L540 467.9L539.4 467L541 466.4ZM618 469.1L616 469.6L614.4 469L615.4 467L617 466L622.2 468L621 468.5L619 468.3ZM682 474.7L679 473.4L676 470.3L673.8 471L673.8 470L677 468.7L681 468.8L684 466.7L685.5 468L685.3 469L682.6 472L682.3 473L682.9 474ZM711 473.1L707 472.4L706.9 472L709 471.7L710.4 470L709 468L710 466.7L711.5 467L712.2 468L711.4 469L715 469.1L716 469.4L716.2 470ZM728 470L724.9 470L728 467.1L729.2 467L729.7 468ZM666 469.2L664.4 469L664.7 468L666.4 468ZM554 470.7L551.9 469L553 468.6L554 469L555 470ZM687 476.6L686 476.4L685.2 475L686 471.4L689 472.5L694 468.7L695.6 469L697 470.6L699 469.8L700.4 470L700 471L699 471.4L696 471.1L694.9 472L694 474.2L690 474.5ZM734 471L733.6 470L734 468.7L738 468.4L738.7 469L738 469.5L736 469.4ZM516 473L515 472.3L514 473.1L513.2 473L512.4 471L515 471.4L515.7 471L516 469.5L517.1 472ZM549 471.4L547.8 471L547.7 470L549 469.6L550.5 470L550 471ZM602 471.3L600 471.7L598.2 471L599 469.8L600 469.4L602 470L602.5 471ZM634 482.2L632.7 482L631.6 480L632.8 476L634 475.6L635.1 474L633.5 472L634 471.1L636 471.6L638 471.2L642 472.1L644 470.8L651 470.4L652 471L651.8 472L650 473.1L647 473.2L645 472.1L644 472.2L635 476.7L635.6 478L638 477.9L638.5 479L637.9 480ZM749 472.2L746.1 472L745.9 471L749 470.5L749.8 472ZM526 478.4L524 478.3L522.7 477L525.1 476L527 473.9L527.5 476ZM571 479L568 479.1L565.6 478L574.6 476L577 474.4L580 475.1L587 473.9L588 475L587.9 476L587 476.4L584 476.1L580 476.5L577 478.4L574 478ZM608 477.6L606.7 477L607.4 476L606.6 474L607 473.7L608.5 474L608.1 475L608.7 477ZM541 476.4L538 476L539.8 475L542.1 475L541.8 476ZM534 479.1L531.7 479L533.9 476L536 475.4L538 476L537 478.3ZM620 478.4L618.3 478L619.1 477L621.1 477L621 478ZM625 479.3L624 479.5L623.2 479L625.4 477L627.9 477ZM764 478.7L762.9 478L762.9 477L764 476.5ZM595 480.1L592.4 480L596 477.7L597.9 478L597.9 479ZM716 484.2L714 484.5L711.3 484L710.1 481L707 479.9L706 478L708 477.2L710 478.1L713 478.5L714.8 481ZM753 483.2L752 483.4L750 482.3L748 482.9L742 482.1L741 481.8L740.1 480L743 477.4L744 477.3L745 478.4L749 480.4L752 480.2L752.8 481ZM581 481.6L580 481.8L579 481.3L578 479.9L581 478.3L583.1 479L582 480.9ZM703 480.2L701.2 480L701.6 479L703 478.7ZM720 480.5L718 480.6L717.1 480L717 478.4L720.1 479L720.7 480ZM668 491.2L665.1 489L670 487.8L671.4 486L671.2 485L670.1 484L667.6 483L667.5 482L672 479.5L680 479.3L680.6 480L680.4 481L677 480.9L673.6 483L673 484L673.4 485L675.1 486L673 488.4L670 489.6ZM728 489.4L726 490L724.2 489L726 485.4L728 485.5L729.8 484L729.6 482L728.6 481L730 479.3L731 479.5L732.5 481L732.7 482L732 483.6L729.5 486ZM604 484.8L601.5 484L601.7 483L600.4 481L603 480.5L603.7 482L605.8 482ZM688 483.5L686.9 482L689 481.3L689.6 482ZM758 485.1L757 484.4L755.5 482L757 481.7L760.6 483ZM697 484.2L695.2 484L695.4 483L697 482.6L697.4 483ZM553 491.3L552 491L549 491.8L548 491.5L547.4 489L548.8 488L547 487.7L545 486.2L544.6 487L542 487.7L541.1 487L541.4 486L543 484.8L548 484.1L552 484.6L554.2 484L554.3 485L552.7 486L554.6 488L554.5 490ZM684 485.2L681 485.5L680.2 484L681 483.3L683 483.3L684.4 484L684.6 485ZM749 485.9L748 484L749 483.6L749.7 484ZM617 488.1L614 488.5L612.7 487L613.3 486L617 484.4L624.5 485L624.8 486L623 487.1L620 486L618 488ZM649 490.5L648 490.4L646.9 489L647.3 488L644 488.2L642.5 487L646 484.9L652.1 485L651.7 486L648.5 488L649.4 489ZM753 488.1L750.5 488L749.1 486L753 485.8ZM720 488.6L717 488.8L714.8 488L715.9 487L718 486.8L720.4 488ZM577 492.4L575 492L573.6 491L577 490L580 487.7L584.6 489L584 490.3L580 491.1ZM680 489.3L678.7 489L679.1 488L681 487.3L681.6 488ZM696 494.5L693.5 494L693.9 492L693.4 490L690.1 489L690.7 488L694 487.2L697 490.4L698 490.7L700.3 490L700 491L698 491.9ZM561 496.1L560 496.8L558 496.7L557 496L557 494.8L555 495.1L553.7 494L553.4 493L554 492L556 491.9L558.4 490L556.8 489L557 488.5L562 488.4L562.5 489L559.9 490L561.1 491L560.3 492L561.3 494ZM619 494L616.9 494L616.5 493L617 492.1L620 491.8L624 489.3L626 488.7L627.9 489L627.5 490L625.9 491L625.6 492L622 492.5ZM756 491.2L753.9 491L756 489L757 488.6L758.5 489L758.3 490ZM569 492.4L566 492.5L565.5 492L566.3 490L569 489.9L570.4 491ZM721 495.6L716 495.4L713 493.7L711 493.8L709.9 493L710 491.3L711 489.7L712 489.9L712.5 491L717 493.5L719 492.8L721 490.1L722 490.3L723.7 492L723.4 493ZM633 494.1L629 494.5L628.1 494L627.7 493L633 490.5L637.9 492L637.8 493ZM643 492.1L641.9 492L641.7 491L642.8 491ZM673 493.4L671 493.7L669.1 493L671 490.4L675 490.1L676.8 491L676.9 492ZM682 492.5L680 492.5L678.9 491L682 491L682.9 492ZM745 492L743.3 492L742.9 491L744 490L745 490.9ZM735 495.1L732.9 495L732 493.5L730 494.4L727.2 493L729 491.2L730 491L737 493L737.3 494ZM741 492.8L739 492.7L738.6 492L740 491.4L741.9 492ZM606 494.2L604.3 494L603.7 493L604 492.5L606.5 493L606.5 494ZM656 495.2L654.8 495L655 493.8L656.3 494ZM690 497.1L688 497.9L687 497.6L685.7 496L690.3 494L692.7 494ZM593 496.1L592 496.2L590.5 495L591 494.5L592 494.9L593.5 496ZM604 501.3L601 501.4L600.2 501L600.3 500L602 499.5L605 499.7L612 495.3L615 495.5L616.4 497L614 498.7L612 499.1L610 500.4L606 500.3ZM646 497.1L642 498L641.6 497L644 495.8ZM633 498L632 498.5L630 498.2L629.7 497L632.3 497ZM703 504.2L702.7 503L701 501.6L698.2 501L698.3 500L704 496.5L705.4 497L704.4 499L704.9 501L704.5 503ZM733 500.1L732 499.1L729 500.2L726 499.5L722 500.4L721.8 500L722 498.8L723 498.3L725 498.4L731 496.4L734.1 498ZM660 503.1L657 502.4L656.3 501L657 500.4L661.3 500L662.1 501L662.1 502ZM651 502.3L647.6 502L650 500.5L651 500.9L651.7 502ZM674 504.2L673 504.9L672 504.8L670.1 502L671 501L673.6 502L674.3 503ZM709 503L708.7 502L709.5 501L712 500.6L713.3 501L712 502.1ZM685 506.2L680 505.3L679.9 504L681 501.9L682 501.4L685 501.7L686.8 504ZM719 505.4L717 504.8L716.5 504L717 502.6L722 501.3L723.7 502L723.4 503ZM576 511L571 508.5L566 509.1L565.8 508L571 503.7L573 502.7L575 502.7L575.4 503L574.4 504L571.5 506L573 508.6L576.2 509L577 510ZM609 506.1L606.7 505L607 504L609 503.5L610.6 504L610.7 505ZM605 509L600 508.3L599.6 508L600.1 507L599.7 505L601 505.4L601.5 507L604.1 508ZM697 508.1L695.8 508L696.9 507L696.3 505L697 504.8L698 505.7L700.1 506L697.3 507ZM582 511.6L581 511L582 510L582.4 508L585 506.7L586.6 507L588 510.3L584 510.5ZM597 508.2L595 508L595.1 507L596 506.9L597.6 508ZM630 508.4L628 508.3L627.5 508L627.4 507L628 506.5L630.3 507L630.5 508ZM640 509L640 507.9L641 507.5L642.4 508ZM625 516.1L624.4 515L626.3 512L630.7 511L631 509.4L632 508.8L634 508.4L635.3 509L634.2 510L631.3 511L631.8 513ZM661 511.4L658.7 511L657.1 510L659 508.4L661 508.3L661.9 509L661.8 511ZM703 510.2L701.2 510L701 508.4L703 508.3L703.7 509ZM613 519.3L611 519.6L608 518.6L606 519L605.6 518L609.5 515L608.3 513L617 509.2L619 509.5L619.6 511L622.9 513L620 514.2L614 514.3L613.1 515L613.1 516L617 516.1L620.3 517L619 518.3L615 518.4ZM648 514.1L644 514.9L642.8 514L642.7 513L643.8 512L647 511.7L648 512L648.6 513ZM694 514.8L691.6 514L691 513L691.4 512L693 511.7L695 512.4L695.5 513ZM570 525.2L569 525L568.1 524L569 522.3L571 522.3L573 520.8L576 521.6L578 520.4L580 520.6L580.9 519L583 518L583.8 517L584 516L583.4 515L584 514.4L587 515.6L589 515.5L591 513.6L594 513L594.3 514L592 515L588.7 518L589 519.2L591.6 521L591 521.7L586 522.5L582 521.3L579 523.3L573 523.7ZM680 517.6L675 516L674.4 515L676 513.4L678 512.9L682 513L682.2 514L680.4 516ZM716 515.2L714 515.9L713.5 514L714 512.8L716 512.5L717 513L717.2 514ZM642 518.5L641 518.5L640.8 518L641 517L642 516.5L643 517L642.9 518ZM669 519.1L667.2 519L667.3 518L668 517.6ZM569 520.2L568 520.3L567 519.4L565.3 519L569 518L569.7 519ZM597 526.2L593 526.3L591 525L588.9 525L593 524.5L593.8 524L594 522.8L596.5 521L598 519L601 518.7L601.7 520L601.2 521L599.3 523L597.4 524ZM693 522.3L692.3 522L692.3 521L695 519.2L696 518.9L698.3 520L697.9 521ZM649 524.3L646.9 524L649.3 521L652 519.5L653 519.2L655 519.8L657 519.2L658.2 520L657 521L655 521.4ZM671 523.2L667.9 522L671 520.3L672.1 521ZM610 524.3L607 524.6L605.9 524L606 523L607 522.3L608 522.6L610 523.4L610.5 524ZM683 524.1L680.8 524L682 522.8ZM644 530.2L643 530.3L639.2 529L640.5 527L640.4 526L642 524.9L645.9 525L645.6 528ZM675 530.3L673.4 530L671.7 528L673 526.4L675 525.7L676 524.4L678 524.3L678.6 525L678.1 526L678.4 527L681.1 528L676 529.1ZM609 532.2L608 531.5L607.5 529L609 527.2L610 526.8L611.4 528ZM628 532.3L627.3 532L627.5 531L630 528.6L634 528L635.4 529L632 531.2ZM646 535L644 535.3L643.7 534L646 532.8L647.9 533ZM669 535.4L667.7 535L669 533.9L671.3 533L671.1 534ZM637 538.4L631 537.7L629.9 536L630 534.7L630.5 534L631.7 534L632.9 536L634 536.4L635 536L635.2 535L639 534.4L639.7 535L637.6 537L637.6 538ZM618 538.3L615 538.4L612 537L615 535.4L617.3 535L618.7 536L619 537ZM593 539.1L592 539.8L589.8 539L591 536.5L596 535.4L596.8 536L595.1 538ZM612 546L610.5 546L610.5 545L608.9 542L609.8 541L614 539.6L616 539.6L616.5 540L615 540.7L613.6 543L615 543.9L617 542.7L621 542.3L621.9 541L624 540.4L626 538.7L627.5 539L627.1 541L627.7 542L626 543.8L623 543.1L622 543.5L621 545.2L615 544.9ZM644 540.2L643.3 540L643.9 539L645.4 539ZM585 540.3L584 540.8L583 540L585 539.3ZM606 544.1L605 544.4L603.9 543L605 542.5L606 542.9ZM638 549L636 549.2L635 548L636 546.4L638 545.5L638.8 546ZM609 548L607.3 547L608 546.4L609.5 547Z"/><path fill-rule="evenodd" fill="#2c0b02" d="M724 349.2L722.2 349L721.9 348L723 346.8L725 346.3L726.6 348ZM705 353.1L704 353.4L702.7 353L703 351.5L704 351.3ZM715 356L713 356.4L711.4 356L709.9 354L710.1 353L711 352.7L714.8 354L715.3 355ZM684 356.8L682.3 355L685 353.9L685 355.8ZM766 356.6L764 356.3L763.4 355L765 354.3L766 354.7ZM767 358.1L765.5 358L767 356.9L767.4 357ZM762 359.1L760 359.9L758.5 359L760 357.9L761 357.9ZM689 361.3L687 361.3L686.8 360L688.8 359L690.5 359L690.4 360ZM737 360.1L735.4 360L736.1 359L739 358.1L739.8 359ZM744 361.4L742.7 360L745 358.6L745.9 360ZM779 361.6L777 361.6L776 361L776 359.6L777 359.3L779.9 361ZM730 362L728 362.5L725.6 362L726 361.5L728 361.4ZM662 367.2L660 366.2L657 366L655.6 365L657.1 363L658 362.6L659 362.9L659 364L660 365.6L662.3 366ZM701 365L700 364.5L700.2 363L702 362.4L703.5 363L703 364.4ZM682 366.1L681 366.4L679.4 366L681 364.9ZM768 366.1L766 366L765.2 365L766 364.1L767 364.3L768.6 366ZM633 369.6L630 369L631 367.6L633 367L633.9 368L633.9 369ZM752 369.1L751 369.5L748.2 369L749 367.7L751 367.5L752.2 368ZM806 370.5L805 370.7L803.5 370L803.7 369L805 368.1L806 368.8L806.4 370ZM821 369.1L819 369.8L818.6 369L820 368.4ZM796 371.3L795 371L794.7 370L796 369.1L797 371ZM634 373.3L630.6 373L631.3 372L634 370.9L635.3 372L635 373ZM614 374L612 374.8L608.1 373L612.9 372L614.3 373ZM853 374.1L851.6 374L853 372.7L854.8 373ZM809 376.1L807 375.5L806.6 375L806.9 374L811 373.4L812.4 374L810 375.9ZM671 378.4L670 378.6L668.6 377L669.9 375L674.5 375L675.5 377ZM716 377L711.8 376L712.7 375L715 374.1L717.1 375L717 376.4ZM785 377.2L782 376.3L781.7 375L783 374.2L785 374.4L785.8 376ZM595 378L593.6 377L594 375.2L595 375.3L595.3 376L595.5 377ZM754 391.4L753.1 391L752 389L749 390.4L747.9 389L748.1 388L750 386.4L754 385.7L754.9 384L754.2 383L748 382L739 382L734 380L737 379.5L740 380.4L743 379.5L744.9 378L742.1 376L744 375.3L746 375.8L749 378.1L753.8 379L756 381.7L758.2 383L758.7 384L758 385.6L756.7 386L755 390.9ZM766 378.3L763.2 378L767 375.5L767.9 377ZM797 377.2L794.8 377L797 375.3L798.8 376ZM686 378.1L684.7 378L686 377L687.1 377ZM666 379.5L664.4 379L667 377.3L667.5 378ZM708 379.7L705.7 379L708.3 378L708.9 379ZM821 381.8L818 381.1L816.9 379L817.1 378L819 377.9L822.3 379L822.9 380ZM840 381.1L839 381.4L838 380.8L836.1 378L841 377.5L843.3 379L842.5 380ZM590 381.4L589 381.7L588 380.8L587.5 380L587.8 379L591 378.3L592 378.7L591.7 380ZM588 387.1L587 387.3L585.6 386L586 385L587.7 384L588 382.9L589.3 385L588.2 386ZM620 388.3L617 388.4L616.3 388L617.5 387L617.1 385L618.2 384L621.4 384L622.1 385ZM647 386.3L645 386.3L643.8 385L645 384L648 384.1L650 383L650.2 385ZM556 385.4L552.4 385L556.6 385ZM575 386.1L572.9 385L575 384.5L576.5 385L576 386ZM839 388.3L838 388.7L837.4 388L837 386L838 385L840 385.2L841.2 386ZM553 389.4L550 389.7L549.3 389L551 387.8L552 387.8L553.6 389ZM795 392.1L791 392.4L790.6 392L793 390.3L798.9 390L799.7 388L802 387.4L803 387.5L804 389L803.8 390L802 391.3L797 391.4ZM812 390L809 390.4L807.1 390L807.4 389L811 387.3L812.6 389ZM536 393.1L534 391.2L531 391.2L529 392.5L527.4 391L530.6 389L532 389.9L537 390L539 392ZM598 389.7L594.8 389L598.8 389ZM545 393.1L542 393.1L540.7 392L542.3 391L545 390.4L548 391L547.8 392ZM648 391.3L644.3 391L648 390.5L648.6 391ZM764 392.1L757 392.5L755 392L755.8 391L761 390.1L763.8 391ZM635 393.2L632 393.6L630.8 393L635 391.5L636.9 392ZM826 393L824 393.6L822.3 393L825 391.5L826.6 392ZM557 395L551 395.6L550.2 395L551.2 393L557 393.4L559 392L560 392.3L560.2 393ZM720 395.1L718.3 395L717.4 394L719 393.4L720 393.7L720.5 394ZM746 395.3L744.5 395L746 393.6L746.8 395ZM789 395.2L786.8 395L788 393.3L789.3 394ZM841 396.2L839 396.4L837.7 395L838 394L842.7 395ZM573 396L570.4 396L572 395ZM769 395.2L768 395.8L766.3 395L768 394L769 394.5ZM588 396.4L585.9 396L588 395.4L588.7 396ZM478 398.3L476.9 398L476.6 397L478 396.8L478.5 398ZM473 399.1L471 399.6L469.8 399L473 397.5L474 398ZM493 398.4L491 398.9L490 398L493 397.6L493.5 398ZM499 403L494 403.5L493.2 403L498 400.5L500 398.5L502 397.8L503.2 398ZM628 401.2L625 401.3L623 400.3L621 400.4L619.1 399L619 398L620 397.3L622 397.4L623 399.3L625 400L631.2 399L631.4 400ZM711 399.3L710.3 399L710.6 398L713 397.6L713.6 398ZM727 400.3L725 400.6L722.9 400L727 397.5L728.1 398L728.4 399ZM685 400.1L682.7 400L683.1 399L685 398.4L685.9 399ZM790 399.2L788 399.5L787.2 399L789 398.5L790 398.6ZM572 403.2L569 403L570.9 400L574 399.9L575.4 401L574.7 402ZM583 402L581.7 401L584 399.3L586.2 400L586 401.1ZM640 402.4L638.8 402L639 400.8L640 399.9L641.3 401ZM680 402.1L678.4 402L678.3 401L679.3 400L681 400L681.6 401ZM734 402.3L732.7 402L733.1 401L735.2 401L734.9 402ZM845 402.3L842 402.5L840.3 402L842 401.2L845.5 401L845.8 402ZM479 405.1L476.8 405L475.9 403L478 401.7L480.9 402L481.1 403L480.7 404ZM644 403L644 401.4L646 402ZM637 405.1L635 405.3L632.1 404L637 402.9L637.4 404ZM791 404.1L789.7 404L789.1 403L791.6 403ZM800 404.2L797 405L794.8 403L796 402.2L799 402.4L800.3 403ZM829 408.1L828 406L829 405L837 402.7L838 402.8L839 404L838.9 405L838 406.3L832 406ZM601 406L599 407L597.6 406L598.2 405L601 403.7L604.9 404L603.8 405ZM773 406.1L770 406.1L768.9 405L770.3 404L773 404L774 405ZM815 405.2L814 405L814.1 404L815 403.6L817.1 404ZM758 405.4L756.5 405L758 404.1L758.8 405ZM524 407.1L521 407.8L519.6 407L519.4 406L521 405.3L524 405.4ZM665 407.1L663.8 407L663 406L664 405.6L665.7 406L665.6 407ZM695 407.3L694 407.7L690.8 407L692 405.8L695 405.6L696.1 406ZM762 407.7L760.9 406L763 405.5L763.4 406ZM513 408L511 408.5L509.1 408L509.7 407L512 406.5L513.3 407ZM573 408L572 406.9L574.3 407ZM620 409.4L619 409.8L617.7 409L619.5 408ZM783 409.3L782 409.6L780.8 408L782 407.4L784.3 408L783.8 409ZM719 410.1L717 410.4L716.5 410L718 408.7L720.1 409ZM730 413.3L729 413.8L727 412.5L725 413.7L723.5 413L724.5 412L728 411.5L730 408.6L731 408.1L733 409.7L735 409.3L735.8 410ZM806 412.7L805 412L808 408L810.4 409L811 410L807 411.6ZM539 411.4L538 411.6L536.8 411L538 409.6L540 409.5L540.5 410ZM508 416.2L506 416.9L503 414.6L501 415.2L500.8 414L499.3 413L502 410.8L505 410.6L506.1 411L506.5 412L506.4 414L508 415.1L508.4 416ZM782 414.5L781 414.9L779 414.1L779.9 412L779.6 411L781 410.7L782 411.9L782.6 413ZM480 412.1L476.9 412L479 411.3ZM496 414.1L494.6 414L494 413.2L494.7 412L496 411.9L498.8 413ZM517 413.4L516 413.6L515.2 413L516.2 412L518 411.5L518.2 412ZM615 415.3L613.9 415L613.1 414L613.4 413L617 411.3L619 411.7L619.5 413ZM707 417.1L704 417.8L703 417.2L702.3 413L705 411.4L705.5 412L705.3 414L704.6 415L705 415.4L707 415.7L709 413.5L710 413.3L711.7 415ZM830 414.3L827.6 413L828.3 412L830 411.6L831.1 412L831 413.4ZM588 413.2L585.9 413L588 412.1ZM792 419.4L788.7 419L790.6 418L790.1 416L791.4 414L795 412.3L801 414L801.4 415L801 416L800 416.7L795 415.9L792.3 417ZM822 417.2L821 417.6L820 417.2L819.6 417L819.8 416L821.7 414L824.1 414L822 416ZM563 418.1L560 418.9L558 417.5L556 418.3L553.8 418L556 416L558 416.7L561 415.8L565 415.8L566 414.8L567.5 415L565 416.2ZM584 416.4L582 416.6L581.4 416L584 414.9L584.9 416ZM695 416L693.3 416L695 414.9L696.2 415ZM627 420.6L626 421L625.2 420L626.5 419L626.7 417L627.4 416L630 415.4L631.8 416L631.6 417ZM649 417.3L648.5 417L648.6 416L650 415.7L650 416.4ZM485 418L484 418L482.8 417L484 416.3L486 416.8ZM573 419.3L572 419.8L570.9 418L572 417.3L574 417.2L574.7 418ZM675 421L668 421.4L665 420.5L663 421.1L662 421L661.1 420L662 417L663 417L665 418.5L667 418.2L669 418.9L670 418.8L671 417L672 417.3L672.2 418L675.3 420ZM533 420L530.9 420L533 418.8ZM703 420.3L702.3 420L702 419L703 418.6L703.5 419ZM842 420.6L840 420.5L839.2 420L839.4 419L842.3 419L842.9 420ZM824 421.6L822 421.5L821.3 421L821 419.8L822 419.3L824 420.3L824.7 421ZM858 422.1L856 422.7L854.5 422L855 421L856 420.4L858 420.3L860 419L863.4 420L863 421L860 421.3ZM570 423.2L567.4 423L567 421.6L568 420.8L570 421.5L570.8 422ZM812 422.1L809.9 422L811 420.3L812 420.3L812.8 421ZM512 424.1L510.9 424L510.5 423L511.1 422L512.7 422L513.6 423ZM585 425.3L580 425.8L578.8 424L576 423.8L575.3 423L576 422L579 421.3L579.1 423L580 423.9L583 424.2L585 423.3L586.7 424ZM653 424.5L651 424.6L649.6 424L650.1 423L652 422.7L653.5 423L653.8 424ZM542 430.1L538.7 430L539 429L546 425.6L548 425L549.5 426L547 427.6L545 427.3ZM593 426.3L590.6 426L593.2 425L594 426ZM623 427.9L621.6 425L622 424.6L623 424.8L623.4 426ZM840 427L838.4 427L838 426L838.7 425L840 424.3L842.3 425ZM746 430.3L743 429.8L740 427L742 425.3L751 427.1L751.4 428L751 429ZM783 429.2L781 429.5L779.1 429L779.4 428L783 427L783.4 428ZM827 429.2L825 429.2L825 427.3L827 427.6L827.7 429ZM830 429.2L828.4 429L830 427.9L830.9 429ZM837 428.1L835 429L833.9 428L836 427.2ZM574 430.2L572 430.5L570.7 430L571.1 429L573 428.9L574 429L574.8 430ZM629 429.5L628 429.8L626.8 429L629 428.1L629.4 429ZM478 433.6L476 433.1L475 432L475.7 431L478 430.4L479.1 432L478.9 433ZM548 432.3L546.4 432L546.9 431L548 431.6ZM579 431.1L577 431.5L575.8 431L578 430.6ZM589 433.1L588 433.7L587 433.7L584.7 431L588 430.5L589.2 432ZM673 431.3L672 432L670.7 431L673 430.8ZM776 432.2L774 433L773.1 432L774 430.8L775 430.6L776.7 431L776.5 432ZM734 434.1L732 434L731 432L734 432.3L734.7 433ZM796 435.4L794 435.8L793.1 435L793.2 434L794 433.6L796.5 434L796.8 435ZM806 435.2L804 434L806 433.9L806.8 435ZM832 435L831.5 434L834.2 434ZM508 436.3L504 436.6L502.4 436L502.9 435L504 434.6L507 434.6L508.6 435ZM503 438.4L501 438.2L498 437L497.9 436L499 435.5L500.9 436L503.3 438ZM512 436.7L510.3 436L512 435.2L512.7 436ZM557 440.4L552.2 439L550.3 437L550.7 436L554 435.1L555 437.6L557.3 438L557.9 439ZM792 440.1L791 439.8L789.5 438L792 436.5L792.6 437L792.7 440ZM526 439.3L524.4 439L523.2 438L525 437.4L526 438L526.4 439ZM636 439.2L634 439.9L633.1 439L635 437.9L636 438.2ZM678 440.2L677 440.2L673.4 438L676 437.6L677.7 438L679.2 439ZM731 439.2L729.3 439L730 438L731 437.6L731.7 438L731.6 439ZM820 439.3L818 439.1L817 438L818 437.5L820.3 438L820.7 439ZM510 442.4L509 442.9L507 442.6L506 441L504.6 440L506 439.1L509 439.5L510.5 442ZM602 441.4L599 441.4L597.2 440L598 439.1L601 439.4L602.5 441ZM643 441.3L642 441.7L640.5 441L641.4 440L643 439.6L644 440ZM533 444.2L530 443L527.8 441L528 440.4L531 441L534 440.5L535.7 441L535.6 442ZM632 442.3L630 442.5L629.5 442L630 441L632 440.2L632.7 441ZM677 442.1L676 442.7L674.3 442L676 441L677 441.2ZM775 443L773.5 443L773.2 442L775.4 442ZM601 450.4L600 450.6L598 448.6L597.6 448L598.7 447L596.6 445L597 443.5L599 442.6L600.1 445L599.2 446L599.5 447L601.8 450ZM743 446.3L740.1 446L739.7 445L741 443.4L743 442.3L749 443L747.5 444L747 445.8L745 445.3ZM698 445.2L697 445.5L696 445L697 443.9L698 444.1ZM498 447L496 447.2L494 446.6L493.5 446L493.8 445L497 444.3L500.2 446ZM516 448L515 448.1L513 446.6L510 446L509.5 445L511 444.4L517.6 445L515.6 446L515.4 447ZM569 446.2L567.1 446L568 444.1L569 445L569.4 446ZM794 450.2L790 449.8L789 447.8L787 448.2L785.3 447L788 445.7L796 447.4L797 446.4L797 444.7L799 445.4L799.5 446L799 447.2ZM624 447.5L622.7 447L624 446L624.5 447ZM694 447.5L692.3 447L692.2 446L695.1 446L694.8 447ZM714 449L711 449.6L708.7 448L713 445.8L714 446.1L714.3 447L714.6 448ZM807 448.2L805.9 448L807 446.8L808 446.5L808.7 447ZM521 449.3L519 450L517.3 449L518 448.1L519 448L522 449ZM554 456.3L552.3 456L550.4 454L549 450.3L547 450L548 448.4L550 448.1L550.1 450L555.2 450L554.1 452L555.8 454L555.9 455ZM620 449L618 449.2L616 448L619 447.4ZM541 451.1L539.8 450L540 449L541.4 449L543.1 450ZM750 450.6L748 451L744.6 450L749 448.3L750.8 450ZM757 453.6L754 453.5L753 453L752.9 452L753.6 450L758 448L760.8 450L760.7 451L763.6 452L760 452.6L759.8 451L757 450.2L756.3 451L757.8 453ZM660 452.4L658.2 452L658.4 450L659 449.5L660 449.3L661.3 450ZM733 451.2L731 451.1L731 449.8L737.2 450L735 450.2ZM703 454.1L701 453.3L700 452L701 450.7L702 450.4L704.6 451L705 453ZM589 457.1L585 456.1L584.6 455L589 452.1L591 452.1L592 453L591.7 454L589.8 455ZM598 453.2L596 453.1L595.9 452L598 451.6L598.5 452ZM522 455.2L520 455L520.5 454L522 453.2L523.7 454ZM655 455L653.5 454L654 453.5L655 453.3L655.9 454ZM741 467.7L739 467.7L737 465.6L734 465.5L732.3 464L727.8 463L727.3 462L729 461L734 461.3L736 459.7L739 458.9L740.5 457L743 455.2L744.9 455L745.4 456L743.8 457L743.4 458L744 459L741.9 461L739 462.4L736 462.3L735 463L737 464.6L739 464.7L741.5 466L741.8 467ZM568 458.2L566 458L569 455.6L570 455.6L570.3 456ZM663 460.3L661 460L659.9 458L663 455.6L665 455.6L665.5 457L666.5 458L665 459L663 458.9L663.4 460ZM768 457L766 457.6L764.8 457L765.3 456L767 455.3L768.8 456ZM517 458L516.9 457L519 456.9L518 457.9ZM595 459.1L593 458.7L590.3 459L589.8 458L590 457.4L593 456.1L595 457L597 456.6L598.4 457L598.5 458ZM531 460.3L529 460.7L528.3 460L530 458.4L534 457.6ZM670 458.4L667.8 458L670 457.2L670.6 458ZM677 463L675 461.2L674.5 460L677 457.2L679 458.7L681 458.7L683.2 460L683.4 461L682 462.3ZM709 461.4L708 461.6L707.5 461L708.7 460L709.8 460L710 461ZM722 465.2L720.2 465L719.9 464L720.2 462L721 460.7L722.9 461L725.4 463ZM757 462.2L754 462L755 460.8L757.5 462ZM518 463.3L515.5 463L516 462.1L517 461.9L518 462.3L518.4 463ZM706 464.1L705.4 464L705.8 463L707 462L707.2 463ZM568 466.6L567 466.9L564.7 466L564.5 465L566 462.7L567 463.2L567.4 465L568.8 466ZM637 465.1L633.8 465L634.2 464L635.7 463L641 462.4L641.3 463L639.9 464ZM664 465L662 465.3L660.8 464L662 462.9L664 462.9L664.9 464ZM510 470L507 470.7L506.6 470L507 469.2L508.5 468L508 467.4L506 467.5L505.5 468L506.6 469L506 469.2L504 468.4L503.4 467L504 465.1L506 464.4L508 464.9L510.7 468ZM596 467.8L593.9 466L595 464.7L596 464.6L597 465.6L596.9 467ZM654 467.6L651.5 467L651.4 466L652.2 465L654.2 465L655 465.8L654.9 467ZM562 471.1L557 471.4L556.3 471L560 468L564 466.3L565.1 468L563.3 469L563.2 470ZM578 470.2L572 468.1L571.1 467L579 466.4L581 466.9L582.4 468ZM588 471.1L584.3 470L584.2 469L586 467L588 467.1L589.8 469L589 470.8ZM771 468L769.9 468L768.9 467L770 466.4L771.2 467ZM681 473.6L679.2 473L676.7 470L676.6 469L681 469.4L684 467.4L685 468L684.6 469L682 471.6ZM601 471.2L599.1 471L600 469.8L601 470L601.5 471ZM693 474L691 474L690.9 472L693 469.6L694 469.1L695 469.3L695.5 470L695.2 471ZM711 472.6L709.4 472L711 470.3L714 469.7L715.4 470ZM651 472.2L648 472.8L646.3 472L647 471.1L650 470.9L651 471.3ZM556 472.2L554.4 472L556 471.2L556.5 472ZM639 474.3L637 474.8L636 474.2L635.7 473L636 472.5L639 471.9L641.6 473ZM687 476L686 475.8L685.6 475L686 473.9L687 473.1L689.5 474ZM582 476.1L581 476L581.9 475L583.6 475ZM587 475.9L585.4 475L587 474.7ZM578 477.1L576 477.4L572.4 477L575 476.7L577 475.3L580.6 476ZM525 478L524.3 477L526 476.6L526 477.3ZM709 479.1L707 478L709 477.9ZM748 482.3L742 481.6L741 481.1L740.6 480L744 477.9L749 480.5L751.9 481ZM581 481.1L579.4 481L579 480L581 478.8L582 478.8L582.2 480ZM635 481.1L634 481.6L632.2 480L633 478.3L634 478L637.4 479ZM714 484.1L711.6 483L710.9 481L709.2 480L710 479.1L712 479L713 479.9L714.8 484ZM672 483L670 482.9L668.7 482L673 479.8L678.6 480L676 480.3L674 482.4ZM758 484.9L757.2 483L758 482.8L758.7 483ZM550 491.1L548.5 491L548.4 490L549.8 488L547 486.4L547.2 485L551 485.2L553.7 488L553.9 490L553 490.5L551 490.4ZM615 488.2L613.8 488L613.3 487L614 486.2L617 484.8L618.6 485L618.9 486L618 487.5ZM543 487.2L541.7 487L542 486.2L543.3 486ZM647 487.2L645 487.7L643.6 487L646 485.5L648.9 486ZM672 488L672 486.8L673.2 486L673.1 487ZM727 489.3L724.8 489L726 487L727 487.2L727.7 488ZM578 491.4L576 491.7L574.6 491L577 490.5L580 488.4L582.8 489L583 490ZM626 490.3L624.2 490L626 489.4L626.9 490ZM672 493.2L670.2 493L671.5 491L675 490.9L676.1 492ZM697 492.2L696 492.7L694.6 491L695 490.3L696.9 491ZM560 496.1L558.1 496L558.6 495L557 493.6L556 493.1L555 493.7L554.6 493L556 492.9L558 491.7L559 492L560.7 494ZM630 494L629 493.9L628.7 493L631 492.7L633 491.2L634.7 492L634 493L631 493.3ZM713 493.1L711 493.1L710.9 492L712 491.6L712.8 492L713.7 493ZM721 495.1L720 495.5L717.5 495L721 491.3L722 491.3L722.7 492L722.7 493ZM730 493.4L728.3 493L729 492L730 491.6L732.3 492ZM619 493.4L618 493.6L617.1 493L618 492.3L619.7 493ZM736 494.1L734 494.7L733.3 494L733.3 493L735.5 493ZM610 500.1L608.1 500L606.7 499L610 497.6L612 496L615 496.4L615.3 497L612 498.2ZM703 503.2L701 501.5L698.7 501L699 499.9L703 497.7L704.5 500L704 502.1ZM730 499.1L729 499.7L726.3 499L731 497.5L732.7 498L731 498.3ZM604 500.5L602 500.8L601.3 500L604.8 500ZM660 502.1L658 502.3L657.3 502L657.1 501L661 500.7L661 501.6ZM685 505.3L684 505.4L682 504.3L681 504.8L680.7 503L682 501.9L684.1 502L686 504ZM573 504.4L572 504.6L571.2 504L573 503L574.5 503ZM720 504.4L718 504.8L717.2 504L717.6 503L719 502.7L720.3 503L720.5 504ZM610 505.1L609 505.6L607.4 505L607.8 504L609 503.8L609.8 504ZM569 508.1L567 508L568 506.7L570 506L571.6 507L571 507.8ZM587 510.1L583.8 510L583.2 509L583.5 508L585 507.4L586 507.7ZM661 510.5L660 510.8L657.9 510L659 508.9L661 508.7L661.4 509ZM611 519L608.6 518L607.7 517L610.7 515L609.2 514L609 512.9L617 509.6L618.7 510L619 511.6L621.5 513L620 513.6L614 513.3L611.5 515L611.3 516L612 516.7L618.1 517L615 517.3L614.3 518ZM628 514.5L627 514.6L626.1 514L627 512.2L630.8 512L630.5 513ZM646 514.2L644 514.4L643.5 514L643.8 513L646 512.3L647.5 513ZM694 514.1L692.6 514L691.4 513L692 512.2L694 512.4L694.8 513ZM717 514.1L716 514.8L715 514.3L714.5 514L714.8 513L717 513ZM680 515.6L677 515.9L675.4 515L676 513.8L680 513.2L681.5 514ZM586 522L583 520.2L581.5 520L581.7 519L583.7 518L585 516.1L588 516.4L588.8 517L588.1 519L588.5 521ZM595 526.1L594.4 526L593.9 525L594.7 524L594.7 523L598 519.8L600 519L601 520L600.5 521L598 522.4L595.6 525L595.8 526ZM650 523.4L649 523.5L648.6 523L652 520.2L653.2 520L654.6 521L653 522.3ZM693 522.1L692.8 521L694 520.4L695 520.2L695.8 521L695 521.9ZM574 523L571.1 523L572 522.9L573 521.8L574.3 522ZM579 522.6L578 523L576.5 522L578 521.3L580 522ZM570 524.6L568.5 524L570.3 523L571 524ZM643 529.7L641.3 529L641.9 528L641.9 526L644 525.4L644.6 527L643.9 529ZM674 529.3L672.5 528L673 527L674.8 527L674.6 529ZM609 530.4L608.2 529L610 527.4L611 528ZM631 531.2L628.6 531L630 529.3L632.3 529L633 530ZM646 534.2L645 535L644.3 534L646 533.7ZM637 536.6L636.2 536L636.9 535L638.5 535ZM618 537.2L613.9 537L616 535.5L617.7 536ZM592 539.3L590.7 539L591.2 537L595 536.2L594.6 538ZM613 545.2L612 545.3L610.4 544L611 541L613 540.5L613.8 541L612.8 543L613.5 545ZM626 542.1L625 542.6L622.3 542L622.7 541L625 540.1L625.9 541ZM621 544.1L618 544.8L615.9 544L618 543ZM638 548.6L635.7 548L637 546.3L638 546.2L638.5 547Z"/><path fill-rule="evenodd" fill="#ee9550" d="M716 349.2L714.9 349L715 345.9L716.1 348ZM687 354.4L686 354.7L684.7 354L685.6 353L687 352.9L687.4 353ZM700 354.3L699 352.9L700.3 353ZM695 356.5L694 355.8L695 355.3L695.8 356ZM723 360.2L720 360.4L718 359.9L716.6 359L718 357.5L722 357.7L724 356.5L726 357L726.3 358L724 358.6ZM701 358.4L699 358.7L697.9 358L700 357.3L702 358ZM690 363L688.4 363L689.8 362L691.1 362ZM684 365L682.4 364L684 363.7ZM636 367.4L634 367L634 365.7L636.2 365L637.1 366L636.9 367ZM663 366.2L662 366.6L661.4 366L661.9 365L663 364.8L663.4 365ZM799 367.3L798 367.6L797.1 367L798.9 365L800.4 365L801.4 366ZM640 373.1L638.8 373L638 371L642 370.7L644 368.6L647.2 368L647.8 369L646 370.7L642 371.4ZM693 368.1L692 368.5L690 368L692 367.3L693 367.6ZM713 370.3L711 370L713 369.6L713.4 370ZM733 371.2L732 371.5L730.5 371L731 369.6L733 369.6L733.4 370ZM624 372L623 371.7L623 370.6L624.6 371ZM663 371.4L662 371.5L661.6 371L663 370.4L663.6 371ZM760 371.7L757.8 371L759 370.3L760 370.6L760.4 371ZM647 379.1L646.2 378L648.2 376L647.9 375L648.6 372L650 371.4L651 371.6L652.2 373L652.7 375L651 377.9ZM780 373.2L778 373L780 372L780.6 373ZM589 374.2L587.4 374L587.6 373L589 373.6L589.4 374ZM706 374.1L703.8 374L703.6 373L706.4 373ZM797 375.6L795.7 375L795.7 374L797 373.2L797.9 374L797.8 375ZM697 376.2L695.9 376L696 375L698 375L697.7 376ZM635 378.5L633 378.7L632 378L633 376.6L635 376.6L636 377L635.9 378ZM762 378.1L761.7 377L762.8 377ZM806 379.2L804.2 378L804.7 377L806 376.7L807.2 377L807.5 378ZM787 379.2L785.4 379L785.6 378L787 377.5L787.7 378ZM721 379L719 380L718 379.8L717.3 379L720 378.3ZM842 381.2L841 381.6L840 381.1L840.1 380L841.4 380ZM865 381L863.2 381L863.3 380L865.7 380ZM578 383.1L577.1 382L577.6 381L579 380.6L580.8 381ZM584 382.4L582.6 382L584 381L584.8 382ZM817 382.1L815.7 382L816.2 381L818.4 381ZM737 384L735.5 384L735.4 383L737 382ZM843 390.4L842 390.5L840.6 389L842.7 387L842.9 386L842.1 385L842.5 384L844 383.9L844.4 385L843.3 386L844 387L846.2 388L845.5 389ZM692 387.1L690.6 386L691 384.6L692 384.4L692.8 386ZM858 385.2L857 385.6L856.7 385L858.5 385ZM856 386.2L853.3 386L855 385.3L856.9 386ZM781 388.3L779.8 388L781 387L781.5 388ZM574 389.6L573 389.8L571.8 389L572.5 388L573.8 388L574.5 389ZM602 393L600 391.6L599.1 390L599.3 389L601.6 389L604.8 391L604 392.4ZM626 390.3L623.9 390L624.7 389L625.6 389L626.8 390ZM515 390.5L513.6 390L514 389.1L515.2 390ZM644 394.6L643 394.8L638.4 392L638.9 390L640 389.7L644 391.2L646 391.4L646.7 392ZM711 391.1L710.6 390L712.4 390L712 390.8ZM759 391.1L757.9 391L756.8 390L759.5 390ZM789 390.2L787.4 390L789 389.6L790 390ZM852 392.2L850 392L849.8 391L851 390.1L852 390.1L853.1 391ZM722 394.3L720 394.7L719.5 394L720.1 393L722 392L724 391.4L725 391.7L724.4 393ZM597 393.5L595 394L594 393L595 392.2L596 392.2L597.7 393ZM735 393.2L732.7 393L734 392.3L735.7 393ZM478 396.2L476.7 396L478 395.5L479 396ZM563 397.1L561.7 397L561.8 396L563.1 396ZM846 396.3L844 396.6L843.5 396L845 395.4L846.6 396ZM653 398.2L652.4 397L654.5 397ZM826 400.4L825 400.6L820 398.5L819.3 397L827 398.7L827.3 399L826.9 400ZM540 400.2L538.5 400L538.9 399L541 399L540.6 400ZM565 401.4L564 400.9L563.5 399L564 398.4L565.5 399L565.5 401ZM628 399.1L625.7 399L627 398.6L628 398.7ZM678 399.2L675.5 399L678 398.5L678.5 399ZM704 400.2L701.2 400L701.9 399L705 398.4L705.4 399ZM591 401.6L588.8 401L591 400.3L591.8 401ZM490 404L488.9 404L488.5 403L489.5 402L491 401.5L492.2 402ZM522 402.1L520.2 402L522 401.5ZM678 404.1L677 403.7L676.5 402L678.3 402L679.5 403ZM510 403.4L508 403L509 402.4L511 403ZM616 405.8L615 405.9L612.9 405L614 403.2L616 403L617.2 404ZM634 406L632.6 406L633 404.7L635 405ZM563 409.3L560.7 408L561 406L562 405.5L563 405.6L564 407L564 408.6ZM701 406.5L699.8 406L700 405.3L701.6 406ZM843 407.4L842 406.9L841.7 406L843 405.9ZM657 411L652.3 408L655 407.6L658 406.3L658.9 407ZM739 408.4L737 408.7L735.1 407L736 406L739.8 407ZM845 408.6L843.6 408L845.8 408ZM524 410.2L523 410.7L521.6 410L522 408.9L526 408.6L527 409ZM567 412.2L566 412L566.7 410L568 410L568.7 411ZM631 411.3L629.8 411L630 409.5L631 409.9L631.4 411ZM475 412.2L471 411.8L470.9 411L474 410.5L476 411ZM742 412.3L741 412.1L741 411L742 411.2L742.4 412ZM869 413.3L867.8 412L869 411L870 412L869.7 413ZM653 416L652 416.1L650.9 415L651.5 414L654.6 414L655 415ZM751 415.8L749 415.1L747.6 414L750 413.4L751 413.9ZM777 418.4L774.4 418L774.3 417L775.8 416L773.7 414L779 413.9L782.2 415L781.6 416ZM832 416.2L831 416.7L829.7 416L831 414.8L832.1 415ZM787 419.4L786.3 418L787 416.7L789 415.7L791 415.9L791.2 417ZM753 417.1L751.7 417L752 416.3L753.5 417ZM490 419.1L488.9 419L488.9 418L490 417.5L491 418ZM624 418.3L623 418.5L622.6 418L624 417.2ZM761 421.9L759.7 421L760 420.2L761 420L761.4 421ZM574 422.1L572 422.3L571.4 421L573 420.5L575.3 421ZM590 426.1L588 426.4L586.3 425L587.9 423L587.8 422L590 421L591.4 422L590.1 424L590.7 425ZM677 422.1L675 422.8L674.3 422L675.7 421L677.7 421ZM525 423.2L523.9 423L523.5 422L526 421.5L526.6 422L526 422.9ZM617 422.1L614.9 422L616 421.3L617.4 422ZM556 424L553 423.7L552.5 423L556 422.1L557.1 423ZM839 425.1L834 425.8L832.2 425L831.9 424L833 422.9L835 422.5L837 423.5L839.9 424ZM634 426.2L631.5 426L631.8 425L634 425.7ZM550 428.4L548 428.7L546.6 428L548 426.9L550 426.6L550.6 427L550.7 428ZM608 428L606 428L607 426.2L608.5 427ZM772 429.1L770 428.8L769.9 427L772 426.6L774 428ZM763 429.8L762 429.8L761.2 429L761 427.7L762 427.3L763.9 428ZM796 430.4L793.7 429L794 428.4L795 427.9L798.1 428L797.9 429ZM720 430.4L717.8 430L718.5 429L719.7 429L720.6 430ZM497 430.1L495 430L496 429.2L497 429.4ZM749 432.2L746.5 432L747.4 431L749 430.7L749.7 431ZM812 432.4L811 432.6L809.7 432L811 431L812 431L812.4 432ZM479 432.2L478 432.7L477.5 432L479 431.6ZM523 433L521 433.4L520.1 433L520 432L523 431.6L524.5 432ZM765 434.2L762.8 433L762.7 432L764 431.9L766 432.7L766 433.6ZM777 433.1L776 433.4L774.1 433L774 432L776 431.1L777.1 432ZM807 432.4L805.1 432L806 431.2L807.9 432ZM652 434.2L650 434.2L649.2 433L652 432.4L654 433ZM545 436.1L543.8 436L544 434.8L546 433.5L547.2 434L547.1 435ZM570 436L569 436.6L566 436L565.8 435L567.3 434L570 435ZM557 436.7L555.7 436L557 434.8L557.6 435L557.9 436ZM623 437.3L621 437L619.8 436L621 434.9L623 434.7L624 437ZM787 436.2L786 436.2L785 435L786 434.6L787.8 435ZM736 436.2L735 436.8L734 436L735 435.6ZM587 439L585.2 439L585 438L586 437.2L587.6 437ZM719 437.6L718 437.7L717.4 437L719 436.5L719.8 437ZM599 439.2L598.6 439L598.6 438L600.4 438ZM628 439.4L625 439.2L624.5 439L624.5 438L628 437.3L628.6 438ZM655 439L653 439.4L651.3 439L651.8 438L653 437.8L654.5 438ZM580 440.1L578.8 439L580 438.3L580.8 439ZM740 439.4L739 439.4L738.8 439L740 438.7L740.4 439ZM833 441L831.9 441L831.5 440L832 439.8ZM503 442.2L501 442.3L500.2 441L501 440.5L503 440.7L503.5 441ZM510 442.6L509 442.8L508.2 442L508.4 441L511 440.6L511.5 441ZM561 444.1L558.6 443L560.5 441L562 440.7L563 441.6L562.9 443ZM717 443L715.5 443L719 440.4L720.3 441L720 442ZM799 443L797.1 442L799 440.8L801 440.8L801 442.2ZM643 442.3L642 443L641.1 442L643.6 442ZM781 444.5L777.7 443L779 442L782.2 442L782.4 443ZM630 444.6L629 444.9L628 444.3L628 443.6L629 442.9L630 443L630.6 444ZM777 446.1L775.4 446L774.7 444L777 443.1L777.9 445ZM677 446.2L676 446.5L674.5 446L676 444.9L677 445.3L677.4 446ZM502 448.4L500 447.9L499.1 447L499 446L500 445.4L501 445.7L502.7 448ZM670 447.2L669 447.8L668 447L668.3 446L670 445.2L670.6 446ZM801 447.5L799 447.8L798.3 447L799 445.8L801 445.3L802 446L801.9 447ZM547 448.1L545 448.7L543.4 448L546 446.1L547.7 447ZM771 448.2L768.9 448L769.3 447L771 446.1L772.8 447ZM506 451.9L505 451.9L503 448.6L504 448.1L506 448.4L507.1 450ZM602 449.1L601 449.6L600.3 449L601 448.6ZM643 451L638 450.7L637.5 449L639 448.3L643 448.7L644.3 450ZM663 449.1L662 449.5L658.2 449L659 448.5L663 448.8ZM496 452.1L495 452.1L494.9 451L496 449.7L497 450L497.1 451ZM764 452L762 452.8L761 452.4L760.2 451L761 450.2L763 450L764.1 451ZM572 452.4L570 452.8L569.2 452L570 451.6L572.8 452ZM647 455.2L645 455.2L642.3 454L645 452.4L648.1 453L648.9 454ZM556 454.2L554.8 454L556 453.4L556.7 454ZM678 455.7L675.1 455L675.1 454L677 453.6L678.9 454L678.9 455ZM700 456L699 456.4L698.1 456L700 455.5ZM551 460.4L545 460.6L543.9 460L543.7 459L545 457.5L546 457.7L547 458.6L551.6 459L551.9 460ZM762 458.2L760.6 458L761 457.6L762.7 458ZM524 461L522 460.2L523 458.5L524 458.4L525.2 459L525 460.6ZM596 460L593 459.7L592.1 459L593 458.3L595 458.3L596.4 459ZM689 460.2L687.6 460L689 459.6L689.7 460ZM553 468.4L551.9 468L551 467L551 466L552.4 462L553 461.1L554 460.7L555 461L555.4 463L554 467.3ZM582 463.6L581 463.8L580.3 463L581 461.8L582.3 462L582.5 463ZM655 462.2L654 462.8L653.5 462L654 461.6ZM695 464.1L694 464.6L692 464.4L691.5 464L691.6 463L693 462L694.4 462L695.3 463ZM634 465.4L633 465.8L631.7 465L633 464.6L634.3 465ZM533 468.4L531.1 468L533 467.5L533.7 468ZM591 469.9L588.1 469L587.4 468L590 467L591.7 469ZM632 471.1L630.5 471L629.9 470L630.7 468L632 467.5L632.4 468L631.3 470L632.4 471ZM581 470.2L579.7 470L581 469ZM712 470.1L708.6 470L711 468.2L711.8 469ZM521 473.3L519.2 473L519.2 472L521 471.7L521.4 472ZM537 473.3L535 473.2L534.6 473L535 472L537 471.3L538 472ZM598 473L597.7 472L599 471.5L599 472.6ZM742 473L740.8 473L741.6 472L742.9 472ZM663 476.7L662 476.9L660.4 475L660.9 474L662.1 474L663.6 475ZM648 476.3L646 476L647 474.8L649.3 475ZM693 477L690.8 477L690.3 476L690.8 475L693 474.2L694 474.4ZM554 479.2L552 478.7L551.3 478L551.8 477L554 477L555.5 478ZM571 478L568 478.5L566.5 478L566.6 477L571.5 477ZM620 477.2L617.6 477L619 476L620.6 477ZM606 479.5L604.5 479L605 478.1L606.3 478L606.9 479ZM661 479.9L660.4 479L661 478.6L661.7 479ZM708 483.1L706.2 482L709.7 482ZM604 487.2L603 487.5L601.6 487L603.3 484L605 482.9L605.4 484ZM538 486.1L537 486.5L536.1 486L536.2 485L539.5 484L539.4 485ZM640 488L638 487.1L638.3 486L640 485L642.1 485L642.9 486L642 487.1ZM670 486.1L667.5 486L670 484.9ZM724 486.1L722.9 486L722.6 485L723 484.5L724 484.4L724.7 485ZM679 489.5L678.4 489L678.3 488L679 487.8ZM535 490.2L534.5 489L536.1 489L535.9 490ZM632 490.3L630 491L629 490.4L628.8 489L630 488.4L632.6 489L632.9 490ZM652 492.1L650.6 492L649.7 491L650 490.5L653.3 490L653.7 491ZM617 496.6L614.6 496L613.9 495L614.1 494L614.8 492L618 490.9L618.5 491L617.5 493L618.3 495ZM583 493L582 492L583.5 492ZM672 492.3L671 493L669.8 492L671 491L672 491.2ZM721 496L720 495.4L719.7 494L721.4 494L721.7 495ZM722 498.1L721 498.8L719.8 498L721 496.1ZM593 498.5L591.5 498L593 497.9ZM687 499.4L685 500L684.1 499L684.7 498L686 497.8L687.3 499ZM692 500.6L690.5 500L692.7 500ZM577 503.2L576 502L576.1 501L578.4 501L578.7 502ZM671 506.4L669.9 506L669.9 505L668.5 503L669 502.6L670 502.4L670.7 503L670.4 504L671.4 506ZM685 507.2L684 507.6L683 507L685.6 505L686 503.9L686.4 506ZM582 507.2L581.7 506L583 505.2L586.1 505L585 506.2ZM651 506L648.9 506L650 505.5ZM603 513.1L601 513.6L597 512L598 510.5L600 509.8L601 510L599.8 511L600.4 512L603.7 513ZM641 512.1L639.3 511L639 510L640 509.2L642.2 510ZM653 511.3L651.6 511L653 509.9L653.6 511ZM666 514.6L665 514.9L663.6 514L665.3 513L665.2 512L666 511.5L668.7 511L667.5 512L668 513ZM691 513.1L689.2 512L690.5 511L692.4 511L692.4 512ZM680 516.1L678.7 516L678.8 515L680 514.8ZM664 518L663 518.6L661.7 518L663 517.4ZM686 519L685 519.5L684 519L685 518.6L686.9 519ZM684 520.3L683.1 520L684 519L684.5 520ZM580 522.1L577 522.6L575.8 522L576.7 521L578 520.7L579.6 521L580.6 522ZM619 521.2L615.7 521L618 520.6ZM671 524.3L669 524.7L667.8 524L667.7 523L669 522.5L671 522.9ZM631 525.5L630.1 525L630.2 524L631 523.2L632 523.2L632.4 524ZM672 530.4L670.2 530L672.7 530ZM627 540.2L626.4 540L627 538.7L628.9 539Z"/></g>
<g id="arrows">
<line x1="50.3" y1="135.0" x2="50.5" y2="162.2" stroke="#4472c4" stroke-width="2.0"/><polygon points="50.2,123.0 42.8,138.1 57.8,137.9" fill="#4472c4"/><polygon points="50.6,174.2 43.0,159.3 58.0,159.1" fill="#4472c4"/>
<line x1="61.4" y1="183.6" x2="169.9" y2="282.9" stroke="#4472c4" stroke-width="1.9"/><polygon points="52.0,175.0 58.7,191.3 68.9,180.3" fill="#4472c4"/><polygon points="179.3,291.5 162.4,286.2 172.6,275.2" fill="#4472c4"/>
<line x1="203.8" y1="290.3" x2="457.6" y2="161.0" stroke="#4472c4" stroke-width="1.9"/><polygon points="193.1,295.7 209.9,295.6 203.1,282.2" fill="#4472c4"/><polygon points="468.3,155.6 458.3,169.1 451.5,155.7" fill="#4472c4"/>
</g>
<g font-weight="700" fill="#000" font-size="32">
<text transform="translate(22.5,95.8) rotate(90)" textLength="92.5" lengthAdjust="spacingAndGlyphs" font-size="34">26 um</text>
<text transform="translate(52,224) rotate(40.8)" textLength="106" lengthAdjust="spacingAndGlyphs" font-size="33">117 um</text>
<text transform="translate(304.2,273.6) rotate(-26.2)" textLength="110" lengthAdjust="spacingAndGlyphs" font-size="32">195 um</text>
</g>
<g id="pie">
<circle cx="457.0" cy="290.0" r="73.4" fill="#7a4a12"/>
<clipPath id="pw0"><path d="M457.0 290.0L457.00 216.00A74.0 74.0 0 0 1 494.00 225.91Z"/></clipPath>
<path d="M457.0 290.0L457.00 216.00A74.0 74.0 0 0 1 494.00 225.91Z" fill="#19589f"/>
<g clip-path="url(#pw0)">
<path d="M457.0 290.0L457.00 216.00A74.0 74.0 0 0 1 494.00 225.91Z" fill="none" stroke="rgba(255,255,255,0.10)" stroke-width="21.5" stroke-linejoin="round"/>
<path d="M457.0 290.0L457.00 216.00A74.0 74.0 0 0 1 494.00 225.91Z" fill="none" stroke="#19589f" stroke-width="19" stroke-linejoin="round"/>
<path d="M457.0 290.0L457.00 216.00A74.0 74.0 0 0 1 494.00 225.91Z" fill="none" stroke="rgba(0,0,0,0.065)" stroke-width="19" stroke-linejoin="round"/>
</g>
<clipPath id="pw1"><path d="M457.0 290.0L494.00 225.91A74.0 74.0 0 0 1 445.42 363.09Z"/></clipPath>
<path d="M457.0 290.0L494.00 225.91A74.0 74.0 0 0 1 445.42 363.09Z" fill="#b3400e"/>
<g clip-path="url(#pw1)">
<path d="M457.0 290.0L494.00 225.91A74.0 74.0 0 0 1 445.42 363.09Z" fill="none" stroke="rgba(255,255,255,0.10)" stroke-width="21.5" stroke-linejoin="round"/>
<path d="M457.0 290.0L494.00 225.91A74.0 74.0 0 0 1 445.42 363.09Z" fill="none" stroke="#b3400e" stroke-width="19" stroke-linejoin="round"/>
<path d="M457.0 290.0L494.00 225.91A74.0 74.0 0 0 1 445.42 363.09Z" fill="none" stroke="rgba(0,0,0,0.065)" stroke-width="19" stroke-linejoin="round"/>
</g>
<clipPath id="pw2"><path d="M457.0 290.0L445.42 363.09A74.0 74.0 0 0 1 457.00 216.00Z"/></clipPath>
<path d="M457.0 290.0L445.42 363.09A74.0 74.0 0 0 1 457.00 216.00Z" fill="#1f8a14"/>
<g clip-path="url(#pw2)">
<path d="M457.0 290.0L445.42 363.09A74.0 74.0 0 0 1 457.00 216.00Z" fill="none" stroke="rgba(255,255,255,0.10)" stroke-width="21.5" stroke-linejoin="round"/>
<path d="M457.0 290.0L445.42 363.09A74.0 74.0 0 0 1 457.00 216.00Z" fill="none" stroke="#1f8a14" stroke-width="19" stroke-linejoin="round"/>
<path d="M457.0 290.0L445.42 363.09A74.0 74.0 0 0 1 457.00 216.00Z" fill="none" stroke="rgba(0,0,0,0.065)" stroke-width="19" stroke-linejoin="round"/>
</g>
<g font-weight="700" fill="#fff" font-size="25">
<text x="456.8" y="241.7" textLength="26" lengthAdjust="spacingAndGlyphs">11</text>
<text x="459.5" y="271.7">%</text>
<text x="401" y="300">48%</text>
<text x="475.5" y="309.2">41%</text>
</g></g>
<rect x="17" y="561" width="850" height="1.2" fill="#f3f3f3"/>
<g id="legend" font-size="32.5" fill="#000">
<rect x="66.0" y="601.0" width="225.7" height="67.0" fill="#fefefe" stroke="#f5f5f5" stroke-width="1"/>
<rect x="73.3" y="609.2" width="110.7" height="49.4" fill="#10569e"/>
<text x="197.3" y="643.3">Voids</text>
<rect x="348.3" y="599.0" width="225.2" height="67.0" fill="#fefefe" stroke="#f5f5f5" stroke-width="1"/>
<rect x="359.0" y="607.6" width="110.2" height="50.8" fill="#0f960d"/>
<text x="476.9" y="644.4">LCO</text>
<rect x="622.7" y="599.0" width="225.3" height="67.0" fill="#fefefe" stroke="#f5f5f5" stroke-width="1"/>
<rect x="628.3" y="606.4" width="110.9" height="51.2" fill="#b83c0c"/>
<text x="747.2" y="643.0">YZr-N</text>
</g>
</svg>
</body></html>
